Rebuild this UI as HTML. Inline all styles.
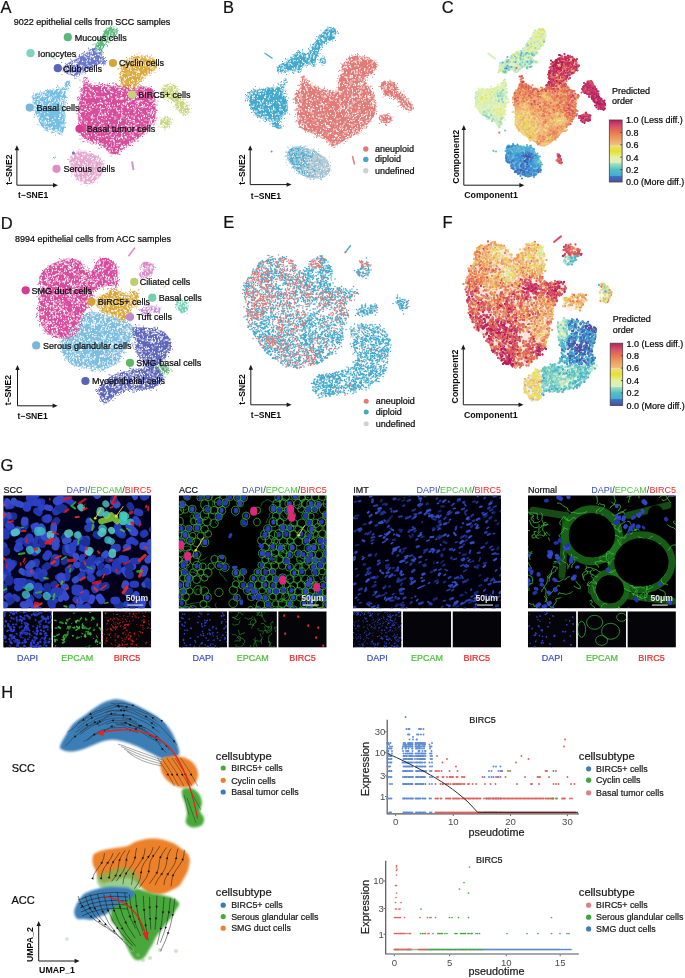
<!DOCTYPE html>
<html><head><meta charset="utf-8"><title>Figure</title>
<style>html,body{margin:0;padding:0;background:#fff;}body{width:685px;height:978px;overflow:hidden;font-family:"Liberation Sans",sans-serif;}svg{display:block;will-change:transform;}</style>
</head><body>
<svg width="685" height="978" viewBox="0 0 685 978" font-family="&quot;Liberation Sans&quot;, sans-serif"><text x="0.6" y="13.3" font-size="16.5" fill="#111" stroke="#111" stroke-width="0.22">A</text>
<text x="223" y="13" font-size="16.5" fill="#111" stroke="#111" stroke-width="0.22">B</text>
<text x="441.8" y="13.1" font-size="16.5" fill="#111" stroke="#111" stroke-width="0.22">C</text>
<text x="0.8" y="228.5" font-size="16.5" fill="#111" stroke="#111" stroke-width="0.22">D</text>
<text x="223.2" y="228.4" font-size="16.5" fill="#111" stroke="#111" stroke-width="0.22">E</text>
<text x="442.6" y="228.4" font-size="16.5" fill="#111" stroke="#111" stroke-width="0.22">F</text>
<text x="0.4" y="471" font-size="16.5" fill="#111" stroke="#111" stroke-width="0.22">G</text>
<text x="1.2" y="697.8" font-size="16.5" fill="#111" stroke="#111" stroke-width="0.22">H</text>
<path d="M106 29C107.5 27.8 110.2 27.2 112 27C113.8 26.8 116 26.7 117 27.5C118 28.3 118.3 30.5 118 32C117.7 33.5 116.5 35.2 115 36.5C113.5 37.8 110.7 38.6 109 40C107.3 41.4 106.2 43.3 105 45C103.8 46.7 103.2 48.7 102 50C100.8 51.3 99.2 52.8 98 53C96.8 53.2 95.3 52.3 95 51C94.7 49.7 95.2 47 96 45C96.8 43 98.8 40.8 100 39C101.2 37.2 102 35.7 103 34C104 32.3 104.5 30.2 106 29Z" fill="#5cba7c"/>
<path d="M63 67C63.7 65.2 67.5 63.5 70 62C72.5 60.5 75.3 59.5 78 58C80.7 56.5 83.7 54.5 86 53C88.3 51.5 90.2 49.9 92 49C93.8 48.1 95.7 47.3 97 47.5C98.3 47.7 99.2 48.6 100 50C100.8 51.4 101.3 54.2 102 56C102.7 57.8 104.5 59.7 104 61C103.5 62.3 100.8 63 99 64C97.2 65 95.2 66 93 67C90.8 68 88.2 68.8 86 70C83.8 71.2 82.2 73.1 80 74C77.8 74.9 75.3 75.7 73 75.5C70.7 75.3 67.7 74.4 66 73C64.3 71.6 62.3 68.8 63 67Z" fill="#6d78cc"/>
<path d="M99 60C99.8 59.4 103.8 60 105 60.5C106.2 61 106.8 62.4 106 63C105.2 63.6 101.2 64.5 100 64C98.8 63.5 98.2 60.6 99 60Z" fill="#6d78cc"/>
<path d="M122 64C123.2 62.2 125.3 60.3 128 59C130.7 57.7 134.7 56.3 138 56C141.3 55.7 145.2 56.3 148 57C150.8 57.7 153.5 58.5 155 60C156.5 61.5 157.7 64 157 66C156.3 68 153 70.3 151 72C149 73.7 146.8 74.3 145 76C143.2 77.7 141.3 80.2 140 82C138.7 83.8 139 86.1 137 87C135 87.9 130.5 87.8 128 87.5C125.5 87.2 123.3 86.8 122 85C120.7 83.2 120.2 79.5 120 77C119.8 74.5 120.7 72.2 121 70C121.3 67.8 120.8 65.8 122 64Z" fill="#dcaa3c"/>
<path d="M162 88C162.8 86.4 164.3 85.2 166 84.5C167.7 83.8 170.3 83.6 172 84C173.7 84.4 175 85.5 176 87C177 88.5 177.2 91 178 93C178.8 95 179.7 97.2 181 99C182.3 100.8 184.7 102.2 186 104C187.3 105.8 188.8 108.2 189 110C189.2 111.8 188.2 113.8 187 114.5C185.8 115.2 183.7 114.9 182 114C180.3 113.1 178.3 110.8 177 109C175.7 107.2 175.2 104.7 174 103C172.8 101.3 171.7 99.8 170 99C168.3 98.2 165.5 98.8 164 98C162.5 97.2 161.3 95.7 161 94C160.7 92.3 161.2 89.6 162 88Z" fill="#cad77e"/>
<path d="M160 121C160.3 119.4 162.5 118 164 117.5C165.5 117 167.9 117.1 169 118C170.1 118.9 170.8 121.3 170.5 123C170.2 124.7 168.4 127.3 167 128C165.6 128.7 163.2 128.2 162 127C160.8 125.8 159.7 122.6 160 121Z" fill="#cad77e"/>
<path d="M33 96C34.2 94.6 37.7 93.3 40 92.5C42.3 91.7 44.1 91.5 46.6 91C49.1 90.5 52.1 89.9 55 89.5C57.9 89.1 62.4 87 64.2 88.6C66 90.2 65.8 94.6 65.8 99C65.8 103.4 64.8 110.2 64.5 115C64.2 119.8 64.8 124.8 64.2 128C63.6 131.2 62.9 134 61 134.4C59.1 134.8 55.9 131.5 53 130.4C50.1 129.3 45.8 129.7 43.4 128C41 126.3 40 123 38.5 120C37 117 35.4 113.5 34.5 110.3C33.6 107.1 33.2 103.1 33 100.7C32.8 98.3 31.8 97.4 33 96Z" fill="#74bfe6"/>
<path d="M64 88.6C63.9 87.3 65.2 83.3 66 82C66.8 80.7 68.3 80.7 69 81C69.7 81.3 70.4 82.5 70 84C69.6 85.5 67.5 89.2 66.5 90C65.5 90.8 64.1 89.9 64 88.6Z" fill="#74bfe6"/>
<path d="M85 77C85.8 77.7 87.3 82.7 89 84C90.7 85.3 92.3 84.9 95 85C97.7 85.1 101.7 84.3 105 84.5C108.3 84.7 112.2 85.8 115 86C117.8 86.2 119.5 85.2 122 85.5C124.5 85.8 127 87.3 130 87.5C133 87.7 137 86.6 140 86.5C143 86.4 145.8 86.4 148 87C150.2 87.6 151.8 87.8 153 90C154.2 92.2 154.6 96.3 155 100C155.4 103.7 155.7 108.3 155.5 112C155.3 115.7 155.6 118.8 154 122C152.4 125.2 149 128 146 131C143 134 139.3 137.3 136 140C132.7 142.7 129.2 144.8 126 147C122.8 149.2 119.7 152.5 117 153.5C114.3 154.5 112.2 154.1 110 153C107.8 151.9 106.3 148.7 104 147C101.7 145.3 98.7 144.2 96 143C93.3 141.8 90.3 141.2 88 140C85.7 138.8 83.5 138 82 136C80.5 134 79.6 131.5 79 128C78.4 124.5 78.5 119.2 78.5 115C78.5 110.8 78.8 106.3 79 103C79.2 99.7 79.3 97.5 80 95C80.7 92.5 82.3 90.5 83 88C83.7 85.5 83.7 81.8 84 80C84.3 78.2 84.2 76.3 85 77Z" fill="#d84c9c"/>
<path d="M72 156C73.3 154.5 75.3 152.5 78 152C80.7 151.5 84.8 152.3 88 153C91.2 153.7 94.5 154.5 97 156C99.5 157.5 101.9 159.7 103 162C104.1 164.3 104.2 167.5 103.5 170C102.8 172.5 100.8 175 99 177C97.2 179 95.2 180.8 93 182C90.8 183.2 88.3 184.2 86 184C83.7 183.8 81 182.5 79 181C77 179.5 75.3 177.3 74 175C72.7 172.7 71.7 169.3 71 167C70.3 164.7 69.8 162.8 70 161C70.2 159.2 70.7 157.5 72 156Z" fill="#e6a7cf"/>
<path d="M115 27h0m-11.5 5.5h0m4.5-3h0m2 2.5h0m2.5-4h0m0.5 0h0m1 3h0m0-3h0m1 1h0m0-1.5h0m0.5 1h0m0-0.5h0m0.5 3h0m0 1.5h0m0.5-4.5h0m1 2h0m0 2h0m-17 7h0m1.5-1h0m0-2h0m1 1.5h0m2 0.5h0m1-3h0m0.5 3.5h0m0-0.5h0m2 1h0m0.5-2.5h0m0-1h0m0.5 0.5h0m0-2h0m1 3.5h0m0.5 0h0m0.5-1h0m0.5-3h0m0 2h0m1 2h0m2.5-4h0m0.5 0.5h0m-19 9.5h0m0.5 0.5h0m1.5-1.5h0m0-0.5h0m0.5-1.5h0m0 2h0m2.5-2h0m1.5 1.5h0m0.5-2.5h0m0.5 4h0m0-1h0m0.5 1.5h0m0.5-2h0m2.5-1.5h0m1-1h0m-19 11.5h0m1.5-0.5h0m3.5 0h0m0.5 0h0m0.5-3.5h0m0 1.5h0m0.5 2.5h0m0-2.5h0m0.5-0.5h0m0 1h0m0.5 0.5h0m0 0.5h0m0.5-1.5h0m0-0.5h0m0.5 3h0m0-0.5h0m0.5 0.5h0m0.5-4.5h0m0 4.5h0m1 0h0m1-3h0m0 3h0m0.5-4.5h0m0 0.5h0m-20 8.5h0m2.5 0.5h0m0.5-2h0m1.5 0.5h0m1.5 1h0m0-2.5h0m0.5 2h0m0-3.5h0m2 4.5h0m0.5-3h0m0-1.5h0m0.5 4.5h0m0.5 0.5h0m0.5-3h0m0-1.5h0m1 4.5h0m2-1h0m1.5-4h0m0 0.5h0m1 0h0m0 2.5h0m0.5 0h0m1-3h0m0.5 3.5h0m0.5-1h0m0 2h0m1.5 0.5h0m37.5 0h0m3.5-0.5h0m0 0.5h0m-72.5 5.5h0m1 0h0m0 1h0m0.5-1h0m1.5 1h0m0-1.5h0m1.5 1.5h0m0.5-2.5h0m0.5 1.5h0m0.5 0h0m1.5-0.5h0m0-1.5h0m0-3h0m1.5 3h0m3 1.5h0m3-4.5h0m1 1h0m0 3.5h0m1-1.5h0m2.5 1h0m0-0.5h0m0.5-2.5h0m2.5-1h0m1 2h0m0.5-0.5h0m0 1h0m3 3.5h0m2-4h0m0 1h0m0 0.5h0m1 0.5h0m0 0.5h0m0.5-1.5h0m0 2.5h0m0.5 0h0m0.5-3.5h0m0.5 1.5h0m0.5 0.5h0m1 1.5h0m0.5-3.5h0m0 3h0m0.5 0.5h0m0 0.5h0m23-2h0m0.5 0.5h0m0-2h0m1.5-0.5h0m0 3h0m0.5 1h0m0.5-2.5h0m0-1h0m1.5 1.5h0m0-3h0m0.5 1h0m0.5 2.5h0m1 1.5h0m1.5-2h0m0 0.5h0m2.5-2.5h0m0.5-0.5h0m0.5 1h0m0.5 2.5h0m0.5-4h0m0 4h0m0.5-5h0m0.5 4.5h0m0.5 1.5h0m0.5-2h0m1-3.5h0m2 5.5h0m0.5-5h0m0-0.5h0m0.5 0h0m1 1.5h0m0-1h0m0.5-1h0m0 0.5h0m0.5 1h0m1.5 0.5h0m1.5 0.5h0m0 1h0m-88 7h0m0.5-0.5h0m0.5-0.5h0m0-0.5h0m0 1h0m0.5 1.5h0m1.5-2h0m1 2h0m1-4h0m1.5 2h0m0.5 1.5h0m0-3.5h0m2.5 0h0m1 0h0m0-0.5h0m0.5-0.5h0m1 0.5h0m0 1h0m0.5-1.5h0m0 4h0m1-4h0m3.5 2h0m1 1h0m0.5-1h0m2 1.5h0m2 1.5h0m1-5h0m1 2h0m2 0.5h0m2 2.5h0m1-4h0m1 1h0m0.5 0h0m6.5-2h0m21.5 4.5h0m0 0.5h0m0.5-5h0m0 1.5h0m0.5 0h0m1-1.5h0m1.5 3h0m0.5-3h0m2 2h0m0.5 1.5h0m0.5-0.5h0m1.5 1.5h0m0.5-4.5h0m2.5 4h0m1.5 1h0m1.5-4h0m1.5 0h0m1 3h0m4-2h0m0 3h0m0-3.5h0m2 0h0m0 0.5h0m0.5 0h0m2-1.5h0m1 2h0m0 0.5h0m1-1h0m0.5-1h0m0 0.5h0m0.5 2.5h0m0 1h0m1.5-2h0m0.5 0.5h0m0 1h0m0.5-4.5h0m0.5 0.5h0m0 4.5h0m1-4h0m0 0.5h0m-90.5 6h0m1-0.5h0m0 1h0m0.5-1.5h0m2-0.5h0m0.5 3.5h0m1 0h0m0.5 1h0m1.5-1h0m1 0.5h0m1-0.5h0m0 1.5h0m0.5-5h0m0 4h0m1-1h0m3.5 2h0m0-3h0m0.5 2.5h0m1 0h0m1.5-2h0m0 1.5h0m0.5-3h0m0 1h0m3-1.5h0m1.5-0.5h0m0-0.5h0m35 4h0m0-3h0m0 4.5h0m0-1h0m1 0.5h0m0-1h0m0.5 0h0m0.5-2.5h0m4.5-1.5h0m2.5 1h0m0.5 0.5h0m1.5 4.5h0m2.5-4h0m1.5 2.5h0m0.5-2h0m1 1h0m0.5-1.5h0m0.5 1h0m0-0.5h0m0.5 1h0m3 2.5h0m2.5-1.5h0m3-2.5h0m0 2h0m2.5-1.5h0m2.5-2h0m-68.5 9.5h0m0 0.5h0m0.5-0.5h0m0.5-0.5h0m0.5 2h0m34-1.5h0m1-3.5h0m1 1h0m2 1.5h0m0.5 0.5h0m0 1.5h0m1-0.5h0m1-1.5h0m2-0.5h0m0.5-1h0m2 0h0m0.5 4h0m1-1h0m1 1h0m0.5-5h0m2.5 0.5h0m1 4.5h0m0-1h0m2.5 1h0m0.5-2h0m0.5 1.5h0m0-3h0m0.5-1.5h0m1.5 1h0m1-0.5h0m-79.5 10.5h0m1.5-0.5h0m1.5-2.5h0m0.5 2h0m0 1h0m0.5-4.5h0m0 4h0m0-1.5h0m0.5 0h0m0-0.5h0m15-3h0m1 2h0m0.5-1.5h0m0.5 4h0m1-4h0m0 4.5h0m0-2.5h0m1.5 0.5h0m3.5 0.5h0m0.5 2h0m0-1h0m0.5 0.5h0m0-0.5h0m0-1.5h0m0 0.5h0m3 0.5h0m0 1h0m1 0.5h0m2-1h0m1 0h0m1.5 0h0m1 1.5h0m1-1h0m0.5-1.5h0m0 0.5h0m1.5 1h0m1 0.5h0m0.5 0h0m1 0.5h0m1.5-0.5h0m1-1h0m0.5 0.5h0m1 0h0m0-1h0m0.5 1h0m2 0h0m0.5 1h0m1.5 0h0m0.5 0h0m0.5-1.5h0m2.5-4.5h0m1 4h0m0.5 2h0m1-1h0m0.5-4.5h0m1 2h0m0-0.5h0m0.5 0.5h0m2.5 3h0m0.5 0.5h0m2-4h0m0-1h0m0.5 5h0m1-2h0m0.5 1h0m0.5 0h0m0.5-0.5h0m0-1h0m0.5 1.5h0m1-3h0m2 3.5h0m0 0.5h0m0.5-1h0m0.5-3h0m0.5 2h0m0-1h0m0 1.5h0m0.5-3.5h0m0.5-0.5h0m0 3h0m0.5 2h0m0.5-3.5h0m0 1.5h0m3 2.5h0m2.5 0h0m19.5 0h0m1.5-2h0m2 1h0m1-0.5h0m0-0.5h0m0.5 0h0m0.5-0.5h0m0.5 1h0m0.5-0.5h0m0 0.5h0m1.5-0.5h0m1.5 1.5h0m-136 6h0m4.5-1.5h0m0.5 1.5h0m2-1h0m0.5 1h0m1-1h0m6.5-1.5h0m0.5 1.5h0m1-1.5h0m1-0.5h0m2.5 2h0m0.5-1h0m1-0.5h0m1.5-1.5h0m1 2.5h0m1-0.5h0m0.5 1.5h0m0-3.5h0m0 2h0m1 0h0m0-3h0m1 1h0m1 1.5h0m0-2h0m1 0h0m13.5 4h0m1-1h0m0 1.5h0m0.5-1h0m1-1.5h0m2.5 2h0m0-2.5h0m3-2h0m1 1.5h0m0.5 1h0m1.5 0h0m1 1.5h0m0.5-1h0m1 2h0m2.5-1h0m4.5-3.5h0m0 1.5h0m0.5 2.5h0m2.5-2.5h0m0 1.5h0m0-0.5h0m1 1.5h0m2-3h0m1-1h0m0.5 2h0m1-1.5h0m0.5 3h0m0.5 0.5h0m1 0h0m1 0.5h0m2.5-5h0m0 0.5h0m0.5-0.5h0m2.5 2.5h0m0.5-2.5h0m0.5 2.5h0m1-0.5h0m0-2h0m1 5h0m0.5-2h0m1 1h0m1-3.5h0m0.5 0.5h0m2.5 2.5h0m0-1.5h0m1.5 2.5h0m1-4.5h0m0.5 1.5h0m0.5-0.5h0m0.5-0.5h0m0-0.5h0m0.5 2h0m0-1.5h0m1-0.5h0m0.5 1.5h0m0.5 3h0m1-0.5h0m1.5-1.5h0m0-2h0m1-0.5h0m0.5 2h0m0.5-1.5h0m0.5-0.5h0m2.5 2h0m2 0.5h0m1 2.5h0m0.5-0.5h0m0-3h0m1.5-1h0m0.5 0h0m1.5-0.5h0m5 5h0m8.5-2h0m0.5 0h0m0.5-1h0m0-0.5h0m0 3.5h0m1-5h0m2.5 0h0m0 2h0m1-1.5h0m1.5 2.5h0m0.5 1.5h0m1-4h0m2 4.5h0m1.5-2.5h0m0-2h0m1 4h0m0-2h0m1 0h0m0.5-1.5h0m0.5 0h0m1 4h0m0-0.5h0m0.5 0h0m-144.5 4h0m1-0.5h0m0 1.5h0m1.5-0.5h0m1.5-1.5h0m0.5-1.5h0m0.5 5.5h0m0.5 0h0m0-3.5h0m1-2.5h0m0.5 4.5h0m0-3.5h0m0.5 2h0m0-3h0m0.5 3.5h0m0.5-2.5h0m0.5 1h0m1 1.5h0m0.5-1h0m0-1h0m0.5-1.5h0m0.5 3.5h0m1 0h0m3 2h0m0-3.5h0m0 4h0m0.5-1.5h0m0.5 1.5h0m1-2h0m0.5 1h0m2.5-2h0m1.5-1h0m5 3h0m0.5-0.5h0m1-3h0m0.5-1h0m0.5 5h0m0-5.5h0m0.5 5.5h0m2-4h0m0 4h0m13 0h0m1-3h0m0.5 0.5h0m0-1h0m0.5 3h0m1-5h0m1 0.5h0m0-0.5h0m1 3.5h0m1.5-1h0m0.5-1h0m0.5-1.5h0m0 4.5h0m3-4.5h0m1 1.5h0m0.5 0.5h0m0.5 2.5h0m3.5-2h0m0.5 1.5h0m0.5 1h0m0-4h0m1.5 2.5h0m2 0.5h0m4 0h0m1 2h0m0.5-2h0m0.5 1.5h0m0.5 0h0m2-2.5h0m1 0.5h0m0 1h0m0-2h0m2.5-0.5h0m0.5 0.5h0m0-0.5h0m0.5 4h0m4-2h0m0-3.5h0m0 4.5h0m1.5 0.5h0m0.5 0h0m2 0.5h0m1-3.5h0m0 2.5h0m0 0.5h0m0.5-5.5h0m0 6h0m0-5.5h0m0.5 0h0m0 4h0m1 0.5h0m0 1h0m3-1h0m0.5-1.5h0m1-2.5h0m2.5 0h0m1 0.5h0m1 0h0m0-0.5h0m2.5 5h0m2-3.5h0m0 2h0m1-1h0m1 0.5h0m2.5-4h0m0.5 2.5h0m0.5 2h0m2-4h0m6.5 1.5h0m1.5-2h0m1 0.5h0m0 1h0m0.5-1h0m0 3.5h0m0 2h0m8-6h0m1 2h0m0.5-0.5h0m0.5 0.5h0m1.5 0h0m0 3.5h0m0.5-3.5h0m0 3h0m1-2.5h0m0.5 0.5h0m0.5 2h0m2-2h0m1 0h0m3.5-0.5h0m0.5 3.5h0m2-3.5h0m1-1h0m0.5 0.5h0m1.5 2h0m-146 7h0m0-3h0m0.5 0.5h0m0-1h0m0.5 1h0m0.5-2h0m2.5 4h0m0-4h0m0 2.5h0m2.5 2.5h0m0.5-3h0m0 2.5h0m1.5-2h0m0 1h0m0.5 1h0m3-3.5h0m0.5 0.5h0m2.5-1h0m0 4.5h0m1-1h0m1-3.5h0m0 0.5h0m0.5 3.5h0m1.5-1.5h0m2-1.5h0m1-1h0m1.5 2.5h0m1-3h0m0.5 1.5h0m0.5 0h0m1.5 3h0m0-1.5h0m0.5-3h0m0 1.5h0m0.5 0h0m1 1.5h0m0.5 1.5h0m0-3.5h0m2 3h0m0-2h0m0-2h0m0 3.5h0m0.5-3h0m0 0.5h0m13.5 0.5h0m0.5-1h0m1.5 0.5h0m2 4h0m0.5-3.5h0m1.5 0.5h0m0.5 1.5h0m7.5 0h0m2 1.5h0m2.5-0.5h0m1-0.5h0m1.5-0.5h0m0.5-2.5h0m0.5 2.5h0m1 0.5h0m0.5 0.5h0m3-2h0m0.5 0.5h0m0 0.5h0m1-0.5h0m2.5 0.5h0m2-2h0m5.5-1.5h0m0.5 4h0m0.5 1h0m1.5-0.5h0m3.5-0.5h0m0.5-0.5h0m0.5 1h0m0 0.5h0m2-1.5h0m0 1h0m1-2.5h0m1.5-2h0m0 2.5h0m0-0.5h0m1-0.5h0m1.5 0h0m1-1.5h0m1.5 0h0m2 2.5h0m1.5 1.5h0m0-2.5h0m1 2h0m0-1.5h0m0.5 3h0m0.5-2.5h0m0.5-1h0m1.5-0.5h0m1 0.5h0m0.5 3.5h0m3.5-2h0m1.5 1h0m1.5-4h0m1 1.5h0m0.5 0h0m1.5 0h0m0.5 3h0m0.5-4.5h0m0.5 3.5h0m1-1h0m0 1h0m0.5-3h0m0.5 3.5h0m17.5-2h0m1 1.5h0m0-0.5h0m1 1h0m1-1.5h0m3 0.5h0m0-2.5h0m0 4.5h0m0.5-4.5h0m0.5 0.5h0m1.5 0h0m0.5 0h0m4 3.5h0m-152 1h0m0 0.5h0m1 3.5h0m0-1h0m0 0.5h0m0-3.5h0m0 1h0m0.5 3h0m0-3.5h0m0.5 5h0m0-1h0m0.5-3h0m1-0.5h0m1.5 1.5h0m1-0.5h0m0.5 2h0m1-0.5h0m2-3h0m0 5h0m1-1.5h0m0.5-0.5h0m1.5 1h0m2-4h0m1 2.5h0m3-1h0m2 1h0m2.5 0.5h0m0 1h0m0.5-4h0m1.5 2h0m0-2.5h0m2.5 4h0m1-4h0m0 1.5h0m1.5 1.5h0m0.5 1h0m0-3.5h0m0.5 3h0m14-2.5h0m1-1h0m0 5.5h0m2-2.5h0m2.5 1.5h0m1 0h0m0.5-0.5h0m0.5-2.5h0m1 4h0m2-2h0m0.5-2.5h0m0 2.5h0m1 1.5h0m0.5-5h0m1 2h0m0.5 0h0m1.5-2h0m2.5 2h0m3 0.5h0m0.5 3.5h0m0-4.5h0m0.5 2.5h0m1.5-0.5h0m1.5 0h0m1.5-3h0m1.5 1.5h0m1-1.5h0m0.5 3h0m1-2h0m0-1h0m0.5 2h0m1 1h0m1.5-3.5h0m1.5 3h0m0.5-2.5h0m2 3.5h0m0.5 1.5h0m1 0.5h0m1.5-0.5h0m2-1.5h0m0-3h0m0.5 4.5h0m0.5-3.5h0m3-2h0m2 0.5h0m0 1.5h0m0 1h0m1-0.5h0m2-2h0m1 3h0m1.5-3.5h0m0.5 2.5h0m0.5 1.5h0m1 2h0m0.5-5h0m0 4.5h0m2-4.5h0m1 3.5h0m1 1h0m0.5-3.5h0m1.5-0.5h0m1 0h0m0.5-1h0m1 1.5h0m0.5-2h0m1.5 2.5h0m1 3.5h0m0.5-4.5h0m2 1.5h0m0.5-1h0m1.5-1.5h0m0 5.5h0m0.5-1.5h0m1 1h0m0.5 0.5h0m0-5.5h0m1 0.5h0m0.5 4.5h0m21.5-4h0m0.5 2h0m1.5 1h0m0.5-1h0m0.5-2h0m0.5 1.5h0m2.5 2h0m1.5-4.5h0m0.5 2h0m0-2.5h0m0.5 2h0m0.5-2h0m0.5 0h0m0.5 5.5h0m0-3h0m1.5 3.5h0m-151 4.5h0m0.5-1h0m1 0h0m2.5-2h0m3.5 1.5h0m3-1.5h0m12.5 4h0m0-0.5h0m0-1.5h0m0.5 1h0m0 0.5h0m0-4.5h0m2 1.5h0m1.5 1.5h0m0-2h0m0.5-1h0m13 1.5h0m2 0.5h0m0.5 1h0m0 0.5h0m0-3h0m0 4.5h0m0.5-2h0m0.5-2.5h0m0.5-0.5h0m1.5 0h0m3 1h0m3-1h0m3 4.5h0m0.5-1h0m6.5 0.5h0m0-1.5h0m1.5 1.5h0m0.5-3.5h0m1 2h0m0.5 1.5h0m1.5-0.5h0m1-1.5h0m0.5 0h0m0 0.5h0m0.5 1.5h0m1.5-3.5h0m1 1.5h0m3.5 2.5h0m0.5-2.5h0m0 2.5h0m6.5-3.5h0m0 0.5h0m2.5 0.5h0m0.5-1h0m0 2h0m0 1h0m2 0.5h0m2-3h0m2.5-0.5h0m1 3h0m2.5 0.5h0m2-3.5h0m2 2h0m2.5-1.5h0m2.5-1.5h0m2 3h0m1 2h0m0.5-1h0m0 1h0m2-0.5h0m1.5-3h0m1-0.5h0m1.5 1.5h0m0.5-2h0m0.5 1h0m1 1.5h0m0 1h0m1-1.5h0m0-1h0m0.5-0.5h0m26.5-0.5h0m1 1h0m1-1.5h0m0 0.5h0m0.5 0h0m0.5 0.5h0m1 0.5h0m1.5 1h0m0-0.5h0m0.5 0.5h0m1-2h0m-149.5 5h0m0 2h0m0.5-1h0m1-1h0m1 4h0m0.5 0h0m1-2.5h0m1 3.5h0m2-1h0m0 1h0m0.5-1.5h0m1 2.5h0m0-1h0m0.5-5h0m0 0.5h0m1-0.5h0m0.5 6h0m0-5h0m0 2.5h0m2 2h0m2-3h0m1.5 2h0m1-3.5h0m3.5 0.5h0m1 0h0m2.5 2.5h0m0.5-1.5h0m1-2h0m0.5 0.5h0m1.5 1h0m14 4h0m0-1h0m1.5-0.5h0m0-3h0m0.5-1h0m0.5 1.5h0m3 4h0m0-1h0m2-0.5h0m4.5 0h0m0-4.5h0m1 0.5h0m0 3.5h0m1.5-3h0m3.5 1h0m0-2h0m1 3.5h0m1 1h0m2 1.5h0m0.5-4.5h0m4.5 0.5h0m2 4h0m0-1h0m0.5 0.5h0m1-4h0m5 0.5h0m0-2h0m3.5 5h0m0.5-1.5h0m1.5 1h0m0-2h0m0.5 1h0m0-2.5h0m1-1h0m4.5 0.5h0m0 3.5h0m0.5-4h0m1.5 1h0m0.5 1.5h0m1 2h0m0.5-2h0m1.5 1.5h0m1.5-0.5h0m0.5-3.5h0m0 5.5h0m0.5-1.5h0m0-3h0m4 0h0m1 1h0m2-0.5h0m0-1h0m0.5 4h0m4-1.5h0m3-2.5h0m0.5 5.5h0m0.5-1.5h0m0.5-2.5h0m0.5 1h0m0 0.5h0m0.5 2h0m0-1.5h0m0.5-1.5h0m1.5-1h0m1 1.5h0m6 1.5h0m2-2h0m0.5-0.5h0m1.5 2.5h0m1.5-1h0m0-1h0m0-0.5h0m0.5-0.5h0m1 0h0m1 0h0m0.5 4.5h0m0-3h0m-124.5 6.5h0m0-0.5h0m0.5-2h0m0 3h0m2-0.5h0m1.5 1h0m0 1h0m0.5-0.5h0m1.5 0h0m1-0.5h0m1-0.5h0m3-3h0m4.5 4h0m1-3h0m1.5 1h0m0.5 0h0m0-1.5h0m16.5 2.5h0m0-0.5h0m1-2.5h0m1.5 2h0m4.5-2h0m0.5 3h0m6.5-1.5h0m0.5 0h0m1-2h0m3.5 4h0m0.5-1h0m0 1.5h0m0.5-3h0m1-0.5h0m1 3h0m1.5 1h0m0-5h0m1 2.5h0m4 0.5h0m2-1.5h0m4 0h0m3.5-0.5h0m0 3h0m0-1.5h0m1-2.5h0m3 3h0m0.5-0.5h0m1 2h0m2.5-3h0m1 0.5h0m1 0.5h0m1 2.5h0m0-1h0m0-4h0m0.5 2.5h0m1 2h0m1-2h0m0.5 2.5h0m0-4h0m2 1.5h0m1-0.5h0m1.5-1.5h0m0 4.5h0m0-1h0m0.5 0.5h0m1-4.5h0m1 0h0m2 3.5h0m0.5 1h0m3-4.5h0m2.5 1.5h0m1 1.5h0m0 1.5h0m1-1.5h0m0-0.5h0m0.5-2h0m0.5 2.5h0m1.5-2.5h0m0.5 1.5h0m1.5-2h0m8.5 2h0m0.5 0h0m0 0.5h0m1-2.5h0m0 1h0m0.5-1h0m0 3h0m0.5-1.5h0m0.5-0.5h0m1.5 2.5h0m0-1.5h0m1 0.5h0m2-0.5h0m-117.5 3.5h0m0.5 1.5h0m3 0h0m1 1h0m0-2h0m1 3h0m0-2.5h0m0 1h0m1.5 0.5h0m0 1.5h0m0.5-1h0m0.5-2.5h0m0 2.5h0m1 1h0m1 0h0m0-3h0m17.5 1h0m1 0h0m1-1h0m0 2h0m0-1h0m1-1.5h0m0.5 3h0m2 1h0m2-1.5h0m1-3h0m0.5 2.5h0m3-0.5h0m0.5-2h0m0 6h0m3-1.5h0m0.5-2.5h0m0-0.5h0m0.5 4.5h0m0.5 0h0m3.5-5.5h0m3 2h0m1.5-2h0m0 2h0m4 0.5h0m1-2h0m0.5-1h0m0.5 6h0m1-1h0m1-1.5h0m0-2.5h0m2-1h0m2 5h0m1.5-1.5h0m0.5-2.5h0m1 0.5h0m2.5 3h0m0.5 1.5h0m0-6h0m0.5 3.5h0m1-2.5h0m0 1.5h0m1 3h0m3-4h0m0.5 1h0m0.5-1.5h0m1.5 3h0m0-3h0m0.5 1h0m0.5 4h0m0-4h0m2 4h0m0-2h0m2-1.5h0m1 0.5h0m3 1h0m2-0.5h0m0 2.5h0m0.5-5h0m0.5 0h0m1 1h0m4 0.5h0m-60.5 5h0m0-0.5h0m0.5 1h0m1.5-1.5h0m1 4h0m4 0.5h0m2-2h0m2.5 0.5h0m0-2h0m2 0h0m0.5 0h0m2.5 0h0m2.5-0.5h0m1 3.5h0m0.5 0h0m0-4h0m3.5 4.5h0m1 0h0m0.5-2.5h0m1 2h0m0.5-2h0m0.5 3h0m0.5-4.5h0m2 3h0m0.5-2h0m1.5 2h0m0.5-1h0m0.5 0.5h0m1.5-1h0m0.5-1h0m0.5 0.5h0m0.5 0.5h0m0 1h0m1.5 1.5h0m1-3h0m1-0.5h0m0 1h0m0.5 0.5h0m3 0.5h0m3-2h0m0-0.5h0m1.5 0.5h0m1 2.5h0m1 0h0m0.5-1.5h0m3.5-2h0m0.5 1.5h0m-46.5 4h0m0.5 0h0m0.5 1h0m0.5-0.5h0m1 1.5h0m0.5 3h0m0.5-3h0m0-2h0m0 3h0m1-2h0m1 1.5h0m1.5 0h0m1 1h0m0.5 2h0m0.5-2.5h0m3.5 0.5h0m0.5 1.5h0m2.5-3h0m2 3h0m2-5h0m0.5 5h0m0.5-4h0m0 2h0m2.5-0.5h0m0 2h0m2-2h0m1-0.5h0m1.5 2.5h0m0 1.5h0m0-0.5h0m1-0.5h0m0.5 1h0m1-2.5h0m0.5 2h0m1-0.5h0m0 0.5h0m0.5 0h0m1-0.5h0m0.5-0.5h0m0-1h0m2-3h0m0 1.5h0m0.5-1h0m0 2h0m1-0.5h0m1-2.5h0m1.5 0h0m-53.5 11.5h0m26-5h0m0.5 0.5h0m1.5 2.5h0m1-2h0m0.5 2h0m0.5 1h0m0-3.5h0m2 1h0m0.5 2h0m3.5-2.5h0m0 2.5h0m0.5-0.5h0m1-1.5h0m2 1h0m0 1.5h0m1-4h0m0.5 3h0m1-3h0m0.5 1h0m-51.5 10.5h0m1.5-2.5h0m1 0h0m0 1h0m0-2h0m0.5 1h0m3-1h0m0-1h0m1 1.5h0m3.5 1.5h0m0 0.5h0m1-4h0m0 4h0m1.5-3.5h0m1-0.5h0m2.5 3.5h0m0.5-0.5h0m1-3h0m2 3.5h0m1.5 1.5h0m0-3.5h0m1 3h0m2-3h0m1 3.5h0m0.5-1h0m1.5 1h0m1-0.5h0m10.5-5.5h0m-40 11.5h0m1-2h0m1 0h0m1-0.5h0m0.5 1.5h0m1.5-1.5h0m1.5-2h0m2 1h0m0 2h0m1 0h0m0 0.5h0m3.5 0.5h0m0.5 0.5h0m2-2.5h0m1.5 0.5h0m0.5 1.5h0m4-4.5h0m0 4.5h0m1.5-2.5h0m1 2.5h0m2-3.5h0m1.5 0h0m0.5 1h0m0.5-1.5h0m2 1h0m0.5-0.5h0m1 2h0m0.5 0h0m0.5 1h0m-31 2h0m1 1.5h0m0 2.5h0m0.5 0h0m2.5-0.5h0m1-2.5h0m1.5 4.5h0m2-3h0m0 2h0m0.5 0h0m1.5-3.5h0m2 0.5h0m0-1.5h0m0.5-0.5h0m2 4h0m0.5-2h0m0.5 0.5h0m2-1.5h0m0.5 5h0m0-3.5h0m0.5 0.5h0m3.5-1.5h0m0 4.5h0m0.5-6h0m2 5h0m1-2h0m0 1.5h0m1-3h0m2.5 1.5h0m0.5-2.5h0m0 3h0m0-2.5h0m0 3h0m0.5-1.5h0m0.5-2h0m0-0.5h0m0 3.5h0m-30.5 5.5h0m1-0.5h0m0.5-1.5h0m0 0.5h0m0 1h0m1.5 0.5h0m2.5-1.5h0m0 1h0m0-2h0m0.5 2.5h0m2-2h0m2 1.5h0m0.5 0.5h0m4 2.5h0m1.5-2.5h0m1 2.5h0m0-4h0m1 3h0m0.5-4h0m2 4.5h0m1-0.5h0m1-1.5h0m1 2h0m1.5 0.5h0m0.5-4h0m0.5 3.5h0m0.5-2.5h0m1.5-1.5h0m-24 6h0m2.5-1h0m0 1.5h0m0.5 2h0m0-1.5h0m0 0.5h0m0.5 1.5h0m2 1h0m0.5-0.5h0m0-4.5h0m0 5h0m0.5-2.5h0m0.5 3h0m0-3.5h0m0.5 1.5h0m0.5-1.5h0m2.5-0.5h0m0 3h0m0 1h0m0.5-4h0m0.5-1h0m0 5h0m1 0.5h0m0-1h0m0.5 0.5h0m1.5-3.5h0m1-1h0m0.5 0h0m0 3h0m0.5-4h0m0 4.5h0m0.5 0h0m3.5-4.5h0m0.5 0h0m1 0h0" stroke="#fff" stroke-width="1.3" stroke-linecap="round" fill="none"/>
<path d="M107.5 30.5h0m4-0.5h0m1.5 2h0m0.5-4h0m0.5 0.5h0m0.5 3h0m1.5 1h0m-12.5 5h0m0.5-4.5h0m5.5 1h0m2.5-0.5h0m0.5 1h0m3.5-1.5h0m-17 7.5h0m5 4h0m0-4.5h0m1 1h0m-9 8.5h0m1 0.5h0m4 0h0" stroke="#a5d9b7" stroke-width="1.2" stroke-linecap="round" fill="none"/>
<path d="M110.5 26.5h0m1-1h0m-7.5 5.5h0m0 0.5h0m0.5 1h0m2.5-4.5h0m1.5 0.5h0m0.5-0.5h0m2.5 0h0m4.5 4h0m1 0h0m0-1h0m1-0.5h0m-19 8.5h0m0-1h0m3.5-0.5h0m2-3.5h0m4 5h0m3-1.5h0m0 0.5h0m3-2.5h0m-21.5 9h0m2-0.5h0m1 0h0m1-0.5h0m0.5-1h0m1-0.5h0m0-2h0m0.5-0.5h0m0.5 2.5h0m0.5 0.5h0m4.5 2h0m2-2h0m0 2h0m0.5-3.5h0m1 0.5h0m0.5 1h0m1-2.5h0m0.5 2h0m-15 8h0m0.5-4h0m0 2h0m0-0.5h0m0.5 1.5h0m0 1.5h0m0.5-2h0m0.5-1.5h0m0-0.5h0m0 4.5h0m1.5-1.5h0m2.5 0.5h0m0.5 1h0m0.5-3h0m0.5 3h0m1-4h0m1.5-2h0m2.5 1.5h0m0-1h0m-12 7h0m2 0.5h0m3 0.5h0m1-0.5h0m0.5-1h0m1.5 0.5h0" stroke="#5cba7c" stroke-width="1.2" stroke-linecap="round" fill="none"/>
<path d="M99 50h0m0.5-0.5h0m-17.5 6h0m2-0.5h0m6-0.5h0m4 1h0m3.5-2.5h0m-24.5 7.5h0m1 0h0m2 2h0m0.5-0.5h0m1.5-1.5h0m1.5-2.5h0m3 2h0m1.5 1.5h0m1.5-4h0m0.5 3.5h0m1-4h0m0 0.5h0m0 5.5h0m2-5.5h0m7 5h0m0.5-3.5h0m0.5 2.5h0m3.5-0.5h0m1.5-1h0m-35.5 5.5h0m1.5-2h0m1.5 1.5h0m1.5 2.5h0m0.5-1h0m3 1h0m0.5-1h0m0.5-0.5h0m1.5-0.5h0m2.5 3h0m1.5-3.5h0m2.5 3h0m3.5-3.5h0m5 1.5h0m4.5-0.5h0m-30 4.5h0m0-1h0m12.5 4h0m3.5-3h0m0.5 2h0m1-2.5h0" stroke="#afb5e3" stroke-width="1.2" stroke-linecap="round" fill="none"/>
<path d="M88.5 48h0m0.5 2.5h0m0-1.5h0m1.5 0.5h0m1.5 0h0m0.5-1h0m0.5 0.5h0m1 0h0m0.5 0.5h0m1.5-1.5h0m1.5 1h0m1.5 0.5h0m0.5 1h0m2 0h0m-25.5 6h0m3 0h0m0-0.5h0m0.5 0.5h0m0-1h0m0-1h0m2-0.5h0m1-0.5h0m0.5 0h0m1 1h0m0-2h0m0.5-1h0m16 2.5h0m0.5 0.5h0m0-2.5h0m2 2h0m0.5 2.5h0m-42 6h0m7.5 0.5h0m1.5-0.5h0m0-3.5h0m0.5 2.5h0m0.5 1.5h0m0-3h0m1 1.5h0m3-1h0m0.5-3h0m0.5 3h0m4-3.5h0m18.5 4h0m1-0.5h0m0.5 1h0m0 0.5h0m2-5h0m0 3h0m0.5-2.5h0m0.5 2h0m0-1h0m0 3h0m0 1h0m0.5 0.5h0m0.5-4.5h0m0 2.5h0m0 0.5h0m0 0.5h0m1-4.5h0m1 3h0m-43.5 7.5h0m2.5-4.5h0m20.5 4.5h0m1.5-2h0m1 2h0m2-1h0m0 1.5h0m0.5 0h0m1.5-3h0m0.5 1h0m1 1h0m3-3.5h0m4.5 0h0m2 1h0m0.5-0.5h0m1-1h0m0.5 0.5h0m-45.5 6h0m1.5-1h0m0.5 5.5h0m1-3.5h0m2 1.5h0m0.5-0.5h0m0.5-0.5h0m0-1.5h0m1 3h0m9.5-0.5h0m3 2.5h0m0-1h0m0 0.5h0m2.5-0.5h0m1-2h0m2-3h0m0 3.5h0m0.5 0.5h0m1.5-2h0m4-1h0m-18 5.5h0m1 0h0m0.5 0.5h0m0 2h0m1.5 0.5h0m0.5-2.5h0m1.5 0.5h0" stroke="#6d78cc" stroke-width="1.2" stroke-linecap="round" fill="none"/>
<path d="M139 56h0m-9 4.5h0m1.5-1h0m0.5-0.5h0m2.5-0.5h0m0.5 4h0m1.5 0.5h0m0.5 0h0m2.5 0h0m5 0h0m0.5-5h0m7.5 4.5h0m2-2h0m-30.5 4h0m0.5 1h0m4 3h0m0.5-0.5h0m1 0.5h0m7.5-4h0m4 0h0m2.5 2h0m2 0.5h0m1 1h0m0.5-3h0m4 0.5h0m1 0.5h0m0.5-1.5h0m3-0.5h0m-31.5 6h0m0 3.5h0m1 0h0m1.5-1.5h0m1 2.5h0m0-1.5h0m1-1h0m0.5 1.5h0m3 0h0m0-2h0m4.5-2.5h0m1 1h0m1-1h0m0 5.5h0m2.5 0.5h0m0.5 0h0m0.5-5h0m5 0.5h0m-23.5 7.5h0m4-2h0m5.5-0.5h0m1.5 5h0m1.5-5h0m1 4.5h0m0.5-4h0m1 0h0m-17 9h0m1-4h0m2 2h0m2-1h0m2.5 0.5h0m1.5 1h0m1-2h0m0 3.5h0" stroke="#ecd094" stroke-width="1.2" stroke-linecap="round" fill="none"/>
<path d="M131.5 56.5h0m1 0h0m2-1h0m2.5-1.5h0m2-1h0m2.5 2.5h0m1.5-0.5h0m3 0.5h0m1.5 1h0m0-1.5h0m2.5 1.5h0m1.5-1.5h0m-30.5 6h0m4 0h0m0.5 0h0m1-3.5h0m3 0.5h0m2.5 0.5h0m1 2h0m11-1h0m1.5-2.5h0m4 0h0m2 4h0m1.5-3.5h0m0.5 3.5h0m1-1h0m0.5 1h0m0.5 0.5h0m3 1.5h0m-40 5.5h0m1.5-0.5h0m0-1.5h0m1 0h0m0.5-1.5h0m0-0.5h0m3.5 1h0m28 2.5h0m3-0.5h0m0-1h0m1 1.5h0m0.5-2.5h0m0-1h0m0.5 0.5h0m1.5 3.5h0m-41.5 0.5h0m1 4.5h0m1 1h0m0.5-2h0m0.5-0.5h0m1 1.5h0m0-4.5h0m22.5 6h0m2.5 0h0m2.5-1.5h0m0.5-0.5h0m1.5 0h0m1.5-3h0m0 1h0m1-2h0m0.5 1h0m0.5 2.5h0m0-3.5h0m-35.5 8.5h0m0 3h0m21-1.5h0m1 1h0m2 0h0m0.5-2h0m1.5 0h0m0.5-2h0m4-0.5h0m-29.5 8.5h0m0.5-2.5h0m1 5.5h0m1 0h0m1 0h0m6.5-0.5h0m3-0.5h0m1.5 0h0m1-0.5h0m1.5-2h0m0.5 1.5h0m1-3.5h0m0.5 3h0m1-3.5h0m0.5 0.5h0m0.5 0h0m-16.5 6.5h0m5 3h0m0-3h0m0.5-0.5h0m1 0.5h0m0.5 0h0m0.5 0.5h0m3 3h0m0.5-3h0m0 2h0" stroke="#dcaa3c" stroke-width="1.2" stroke-linecap="round" fill="none"/>
<path d="M165.5 85.5h0m3 1.5h0m3.5-0.5h0m2 0h0m-5.5 1h0m1.5 0h0m6.5 5h0m-13 4h0m1-1h0m1 1h0m0.5-2h0m0-1h0m2 1h0m1 0h0m0.5 0h0m3 2.5h0m1-4h0m1 5h0m4.5-1h0m1 0h0m-3 7h0m8-0.5h0m-7 5h0m1-3h0m4 3.5h0m0.5 0.5h0m1 1.5h0m-2 2.5h0m1.5-1.5h0m-21.5 8h0m3.5 0.5h0m0.5 1h0m2 0.5h0m-7 2.5h0m5 2h0" stroke="#e2e9b8" stroke-width="1.2" stroke-linecap="round" fill="none"/>
<path d="M163.5 85h0m2.5 0h0m2-0.5h0m1.5 1.5h0m1-2.5h0m3.5 2h0m0.5 0h0m0 1.5h0m1-1h0m0.5 0.5h0m1.5 0h0m-18 5.5h0m2.5-2.5h0m1-1h0m2 1h0m11-1.5h0m1.5 3.5h0m0-3h0m0 4h0m0.5 0h0m0-2.5h0m1 2.5h0m0-3.5h0m-18.5 7.5h0m0.5 0h0m0.5 0h0m0-3h0m2 4.5h0m2.5-2.5h0m12-1.5h0m0-0.5h0m1.5 5h0m0-2.5h0m0.5 2h0m2.5-0.5h0m0.5 1.5h0m-18.5 0.5h0m3.5 1h0m0.5 0.5h0m3 1h0m0 1h0m2.5-1.5h0m7 1h0m1.5-3h0m1 0.5h0m1.5-0.5h0m1 5h0m1-2h0m-13.5 4h0m1.5 1h0m0.5-2h0m0.5 4h0m0.5-1.5h0m0-1h0m1 2h0m0-3.5h0m8.5 0.5h0m0.5-0.5h0m1 0h0m0.5-0.5h0m0 4h0m1 0h0m0.5-4h0m0 4h0m0 0.5h0m2-1h0m-26.5 7.5h0m0.5 0h0m2 0.5h0m12.5-3.5h0m1-0.5h0m1 0h0m1 2.5h0m0.5 0.5h0m0-3h0m2 3h0m1.5-4h0m2 0h0m0 1h0m2-0.5h0m-31 5.5h0m1 4h0m0.5-1h0m6-3.5h0m0.5 2h0m0-1h0m0.5 0h0m1.5 0h0m0.5 1.5h0m0-1.5h0m1 4.5h0m1-3h0m-14.5 7.5h0m1-0.5h0m1.5-3h0m0.5 1h0m0 3h0m5-1h0m1.5-1h0m0.5-0.5h0m1.5 3h0m0-1.5h0m0 0.5h0m2-3h0m-7 5h0m1 1h0" stroke="#cad77e" stroke-width="1.2" stroke-linecap="round" fill="none"/>
<path d="M65 87h0m4-2h0m-25 7.5h0m16.5-3.5h0m-25 7h0m6.5-1.5h0m2.5 3.5h0m2-4h0m0-0.5h0m1 0h0m2 0h0m0.5-0.5h0m2 4.5h0m0.5-2.5h0m2.5 3.5h0m1-3h0m0.5 2.5h0m1.5-4h0m2 4.5h0m0.5-4.5h0m1 1.5h0m1 0h0m1 3.5h0m1-1.5h0m-31.5 3h0m2 4h0m2-2.5h0m2-1.5h0m4.5 1h0m1.5 2h0m1.5-4h0m3.5 0.5h0m0 2h0m3.5 0h0m5-2h0m1 2h0m0 0.5h0m0 1h0m1-4h0m4 5h0m0-4h0m-29.5 7h0m0-0.5h0m2.5-2h0m3 6h0m0-3h0m0 0.5h0m1-2.5h0m1 1.5h0m0.5 3h0m1-3h0m1-2h0m1 0.5h0m0.5 1.5h0m1-2h0m2 0.5h0m2.5 3h0m2 0.5h0m1-4h0m2 2h0m5 2h0m-22 6h0m0-1.5h0m1-1h0m7.5 0h0m0.5 0.5h0m6 2h0m5.5-2.5h0m0.5 2.5h0m3.5-4h0m-27 5.5h0m4.5 5.5h0m0.5-3h0m2.5-2.5h0m1 6h0m3.5 0h0m0-0.5h0m2.5-1h0m8-1h0m0.5-3.5h0m2.5 1h0m1 0h0m-20 6h0m1 3.5h0m9-3h0m2 3h0m5.5-1h0m-6.5 4h0m2 0h0m1.5 2.5h0m1-3h0m0.5 1.5h0" stroke="#b3dcf1" stroke-width="1.2" stroke-linecap="round" fill="none"/>
<path d="M57.5 85.5h0m0.5 1h0m4 0.5h0m3-4h0m1.5 3h0m0-0.5h0m1 0.5h0m1-4.5h0m0 1.5h0m0 1.5h0m0.5-2h0m0 1h0m0.5-2.5h0m0 4.5h0m1 0.5h0m-30 5h0m3.5 1h0m1.5-1.5h0m1 0.5h0m0-0.5h0m1-0.5h0m0-0.5h0m1 1h0m1.5-1h0m2 1.5h0m1-2h0m0.5 0h0m3 0.5h0m0-2h0m2.5 0h0m3.5 1h0m0.5 0h0m0.5-1h0m0.5 1.5h0m0 0.5h0m1.5-0.5h0m1-0.5h0m0 0.5h0m0.5 0h0m1 1h0m0.5-1.5h0m-36.5 8.5h0m0.5-1h0m0.5-0.5h0m0.5-2.5h0m0 2h0m1.5 1h0m0.5-1.5h0m0.5-1h0m1 0.5h0m0.5-1h0m2 0h0m0.5 0h0m1.5 1h0m3-0.5h0m20 4h0m1-1h0m0 0.5h0m1 0h0m0.5 0.5h0m-34.5 4.5h0m0.5 2h0m1-3.5h0m1 2.5h0m30.5-1h0m0.5 0.5h0m0.5-2h0m1 3h0m-34.5 2h0m0.5 5h0m2-0.5h0m28-3h0m1.5 3.5h0m0.5-1.5h0m0-1.5h0m0.5 0h0m0.5 2.5h0m-32 4.5h0m0.5 1.5h0m29-4h0m0.5 4.5h0m0-2.5h0m0-1h0m1 2h0m-31.5 2.5h0m5 4.5h0m1-3h0m21-1h0m1 4h0m1.5-4h0m0.5 1h0m0.5 1h0m0.5-1.5h0m0 4.5h0m0.5-6h0m0.5 5.5h0m-28.5 2h0m1.5 0.5h0m2.5 0h0m0-0.5h0m0 1h0m2.5 0h0m0 1.5h0m2 1h0m2-0.5h0m2 0h0m2 1h0m11.5-1h0m0.5 0h0m0.5-4h0m0 3.5h0m0.5 0h0m0.5 0.5h0m-21.5 2.5h0m2-1h0m0 1.5h0m1 0h0m0-1h0m0.5 0.5h0m0.5 1.5h0m3.5 1.5h0m0.5-0.5h0m0-1h0m0-0.5h0m1 1.5h0m1 0h0m0-2.5h0m1.5 5h0m0.5-3.5h0m2.5 1.5h0m1 1h0m2-4.5h0m0.5 5.5h0" stroke="#74bfe6" stroke-width="1.2" stroke-linecap="round" fill="none"/>
<path d="M85.5 77.5h0m-2 6h0m0.5 3h0m1-0.5h0m0-3.5h0m0 1h0m1 1.5h0m2 0.5h0m2 0h0m0.5 0.5h0m14-0.5h0m2 0h0m5 0.5h0m1 0.5h0m25 0.5h0m1.5-0.5h0m4 0h0m-51 4.5h0m6 1h0m8.5 0.5h0m1-5h0m5 3.5h0m4 0.5h0m0.5-4h0m1 3h0m1 2h0m0.5-4.5h0m3.5 3.5h0m0.5-2.5h0m0.5 2h0m2.5-1h0m0 0.5h0m3-1h0m2 1h0m2.5-1h0m1-1h0m2 3h0m0 0.5h0m2.5-4h0m3.5 4.5h0m1.5-0.5h0m0.5-1h0m1.5 0.5h0m3-3h0m-68.5 6h0m0.5 2h0m1.5-2.5h0m1.5 0h0m0 0.5h0m0.5 0h0m2 4h0m0.5-0.5h0m1.5-0.5h0m2-1.5h0m2.5 0h0m2-1h0m5.5 2h0m0.5-0.5h0m8.5 0.5h0m6.5 0h0m0.5-2.5h0m1.5 1.5h0m5 2h0m2-4h0m3 4.5h0m1.5-1.5h0m2-1.5h0m1.5 3h0m0-2h0m1.5-3h0m1 3h0m0-0.5h0m0.5-2.5h0m0 1.5h0m3 1.5h0m3.5-3h0m0.5 3.5h0m2.5-2h0m1 1h0m3.5-1h0m1-0.5h0m-72 7.5h0m0.5-1.5h0m2 1.5h0m2.5 2h0m1.5 0.5h0m0.5 0h0m2-1h0m16.5-1h0m0-0.5h0m1.5 0.5h0m6 2h0m9.5-0.5h0m2.5 0h0m1.5 0h0m4.5-2h0m1 2.5h0m4-2h0m0-0.5h0m0.5-0.5h0m2.5-1h0m1.5 1.5h0m1.5 1.5h0m1-2h0m1-1h0m5 3.5h0m4-3.5h0m1.5 0h0m0 0.5h0m1 3.5h0m-73 3.5h0m2.5 1h0m0.5-1h0m0-3h0m2.5 0h0m6.5 2.5h0m2 1h0m2.5 2h0m9-0.5h0m1.5 1h0m0-5.5h0m0 5h0m1.5-1.5h0m5-1.5h0m1.5 0h0m0.5-2h0m6 1.5h0m3 0h0m1.5 2h0m2-0.5h0m0 2h0m5.5-2.5h0m0.5-0.5h0m0 2h0m0-4.5h0m3 2.5h0m0.5 3h0m2.5-3h0m0.5 1h0m3.5-2h0m3.5 4h0m2-3h0m3-1h0m-69.5 8.5h0m0.5-1h0m3.5 1.5h0m5.5-1.5h0m0 0.5h0m5-2h0m2.5 2h0m3-2.5h0m0-0.5h0m3.5 3h0m4-1.5h0m0.5 3.5h0m4-2.5h0m5-2h0m5.5 3.5h0m1.5-2.5h0m0.5 2.5h0m5.5 0h0m0.5-3.5h0m5 3h0m1-1.5h0m0.5-1.5h0m6 3h0m1 0.5h0m3 1h0m2.5-3h0m-75.5 5.5h0m1 1.5h0m0.5-3h0m1 5.5h0m0.5-2.5h0m2 0h0m0.5-1.5h0m2 2h0m0.5-4h0m0 5.5h0m3.5-5.5h0m0.5 5h0m0.5-3.5h0m0 4.5h0m0.5-6h0m0.5 2h0m0.5-2h0m3 4h0m1.5 0h0m2-1h0m1.5 1h0m2.5 2h0m0.5-1h0m0-2.5h0m0.5-2.5h0m1.5 2h0m0.5 3.5h0m1-5.5h0m9.5 0h0m0 1.5h0m6.5-0.5h0m1.5 0.5h0m1.5 3h0m0 1h0m0.5-2.5h0m0-1h0m1-2h0m2 3h0m1.5-3h0m1 3.5h0m0.5-2h0m3 4.5h0m2-6h0m0.5 5.5h0m0.5-3h0m1 1h0m3.5 2.5h0m0-5h0m1 2h0m2.5 0.5h0m1.5-0.5h0m0.5 0h0m0 1h0m1.5 0h0m1.5-0.5h0m-72 6.5h0m1.5-0.5h0m0 2h0m7 0h0m1.5-4h0m2.5 2h0m0.5 1h0m1-1h0m0.5 0.5h0m4 0h0m1 0h0m2-2h0m0.5 3h0m2.5-1.5h0m1.5 2h0m2.5-2.5h0m2-1.5h0m2 1.5h0m1.5-2h0m10 1.5h0m0 0.5h0m4.5 0.5h0m0.5-2.5h0m1.5 1.5h0m0.5-1.5h0m3.5 2.5h0m0.5-1h0m5-2h0m2 4.5h0m1-1.5h0m2-1.5h0m1-1.5h0m0.5 0.5h0m4.5 0h0m-67.5 9h0m1.5 2h0m1.5-6h0m0.5 4.5h0m1.5-4.5h0m3 4h0m6-3.5h0m0 4h0m2-3h0m0.5 2.5h0m0.5-1h0m1-3h0m3 4.5h0m0-3h0m1.5 1h0m3-2h0m1 2h0m0.5-1.5h0m0-0.5h0m2-0.5h0m1.5 6h0m0.5-6h0m12.5 0.5h0m1.5 0.5h0m2 3h0m9.5-2h0m0.5 3h0m1 1h0m2.5-6h0m0.5 2.5h0m1.5-1.5h0m-61.5 7.5h0m2.5-1.5h0m0.5 2.5h0m1.5-2h0m0 0.5h0m9.5 3.5h0m0.5-3.5h0m2.5 1h0m2.5-1h0m3.5 3h0m1.5-3h0m2-0.5h0m0.5 4h0m8-3h0m0.5 0.5h0m1 2.5h0m5-2h0m1.5-3h0m0.5 3.5h0m1-2h0m0.5-1.5h0m0 3h0m3 1.5h0m2.5-1.5h0m1-2h0m-44 5h0m7 0.5h0m4-0.5h0m1 3.5h0m2 0h0m5-2.5h0m0.5 2h0m0-1.5h0m3-0.5h0m3 0.5h0m0.5 2h0m4 0.5h0m4.5 0.5h0m3-4h0m2 0h0m0.5 0.5h0m-23 5h0m0.5 3h0m1 0h0m4.5 1h0m0.5-0.5h0m2 0.5h0m4.5-2.5h0" stroke="#ea9dc9" stroke-width="1.2" stroke-linecap="round" fill="none"/>
<path d="M80 80h0m3.5 0h0m0-2h0m2-0.5h0m1 1h0m0-0.5h0m1 0h0m0.5 2h0m-8 7h0m3-5h0m0-0.5h0m0.5 4h0m3.5-3h0m0 1.5h0m0.5 0h0m0.5 0h0m0.5-2.5h0m0-0.5h0m1.5 3h0m0 0.5h0m1-1h0m1 1.5h0m3-2h0m1.5 2.5h0m2.5-2.5h0m0 1h0m0.5-1.5h0m1.5 2h0m0.5 0h0m1-1h0m2 1h0m3-0.5h0m0 2h0m2-2.5h0m0.5 2h0m0 1h0m2.5-3.5h0m1 0h0m0 3h0m1.5 0h0m0 0.5h0m0.5-2.5h0m0.5-0.5h0m0.5 1h0m0.5 1h0m0.5 0h0m6 1h0m4.5-1h0m2.5 0h0m7.5 1.5h0m1 0h0m2-1.5h0m2 1.5h0m8.5-0.5h0m-71.5 5h0m1-1.5h0m0-0.5h0m0.5 1.5h0m0-2.5h0m0.5 1.5h0m0.5 2h0m0.5-2.5h0m0-1.5h0m0.5 0h0m0 0.5h0m0.5 1.5h0m31.5-2.5h0m16.5 3h0m1.5-2h0m11.5-0.5h0m5.5 1h0m0-0.5h0m1 1h0m1.5 2.5h0m0.5-0.5h0m1-1h0m0.5 2h0m-77.5 6.5h0m0-1.5h0m1-0.5h0m1 1.5h0m74-2h0m0-3h0m0.5 1h0m0.5-1h0m0.5 3.5h0m0.5 0h0m0-0.5h0m-77.5 4h0m0.5-1h0m76 4.5h0m0.5-4.5h0m0 5h0m0-3.5h0m2 3h0m1-3h0m-81.5 10h0m2-6h0m0.5 5.5h0m74.5-5.5h0m0 5.5h0m1-3.5h0m0 1.5h0m1 2.5h0m0.5-0.5h0m0-0.5h0m0-0.5h0m1-4h0m0 5h0m-80 3h0m1 0.5h0m1-2.5h0m0.5 1h0m74.5 2h0m0.5-3h0m0 1.5h0m0.5 0.5h0m1-1h0m-78 6.5h0m0.5-2h0m1.5 4h0m72.5-3h0m0.5 2.5h0m2 0h0m0 1.5h0m1-2h0m0-2h0m1 0h0m-79 8.5h0m0-0.5h0m0.5-2.5h0m0 3.5h0m1-1h0m74-1h0m1-1h0m-76.5 5.5h0m0.5 0.5h0m0.5 0h0m0 3h0m2-2.5h0m0.5-1.5h0m0.5 1.5h0m0-1.5h0m0 6h0m58.5 0h0m1.5-1h0m1.5 0h0m1 0h0m2-4.5h0m0.5 3.5h0m2-2.5h0m-69 8.5h0m0-3.5h0m2 2.5h0m1-1.5h0m1.5 2h0m2-1.5h0m0.5 3.5h0m1.5-1h0m3.5 1h0m4 0h0m41.5-2.5h0m0.5 0h0m2-2h0m0.5 0h0m2 0.5h0m-59.5 5h0m1 0h0m3.5 0.5h0m1.5 0h0m1.5 1h0m1.5 1h0m0.5-3h0m0.5 1h0m0.5 1.5h0m0-1h0m0.5 0.5h0m2 1h0m0.5-1h0m3 2h0m0-0.5h0m0.5 1h0m1 1.5h0m1.5-1.5h0m6 1.5h0m17.5-1.5h0m0.5 1.5h0m1.5-2h0m1.5 0.5h0m1 0h0m2 0h0m2.5-4h0m2.5-0.5h0m1 0h0m-39.5 7.5h0m2.5-1h0m2.5 0h0m2.5 2.5h0m0-1.5h0m1.5 2h0m6.5 2h0m1 0h0m1.5-0.5h0m0 0.5h0m4-3h0m0.5 2h0m1-3h0m2 0.5h0m-15.5 4h0m1.5 0h0m0.5 3h0m1-2h0m3.5 0h0m1.5-0.5h0m0.5 0.5h0m0.5-0.5h0m1 1h0m1 0h0" stroke="#d84c9c" stroke-width="1.2" stroke-linecap="round" fill="none"/>
<path d="M72 157h0m4.5-1.5h0m1 1h0m1.5 0h0m0 2h0m0.5-2.5h0m3.5 0h0m1-0.5h0m1.5-1h0m1.5-1.5h0m0 2.5h0m0.5-2h0m1.5 3h0m1 2h0m5-3h0m4.5 3.5h0m-28.5 3.5h0m4 1h0m0.5-3h0m9 0h0m2-1h0m2.5 0.5h0m1 4h0m5-1h0m0-1.5h0m0.5-1h0m0.5 0h0m0 1.5h0m5 2.5h0m0-4h0m0.5 1h0m-27.5 8h0m0-4.5h0m1.5 2h0m1.5-1h0m1.5 0.5h0m0 4h0m0.5-3h0m2.5 2.5h0m10-3h0m0.5 3.5h0m0.5-4.5h0m4 4.5h0m2-5.5h0m2.5 0.5h0m1.5 1h0m-27.5 8h0m4.5-1h0m2.5-0.5h0m4.5 3h0m3.5 0h0m5.5-2h0m0.5-1.5h0m0.5-1h0m0.5 2h0m0.5 0.5h0m2.5-0.5h0m-17 7.5h0m0-4h0m1 1h0m1 0h0m7.5 3h0m4.5-2.5h0" stroke="#f1cfe5" stroke-width="1.2" stroke-linecap="round" fill="none"/>
<path d="M73.5 151.5h0m1 1h0m2.5-1.5h0m1 1h0m0.5-1h0m0.5-1.5h0m1 2.5h0m1-2h0m0 2h0m2-1h0m1 1.5h0m0.5-1.5h0m1.5 1.5h0m0-1.5h0m3.5 0.5h0m1 0h0m-21 7.5h0m1-3h0m0 1.5h0m1-1.5h0m1.5-1.5h0m1.5 1.5h0m0-3h0m11.5 0h0m1.5 2h0m3 1h0m1-2.5h0m1 1h0m0.5-1h0m2 2.5h0m0.5 0h0m2.5 1.5h0m0.5-2h0m0 1h0m1 1.5h0m1 0h0m-33 1.5h0m1 0h0m1 2.5h0m0-1h0m32.5 2.5h0m0.5-1.5h0m0 2h0m0.5 0.5h0m1-4h0m0 3h0m-34.5 5h0m0.5 0h0m0-3.5h0m0 5.5h0m1 0.5h0m0.5-1.5h0m0.5-1.5h0m28 3h0m3-1h0m0.5-1h0m0-3h0m1.5 1.5h0m1.5 0.5h0m-35 5h0m0 3h0m1-4h0m0.5 2.5h0m23.5 0.5h0m1.5 1.5h0m0.5-0.5h0m0.5-1h0m1.5-0.5h0m0.5 1h0m-25 4.5h0m0.5-1h0m1-1h0m1 2h0m1.5 0h0m6.5 2h0m3.5-2h0m1.5 2.5h0m1 0.5h0m1-0.5h0m0-0.5h0m1.5 0h0m2-3.5h0m0.5 3.5h0m1-4h0m1.5-1h0m-19 7.5h0m6 1.5h0m1-2h0m1.5-0.5h0m1.5 0.5h0" stroke="#e6a7cf" stroke-width="1.2" stroke-linecap="round" fill="none"/>
<path d="M49 55.6 L56 59.3" stroke="#7fd4c1" stroke-width="1.2"/>
<circle cx="73.4" cy="153" r="1.5" fill="#6d78cc"/>
<path d="M53 157 l1.3 1.2 1.6 -1.4" stroke="#5cba7c" stroke-width="1" fill="none"/>
<path d="M132 161.5 L133.5 170" stroke="#c99ad0" stroke-width="2"/>
<circle cx="67.8" cy="37.2" r="4.1" fill="#5cb87a"/>
<text x="74.7" y="40.5" font-size="9" fill="#0a0a0a" stroke="#0a0a0a" stroke-width="0.22">Mucous cells</text>
<circle cx="30.5" cy="53.2" r="4.1" fill="#7fd4c1"/>
<text x="37.7" y="56.5" font-size="9" fill="#0a0a0a" stroke="#0a0a0a" stroke-width="0.22">Ionocytes</text>
<circle cx="57.8" cy="68.2" r="4.1" fill="#5b63ba"/>
<text x="63" y="71.5" font-size="9" fill="#0a0a0a" stroke="#0a0a0a" stroke-width="0.22">Club cells</text>
<circle cx="113" cy="63" r="4.1" fill="#d9a53a"/>
<text x="118.9" y="66.3" font-size="9" fill="#0a0a0a" stroke="#0a0a0a" stroke-width="0.22">Cyclin cells</text>
<circle cx="132" cy="94.7" r="4.1" fill="#c4d27a"/>
<text x="138.2" y="98" font-size="9" fill="#0a0a0a" stroke="#0a0a0a" stroke-width="0.22">BIRC5+ cells</text>
<circle cx="29.7" cy="107.6" r="4.1" fill="#7ab6da"/>
<text x="36.6" y="110.9" font-size="9" fill="#0a0a0a" stroke="#0a0a0a" stroke-width="0.22">Basal cells</text>
<circle cx="79.5" cy="128.8" r="4.1" fill="#d63a92"/>
<text x="86.7" y="132.1" font-size="9" fill="#0a0a0a" stroke="#0a0a0a" stroke-width="0.22">Basal tumor cells</text>
<circle cx="56.5" cy="168.8" r="4.1" fill="#dd8ec3"/>
<text x="63.5" y="172.1" font-size="9" fill="#0a0a0a" stroke="#0a0a0a" stroke-width="0.22">Serous  cells</text>
<text x="13.7" y="24.5" font-size="9" fill="#0a0a0a" stroke="#0a0a0a" stroke-width="0.22">9022 epithelial cells from SCC samples</text>
<path d="M16.9 149.3 V185.2 H54" stroke="#1a1a1a" stroke-width="1" fill="none"/>
<path d="M16.9 145.3 l-2.2 5h4.4z" fill="#1a1a1a"/>
<path d="M58 185.2 l-5 -2.2v4.4z" fill="#1a1a1a"/>
<text x="18" y="198.3" font-size="8.6" fill="#0a0a0a" font-weight="bold">t−SNE1</text>
<text x="0" y="0" transform="translate(11.9 169.6) rotate(-90)" font-size="8.6" fill="#0a0a0a" text-anchor="middle" font-weight="bold">t−SNE2</text>
<path d="M277.4 71.4C277.1 70.3 277 67.3 278.2 65.8C279.4 64.3 282.5 63.8 284.6 62.6C286.7 61.4 288.9 60.2 291 58.5C293.1 56.8 295 52.9 297.4 52.1C299.8 51.3 303.4 54 305.5 53.7C307.6 53.4 309 52.1 310.3 50.5C311.6 48.9 311.9 46.5 313.5 44.1C315.1 41.7 317.9 38.5 320 36C322.1 33.5 324.3 30.3 326.4 28.8C328.5 27.3 331.2 26.8 332.8 27.2C334.4 27.6 335.6 29.4 336 31.2C336.4 33 336.3 36.1 335.2 37.7C334.1 39.3 331.6 39.8 329.6 40.9C327.6 42 324.9 42.5 323.1 44.1C321.4 45.7 320.2 48.4 319.1 50.5C318 52.6 317.6 54.2 316.7 56.9C315.8 59.6 314.8 65.5 313.5 66.6C312.2 67.7 310.6 63.4 308.7 63.4C306.8 63.4 303.6 65.1 302.3 66.6C301 68.1 302.1 71.4 300.7 72.2C299.3 73 296.6 71.7 294.2 71.4C291.8 71.1 288.6 70.5 286.2 70.6C283.8 70.7 281.3 72.1 279.8 72.2C278.3 72.3 277.7 72.5 277.4 71.4Z" fill="#42a9cd"/>
<path d="M320 59C320.7 58.2 324.1 57.8 325 58.5C325.9 59.2 326.2 62.2 325.5 63C324.8 63.8 321.9 63.7 321 63C320.1 62.3 319.3 59.8 320 59Z" fill="#42a9cd"/>
<path d="M250.9 91.3C254.1 90.4 262.3 88.8 266.9 88.1C271.4 87.4 275.8 87.6 278.2 87.3C280.6 87 280.5 87.6 281.4 86.5C282.3 85.4 282.9 82.1 283.8 80.9C284.7 79.7 286.9 78.5 287 79.3C287.1 80.1 285.3 83.6 284.6 85.7C283.9 87.8 282.6 89.4 283 92.1C283.4 94.8 286.3 98.6 287 101.8C287.7 105 288.2 108.5 287 111.4C285.8 114.3 280.7 116.7 279.8 119.4C278.9 122.1 281.9 125.9 281.4 127.4C280.9 128.9 278.8 129.3 276.6 128.2C274.5 127.1 271.7 123 268.5 121C265.3 119 260 118.1 257.3 116.2C254.6 114.3 254 112.2 252.5 109.8C251 107.4 249.3 104.5 248.5 101.8C247.7 99.1 247.3 95.5 247.7 93.7C248.1 92 247.7 92.2 250.9 91.3Z" fill="#42a9cd"/>
<path d="M294.7 95.5C295.3 92.3 298.6 91.3 300 88C301.4 84.7 302 76.9 303 75.6C304 74.3 305 78.6 306 80C307 81.4 306.9 82.7 309 84C311.1 85.3 315.3 86.9 318.5 88C321.7 89.1 324.9 90.2 328 90.8C331.1 91.4 335.7 93.3 337.4 91.8C339.1 90.3 337.4 84.8 338 82C338.6 79.2 340.5 77.4 341.2 74.7C341.9 72 341.4 68.2 342 66C342.6 63.8 343.7 62.8 345 61.4C346.3 60 348.1 58.4 350 57.5C351.9 56.6 353.7 56 356.4 56C359.1 56 363.1 56.7 366 57.5C368.9 58.3 372.3 59.6 374 61C375.7 62.4 376.7 63.8 376.4 66C376.1 68.2 374.1 71.9 372 74C369.9 76.1 364.4 76.2 364 78.5C363.6 80.8 367.9 84.5 369.7 88C371.4 91.5 373.7 94.9 374.5 99.3C375.3 103.7 376.6 109.4 374.5 114.5C372.4 119.6 366.6 125.6 362 129.7C357.4 133.8 351.8 136.3 347 139C342.2 141.7 336.2 145.7 333 146C329.8 146.3 331.4 143.1 328 141C324.6 138.9 317.6 136 312.8 133.5C308.1 131 302.2 130.4 299.5 126C296.8 121.6 297.4 112.1 296.6 107C295.8 101.9 294.1 98.7 294.7 95.5Z" fill="#e07b78"/>
<path d="M381 84C381.7 82.2 384 81.3 386 81C388 80.7 391 81 393 82C395 83 396.7 85.2 398 87C399.3 88.8 399.7 91.2 401 93C402.3 94.8 404.3 96.2 406 98C407.7 99.8 410 102 411 104C412 106 412.7 109 412 110C411.3 111 409 111 407 110C405 109 402 106 400 104C398 102 397 99.3 395 98C393 96.7 390.2 97 388 96C385.8 95 383.2 94 382 92C380.8 90 380.3 85.8 381 84Z" fill="#e07b78"/>
<path d="M379 117C379.7 115.9 382 114.7 384 114.5C386 114.3 389.8 114.8 391 116C392.2 117.2 392 120.8 391 122C390 123.2 386.8 123.2 385 123C383.2 122.8 381 122 380 121C379 120 378.3 118.1 379 117Z" fill="#e07b78"/>
<path d="M325 31h0m1.5 1h0m1.5-0.5h0m0-2.5h0m1 0h0m1 0.5h0m0-1h0m1-1h0m1 1h0m0.5-1h0m0.5 2.5h0m1.5 2.5h0m-15 5h0m0 1.5h0m0-0.5h0m2 0h0m1 0.5h0m0-4.5h0m0 3.5h0m0.5-4h0m0 0.5h0m1 4.5h0m1-4h0m0.5 0h0m0.5 1.5h0m1.5 2.5h0m1-4.5h0m0.5-1h0m0 1h0m0 1h0m0.5-2.5h0m3 1h0m0.5-0.5h0m0 2.5h0m1-1h0m0-0.5h0m0.5 4.5h0m0.5-3.5h0m0 1.5h0m0.5-1h0m0.5-1.5h0m-21 9h0m1-1h0m2.5-3h0m1 2h0m3.5-1.5h0m0 3.5h0m1-3h0m1.5 2h0m0.5 0h0m1.5-1h0m0-1h0m1 0.5h0m-17.5 8.5h0m0.5-0.5h0m1.5-3.5h0m0.5 5h0m0.5-4h0m0.5-1.5h0m1.5 5.5h0m1-3.5h0m0.5-1.5h0m0 5h0m2 0h0m1-4h0m0.5-1h0m-25 8.5h0m1-1h0m0.5 3.5h0m1-0.5h0m0-2.5h0m0.5 1h0m0-0.5h0m2 0h0m0-0.5h0m1 1.5h0m0.5 1h0m2.5 0h0m1.5-0.5h0m0-2.5h0m1 2h0m0 1h0m0.5-1h0m1.5-2h0m1 2h0m0.5 0h0m0.5-1.5h0m0.5-2h0m0.5 1h0m1.5 3h0m0.5 0.5h0m1.5-3h0m43 3.5h0m3.5 0h0m-77 6.5h0m1.5-0.5h0m0.5-1h0m0.5 0h0m0.5-0.5h0m0.5 0.5h0m1.5-0.5h0m2-3.5h0m1 3.5h0m0-3.5h0m0.5-0.5h0m1 3.5h0m2.5 0h0m3-1h0m2 1.5h0m0.5 1h0m1 0.5h0m2-3.5h0m0.5-2h0m1 0h0m0.5 0h0m0.5 4.5h0m0.5-1h0m0.5 0h0m0.5-1.5h0m0 3.5h0m0.5-5.5h0m0 6h0m3-6h0m0 1h0m0 4h0m0.5-4h0m0.5 4h0m2.5-3h0m4 4h0m0.5-1h0m0-1h0m0.5-2h0m1 1h0m0.5 0h0m0.5 2h0m0 0.5h0m0-2h0m1-1.5h0m20.5 4h0m0.5-2h0m1 0h0m1-1.5h0m0 1h0m0.5-0.5h0m1 2h0m0-0.5h0m0-4.5h0m1.5 3h0m0.5-1h0m0.5 3.5h0m0-3h0m2 2h0m1.5 0.5h0m0.5-1h0m0.5 2h0m2.5-3h0m0.5 3h0m0-4.5h0m0.5-1h0m0 3.5h0m0.5-1.5h0m1 1h0m0.5-3.5h0m1.5 1h0m0 0.5h0m0.5 0.5h0m1.5 0h0m0-0.5h0m0.5 0.5h0m0 0.5h0m1-1h0m0.5 2.5h0m1.5-1.5h0m3 3.5h0m1-1h0m0.5-1h0m-94.5 5.5h0m0.5 2h0m1-3h0m1.5-0.5h0m0.5 0h0m0.5 3.5h0m0-1h0m0.5-1.5h0m1.5 1h0m0-3.5h0m4 0h0m0 1.5h0m1.5-1.5h0m1 1h0m0.5 0.5h0m0.5 3.5h0m2-0.5h0m0 0.5h0m2.5-0.5h0m0.5-2h0m0 2h0m1.5-4h0m1.5 4h0m1-3.5h0m0 3h0m3.5-3.5h0m0 1h0m0.5-1.5h0m1 0.5h0m5 0h0m0.5 1h0m0.5 0.5h0m1-2h0m1 2h0m0.5-2h0m7 0h0m21 4.5h0m0.5-0.5h0m0.5-3.5h0m0.5 3h0m0.5-0.5h0m0.5 1h0m0.5-4h0m0 1h0m0.5 2h0m0.5 1.5h0m0.5 0.5h0m1.5-4h0m0.5 2h0m1-0.5h0m0 1.5h0m4.5-1.5h0m3 0h0m0.5 0h0m1.5 2.5h0m7.5-3h0m2 2h0m3-1.5h0m-93.5 3h0m0 2.5h0m0.5 0.5h0m0-1.5h0m2-1.5h0m2.5 1h0m1-0.5h0m1.5 0h0m0.5 1.5h0m2.5-0.5h0m2 0.5h0m1.5-2h0m0 1h0m1 1h0m1-1h0m1 1.5h0m0.5-1.5h0m0 0.5h0m1 0.5h0m1.5-0.5h0m0 0.5h0m0.5 0.5h0m1-1h0m41 2.5h0m0-0.5h0m0.5-0.5h0m0.5 1h0m0.5-2.5h0m0 2h0m0.5-0.5h0m3 1h0m0-0.5h0m5-0.5h0m0.5-1h0m2-0.5h0m0.5 1.5h0m0.5 1.5h0m1.5-3.5h0m0.5 2h0m0 1.5h0m0.5-3.5h0m2 3h0m1.5 1h0m0.5-2.5h0m3-1h0m0-1.5h0m0.5 0h0m2 5.5h0m0.5-3.5h0m1.5 3.5h0m1 0.5h0m0-1h0m0.5-3.5h0m1.5-1.5h0m1.5 2.5h0m0-2h0m0.5-0.5h0m-87.5 11h0m0.5-0.5h0m16.5 0.5h0m0.5-1.5h0m0-0.5h0m0-2h0m0.5 3h0m1 1.5h0m37.5-5h0m2 1.5h0m1 0h0m1 2h0m0-1.5h0m0.5 3h0m2.5-3h0m0.5-2h0m0.5 2h0m0-2h0m0 1h0m1.5-1h0m0 1.5h0m0.5 3h0m1.5 0h0m1-2.5h0m3.5-0.5h0m0 3h0m1-3.5h0m0 1.5h0m1.5 1h0m2.5 0.5h0m0 1h0m0.5-1.5h0m0.5 1h0m1.5-3h0m-85 7.5h0m1 1h0m0.5 0h0m0-2h0m0.5 0.5h0m0.5-2h0m0-0.5h0m0 4.5h0m0.5-0.5h0m0-3h0m0.5-1h0m0 1h0m1-1h0m1 0.5h0m12.5 4.5h0m1.5-0.5h0m0 1h0m0.5-3h0m0-3h0m1.5 1.5h0m0.5-1.5h0m1 3.5h0m0 1h0m1-4h0m0.5 5h0m0-3h0m3 3h0m0.5-2.5h0m1.5 1h0m1 1.5h0m1 0.5h0m4.5 0h0m20.5-1h0m0.5-5h0m0 4h0m0.5 1h0m0.5-2.5h0m0 1.5h0m0 1.5h0m0.5-4h0m2.5 3h0m1-2h0m0.5-1.5h0m1 2.5h0m1 0h0m0.5 2h0m1-1.5h0m0.5-3.5h0m1 5.5h0m1-1h0m0-3h0m1-2h0m1 2h0m1.5 2.5h0m1-2h0m0.5 1.5h0m0.5-0.5h0m0 1h0m2.5-0.5h0m0.5-1.5h0m0.5 0h0m0 1h0m1.5 0.5h0m0-2.5h0m0.5 1h0m0.5 3.5h0m0.5-2.5h0m0-1.5h0m0 2h0m1-3h0m0 1.5h0m1 3.5h0m2-2h0m0.5 0h0m0.5-1h0m0.5 1h0m14.5 2h0m1 0h0m2 0h0m0-1.5h0m1.5-1h0m0-3h0m0 5h0m0-4.5h0m0.5 0h0m0 1h0m2-1.5h0m0.5 4.5h0m0.5-4h0m2 4.5h0m0-3.5h0m3.5 3.5h0m0.5-1h0m0-1.5h0m1 1.5h0m0.5 1h0m-146.5 6h0m2-0.5h0m3 0h0m0-1.5h0m2.5 1h0m1 0h0m0-0.5h0m1-1h0m0 1h0m1-0.5h0m1-2.5h0m1 3.5h0m0.5-0.5h0m0.5-2.5h0m2 1.5h0m0.5-1.5h0m2.5-1h0m1.5 1.5h0m3-1h0m0 4.5h0m0.5-3h0m0.5 3h0m0-4h0m1-1h0m0.5 3h0m3 2h0m1-5h0m0.5 2h0m1 1h0m0.5-2h0m15 4h0m0-0.5h0m2.5-1.5h0m0 0.5h0m0.5 0h0m0-1h0m0.5-0.5h0m3 1h0m0.5 1.5h0m1.5-4h0m0.5 2h0m0.5-1.5h0m0.5 2h0m4-0.5h0m1.5-2.5h0m1 1h0m3-0.5h0m0.5 1h0m2 0.5h0m0.5 0.5h0m1 0h0m3 1.5h0m1.5 1h0m1.5 0h0m0.5-1h0m1 0.5h0m0-1.5h0m3 1h0m0.5-1h0m3.5 2h0m3.5-1.5h0m0 0.5h0m0.5 0h0m0.5 1h0m1-1h0m1 0.5h0m1.5-1.5h0m4 2h0m0-3.5h0m1 1h0m3.5-1.5h0m0.5 1.5h0m0 1h0m2 1.5h0m2-1.5h0m1.5-3.5h0m0.5 2.5h0m1.5-2h0m0.5 3h0m1.5 1h0m2-3.5h0m2 2.5h0m1.5-3.5h0m1 2.5h0m0.5 1h0m13-1h0m0 1h0m1 1h0m0-2h0m0 1.5h0m0-2.5h0m3-1h0m0 1h0m4 0.5h0m0.5-1.5h0m1.5 2.5h0m0-2.5h0m1.5 0.5h0m0 3h0m2.5-0.5h0m1.5-0.5h0m0.5-2h0m0 2h0m1 1h0m0-1h0m0-2h0m0.5 4h0m0.5-1.5h0m-151.5 4h0m0-1h0m0 4.5h0m1-1.5h0m0.5-1.5h0m0-1.5h0m1.5-0.5h0m1 0.5h0m0 2.5h0m0 2h0m0.5-1.5h0m1 1.5h0m0-2.5h0m0.5 0h0m1-3h0m0.5 0.5h0m1.5 3h0m1.5-2.5h0m1.5-0.5h0m0 1h0m2.5-1h0m1.5 4h0m0.5-1h0m0 0.5h0m0.5-1.5h0m0-2.5h0m0 4.5h0m3 1.5h0m1-2h0m4-1h0m1-2.5h0m5 0.5h0m3 2h0m0-2.5h0m1 1.5h0m1.5 3h0m0.5-0.5h0m9.5-1h0m0.5-1h0m1-0.5h0m0.5 2.5h0m0.5 1h0m1.5 0h0m0-4h0m0.5 1.5h0m1-2.5h0m0.5 3.5h0m0-2h0m0 4h0m1.5-4h0m4 3h0m0-2h0m1 1.5h0m1-3.5h0m4 2h0m0-0.5h0m2 2h0m1.5-3.5h0m1.5 4.5h0m0.5 0.5h0m0-3.5h0m4 0.5h0m0.5-3h0m1.5 4h0m1-1h0m0-0.5h0m1 1.5h0m0 0.5h0m0.5-4h0m1.5 1.5h0m1.5 3.5h0m0.5-2h0m0.5-3h0m0.5 1.5h0m2 1.5h0m1-2.5h0m0.5-1h0m1.5 5h0m0.5-1h0m1-1.5h0m0 2h0m2.5-4h0m0 1h0m4.5 4h0m0.5 0.5h0m0-3h0m2.5-3h0m0.5 3h0m2 2.5h0m0.5 0h0m1.5-1h0m0-2.5h0m0 1.5h0m1 0.5h0m1.5 0.5h0m0.5-1h0m1.5-0.5h0m0.5 0.5h0m1.5-3h0m1 4h0m0-4.5h0m0 2h0m0.5 1h0m0.5-3h0m0.5 4h0m2.5 2h0m1.5-0.5h0m0.5-3h0m0 1h0m2.5 0.5h0m0-0.5h0m0.5-0.5h0m0.5 0.5h0m0 1.5h0m0.5-3.5h0m0.5 2h0m0 2h0m2-2.5h0m0-2.5h0m0.5 2.5h0m1 2h0m0.5 0.5h0m10-5.5h0m5 1h0m0.5 0.5h0m0.5 1h0m0.5 0.5h0m2 0.5h0m1-3.5h0m0.5 2h0m0.5 3h0m1-4.5h0m1 4.5h0m1.5-5h0m2.5 1.5h0m0 0.5h0m0.5-0.5h0m1-1.5h0m0.5 4h0m0.5 0h0m1.5 2h0m0.5-0.5h0m0.5 0.5h0m-157.5 2.5h0m0.5-1h0m0.5 1h0m0 1.5h0m0.5-3.5h0m0 3.5h0m0.5 1h0m7.5-3.5h0m0 3.5h0m1.5-3.5h0m0.5 0.5h0m0.5 0h0m0.5 1.5h0m0.5 1.5h0m0-1h0m1.5-2h0m0.5 1h0m0.5-2h0m3 2.5h0m0 2h0m0.5-0.5h0m2.5-1h0m1.5 1.5h0m0.5-2h0m2 0h0m0.5-1.5h0m2.5-0.5h0m2 2h0m1 1h0m0.5 0.5h0m1-4h0m0 0.5h0m5.5 4h0m9.5-2h0m0.5 2h0m0.5-1.5h0m1-2h0m0 3.5h0m0.5-4.5h0m0 1.5h0m0-2h0m1 3.5h0m1 1h0m0.5-0.5h0m1-2.5h0m5 0h0m0 1.5h0m2.5 0h0m0.5-3h0m1 0.5h0m1.5 1h0m2.5-1h0m5 4.5h0m1-2.5h0m0.5 2h0m1-0.5h0m0 0.5h0m1-3.5h0m2 3h0m0.5 0h0m4-3.5h0m0.5 0h0m1.5 0.5h0m4 0.5h0m2 2.5h0m2-2.5h0m0-1h0m0.5 3h0m1-1.5h0m2-1.5h0m4.5 3.5h0m0.5-2h0m1-1.5h0m3 0h0m0.5 2h0m1 1h0m0.5-1.5h0m3.5-1.5h0m3.5-0.5h0m1 3h0m2.5-1.5h0m5.5 2h0m1-1.5h0m1 0.5h0m0 1h0m0.5-2.5h0m0.5 1.5h0m0 1h0m0 0.5h0m0.5-0.5h0m0.5 0.5h0m0.5-2.5h0m23-1.5h0m0 0.5h0m0.5 0.5h0m1 2.5h0m0.5-2.5h0m0.5 3h0m0.5 0h0m1.5-2h0m1 2h0m0.5 0.5h0m1-4h0m1 0h0m1 1.5h0m0.5 1.5h0m0-2h0m-156 5h0m0.5 4h0m0.5-3.5h0m1 0h0m0.5-1.5h0m0.5 6h0m1.5 0h0m1 0h0m1.5-2.5h0m1 0.5h0m0.5 1.5h0m0.5-1h0m0-2.5h0m1.5 2.5h0m1.5 0.5h0m0.5-5h0m4.5 3.5h0m0-3h0m1-0.5h0m0 6h0m0-1h0m0.5-5h0m2 5.5h0m0 0.5h0m1.5-4h0m0 1h0m0 0.5h0m0 1h0m0.5-1h0m1 1.5h0m5 0h0m0-3.5h0m0 2.5h0m0.5-2.5h0m1.5 3.5h0m0-0.5h0m2-4.5h0m2 3.5h0m0.5-1.5h0m0 1h0m10 1h0m0-3h0m0.5-1h0m0 2.5h0m0-0.5h0m0.5-0.5h0m0 1h0m0 2.5h0m1.5-2h0m0 1.5h0m1.5-4.5h0m0.5 4h0m0.5-4h0m0.5 6h0m3.5-1.5h0m0.5 0.5h0m0.5-4.5h0m2 4h0m0-2h0m0 3.5h0m0.5 0h0m0.5-3.5h0m1.5 3.5h0m0-5.5h0m0.5 4.5h0m0.5-1h0m0.5 0h0m1-2.5h0m0.5 3h0m2.5-3.5h0m0-0.5h0m1 1h0m1 4h0m2-1.5h0m0.5 1.5h0m0-2.5h0m2.5-1h0m0 3h0m0-5h0m0.5 5.5h0m0-5.5h0m3 1h0m2.5 3.5h0m1.5-0.5h0m1.5-2.5h0m1 2.5h0m0.5-2h0m0.5 4h0m3-0.5h0m1.5-1h0m0.5-4.5h0m0.5 3h0m0.5 3h0m0.5-4.5h0m0-0.5h0m0 3.5h0m0.5-1.5h0m1.5 0.5h0m0.5-3.5h0m0.5 3.5h0m0-0.5h0m0.5-1.5h0m0 1.5h0m1 3h0m1-1.5h0m0 0.5h0m1.5-1.5h0m0-1.5h0m0.5-2h0m0.5 1h0m1.5 0h0m0.5 3.5h0m0-4.5h0m0.5 6h0m0.5-4h0m6.5-2h0m0 3h0m1 0h0m0.5-2.5h0m0 5.5h0m3.5-5.5h0m0.5 2h0m4.5-2h0m1 4.5h0m1.5-4h0m0.5 4h0m1 0h0m0-5h0m0.5 0.5h0m0.5 0h0m0 1.5h0m0-2h0m31.5 2h0m0.5-1h0m1 1h0m1 3.5h0m0.5-2.5h0m0 0.5h0m0.5-3.5h0m0 3h0m0.5 0h0m0.5-2h0m0 3h0m0.5 0h0m1.5 0.5h0m-156.5 2h0m0.5 0h0m0.5 1h0m2 2h0m2 0h0m0.5 0.5h0m2.5 1.5h0m0.5-3h0m0.5 0.5h0m1 2.5h0m0.5-3.5h0m0.5 0.5h0m1 3h0m4-3h0m1.5 2h0m0-1h0m3 0h0m1.5-0.5h0m1.5-1h0m0.5 1.5h0m3 1h0m1 0h0m0.5-4h0m0 2.5h0m1-1h0m0.5-0.5h0m1.5 0h0m11-1h0m1 4.5h0m0.5-0.5h0m0.5-3h0m0-1h0m2.5 0h0m1 4h0m1 0h0m3.5-1.5h0m2 2.5h0m1.5-4.5h0m2 4h0m0 0.5h0m0-3.5h0m0 2.5h0m5.5-0.5h0m1.5 0h0m2.5-0.5h0m5-0.5h0m1 1.5h0m2-2h0m2.5 2h0m2.5 0.5h0m0-1h0m0-2h0m3-1.5h0m3 3h0m1 1.5h0m2.5 0.5h0m0.5-1h0m1-1.5h0m1-2.5h0m0.5 4.5h0m0.5-1.5h0m0-2h0m0.5 2h0m3.5 1h0m0.5-2h0m2 0h0m0 3h0m1-3.5h0m0 2.5h0m0.5 0h0m1-3.5h0m0.5 2.5h0m3.5 0.5h0m0.5-0.5h0m0 2h0m2-1.5h0m0.5 0.5h0m1-1h0m0-3h0m1 5h0m0.5-2.5h0m3.5-2h0m0 2h0m0 2.5h0m3.5-5h0m8 4h0m1 0.5h0m0.5 0h0m3 0.5h0m1-0.5h0m1.5 0.5h0m1 0h0m0-1h0m-131 1.5h0m2.5 1h0m0.5-0.5h0m0.5-0.5h0m0.5 0.5h0m0.5 0.5h0m1 0h0m2.5 0h0m0.5-1h0m0.5 3.5h0m0-3.5h0m0 2.5h0m2 1h0m0-1h0m0.5 3h0m0.5-1.5h0m0 1h0m1 0.5h0m0.5-5h0m0.5 3h0m0-1h0m0.5 2.5h0m1.5-0.5h0m1.5 1h0m0.5-5h0m0 2.5h0m1.5 2.5h0m0.5-2h0m0.5 0.5h0m0.5-4h0m0.5 0h0m0 6h0m0.5-0.5h0m0-5.5h0m17.5 0h0m0 3.5h0m0.5-1.5h0m0-0.5h0m1-0.5h0m1.5 1h0m0.5 2.5h0m0 1.5h0m3-4.5h0m0 2h0m0.5-3.5h0m2.5 5.5h0m5.5-5.5h0m2.5 3h0m0.5-3h0m0.5 6h0m1 0h0m1-5.5h0m0 1h0m1.5 2h0m0.5-2h0m0.5 0h0m0.5 0h0m3 4.5h0m0.5-6h0m1 2.5h0m0.5-2h0m0.5 3.5h0m2.5-0.5h0m1 0h0m0.5 0.5h0m3-3.5h0m2.5 1.5h0m3-0.5h0m0.5 3.5h0m4.5 0h0m3.5-2.5h0m1 2h0m0.5-4.5h0m1 3.5h0m1 0.5h0m1-2.5h0m0.5-1h0m0.5 3h0m4.5 0h0m1-1.5h0m0 4h0m0.5-1.5h0m0.5-4h0m0.5 4h0m1 0h0m1 1.5h0m3-0.5h0m0-4.5h0m0.5-0.5h0m0.5 5h0m0-2h0m1 0h0m1.5-3h0m0 2.5h0m0.5-2h0m0.5-1h0m2 1.5h0m7.5 2h0m0.5-2.5h0m0 0.5h0m0.5-1.5h0m0 3.5h0m1-1.5h0m0.5 2.5h0m0.5 0.5h0m1.5-5h0m0.5 4.5h0m3-0.5h0m0-1h0m0.5-2.5h0m0 3h0m0 0.5h0m1.5-0.5h0m1 1h0m0.5-2h0m0.5 0h0m-118 5.5h0m0.5 0h0m0 1.5h0m5-2h0m0-1h0m0.5 3h0m0.5-2.5h0m0 2.5h0m19.5-1h0m0.5-0.5h0m0.5-1h0m0 1.5h0m0.5 0.5h0m1 0.5h0m1-1h0m0 1h0m0 1h0m0.5-3.5h0m2 0.5h0m0.5 1.5h0m0.5 1h0m1 1.5h0m1 0h0m1.5-4h0m3.5 0h0m2 1h0m2-0.5h0m3.5-0.5h0m0.5 0h0m1.5 3.5h0m2-3.5h0m0-1h0m0.5 2h0m0.5 0.5h0m1-0.5h0m0.5 2h0m0-1.5h0m1 0h0m0 1.5h0m1 0h0m0.5-4h0m6.5 0h0m0 1h0m0.5-0.5h0m2 4h0m1-2h0m1.5 2h0m1-2.5h0m1-1.5h0m2.5 3.5h0m3-3.5h0m0 0.5h0m1 4h0m1-3.5h0m1.5 0h0m2-1.5h0m0.5 4h0m1.5 1h0m0.5-2.5h0m3 0.5h0m0-2h0m0.5 3.5h0m0.5 0.5h0m1-1.5h0m0.5 0.5h0m1-1h0m1-1.5h0m0.5 0.5h0m-58 5.5h0m2.5 0h0m2.5-2h0m0.5 3h0m0.5 0h0m1 0.5h0m1.5-1.5h0m0 2h0m0.5 1.5h0m2 0h0m0.5 0.5h0m1.5-0.5h0m0-4h0m0.5 4h0m1.5-1h0m0.5-1.5h0m2-3h0m1.5 0.5h0m1.5 5.5h0m1-1.5h0m1.5 0h0m0.5-1h0m3-3h0m2 5.5h0m0-6h0m0.5 1.5h0m0 0.5h0m0.5 0h0m1 0.5h0m2.5-2.5h0m2 0.5h0m1 4.5h0m0.5-2.5h0m2 0h0m0-2.5h0m1.5 2h0m0.5 2.5h0m0.5 0h0m1-2.5h0m1 4h0m1.5-1h0m0.5-3h0m0 4h0m0.5-5h0m0.5 3h0m0 0.5h0m0.5-2h0m0.5-2.5h0m1 4h0m1-2h0m1-0.5h0m0.5 1h0m2.5-1h0m0.5-1h0m0.5 0h0m0.5-0.5h0m-43 8h0m1.5-1h0m1 1h0m0-0.5h0m0.5 0.5h0m0.5 0h0m0.5 0h0m0.5 2h0m2-0.5h0m1.5 1.5h0m5.5-1h0m1.5 0h0m0.5-0.5h0m0.5-3h0m0.5 0.5h0m0.5 0.5h0m1-1h0m1 3.5h0m0.5-1.5h0m1.5-1h0m0.5 3h0m4.5-4h0m0.5 2.5h0m0 1.5h0m1 0h0m0-2h0m1-1h0m1 0.5h0m0.5-0.5h0m-21 4.5h0m1 0.5h0m2 1.5h0m0.5 1.5h0m2.5-1h0m1.5-1.5h0m0 2h0m0.5-0.5h0m3-1h0m2 0h0" stroke="#fff" stroke-width="1.3" stroke-linecap="round" fill="none"/>
<path d="M328.5 30h0m0.5 0.5h0m-10.5 8h0m2-1h0m2.5-4.5h0m1 1.5h0m0.5 1.5h0m1 0h0m0.5 0.5h0m1-1h0m1.5 1.5h0m7-2.5h0m-16 7.5h0m1 0.5h0m0.5 0.5h0m0-2h0m4-1h0m-13 7h0m2-1.5h0m0 4h0m0.5-2h0m2.5-2.5h0m1 1.5h0m3.5 0.5h0m-27.5 9h0m9-1h0m2 1.5h0m5.5-2h0m1-0.5h0m0 2.5h0m1.5-2.5h0m0.5 1h0m-27 7.5h0m6.5-3h0m3-2.5h0m0 0.5h0m1 4h0m2-2.5h0m0.5-1h0m7.5 2h0m1.5 1h0m0-4h0m1 4h0m0.5-1.5h0m0.5 2.5h0m6-4.5h0m4.5 4h0m-41.5 5h0m1 0.5h0m0-2h0m1 3h0m11.5-3h0m3 3h0m2 0h0m0.5-3h0m4 0.5h0m0.5 0h0m10-0.5h0m-30.5 4h0m8 1.5h0m-6 11.5h0m-33 10h0m8-2h0m2.5 1h0m7.5 1h0m1-3.5h0m4.5 3h0m4 0h0m2 1h0m0-3.5h0m1.5 2.5h0m-27.5 1.5h0m1.5 5.5h0m2-5h0m7 0h0m1.5 2h0m0.5 3.5h0m1.5-1.5h0m0.5-2h0m1 3h0m0-4h0m1 0h0m2.5 0.5h0m3 1h0m1-2.5h0m0.5 1.5h0m3.5-1h0m0.5-1h0m-32.5 9h0m2-1.5h0m0.5 0h0m1 3.5h0m0.5-4.5h0m4 1.5h0m1.5 3h0m5.5-3h0m2.5 1h0m1.5-2h0m3.5 3h0m4 0h0m2.5-3h0m0.5 2.5h0m2.5 0h0m3.5 0.5h0m0.5 1.5h0m-35 0.5h0m3 4.5h0m2-2h0m0.5 3h0m0-5h0m4.5 3.5h0m0-3h0m0 3.5h0m1.5-3h0m0 0.5h0m0 1h0m1 1h0m0-2h0m2 2h0m1.5 0h0m0.5-3.5h0m3.5 2h0m0.5 2h0m9.5-2h0m1 2h0m3.5 0.5h0m-28.5 4h0m4 0h0m0.5-1h0m11 3.5h0m0-4h0m6 1h0m2 2.5h0m3.5-2.5h0m0.5 0.5h0m1.5-1.5h0m-23.5 5.5h0m7.5 4h0m1.5-4.5h0m0.5 2.5h0m3-3h0m0.5 3h0m1 1.5h0m0.5-3h0m-1.5 7.5h0m1.5 0h0m1.5 0.5h0m1 1h0" stroke="#97d0e4" stroke-width="1.2" stroke-linecap="round" fill="none"/>
<path d="M327.5 27h0m0.5 0h0m-7 3h0m4 0.5h0m0.5 0h0m1 0.5h0m3.5-1h0m0-2.5h0m1 0h0m1.5 1h0m0.5 0h0m0.5-0.5h0m0.5 4h0m0-0.5h0m1-0.5h0m0.5 0h0m0-2h0m1.5 3h0m0.5-0.5h0m-22 7.5h0m1-2.5h0m1.5 0.5h0m1-1h0m0 3h0m0-2h0m0.5-2h0m0 3h0m0.5-3h0m1 0h0m13 3h0m0 0.5h0m4-5h0m0.5-0.5h0m-26 11.5h0m1 0h0m0.5-1h0m1.5-1h0m1-1h0m8 2h0m2 0.5h0m0-0.5h0m0-4h0m1.5 0h0m0 3h0m4.5-1.5h0m3-0.5h0m-38 10.5h0m1-0.5h0m0.5 0.5h0m3.5 0h0m0-1.5h0m6-1h0m0.5 1h0m0.5 0.5h0m0.5-3h0m0.5-2h0m1.5 2h0m1 2.5h0m2-3h0m5 3.5h0m1.5-0.5h0m0.5-4.5h0m0.5 2.5h0m0-1.5h0m-29.5 8.5h0m3.5-2h0m1 0.5h0m2-1.5h0m1 1h0m2.5 1h0m0-1h0m1.5 1h0m0.5 1.5h0m5-3.5h0m7.5 4h0m0.5 0.5h0m0.5 0h0m0-3h0m0-1.5h0m1.5 2h0m3 2.5h0m-40.5 5.5h0m3-3h0m0.5 1h0m1.5 3h0m0.5-3.5h0m0 2h0m0-0.5h0m0.5 0h0m0 1h0m2-4h0m0.5-0.5h0m1 0.5h0m18 5.5h0m3-3h0m1 2.5h0m0-0.5h0m1 0h0m0.5 0h0m0-2.5h0m2 0h0m1.5 0.5h0m0.5 2.5h0m1.5-4h0m0 0.5h0m0.5 3.5h0m0.5-4.5h0m0.5 4.5h0m1.5-4.5h0m0.5-1h0m0.5 5.5h0m0 0.5h0m0-3.5h0m-48 7.5h0m1 0.5h0m1.5-1.5h0m0 0.5h0m2.5-2h0m0-0.5h0m0.5-0.5h0m0.5 0.5h0m19.5 1h0m0 2h0m1.5-1h0m2-1h0m0 0.5h0m0.5 1.5h0m0-3.5h0m1 2h0m0.5-1.5h0m1 0.5h0m4.5 1.5h0m0.5-1.5h0m0.5 0.5h0m0.5 1h0m1-2h0m6 0h0m1 1.5h0m1-2h0m-46.5 7.5h0m0.5-1h0m0.5 3h0m1.5-1.5h0m1 0.5h0m0.5 1h0m1-2h0m0.5-0.5h0m1 2h0m0.5-1h0m1-0.5h0m0 1.5h0m1 2h0m0.5-3h0m0-0.5h0m2 0h0m2.5-2h0m1 1.5h0m0 2h0m0.5-0.5h0m0-2h0m0.5 3.5h0m0.5-0.5h0m0.5-3h0m4 2.5h0m0-1h0m-15 8.5h0m1.5-2h0m1 2h0m0-1h0m-30.5 7.5h0m11.5 0.5h0m6 0h0m0.5-2h0m3.5 2h0m0.5 0h0m0.5-3.5h0m0.5 1h0m1.5 0.5h0m0.5 1h0m0.5-3.5h0m0 3h0m0-1h0m0.5 0h0m0-3h0m2 3.5h0m0.5-0.5h0m0 2.5h0m1-2h0m1.5-2.5h0m1-0.5h0m-40 10.5h0m4-2h0m2-1.5h0m0.5 0.5h0m1.5 1.5h0m0-1h0m4-2h0m1 4.5h0m0-2.5h0m1.5-0.5h0m1 0h0m5-2h0m1.5 0.5h0m2 0h0m7-0.5h0m4.5 4h0m0.5-1.5h0m1.5 0h0m0.5 1.5h0m-40 3h0m0.5 2.5h0m0.5-1.5h0m0.5 3h0m34.5-2h0m2 2.5h0m1-5.5h0m1 4.5h0m0-4.5h0m0 3.5h0m1-0.5h0m0.5-2.5h0m1.5 4h0m-43 3h0m0-1h0m2 1h0m0-1h0m2 4.5h0m0.5 0h0m0-3h0m35-1.5h0m2 2h0m0.5-1.5h0m-38 5h0m0-0.5h0m1 3.5h0m0.5-3h0m0 1.5h0m0 2h0m0-1.5h0m0.5 1.5h0m0.5 0.5h0m0-2.5h0m0.5 1.5h0m0-0.5h0m3.5 2h0m30 0h0m0-3h0m0 2h0m0.5 0.5h0m0.5-1.5h0m0.5 2h0m-36 2.5h0m1.5-0.5h0m1 3h0m1.5-3h0m0.5 4h0m3.5-0.5h0m22 0.5h0m1.5-0.5h0m1.5-2.5h0m0.5 1.5h0m0-0.5h0m0.5-1h0m2 0h0m2 1h0m-32 3h0m0 0.5h0m1.5-0.5h0m1 4h0m1-2.5h0m2.5 1.5h0m0.5-2.5h0m1 4h0m0.5 0h0m1-1h0m2-0.5h0m10 1h0m1-0.5h0m1 1h0m0-4.5h0m0.5 2.5h0m0.5 2.5h0m0-3.5h0m0.5-1.5h0m2.5 1.5h0m-14.5 5.5h0m2.5 2h0m0.5 0.5h0m0-2h0m0.5-0.5h0m0.5 2.5h0m0-2h0m0.5 1.5h0m0.5 0.5h0m0.5-1h0m5.5 1h0m0.5 1.5h0m2-2h0" stroke="#42a9cd" stroke-width="1.2" stroke-linecap="round" fill="none"/>
<path d="M347 63h0m8-0.5h0m0-1.5h0m1-2h0m2 1.5h0m0.5-3h0m1 4.5h0m2-0.5h0m0-3.5h0m6 4.5h0m4.5-1h0m-26 6h0m1.5-2.5h0m3 2h0m1 1h0m9.5-1h0m7.5 1h0m0.5-3.5h0m1.5-1h0m1 1.5h0m0.5-1h0m-27 10.5h0m1-5.5h0m4 4h0m6 1h0m0-1h0m1-1.5h0m2.5-0.5h0m0-1.5h0m6 2.5h0m0 2.5h0m1.5-3h0m0.5 1h0m0.5-2.5h0m0-0.5h0m3 1h0m-31 8.5h0m8-2h0m1-1.5h0m2 2.5h0m1.5 1.5h0m0.5 0h0m2.5 0.5h0m1 0h0m0-4.5h0m0 1h0m1.5 2h0m3 1.5h0m0.5 0.5h0m2.5-4.5h0m-62.5 10h0m5-5h0m0.5 5h0m6.5 1h0m26.5-5h0m3 0h0m1 0.5h0m3.5 0h0m0-1h0m2.5 2.5h0m12.5-1.5h0m1 4h0m0-5h0m1 1h0m3.5 4h0m16.5-1.5h0m1 1h0m1.5-4h0m1 3.5h0m1-2.5h0m4 1.5h0m3.5 2h0m-96.5 2h0m0.5-1h0m6.5 0.5h0m0.5 1.5h0m0 2.5h0m12.5-3.5h0m1 1.5h0m0 2.5h0m7-1.5h0m0.5 1.5h0m2-0.5h0m4 0h0m2 0.5h0m1.5-2.5h0m6-0.5h0m1.5-0.5h0m2.5 2h0m1-0.5h0m1-0.5h0m2.5 2.5h0m4-2h0m0.5 2h0m1.5-3h0m3 0.5h0m0.5 1h0m0-2.5h0m7 0h0m15 1.5h0m0.5-1h0m1 0.5h0m1.5 1h0m2-2h0m7.5-0.5h0m1.5 4h0m-101 7h0m3.5-6h0m1.5 1.5h0m0 3.5h0m1 0.5h0m2 0h0m1.5-0.5h0m0-3.5h0m1.5-0.5h0m1.5 3h0m2-0.5h0m4-2.5h0m0.5 4h0m4.5-3.5h0m1 1.5h0m1.5 1.5h0m1 1h0m0.5 0.5h0m3.5-6h0m0 1.5h0m1-1h0m4.5 5.5h0m4.5-1.5h0m1-3h0m0.5 4.5h0m1 0h0m1.5-5h0m2.5 0h0m4.5 0h0m3.5-0.5h0m5 4h0m1.5-3.5h0m3.5 1.5h0m1.5 3h0m1.5-1h0m1.5-2h0m0-2h0m0.5 1.5h0m1.5 3.5h0m0 0.5h0m2 0h0m0.5-4h0m0-2h0m19 2h0m6.5 2h0m1.5 1h0m2-2h0m1 0h0m0 2.5h0m0.5 0h0m-104.5 5h0m8.5 1h0m1.5-3h0m2.5 3h0m1-1.5h0m0-2.5h0m0.5 3h0m4.5-2.5h0m3 3.5h0m0-4h0m2.5-0.5h0m5.5 3h0m2 0.5h0m0-1.5h0m2-2h0m4 0.5h0m1.5 0h0m2 3h0m1-1.5h0m4.5 1.5h0m2-3h0m3 2h0m4 1.5h0m1-3h0m1 0.5h0m1.5 0.5h0m1-2.5h0m1.5 1h0m0.5-1h0m0.5 4h0m1.5-3.5h0m5 2h0m2-1.5h0m5 4h0m24-4.5h0m6.5 1h0m1 2h0m3 0h0m-109 7.5h0m0-5.5h0m4 1.5h0m0.5 0h0m3 3h0m3-1h0m0.5 1h0m0-1h0m3-0.5h0m7-2.5h0m1 1.5h0m2.5 3h0m1.5 0h0m0-0.5h0m1-3.5h0m2 1h0m2 1h0m13.5 0h0m1.5 1.5h0m2-4.5h0m1.5 0.5h0m1.5 3.5h0m5-1h0m0.5-1h0m2 3h0m1 0.5h0m4.5-1.5h0m3 1.5h0m0.5-5h0m2 0.5h0m2.5 0h0m3 5h0m29-5.5h0m1.5 0h0m0.5 0.5h0m6 0.5h0m-107 5.5h0m7 2h0m0-0.5h0m2.5-0.5h0m2 1h0m1.5-2.5h0m1.5 0h0m3.5 1.5h0m0.5 1.5h0m1 0h0m0.5 0h0m0.5-1h0m0.5-0.5h0m0.5 2.5h0m1.5-0.5h0m0.5-3h0m8.5-0.5h0m0.5 3h0m2-2.5h0m5.5 2h0m1 2h0m1 0.5h0m1-3.5h0m1.5 1h0m2-2h0m0 3.5h0m1-4h0m0.5 3h0m0 1.5h0m2-4h0m3.5 2h0m0.5-2.5h0m0.5 1h0m1 3.5h0m1-3.5h0m3 4h0m3.5-0.5h0m0-4h0m0-0.5h0m1 0.5h0m5 0h0m11 3.5h0m3.5 0h0m-87.5 3.5h0m6.5 0h0m2 3h0m3-5h0m0 2.5h0m0.5 3.5h0m1-0.5h0m0-2h0m1 0h0m0.5-1.5h0m0.5 2.5h0m1.5-4h0m5.5 1.5h0m1.5 0h0m4.5 2.5h0m5 1.5h0m0.5-0.5h0m3.5-1.5h0m1-1.5h0m0.5-0.5h0m1 3.5h0m7-1.5h0m0.5-2h0m0.5 0h0m12 1.5h0m1.5-0.5h0m1-0.5h0m2-0.5h0m1.5 3h0m0.5-1h0m1.5-0.5h0m3-3h0m0.5-0.5h0m10.5 4h0m2 1.5h0m4 0h0m2-5h0m-86 6h0m2 4h0m0.5-3.5h0m5 1.5h0m1 3h0m5 0h0m1-0.5h0m3-1.5h0m2.5-3h0m9 0.5h0m2-0.5h0m0.5 1h0m2-0.5h0m0.5 3h0m4.5-0.5h0m5.5-3h0m0.5 0h0m1 0h0m1.5 0.5h0m1 2h0m0.5 2h0m0 0.5h0m0.5-2h0m2-1h0m0 3h0m1.5-5h0m1 0h0m0.5 4.5h0m4 0.5h0m0.5-5h0m0.5 3.5h0m0.5-3.5h0m-51 9.5h0m1.5 0.5h0m0-0.5h0m4 2h0m2.5-3.5h0m0.5-2h0m1.5-0.5h0m3.5 5h0m1-2h0m2 3h0m0.5-2h0m3-3h0m1 4.5h0m0.5-2.5h0m2-3h0m3 4.5h0m1-3h0m1.5 3.5h0m2 0.5h0m1-1h0m0.5-1.5h0m1.5 1h0m1-0.5h0m10.5-2h0m0.5 0h0m0-1.5h0m-34.5 9.5h0m1.5-3h0m1 4h0m0.5 0h0m1.5-3.5h0m1.5 2.5h0m3 0.5h0m3-1h0m2.5-1.5h0m1.5 2h0m2.5-0.5h0m0.5 1h0m0.5-0.5h0m0-3h0m6.5 1h0m-21 4.5h0m3.5 0.5h0m2.5 3h0m0.5-3h0m0.5 2.5h0m1.5-2.5h0m0 0.5h0" stroke="#eeb6b5" stroke-width="1.2" stroke-linecap="round" fill="none"/>
<path d="M349.5 56h0m2.5-0.5h0m0-0.5h0m3.5-0.5h0m0.5 0.5h0m1.5 1h0m0-1h0m0-1.5h0m0.5 1h0m1.5 1.5h0m3.5 0.5h0m1.5-0.5h0m0-0.5h0m-20 7.5h0m2-4h0m0.5 0.5h0m1.5-1.5h0m1-1h0m0 0.5h0m2 0h0m1-0.5h0m4 0.5h0m6.5 1.5h0m2-0.5h0m0-0.5h0m1.5-1h0m1 0.5h0m1.5 0h0m0.5 1h0m0 3h0m1-0.5h0m3.5-1h0m2 0h0m1 2.5h0m-36 1h0m0.5 3.5h0m0.5-2.5h0m0.5 3h0m1-2h0m32 3h0m1-2h0m0-2h0m0 2.5h0m0.5-3h0m0 3h0m1-2h0m-39.5 6.5h0m1-1h0m0.5 0h0m0.5 4.5h0m2-1h0m26 1h0m2.5-2.5h0m1.5-1.5h0m1.5 3.5h0m0.5 0h0m1.5-5h0m-75 8h0m0.5-0.5h0m1 1.5h0m0.5-2h0m0 1h0m0.5-1h0m0.5 3h0m0.5-3.5h0m1 4h0m1-1h0m0.5 0h0m0.5 1.5h0m1.5 0h0m28.5-2h0m1-2.5h0m0.5 2h0m1.5-2.5h0m1 2.5h0m21 1.5h0m1.5-0.5h0m1 0h0m0.5 0h0m0 1.5h0m1.5-3h0m0.5 2.5h0m0-3h0m5 0h0m17.5 3h0m0 0.5h0m-92 5h0m0-0.5h0m1.5 0.5h0m1-4h0m0 3h0m0.5-1h0m0.5 1h0m0 2.5h0m6-4h0m1-1h0m1 3h0m0-3.5h0m0.5 3.5h0m0.5-1h0m1.5-1h0m2.5 3h0m0 0.5h0m1-1.5h0m1.5 2h0m1-1h0m0.5 1h0m6 0h0m12.5-6h0m1.5 5h0m28-3h0m3.5 4h0m0.5-0.5h0m1.5-0.5h0m7 0.5h0m1.5 0h0m1 0.5h0m0.5-4.5h0m0 2.5h0m1 1h0m0.5-4h0m0.5-0.5h0m0.5-0.5h0m5.5 0.5h0m4 1h0m0.5 0h0m0.5 3.5h0m1.5-1h0m1-1.5h0m-101 7h0m0.5 0h0m1 0.5h0m18-1.5h0m0.5-1.5h0m2.5 0h0m4.5 1h0m1-0.5h0m1 3.5h0m2-2.5h0m0.5 1.5h0m1.5-0.5h0m0.5 0.5h0m0.5-0.5h0m2 0.5h0m1 0h0m1.5 1.5h0m1-1h0m0-1.5h0m1-2.5h0m31.5 0h0m1 2.5h0m2 1.5h0m1-3h0m1 3.5h0m8.5-4h0m0 1h0m0.5-0.5h0m2 3.5h0m13-4.5h0m3 5h0m0.5-1.5h0m3 0h0m-110 7.5h0m1-4.5h0m1 4h0m0.5-3.5h0m33-1.5h0m42.5 3h0m1-3h0m0 5h0m0-2.5h0m0 0.5h0m0.5-2h0m0-0.5h0m0.5 4h0m0 1.5h0m0.5-4h0m0 1h0m8.5 1h0m0.5-2.5h0m1.5 1.5h0m0-1.5h0m0.5 0.5h0m0 0.5h0m3.5-1h0m0.5 4h0m0.5-1.5h0m1.5 1.5h0m1.5-2.5h0m0.5 1.5h0m0.5 1.5h0m0.5-0.5h0m0.5 0h0m7-4h0m0.5-0.5h0m0 4h0m0.5-3.5h0m1.5 0.5h0m0 2.5h0m0.5-0.5h0m0.5-0.5h0m1 2.5h0m1.5-0.5h0m1 0.5h0m-116 0.5h0m0.5 3h0m0.5-3h0m1.5 4h0m0-1.5h0m1 1h0m0.5-0.5h0m77-1h0m0 0.5h0m0.5 0.5h0m1 0.5h0m0-2.5h0m0.5 3.5h0m0-1.5h0m17.5-3h0m4.5 3h0m3 1h0m4.5-3.5h0m3 1h0m2.5 3.5h0m0-2.5h0m1 2h0m-117 6.5h0m0-0.5h0m1-1h0m1-0.5h0m0 2h0m0-1h0m75 0.5h0m0.5-1h0m1 1h0m0 0.5h0m0.5 0.5h0m0-2h0m1.5-3.5h0m0.5 4.5h0m0.5-3.5h0m21.5 0h0m2-1h0m0.5-0.5h0m1 2.5h0m1.5-1h0m0.5 2.5h0m0-2.5h0m1 0h0m1 2h0m0.5 1h0m0.5 0h0m3.5-2.5h0m1 3.5h0m0.5-1h0m0-1h0m0-1h0m0.5 1h0m0.5-3.5h0m0.5 2h0m0.5 2h0m0-1h0m-118.5 8.5h0m0.5-2h0m1.5-1.5h0m0.5 1h0m0.5 0.5h0m0.5 0h0m0-1.5h0m0.5 1h0m74.5 2h0m0.5-4h0m2.5 2h0m0-0.5h0m0.5-2h0m3 4h0m1-0.5h0m0.5 1h0m0.5 0.5h0m0.5-1h0m2.5 1h0m2-0.5h0m0-1h0m0.5-1h0m1.5-0.5h0m1 3h0m19-4.5h0m-113 10h0m0-1h0m0.5-0.5h0m1.5 0.5h0m1 0h0m66.5 2h0m3.5-2.5h0m2 1h0m0.5-4.5h0m1.5 0h0m6.5 1h0m1 2h0m0.5 0h0m0.5 2.5h0m1.5-0.5h0m4 1h0m0.5-6h0m3 2h0m0 1h0m0.5-0.5h0m1 0.5h0m0 0.5h0m1-3.5h0m-94 10.5h0m0.5-1.5h0m0.5 1h0m1 0.5h0m0-0.5h0m4.5 1h0m0-1h0m55 1.5h0m2 0h0m2.5-0.5h0m1.5-1h0m0 1h0m0.5-1.5h0m12.5-3h0m6 1.5h0m0-1h0m0.5 0.5h0m0.5 1h0m-82 4.5h0m1 1h0m0-2h0m0 3.5h0m2-1.5h0m0.5 1h0m2-1.5h0m4 1.5h0m1.5 2.5h0m2-0.5h0m34 1h0m5-1h0m1-2h0m0.5 1.5h0m0 1.5h0m1-2h0m2-1h0m0.5-1.5h0m-47.5 6.5h0m2.5-1h0m0 1.5h0m1-1h0m3.5 0.5h0m1 1h0m1 0.5h0m5 2h0m17-2h0m0.5 0.5h0m2.5 0h0m2-1.5h0m1 0h0m-24.5 4h0m0.5 1h0m1-1h0m1 3.5h0m0.5-1h0m2 0.5h0m0.5 2h0m3 0.5h0m1-2.5h0m0.5-1h0m1 1.5h0m1.5-2.5h0m1 0.5h0m1-1h0m0.5-1h0m2.5 2.5h0m1.5-2h0m1.5-0.5h0m-13 6.5h0" stroke="#e07b78" stroke-width="1.2" stroke-linecap="round" fill="none"/>
<path d="M289 150C290.5 148.8 293.2 146.9 296 146.6C298.8 146.3 302.7 147.1 306 148C309.3 148.9 312.8 150.3 316 152C319.2 153.7 322.7 155.7 325 158C327.3 160.3 329.3 163.5 330 166C330.7 168.5 330.3 171 329 173C327.7 175 324.8 177.2 322 178C319.2 178.8 315.3 178.5 312 178C308.7 177.5 305 176.7 302 175C299 173.3 296.3 170.5 294 168C291.7 165.5 289.2 162.3 288 160C286.8 157.7 286.8 155.7 287 154C287.2 152.3 287.5 151.2 289 150Z" fill="#9cc4d6"/>
<path d="M288 152.5h0m1.5 0h0m1-1h0m0-2h0m1 1.5h0m0-1.5h0m1-1h0m0.5 0.5h0m0 1.5h0m0.5 0h0m1.5-3h0m1 3h0m0-2h0m1 2.5h0m0.5-2.5h0m0.5 1.5h0m0.5-2h0m0 2.5h0m0-1h0m1-1.5h0m0.5 0.5h0m1 1.5h0m0 2.5h0m1-2.5h0m0 2.5h0m0-2h0m0.5-1h0m0-1.5h0m1.5 4.5h0m1.5-2h0m0-1.5h0m2.5 2.5h0m1-0.5h0m5 0.5h0m2 0.5h0m-28 1.5h0m0.5 4h0m0-2.5h0m1-1h0m1 4.5h0m0.5 0.5h0m0-4h0m0 0.5h0m0.5 3h0m0.5-1h0m0.5-3h0m0 4h0m0.5-2.5h0m0-1.5h0m0 2.5h0m0 1h0m0-4.5h0m0.5 4.5h0m1-5h0m0 1.5h0m0.5 1h0m0.5 2.5h0m0-2.5h0m0.5 0.5h0m0.5 2h0m0-4.5h0m0 3.5h0m0-3h0m0.5 4.5h0m0.5-1h0m1.5 0h0m0-3h0m0.5 4h0m0.5-1h0m0.5 0h0m0.5-3.5h0m1-0.5h0m0.5 4h0m0-4.5h0m0 4h0m0.5-1.5h0m0 3h0m0.5-2.5h0m0.5-0.5h0m0-0.5h0m0-1h0m0.5 1h0m1.5 3h0m0-2h0m0.5 2h0m0-3h0m1.5 1.5h0m0.5-3.5h0m0 5h0m0.5-2.5h0m1 0.5h0m0.5 1h0m0.5 1h0m0-1.5h0m1.5-1.5h0m0-2h0m0 3h0m1.5-0.5h0m0.5-1h0m2.5 3h0m3-0.5h0m-31 3h0m0.5-0.5h0m0 2h0m1-0.5h0m1 0.5h0m0-0.5h0m1 3h0m0-3.5h0m0 0.5h0m0-1.5h0m0.5 5h0m0-2h0m1 2h0m0-1h0m0-1h0m0.5 1.5h0m0-1h0m1.5 1h0m0.5-2.5h0m0.5 3h0m0-4.5h0m1.5 2.5h0m0.5-1h0m0.5 3h0m0.5-0.5h0m0-2h0m1.5 1h0m0-3h0m2 4.5h0m0-4h0m0 0.5h0m0-1.5h0m0.5 1h0m0 1h0m0-1.5h0m0.5 1h0m0.5 2h0m1.5-1h0m0 2.5h0m0.5-0.5h0m1-2.5h0m0.5 3h0m1-4.5h0m2 0h0m3 3.5h0m1-2h0m0 0.5h0m1.5-1h0m2-0.5h0m0 2h0m-25.5 5h0m2.5 0.5h0m0.5 2h0m0.5-4.5h0m0 5h0m0.5-5h0m0 2.5h0m0.5 0.5h0m0-1h0m0-2.5h0m0.5 6h0m0-3h0m1.5 0h0m0.5-2.5h0m0.5 5.5h0m0-2h0m1-3h0m2.5 0h0m0.5 1h0m0-1h0m0 5h0m1-3h0m0.5-2.5h0m1 2h0m1 1h0m0.5 1.5h0m2 1h0m0.5-1h0m0-2.5h0m0.5 3h0m0.5-2h0m0.5-2.5h0m1 4.5h0m0.5-1h0m0.5-3.5h0m0 5h0m1.5-1h0m1-3.5h0m2 3h0m3.5-2.5h0m-24.5 4.5h0m1 0h0m0.5 0h0m0 1.5h0m2-0.5h0m0.5-1h0m0.5 1h0m0.5 0.5h0m0.5 2.5h0m0-2h0m0.5-0.5h0m0.5 0.5h0m0-2h0m0.5 4h0m0-2h0m1.5-1h0m1 4h0m1-1h0m0.5 1h0m1-4.5h0m0 0.5h0m1.5 3h0m0 0.5h0m1-3.5h0m3 2h0m6.5 2h0m-9 0.5h0" stroke="#42a9cd" stroke-width="1.3" stroke-linecap="round" fill="none"/>
<path d="M294 149h0m7 1.5h0m0 1.5h0m3.5-3h0m0.5 1.5h0m0 2h0m4-2h0m1 1h0m0-1h0m1.5 2h0m0-1.5h0m0.5 1h0m0-1.5h0m0.5 1h0m3 1h0m-26 5.5h0m3.5-2h0m1.5 1.5h0m6.5 0h0m4.5-1h0m1 1h0m1.5 0h0m0.5-3.5h0m1.5 1h0m0-2h0m2 5.5h0m1-3.5h0m0.5 2.5h0m0.5-1.5h0m0 0.5h0m0.5 1h0m0.5-1.5h0m0 1.5h0m0.5-2.5h0m1 3.5h0m0-0.5h0m0-4.5h0m0 2.5h0m1.5 1h0m0.5-1h0m0.5 1h0m1 0.5h0m0.5 1h0m0.5-3h0m0.5 3h0m0.5-1.5h0m0 1.5h0m0-1h0m3 1.5h0m0-0.5h0m-31 1h0m8.5 2h0m3-1h0m1 2h0m0.5-3h0m0.5 3h0m0.5 0.5h0m0.5-1.5h0m2-1h0m0.5 3h0m0-1.5h0m1 0h0m0 1h0m0-1.5h0m0-2h0m1.5 3h0m0.5-3h0m0 0.5h0m0.5 3.5h0m0.5-3.5h0m0 0.5h0m0.5-1h0m0.5 3h0m0 1.5h0m0-2.5h0m0 2h0m1-1h0m0 2h0m0.5 0h0m0.5-4h0m0.5 1.5h0m0 0.5h0m0.5-2.5h0m0.5 4h0m2.5-2.5h0m0 1h0m1-2.5h0m0.5 4.5h0m0-5h0m0 4h0m0.5 0h0m0.5-3h0m0 3h0m0.5 1h0m0-5h0m0.5 0h0m0.5 2.5h0m0 0.5h0m0-2.5h0m0.5 4.5h0m0-3h0m0 1h0m0.5 1h0m0.5 1h0m1 0h0m-30 6h0m4-1h0m2-1.5h0m0 1h0m1-1h0m0.5 1.5h0m1-0.5h0m1.5 1.5h0m0.5-2h0m0.5 1.5h0m0.5-4h0m0.5-1h0m0 3.5h0m0.5 0h0m0.5 2.5h0m0-0.5h0m0.5-2.5h0m0 3h0m0.5-0.5h0m0.5-4.5h0m0.5 1.5h0m0.5-2.5h0m0.5 4h0m0-1h0m0.5 0h0m0.5-0.5h0m0.5 2h0m0-3h0m0.5 3.5h0m0.5 0h0m0-1h0m0-2h0m0 3.5h0m0.5-2.5h0m0.5-1.5h0m0-0.5h0m1 4.5h0m0-2h0m0.5-3h0m0.5 5.5h0m0-4.5h0m0.5 4.5h0m0.5-6h0m0.5 1.5h0m0 3h0m0-1.5h0m0.5-1.5h0m0 2.5h0m0.5-1.5h0m0.5 1.5h0m0.5-2.5h0m0 4.5h0m0.5-6h0m0 3.5h0m0.5-1h0m0.5-2.5h0m0 1.5h0m0 2h0m0 0.5h0m0.5 1h0m0-2h0m0 2.5h0m0-1h0m1-2h0m0 2h0m0.5-0.5h0m0 0.5h0m1-1h0m0-3.5h0m0 4.5h0m1.5-3.5h0m0-0.5h0m0.5 1h0m-29 6.5h0m4 2h0m0.5-2h0m1 1.5h0m1.5 0.5h0m2.5 1.5h0m0-5h0m0.5 3.5h0m0-3h0m0.5 1.5h0m0.5 0h0m0.5 1h0m0.5-2.5h0m0.5 1h0m0.5 0h0m0.5 1.5h0m1 1h0m0-3.5h0m0 4.5h0m1-1.5h0m1-1.5h0m0 2.5h0m1-1.5h0m0 0.5h0m0-2.5h0m0 1h0m0.5-0.5h0m0 1.5h0m0 1h0m0 0.5h0m0-1h0m0.5 0h0m0.5-3h0m1.5 4.5h0m1.5-2h0m0.5-0.5h0m0-1h0m0 3.5h0m0-2h0m0.5-0.5h0m0 2h0m0-0.5h0m0.5-1.5h0m0.5-2.5h0m0.5 3.5h0m1.5-1.5h0m0 0.5h0m1-1.5h0m-19 4.5h0m1.5 0.5h0m1.5 0h0m1.5 0h0m1.5 0h0m3 0h0m2 0.5h0" stroke="#cdd1d6" stroke-width="1.3" stroke-linecap="round" fill="none"/>
<path d="M291 152h0m2.5 0h0m1.5-4.5h0m0 3.5h0m2-0.5h0m0.5-3h0m2.5 0.5h0m1.5 2h0m1-1h0m3-1h0m0 2.5h0m0.5 2h0m3-1.5h0m2.5 1h0m2 0.5h0m-26 0.5h0m0.5 3h0m0.5 1h0m0-3h0m4 3h0m0.5-1h0m0.5-1.5h0m3.5 2h0m2.5 2.5h0m2-3h0m7.5 1.5h0m1-3h0m0.5 4.5h0m1-6h0m3 0.5h0m0 0.5h0m4.5 3h0m1 1h0m2 0.5h0m-33.5 1.5h0m1 1h0m5.5 2h0m5-2h0m0 2h0m0.5-1.5h0m2 2h0m1-1h0m1-3h0m3 3.5h0m0.5-0.5h0m0.5-2.5h0m1.5 2.5h0m0-3h0m0.5 3h0m1.5 2h0m4-2h0m1.5 0h0m6.5-0.5h0m1.5 2h0m-33.5 1.5h0m1-0.5h0m2 3h0m1 1.5h0m0-4h0m0.5 0.5h0m1 0h0m0.5 4.5h0m1-5h0m0 1h0m1 3.5h0m0.5 0.5h0m0 0.5h0m4.5-6h0m0 4h0m1-4h0m0 2h0m0 2h0m1.5 0.5h0m3.5 1h0m0-3.5h0m2-1.5h0m4.5 1h0m2.5 1.5h0m0.5 2.5h0m1-2.5h0m2 1h0m2-4h0m0.5 4h0m0.5 0.5h0m1.5-2h0m1 0h0m0.5-1.5h0m-28.5 7h0m0-1h0m2.5 0h0m0 2.5h0m2-3h0m0 4.5h0m0.5-3h0m1.5 1.5h0m0-1h0m1.5-2h0m3.5 2h0m1-0.5h0m1 2h0m2-2h0m0.5 2h0m1.5 0h0m0.5 0.5h0m2.5 0h0m0 1h0m2.5-2.5h0m1 1.5h0m2.5-3h0m-8 5h0m2.5 0h0" stroke="#fff" stroke-width="1.2" stroke-linecap="round" fill="none"/>
<path d="M287.5 147h0m5-1h0m1.5 1h0m6-0.5h0m0 0.5h0m0.5 0h0m0-1h0m0.5-0.5h0m3 1h0m0.5 0.5h0m0.5-1h0m0.5 0h0m1.5 0h0m-21.5 6h0m0.5 0h0m0 0.5h0m0.5-0.5h0m2-4h0m1 1.5h0m4-2h0m1.5 4.5h0m3-4.5h0m1 0.5h0m0.5 0.5h0m6 1h0m2.5-1h0m4 0.5h0m1 1h0m0.5-1h0m0.5 1h0m0.5 0.5h0m1.5 1.5h0m2.5-3h0m0.5 2.5h0m-34 5h0m1 0h0m0-1h0m1 0h0m0 3.5h0m31.5-5h0m5.5 5h0m0.5-2h0m1.5 1h0m3.5-1h0m-43.5 5.5h0m1-2.5h0m2 0.5h0m1 2.5h0m4-0.5h0m30-3h0m0.5 2.5h0m3-2h0m0.5 3.5h0m0-2h0m0.5 2.5h0m2-1.5h0m-43.5 2.5h0m4.5 3h0m1-0.5h0m0-1h0m1 1.5h0m1 0.5h0m0 0.5h0m1.5 0h0m3 2h0m30-0.5h0m1.5-5h0m0.5 4.5h0m-36.5 1.5h0m2 2h0m1.5-0.5h0m0.5 1h0m2 0h0m0.5-1h0m1.5 2h0m1-1.5h0m2.5 3h0m0.5-2.5h0m8 0.5h0m1.5 2h0m9-2h0m0.5-1h0m4 1.5h0m-22.5 2.5h0m1 0.5h0m2 0h0m0 1h0m0.5-1h0m0.5-1h0m0 2.5h0m1-2.5h0m1.5 2.5h0m0.5-1h0m0.5 0.5h0m6 0.5h0m0.5 0h0m0-1.5h0m0.5 2h0m0-1h0m0.5-2h0m1 0h0" stroke="#9cc4d6" stroke-width="1.2" stroke-linecap="round" fill="none"/>
<path d="M351.5 62.5h0m4.5-4.5h0m-11 9.5h0m11.5-2.5h0m6.5 12h0m-12 7.5h0m13 1.5h0m-48 5h0m2 0.5h0m29-0.5h0m8-2.5h0m2 2h0m5.5-2.5h0m9 4.5h0m-60 6h0m10-5h0m29-0.5h0m14 3.5h0m-48 6.5h0m35.5 1h0m4-1.5h0m5 1.5h0m1.5-3.5h0m-65 5.5h0m40 4.5h0m18.5-3h0m-51.5 13.5h0m3.5-2.5h0m9-1h0m20.5 2h0m17.5-0.5h0m1.5-0.5h0m-29.5 8.5h0m6.5 1.5h0m1.5-2h0m8.5 2h0m-15 1h0m5 1h0m11.5 2h0m-5.5 9h0" stroke="#cdd1d6" stroke-width="1.2" stroke-linecap="round" fill="none"/>
<path d="M264.5 53 L272.6 58.5" stroke="#42a9cd" stroke-width="1.2"/>
<path d="M352.5 156 L354.5 164.7" stroke="#e07b78" stroke-width="1.5"/>
<circle cx="271.6" cy="151.6" r="1" fill="#42a9cd"/>
<circle cx="365.8" cy="149" r="2.7" fill="#e07b78"/>
<text x="375" y="151.9" font-size="9" fill="#0a0a0a" stroke="#0a0a0a" stroke-width="0.22">aneuploid</text>
<circle cx="365.8" cy="159.4" r="2.7" fill="#42a9cd"/>
<text x="375" y="162.3" font-size="9" fill="#0a0a0a" stroke="#0a0a0a" stroke-width="0.22">diploid</text>
<circle cx="365.8" cy="170.7" r="2.7" fill="#cdd1d6"/>
<text x="375" y="173.6" font-size="9" fill="#0a0a0a" stroke="#0a0a0a" stroke-width="0.22">undefined</text>
<path d="M250.2 149.3 V184.6 H287.6" stroke="#1a1a1a" stroke-width="1" fill="none"/>
<path d="M250.2 145.3 l-2.2 5h4.4z" fill="#1a1a1a"/>
<path d="M291.6 184.6 l-5 -2.2v4.4z" fill="#1a1a1a"/>
<text x="250.8" y="198.5" font-size="8.6" fill="#0a0a0a" font-weight="bold">t−SNE1</text>
<text x="0" y="0" transform="translate(245.4 169.6) rotate(-90)" font-size="8.6" fill="#0a0a0a" text-anchor="middle" font-weight="bold">t−SNE2</text>
<path d="M498.9 71.2C498.9 70 499.1 66.2 500.2 64.7C501.3 63.2 503.5 63.5 505.5 62C507.5 60.5 510.2 57.2 512 55.5C513.8 53.8 514.2 52.4 516 51.5C517.8 50.6 520.6 51.3 522.6 50.2C524.6 49.1 526.5 47 527.8 45C529.1 43 529.1 40.8 530.4 38.4C531.7 36 533.8 32.2 535.7 30.5C537.6 28.8 540 27.8 541.6 27.9C543.2 28 544.9 29.2 545.5 31.2C546.1 33.2 546.1 37.2 545.5 39.7C544.9 42.2 543 44.3 541.6 46.3C540.2 48.3 538.4 50 537 51.5C535.6 53 533.9 54.2 533 55.5C532.1 56.8 531.1 58.5 531.8 59.4C532.5 60.3 536.2 59.9 537 60.7C537.8 61.5 537.3 63.8 536.4 64C535.5 64.2 533.2 61.2 531.8 62C530.4 62.8 529.6 67.9 527.8 68.6C526 69.3 523 65.3 521.2 66C519.5 66.7 518.8 71.9 517.3 72.6C515.8 73.3 514.2 70 512 70C509.8 70 506.2 72.3 504.2 72.6C502.2 72.9 501.1 72.1 500.2 71.9C499.3 71.7 498.9 72.4 498.9 71.2Z" fill="#d0ecc0" fill-opacity="0.75"/>
<path d="M504.4 79.4C505.4 79.7 505.5 83.1 505.9 86.7C506.3 90.3 506.9 96.9 506.6 101.3C506.4 105.7 505.2 109.3 504.4 113C503.5 116.7 502.5 120.8 501.5 123.2C500.5 125.6 499.8 127.8 498.6 127.6C497.4 127.3 496.1 123.4 494.2 121.7C492.2 120 489.3 118.8 486.9 117.3C484.5 115.8 481.4 115.2 479.6 113C477.8 110.8 476.7 107.4 476 104.2C475.3 101 474.6 96.4 475.2 94C475.8 91.6 476.9 90.6 479.6 89.6C482.3 88.6 487.9 88.8 491.3 88.1C494.7 87.4 497.8 86.7 500 85.2C502.2 83.8 503.4 79.2 504.4 79.4Z" fill="#dcf0b4" fill-opacity="0.75"/>
<path d="M520.1 75.7C520.9 76 522.9 81.3 525.7 83.7C528.5 86.1 533.8 89.3 537 90.1C540.2 90.9 542.9 90.1 545 88.5C547.1 86.9 549.3 82.9 549.8 80.5C550.3 78.1 547.9 76.8 548.2 74.1C548.5 71.4 549.8 67.2 551.4 64.5C553 61.8 555.1 59.5 557.8 58C560.5 56.5 564.4 55.5 567.4 55.6C570.4 55.7 573.6 57.1 575.5 58.8C577.4 60.5 578.7 63.9 578.7 66C578.7 68.2 577.4 69.8 575.5 71.7C573.6 73.6 569 75 567.4 77.3C565.8 79.6 565 82.9 565.8 85.3C566.6 87.7 570.1 90.2 572.3 91.8C574.4 93.4 578 93.1 578.7 95C579.4 96.9 576.8 99.8 576.3 103C575.8 106.2 577 110.2 575.5 114.2C574 118.2 570.9 122.8 567.4 127.1C563.9 131.4 558.6 136.8 554.6 140C550.6 143.2 546.9 146.2 543.4 146.4C539.9 146.7 536.9 143.4 533.7 141.5C530.5 139.6 527.1 137.5 524.1 135.1C521.1 132.7 517.5 130.6 516 127.1C514.5 123.6 515.7 119 515.3 114.2C514.9 109.4 513.6 101.9 513.7 98.2C513.8 94.5 514.8 94.5 516 91.8C517.2 89.1 520.2 84.8 520.9 82.1C521.6 79.4 519.3 75.4 520.1 75.7Z" fill="#ec9058" fill-opacity="0.75"/>
<path d="M581.9 88.5C582.3 86.6 585.1 83.4 586.7 82.1C588.3 80.8 589.9 79.4 591.5 80.5C593.1 81.6 595 85.8 596.4 88.5C597.8 91.2 598.1 93.9 599.6 96.6C601.1 99.3 604.4 102.5 605.2 104.6C606 106.7 605.3 108.6 604.4 109.4C603.5 110.2 601.2 110.5 599.6 109.4C598 108.3 596.4 105.4 594.8 103C593.2 100.6 591.6 96.6 589.9 95C588.1 93.4 585.6 94.5 584.3 93.4C583 92.3 581.5 90.4 581.9 88.5Z" fill="#c03060" fill-opacity="0.75"/>
<path d="M580.3 115C581 114.1 583.3 113.4 585 113.4C586.7 113.4 589.9 113.8 590.7 115C591.5 116.2 591.1 119.7 590 120.7C588.9 121.7 585.6 121.3 584 121C582.4 120.7 581.1 120 580.5 119C579.9 118 579.5 115.9 580.3 115Z" fill="#c83864" fill-opacity="0.75"/>
<path d="M508.1 146.5C509.2 145.8 510.7 145 513.2 145C515.8 145 520.2 146.1 523.4 146.5C526.6 146.9 530 146.1 532.2 147.3C534.4 148.5 535 151.2 536.5 153.8C538 156.4 540.2 159.9 540.9 162.6C541.6 165.3 541.9 167.7 540.9 169.9C539.9 172.1 537.8 174.6 535.1 175.7C532.4 176.8 528.1 177 524.9 176.5C521.7 176 518.5 174.6 516.1 172.8C513.7 171 511.9 168.2 510.3 165.5C508.7 162.8 507.2 159.5 506.6 156.8C506 154.1 506.4 151.2 506.6 149.5C506.9 147.8 507 147.2 508.1 146.5Z" fill="#48a4d8" fill-opacity="0.75"/>
<path d="M557.7 155C558 153.8 559.4 153.8 560 154.6C560.6 155.4 561.3 158.4 561.4 160C561.5 161.6 561.1 163.7 560.5 164C559.9 164.3 558.5 163.5 558 162C557.5 160.5 557.4 156.2 557.7 155Z" fill="#d85068" fill-opacity="0.75"/>
<path d="M533.5 32.5h0m2.5 1.5h0m6 5h0m0-3h0m-12.5 5.5h0m1.5 2.5h0m4 0.5h0m0-3.5h0m-8.5 6h0m1-1.5h0m5.5 0.5h0m0 0.5h0m-7 8h0m3-1h0m1.5-0.5h0m1.5 3h0m-28 7h0m6.5-5.5h0m10.5-0.5h0m7 6h0m1.5-0.5h0m4 0h0m3-0.5h0m-35 1.5h0m2 0.5h0m0.5 2.5h0m6.5 2h0m9-2h0m4.5-0.5h0m2.5 2h0m-28 4.5h0m3.5-3.5h0m0.5 0.5h0m2 3.5h0m0.5 6.5h0m-1.5 3.5h0m-26.5 9h0m22.5 0h0m7.5 0h0m-31 1h0m18 1.5h0m2-1h0m0.5 0h0m2 0.5h0m0.5 0h0m0.5 2h0m2-1.5h0m1-1.5h0m0.5 3.5h0m3.5 0h0m0 2h0m0-5.5h0m-30.5 10h0m1.5-3h0m4.5 4h0m1 0.5h0m2.5-1h0m-1 3h0m3 3h0m0 1h0m14-5h0m3 1.5h0m-21.5 8h0m0-3.5h0m1.5 2.5h0m2-2h0m2.5-0.5h0m2 1h0m0 1h0m4 2.5h0m2 0h0m-9 1h0m12.5 2h0m-1.5 8h0" stroke="#bee6c8" stroke-width="2.1" stroke-linecap="round" fill="none"/>
<path d="M541.5 31h0m-10 7.5h0m2.5 0.5h0m2.5-6h0m3 2.5h0m1 0.5h0m-10 4h0m0 2h0m0.5 1h0m1-2h0m4 0h0m6.5 2.5h0m-21 7.5h0m2-0.5h0m11.5-5.5h0m-17.5 8.5h0m1.5 1h0m5.5-1.5h0m5.5-1.5h0m3 4h0m3-3.5h0m2 0.5h0m-33 8.5h0m4.5 1.5h0m3-4.5h0m21 2.5h0m0-0.5h0m4.5 2.5h0m-36.5 6h0m10.5-2h0m7.5 1h0m7.5-2.5h0m0.5 2h0m-24.5 2.5h0m7.5 0h0m7.5 1h0m9.5-1.5h0m-26 14h0m2.5-1h0m0.5 0.5h0m-24.5 8h0m14.5-0.5h0m4.5-0.5h0m5.5-1.5h0m-28 6h0m15.5 3.5h0m3-3.5h0m0 0h0m0.5 5h0m0-2.5h0m0.5-1h0m7.5 2.5h0m-27 6.5h0m1-5h0m7 1.5h0m0 2h0m1-3h0m6.5 3h0m6.5 0h0m0.5 0h0m1.5 0.5h0m1-3h0m2 1h0m-24.5 3.5h0m1 0.5h0m2.5 3h0m0.5-1h0m3.5 3h0m0.5-5.5h0m4.5 4h0m2 0.5h0m11 1h0m-23 2h0m0.5 0h0m0 1.5h0m3.5-0.5h0m6.5-1h0m0.5-1h0m4.5 2.5h0m3 1.5h0m-10.5 3.5h0m4.5-0.5h0m2.5-1.5h0m0.5 2h0m1 1h0m2 1h0m2-1.5h0m-5 5h0m2 2h0" stroke="#d2f0be" stroke-width="2.1" stroke-linecap="round" fill="none"/>
<path d="M531.5 38h0m3-0.5h0m1 0h0m0-4.5h0m0.5 2.5h0m0.5-2.5h0m3.5 3.5h0m2-2h0m1.5 3h0m1.5-3h0m-16 8h0m14.5 0h0m1-1h0m0-0.5h0m-19 10h0m0-1.5h0m6.5-1.5h0m1.5 1.5h0m3 0.5h0m4.5-4h0m-21.5 10.5h0m3.5-4h0m9.5 2h0m0.5-0.5h0m-26 7h0m1-1h0m10.5-1h0m9.5-1h0m1.5 5h0m2-2h0m1-3h0m-29.5 7h0m1 3.5h0m3.5-4h0m9 4h0m-14 2.5h0m0.5-1.5h0m1.5 2.5h0m2.5-1h0m6.5-0.5h0m-13 16.5h0m3 0h0m0.5-2h0m2 0h0m-26.5 6.5h0m5 1h0m6-2h0m5-2h0m2.5 3h0m3.5-0.5h0m5.5-2h0m-31.5 6.5h0m1-2.5h0m3.5 3.5h0m13-0.5h0m2 1h0m0.5-3.5h0m1.5-0.5h0m0 3.5h0m-17.5 5h0m2 1.5h0m0.5-3h0m5-0.5h0m0.5 3h0m3-1.5h0m1 1.5h0m7.5-0.5h0m0 1h0m1-3.5h0m1 1.5h0m0.5-0.5h0m1.5 3.5h0m2.5 0h0m3-1.5h0m-29 6h0m6-3.5h0m0.5 2.5h0m1.5 0.5h0m2.5 1.5h0m0.5 1h0m1-4.5h0m0 2.5h0m0-1h0m1 1h0m0.5 2.5h0m3-6h0m8.5 1h0m-23 5.5h0m1.5 0h0m0.5 2.5h0m17 1h0m-13.5 4h0m8-1h0m3 0.5h0m0.5 1h0m5.5-2h0m1 2.5h0m-3 4h0" stroke="#dcf0be" stroke-width="2.1" stroke-linecap="round" fill="none"/>
<path d="M540.5 30.5h0m2.5-0.5h0m-8 8.5h0m3 0.5h0m0.5-3h0m0 2h0m7-2.5h0m-16 6.5h0m4 7h0m7.5-3h0m-21.5 5.5h0m13 4.5h0m0.5-2.5h0m-18.5 7h0m11.5 0.5h0m6.5 0.5h0m-17.5 2.5h0m-9.5 7.5h0m12.5-0.5h0m-16.5 15.5h0m4-2h0m0.5-1.5h0m-25 7h0m1-1h0m5.5 0.5h0m2.5 1h0m3 2h0m2.5-3.5h0m2.5-1.5h0m-13.5 6.5h0m0.5 1h0m6 0.5h0m-12.5 4h0m2 4h0m1 0.5h0m6.5-3h0m1.5 0.5h0m2-1.5h0m1 3.5h0m1.5 0.5h0m0.5-3h0m0 0.5h0m1 0.5h0m1.5 1.5h0m4-1h0m5.5 0h0m2-0.5h0m-29 6h0m17.5 2.5h0m-2.5 1h0m1 2.5h0m0.5 0.5h0m4-3h0m1 2.5h0m1.5-1h0m1 1h0" stroke="#dcf0aa" stroke-width="2.1" stroke-linecap="round" fill="none"/>
<path d="M527.5 43.5h0m-9 10h0m-18.5 9.5h0m9.5-2h0m3-3.5h0m-10.5 10h0m20-2h0m3.5-1.5h0m2 3h0m1.5-3.5h0m2 0h0m-25.5 7.5h0m0.5 26h0m-11 24h0m4.5 6h0" stroke="#aae6c8" stroke-width="2.1" stroke-linecap="round" fill="none"/>
<path d="M535 30.5h0m-3.5 8h0m3-1.5h0m7.5-1h0m-16 11.5h0m0-2.5h0m1.5 5.5h0m6-1.5h0m3-2.5h0m-22 8h0m7.5-2.5h0m6.5 0h0m-25.5 10.5h0m5.5 0.5h0m7.5-1.5h0m0 1h0m4.5-1.5h0m2 0h0m2 1.5h0m1-1h0m5-3.5h0m1 2h0m4 3h0m-33.5 4h0m3.5-3h0m11 3h0m0-3h0m1.5 1h0m6 1.5h0m1-2h0m2.5 3h0m0.5 0h0m-26.5 2h0m4 2.5h0m13-2h0m-12.5 16h0m-9 6h0m4.5 0.5h0m0.5-0.5h0m-26.5 5.5h0m0 1h0m2-2h0m12.5-2h0m8.5 3h0m2-4.5h0m1.5 2h0m0 3h0m2-3.5h0m-18.5 7.5h0m1 2h0m9.5-4h0m2 1.5h0m1-2h0m3 2h0m2.5 2.5h0m-19.5 7h0m1 2.5h0m1 0.5h0m2 3.5h0m4 0.5h0m1.5 2h0m3.5 2h0m3-3.5h0m1.5-1h0m0.5 0h0m-4 8h0" stroke="#b4e6c8" stroke-width="2.1" stroke-linecap="round" fill="none"/>
<path d="M537 39h0m4-2.5h0m3-1h0m-10.5 8.5h0m-4 8h0m3-0.5h0m-16 5.5h0m2 0h0m-2 7h0m10 1.5h0m-31.5 22.5h0m1.5 0h0m-12.5 16h0m2.5-3h0m6.5 10.5h0m7.5 0h0m4 0.5h0m23.5 0.5h0" stroke="#e6f08c" stroke-width="2.1" stroke-linecap="round" fill="none"/>
<path d="M527 43.5h0m7.5-0.5h0m-6.5 6.5h0m-9 5.5h0m13.5-1h0m-22.5 8h0m1-4h0m5 3.5h0m6 1h0m-14 4.5h0m13-2h0m3.5 0h0m-23 4.5h0m2 2h0m0 0.5h0m2.5-0.5h0m-8.5 19h0m-5.5 7h0m6.5-3h0m3 4h0m-12 11.5h0m3 6h0m0 3h0m0.5 0h0m9-1h0m-2 6.5h0" stroke="#aadcc8" stroke-width="2.1" stroke-linecap="round" fill="none"/>
<path d="M523 48.5h0m1.5 1.5h0m-4 2.5h0m8-0.5h0m-7.5 6h0m-21.5 8.5h0m4 3.5h0m8.5-1h0m6.5 2h0m-25 18h0m-17.5 4h0m2.5 1.5h0m11.5 3h0m5.5-1h0m4-2h0m7 2.5h0m-22 6.5h0m5.5 5.5h0m1.5-2.5h0m-11 5h0m14 9.5h0m2.5-1h0m3.5-1.5h0m1 4.5h0" stroke="#c8e6be" stroke-width="2.1" stroke-linecap="round" fill="none"/>
<path d="M531.5 42h0m-10.5 9h0m-9.5 5h0m5-2h0m4.5-1.5h0m2.5 0.5h0m9-0.5h0m2 2.5h0m-18.5 4h0m7-0.5h0m-20.5 6h0m3 2h0m8 1h0m7-2h0m6.5 1h0m3-2h0m-28.5 27h0m-12.5 27h0m11 3h0" stroke="#96dcc8" stroke-width="2.1" stroke-linecap="round" fill="none"/>
<path d="M538 32h0m6-1.5h0m-9.5 6h0m9.5 2.5h0m-4.5 5h0m-49 57.5h0m28 15h0m1.5-1.5h0m4.5-0.5h0m1 1h0m-6.5 6h0m3.5-4h0m7 8.5h0m6 1.5h0m19-2h0" stroke="#e6e65a" stroke-width="2.1" stroke-linecap="round" fill="none"/>
<path d="M531 42h0m11.5 2.5h0m-26.5 12.5h0m0.5 3h0m7 0h0m8-2.5h0m2.5 3.5h0m-22 6h0m-12.5 2.5h0m7 3.5h0m-3 7.5h0m-5.5 13.5h0m6.5 1.5h0m-27 5h0m5 12.5h0m5 0h0m4 1.5h0m1 2h0m3.5 2h0m1.5 4h0m0-1h0m4 3h0" stroke="#c8e6c8" stroke-width="2.1" stroke-linecap="round" fill="none"/>
<path d="M539 40h0m-9 8h0m-6.5 8h0m7.5 3.5h0m-21 7.5h0m-4.5 4h0m-3.5 28.5h0m1 2.5h0m35 59h0" stroke="#78d2c8" stroke-width="2.1" stroke-linecap="round" fill="none"/>
<path d="M539.5 40.5h0m2.5-0.5h0m-13.5 9h0m3.5-1.5h0m7 1.5h0m-20 19h0m-20 3h0m2.5-1.5h0m-4.5 17.5h0m-2.5 4h0m-15.5 5.5h0m3 1.5h0m0.5-5h0m2.5 1.5h0m21 8.5h0m-23 4h0m20 6h0m22.5 3.5h0m1-1.5h0m33.5 5.5h0m-37 11h0" stroke="#e6f096" stroke-width="2.1" stroke-linecap="round" fill="none"/>
<path d="M537.5 42h0m-6.5 4.5h0m-47 65.5h0" stroke="#8cdcc8" stroke-width="2.1" stroke-linecap="round" fill="none"/>
<path d="M525.5 54.5h0m10.5-2h0m-15.5 6.5h0m8-1.5h0m-21 8h0m19.5 2.5h0m2.5-4.5h0m10 97h0" stroke="#64c8be" stroke-width="2.1" stroke-linecap="round" fill="none"/>
<path d="M534.5 32h0m8-3.5h0m-10 6.5h0m1.5 2.5h0m0 1.5h0m0.5-1h0m3.5 1h0m2.5-1.5h0m-8 3.5h0m1-0.5h0m4 2h0m0 1h0m4-3h0m-14 7h0m2.5 2.5h0m0.5-2h0m1.5 1h0m2.5-1h0m2-0.5h0m-19.5 4.5h0m16.5 2.5h0m-35.5 30h0m6-3.5h0m-24.5 9h0m0.5 2h0m0.5-2.5h0m0.5 2h0m0 0.5h0m0-0.5h0m4.5-2h0m1 0.5h0m0.5 1.5h0m2.5 0.5h0m0.5-2h0m1 2.5h0m0-2.5h0m1-1.5h0m11 2h0m2.5 0h0m-25.5 6.5h0m0.5 2h0m1.5-2h0m0 2h0m4-4h0m3-1.5h0m-10.5 8h0m6 1h0m0.5-1h0m0.5-1.5h0m0 1h0m1 2.5h0m2.5-3.5h0m2 1.5h0m4.5 2.5h0m-17.5 4.5h0m9-2h0m0.5 0.5h0m3.5 1h0m3 3h0m3-1.5h0m1-4.5h0m2.5 0h0m2 5.5h0m0-1.5h0m1.5-4h0m2 5.5h0m-25.5 2.5h0m15.5 2h0m1-3.5h0m2 1.5h0m5 1h0m1 0.5h0m-9.5 3.5h0m33.5 9.5h0m1.5-0.5h0" stroke="#e6f0aa" stroke-width="2.1" stroke-linecap="round" fill="none"/>
<path d="M536.5 32h0m6 0.5h0m0-2h0m-4 8h0m7-2.5h0m-5.5 3.5h0m0.5 5h0m4-2.5h0m-20 5.5h0m2 3h0m7.5-1.5h0m0.5-1.5h0m2 3h0m0-4.5h0m-21.5 10h0m1-1h0m11.5-2.5h0m7.5 0h0m-32 12.5h0m11 3h0m7.5 0h0m14.5-4.5h0m-33 9h0m3.5 0h0m-5.5 13h0m0.5-1h0m3-3h0m-25.5 10.5h0m2-0.5h0m2-2.5h0m4.5 0h0m2.5 1h0m2.5 2.5h0m4-1.5h0m8.5 1h0m0.5-3h0m-25.5 10h0m2.5-0.5h0m3.5-4.5h0m1 0h0m1.5 1.5h0m-7 7h0m7-1.5h0m3-1.5h0m8.5 4h0m6-0.5h0m-30.5 3h0m1 1.5h0m2.5 0h0m16 3h0m1.5-0.5h0m4.5-2.5h0m1.5 0.5h0m2.5-1h0m-10.5 5.5h0m0-0.5h0m3.5 1.5h0m0 0.5h0m1.5-1h0m2 2h0m18 3.5h0m6 2h0m3 7.5h0m-7.5 3h0m13 2.5h0m-4.5 5h0" stroke="#e6f0a0" stroke-width="2.1" stroke-linecap="round" fill="none"/>
<path d="M515 56h0m-7.5 1h0m0.5 11.5h0m18.5 78.5h0m0.5-2h0m0.5 1.5h0m-5 3h0m8-2h0m3 12.5h0m3 0.5h0m3 3h0m-2 3h0m1-1.5h0m1.5 0h0" stroke="#50bec8" stroke-width="2.1" stroke-linecap="round" fill="none"/>
<path d="M538.5 31h0m7 1.5h0m-9.5 1h0m0.5 1h0m0 0.5h0m3 1h0m4.5-0.5h0m-16 5.5h0m2 3.5h0m0.5-2.5h0m0.5 1.5h0m2.5 1h0m0-5h0m1.5 4.5h0m0.5 0.5h0m0.5-4h0m5 2h0m1-1h0m1 1h0m0.5 0.5h0m-17.5 5.5h0m1.5-1h0m0 2.5h0m4.5-0.5h0m1.5-2h0m0-1.5h0m1.5 2h0m8-2.5h0m-30.5 8.5h0m3 1h0m0.5-2.5h0m1.5-0.5h0m0.5-0.5h0m2 0.5h0m3.5 0.5h0m3.5-1h0m0.5 0.5h0m1 1.5h0m0.5-2h0m3 2h0m4 1h0m1.5-0.5h0m-25.5 8h0m6.5-3.5h0m6 0h0m5 2.5h0m1 0.5h0m3 0h0m-32 5.5h0m0.5-1.5h0m12 2.5h0m2.5-1h0m0 1h0m2-1.5h0m-19.5 3.5h0m1-1h0m5 4h0m0.5-1h0m11 0h0m-25.5 14.5h0m5.5 0.5h0m1-0.5h0m5-3.5h0m1.5 4h0m0 0h0m0.5-5h0m0.5 2h0m-26.5 8h0m0-3.5h0m0.5 2.5h0m0.5-0.5h0m2.5 2h0m0.5-1.5h0m5.5 1.5h0m0.5-1.5h0m2.5-2h0m0 0.5h0m1.5 2.5h0m2.5 0.5h0m0-2.5h0m8.5-1.5h0m1 3h0m-25 2h0m0.5 1.5h0m0 4h0m0.5-5.5h0m0 3h0m1 0h0m1 2.5h0m0-0.5h0m2.5 0.5h0m3.5 0h0m1.5-1.5h0m1.5-1.5h0m1.5 1h0m3.5-2h0m1 2h0m8-4h0m-29.5 8h0m1.5 2h0m5-3h0m0.5 4h0m1-2h0m2 2.5h0m1.5-1.5h0m2 0.5h0m0-2.5h0m0.5 3h0m0-0.5h0m5 0.5h0m0.5-1h0m1 0.5h0m5-2h0m3 3h0m-28.5 0.5h0m3 2.5h0m0.5 0.5h0m0 1.5h0m2.5-3h0m4 3h0m3.5-2h0m1 2h0m4-1.5h0m1 1h0m1 1.5h0m1-5h0m2.5 5.5h0m1-3.5h0m0.5-2h0m4.5 0.5h0m-25 6h0m8.5 1h0m1.5 1.5h0m0.5-2h0m3-0.5h0m0.5 2.5h0m2 0.5h0m2.5-2.5h0m2 4h0m0.5-2.5h0m0-1.5h0m0.5 1h0m0.5 1h0m0-3h0m2.5 3h0m-16.5 4h0m4-0.5h0m2.5 3.5h0m2.5-3h0m0-0.5h0m4.5 1h0m-6 4.5h0m4.5 0h0m25.5 2.5h0" stroke="#dcf0b4" stroke-width="2.1" stroke-linecap="round" fill="none"/>
<path d="M515.5 62h0m15 0.5h0m-44.5 53h0m45 30h0m-5.5 3h0m12 9.5h0m0.5 1.5h0" stroke="#50bebe" stroke-width="2.1" stroke-linecap="round" fill="none"/>
<path d="M539 33.5h0m-25.5 25h0m15 48.5h0m-3 13h0m4.5-0.5h0m28 2.5h0m-42 2.5h0m8.5 3.5h0m2.5-4.5h0m1.5 2.5h0m11 16.5h0" stroke="#e6e646" stroke-width="2.1" stroke-linecap="round" fill="none"/>
<path d="M528 45.5h0m-1.5 7.5h0m5 0.5h0m2.5 2h0m-27.5 6.5h0m16-3.5h0m-2.5 5.5h0m-22 32h0" stroke="#6ec8be" stroke-width="2.1" stroke-linecap="round" fill="none"/>
<path d="M541 45.5h0m-18 8h0m1.5 1h0m8.5-1h0m2.5 0h0m-29 6h0m1.5 2.5h0m18.5 0h0m3.5-1h0m0.5-1.5h0m0.5 3.5h0m2-2h0m3 0.5h0m-21 6h0m-14.5 3h0m14 0.5h0m5.5-2h0m-23 24.5h0m5.5 2.5h0m-19 19h0m1.5 0.5h0m2 1h0m6 2.5h0" stroke="#a0dcc8" stroke-width="2.1" stroke-linecap="round" fill="none"/>
<path d="M534 51h0m4-5h0m2 2.5h0m-15.5 5h0m-12.5 8h0m6.5 1h0m7.5-5.5h0m3 6h0m0.5-1.5h0m-29.5 3.5h0m17 1h0m-2 6h0m1.5 0h0m-20 20h0m-19 1.5h0m1.5 0h0m16 1.5h0m6.5 1h0m3.5-2.5h0m1 4h0m-29.5 6.5h0m0.5-4h0m10.5 3h0m2.5 0.5h0m1-4h0m0 1h0m2.5 2h0m14.5-3h0m-21.5 14.5h0m6-1.5h0" stroke="#c8f0be" stroke-width="2.1" stroke-linecap="round" fill="none"/>
<path d="M535.5 48h0m-6.5 6h0m-6.5 5h0m-16 8.5h0m3 0h0m12.5-0.5h0m3-2.5h0m-16 5.5h0m6.5-0.5h0m-15 24h0m37.5 65h0" stroke="#8cd2c8" stroke-width="2.1" stroke-linecap="round" fill="none"/>
<path d="M521 56.5h0m11.5-1.5h0m-24 5h0m5.5 2h0m2.5-4h0m3.5-0.5h0m2.5 5h0m5-0.5h0m3-1h0m-22 7h0m21-4h0m-26.5 26h0m-2.5 6h0m-1.5 5h0m-12.5 15.5h0m4.5-1.5h0m-2.5 2.5h0m1 0h0m2.5 3.5h0m8.5 1.5h0m1-4h0m38 42.5h0" stroke="#82d2c8" stroke-width="2.1" stroke-linecap="round" fill="none"/>
<path d="M543.5 34h0m-4 9h0m-22.5 9h0m-38.5 50h0m2.5-2.5h0m0 0h0m13 10.5h0m4-1.5h0m26-2h0m-24 8h0m1.5 0h0m14 7h0m15.5 8.5h0m6 1.5h0" stroke="#e6e66e" stroke-width="2.1" stroke-linecap="round" fill="none"/>
<path d="M530 38.5h0m11-1h0m-1.5 9.5h0m2.5-2h0m-25 10.5h0m5.5 2.5h0m-44.5 34.5h0m8-2.5h0m9.5 2.5h0m-15.5 5h0m4.5 1h0m5.5-5.5h0m-6 10h0m-4.5 2h0m17.5 4h0m8-3.5h0m-1.5 7h0m14.5 4h0m0.5 0h0m-1.5 6.5h0m5 1h0m7.5 9.5h0" stroke="#e6f082" stroke-width="2.1" stroke-linecap="round" fill="none"/>
<path d="M541.5 34h0m-12 22.5h0m-8 59.5h0m-5 1h0m5 1h0m10 9h0m0 0h0m-2 12h0" stroke="#e6e63c" stroke-width="2.1" stroke-linecap="round" fill="none"/>
<path d="M544 41.5h0m-16.5 11.5h0m-24 18.5h0m1 0.5h0m1 0h0m15 74.5h0m18.5 16.5h0" stroke="#5ac8be" stroke-width="2.1" stroke-linecap="round" fill="none"/>
<path d="M541 30h0m2-0.5h0m-29.5 25.5h0m9 55h0m0.5 0.5h0m6.5 0.5h0m-10.5 3.5h0m11 2h0m-5 5h0m2-0.5h0m5 1.5h0m-8.5 10h0m1-2h0m8.5-0.5h0m-3.5 6.5h0m20.5 2h0" stroke="#e6dc32" stroke-width="2.1" stroke-linecap="round" fill="none"/>
<path d="M506 68.5h0m20 86.5h0m-18.5 7h0m10 7h0m3.5-3.5h0m3 0.5h0m15.5 4.5h0m-9.5 3.5h0m8.5-2h0" stroke="#465aaa" stroke-width="2.1" stroke-linecap="round" fill="none"/>
<path d="M541.5 30h0m-3.5 19h0m-37.5 21.5h0m1 18h0m56 28h0m-27 6.5h0m26.5-5h0" stroke="#e6e678" stroke-width="2.1" stroke-linecap="round" fill="none"/>
<path d="M525.5 54h0m6.5 8.5h0m-23.5 7h0" stroke="#6ec8c8" stroke-width="2.1" stroke-linecap="round" fill="none"/>
<path d="M521 55h0m0.5-2h0m11 1.5h0m-30 8h0m25-1h0m-22.5 7h0m2.5-2.5h0m4 1h0m18.5 0h0m-12.5 79h0m3 0.5h0m3 0h0m6.5-0.5h0m-24.5 5h0m1.5 0.5h0m1-1h0m9.5 0h0m1.5 0h0m0 1.5h0m1-2h0m0.5-2.5h0m6.5 0.5h0m2.5 0h0m4 1.5h0m1.5 9.5h0m0.5-1h0m1.5-2.5h0m1.5 2.5h0m-2.5 3h0m2 3h0m4 0.5h0" stroke="#50b4c8" stroke-width="2.1" stroke-linecap="round" fill="none"/>
<path d="M539.5 29h0m-12 80.5h0m5 1.5h0m-20 1h0m51.5 4.5h0m-45.5 5.5h0m20-1h0m12.5-2h0m3 0.5h0m-30.5 4.5h0m1.5-0.5h0m-6 5.5h0m4 4.5h0m2.5 0.5h0m6-5h0m10.5 3.5h0m-12.5 5h0" stroke="#e6dc64" stroke-width="2.1" stroke-linecap="round" fill="none"/>
<path d="M540 37h0m-12 12.5h0m21.5 48.5h0m-25 8.5h0m-8.5 7h0m1-0.5h0m1-0.5h0m8.5 1h0m11 1h0m-21.5 6h0m4-2h0m2 4h0m5 0h0m6-2h0m0.5-3.5h0m28.5 2h0m-40.5 6.5h0m1.5-0.5h0m2.5-1h0m34 4h0m-36 6.5h0m5.5 4h0m2.5-3h0m2.5 2h0m10 6h0" stroke="#e6dc50" stroke-width="2.1" stroke-linecap="round" fill="none"/>
<path d="M537 36.5h0m-6.5 10.5h0m-38.5 45h0m-10 6.5h0m0.5-1.5h0m3.5-1.5h0m11.5 17h0m18.5 3.5h0m9 11h0m0.5 1h0m4-4h0m2 3.5h0m4.5-3.5h0m-2.5 9h0" stroke="#e6e664" stroke-width="2.1" stroke-linecap="round" fill="none"/>
<path d="M531 44h0m-13 67h0m-1 1.5h0m13 10h0m0.5-5.5h0m-4 11.5h0m0.5-4.5h0m6.5 4h0m-14.5 3h0m15 7.5h0" stroke="#e6dc3c" stroke-width="2.1" stroke-linecap="round" fill="none"/>
<path d="M516 68.5h0m-29.5 29.5h0m14 11.5h0m15 7h0m11.5-2.5h0m0 9h0m6.5 9.5h0" stroke="#e6e650" stroke-width="2.1" stroke-linecap="round" fill="none"/>
<path d="M531.5 62h0m0 4.5h0m-13.5 80.5h0m19 9.5h0m3.5 6.5h0m0.5-0.5h0" stroke="#5abebe" stroke-width="2.1" stroke-linecap="round" fill="none"/>
<path d="M544.5 31h0m-13.5 61.5h0m-9 14h0m-5.5 6h0m6.5 1h0m3.5 0.5h0m-1.5 5h0m4.5 2.5h0m9-2.5h0m12 2h0m-22 6.5h0m8-0.5h0m20.5-1.5h0m7 0.5h0m-40 8h0m7.5 0h0m1 1h0m1.5-3.5h0m0.5 0h0m-5.5 7h0m7-2.5h0m10 3h0m-2 7h0" stroke="#f0dc78" stroke-width="2.1" stroke-linecap="round" fill="none"/>
<path d="M559 55h0m0.5 0h0m1 0.5h0m4-1.5h0m3.5 1.5h0m-17 5h0m1.5 1.5h0m0 0.5h0m0.5 0h0m2-1h0m0.5 1.5h0m0.5-3h0m0 0.5h0m0 0h0m0.5 2h0m0.5-0.5h0m0.5 1h0m0-3h0m0-0.5h0m0.5-0.5h0m0.5-0.5h0m0 0.5h0m0 4h0m0.5-4h0m1-1h0m0 2.5h0m0.5 1.5h0m1 1h0m0-5.5h0m0.5 4.5h0m0.5-3h0m0.5 3.5h0m0 0h0m2-4.5h0m0 1h0m1 3h0m0-2h0m1-2h0m0.5 3.5h0m0 1h0m0.5-4.5h0m1 4.5h0m1 0.5h0m1 0h0m0-6h0m2 4h0m0-1h0m0 0h0m0 3h0m0.5-1.5h0m0-0.5h0m1-1.5h0m2.5-0.5h0m-26.5 8h0m2-1h0m0.5 0.5h0m0.5 0.5h0m0.5-2h0m0 1.5h0m0-0.5h0m0.5-0.5h0m0-1.5h0m0.5 0.5h0m0.5 1.5h0m0.5 2h0m0-3.5h0m1 3.5h0m1 0.5h0m2.5-0.5h0m1-1.5h0m0-2h0m0 3.5h0m0.5-4.5h0m0 1.5h0m0 2.5h0m0.5-2.5h0m3 0h0m0.5-1.5h0m1 2h0m1.5 0.5h0m2.5 1h0m1.5-2h0m2 1.5h0m1 2h0m0.5-1h0m0-0.5h0m0.5 1.5h0m0.5-2h0m1-1h0m1 0h0m-30 7h0m1-1.5h0m0.5 2h0m0.5-3.5h0m1.5 0h0m0.5 4.5h0m0-3.5h0m1 2.5h0m0-1.5h0m0.5-2.5h0m1.5 2h0m0.5 1h0m0.5-3h0m0 1.5h0m0.5 2.5h0m1-4h0m0.5 2.5h0m1-2.5h0m0.5 5.5h0m0.5-0.5h0m0-3.5h0m1.5 3h0m1-2h0m1-1h0m1 2.5h0m4-4h0m0 2h0m2.5 2.5h0m0-0.5h0m4-3.5h0m-27 7.5h0m0.5 2h0m1.5 1.5h0m1.5-0.5h0m0.5-4.5h0m0.5 5h0m0-1h0m1 0h0m1-1.5h0m3.5-1h0m0 1h0m4.5 2.5h0m2.5-1.5h0m1-3.5h0m0.5 2h0m0.5-2h0m-46 9.5h0m26.5-2.5h0m0 0.5h0m0.5-1.5h0m3-0.5h0m1 5h0m1.5-5h0m2.5 0h0m3.5 1.5h0m4 2.5h0m0.5 1.5h0m19-0.5h0m0-3h0m3.5 1h0m0.5 2.5h0m0-4.5h0m0.5 2h0m-38 3.5h0m0.5 1h0m36.5-0.5h0m0 2h0m1-2.5h0m1 0h0m0.5 3h0m5-1h0m2.5 1.5h0m0 0.5h0m-7.5 2.5h0m1.5 3h0m0 0.5h0m0-1h0m0.5 0h0m0 1.5h0m0-0.5h0m0 1.5h0m2-4.5h0m0.5 4h0m0-5h0m1 0.5h0m0.5 0.5h0m0-0.5h0m0 3.5h0m1-1.5h0m1.5 0.5h0m0-0.5h0m0.5 0.5h0m0 1.5h0m2 0.5h0m0.5 0.5h0m-8.5 0.5h0m0.5 1.5h0m0.5-0.5h0m0.5 1.5h0m0.5 0.5h0m2-0.5h0m0 1.5h0m0.5-1.5h0m0.5-2.5h0m0 2.5h0m0.5 2.5h0m0.5-3h0m0 1.5h0m0.5 1.5h0m0-0.5h0m0.5-3.5h0m0 4h0m0.5-0.5h0m0-0.5h0m0-0.5h0m2 1.5h0m1-3.5h0m0.5 1h0m1 1.5h0m-35 5h0m25-3h0m1 0h0m0.5 2h0m2 1.5h0m2-1.5h0m0-2h0m0 0.5h0m1 2.5h0m0.5-3h0m1 0.5h0m1.5 3h0m0.5-4h0m0 3.5h0m-24.5 7.5h0m5.5-3.5h0m-5 8h0m0.5-3h0m1 4.5h0m0.5-3.5h0m1.5 4.5h0m0-0.5h0m3.5-1.5h0m-28 35h0" stroke="#b41e5a" stroke-width="2.1" stroke-linecap="round" fill="none"/>
<path d="M518 91.5h0m26.5 6.5h0m6-5h0m-5 10.5h0m1.5-3h0m0 3h0m3-1h0m-30.5 2.5h0m3 2h0m0-1h0m2.5 1h0m0.5-0.5h0m1.5-0.5h0m17.5 5h0m-30 1h0m7.5-0.5h0m0.5 5h0m0-1.5h0m1.5 0h0m5.5-1.5h0m0.5 1.5h0m2.5-3.5h0m2.5 2h0m16 1h0m0-2.5h0m5.5 2.5h0m0.5 1.5h0m3-1.5h0m1.5 1.5h0m-45 2h0m1-1h0m0 5.5h0m2-1h0m2.5 0h0m3.5-3h0m3 1.5h0m1 0h0m3-2.5h0m2-0.5h0m0.5 4.5h0m0-1.5h0m3.5 1h0m4-0.5h0m1.5 2.5h0m2.5-5.5h0m6.5 2.5h0m4.5-2h0m2.5 0.5h0m1-0.5h0m1 4.5h0m1.5-0.5h0m5.5-5h0m-48.5 7.5h0m0 0h0m2 2.5h0m5.5 0h0m16.5-3.5h0m2 1.5h0m7.5 2h0m4.5-2.5h0m-37 5h0m9 3h0m0.5 1.5h0m0.5-1.5h0m0.5-2h0m1.5 0h0m1.5 3h0m3 1.5h0m9-0.5h0m13-5h0m3.5 0.5h0m-33.5 10h0m2.5 0h0m3-1h0m0.5-3.5h0m1 2.5h0m7-1.5h0m7-0.5h0m5 2.5h0m-17 5h0m0.5 1h0m8-1.5h0" stroke="#f0d28c" stroke-width="2.1" stroke-linecap="round" fill="none"/>
<path d="M524 86.5h0m7 0.5h0m-6.5 2h0m1 3.5h0m23.5-0.5h0m9.5-2.5h0m8 2.5h0m-41 1h0m0 0h0m1 2h0m3-1h0m0.5 4h0m2.5 0h0m2.5-2.5h0m1.5 0.5h0m1-0.5h0m1-1h0m3 3.5h0m5-3h0m0-0.5h0m3 1.5h0m11 2h0m1-2h0m2-1.5h0m5 4.5h0m8.5-1h0m1 0h0m-60 4h0m5.5-2h0m1.5 0.5h0m6.5-1h0m14.5 2.5h0m3.5-1h0m1 0h0m6.5-1h0m13.5 1.5h0m3.5-1.5h0m-58 6h0m0 1h0m19.5 4h0m4.5-1h0m15.5-1.5h0m4 1h0m3.5-4h0m-37 6.5h0m9 1.5h0m1.5 2h0m7-4h0m5 4.5h0m10-3h0m6 1.5h0m4-1h0m-45 4h0m22 2.5h0m9.5 2.5h0m9-2h0m4-3.5h0m5.5 0h0m0.5 0.5h0m-50.5 7h0m16 1.5h0m4.5-1.5h0m2.5 2h0m0.5-2.5h0m4.5 2.5h0m0 1.5h0m3-1.5h0m13.5-3h0m-35 10.5h0m13 0h0m1-2.5h0m2-1h0m-17 5.5h0m6 4h0m2.5-3h0m1.5 0h0m11.5 1.5h0m3-1.5h0" stroke="#f0a064" stroke-width="2.1" stroke-linecap="round" fill="none"/>
<path d="M564.5 61.5h0m9.5 10.5h0m-52.5 6.5h0m30.5-1.5h0m9.5-1h0m-40 7h0m5 3.5h0m33-4.5h0m-41.5 8h0m3-2.5h0m0.5 2.5h0m3 1h0m4 0.5h0m7-3h0m9.5 2h0m2-0.5h0m1.5-2.5h0m1.5 2h0m3.5 0.5h0m3.5-1.5h0m0.5 0h0m1 1.5h0m9 1h0m2-1h0m-42 5.5h0m2.5-2.5h0m7.5 1h0m12.5 1.5h0m23 1.5h0m-58 5.5h0m24-3h0m20.5 3.5h0m8.5-3.5h0m2.5 4h0m-22.5 7.5h0m1.5-4.5h0m5.5 0.5h0m1.5-1.5h0m7.5 4.5h0m2.5-5h0m2.5 3.5h0m0.5-2h0m1.5 2h0m0-1.5h0m6.5 4h0m-7 4h0m5-3.5h0m-6.5 8h0m-11.5 36.5h0m1 2h0m-1 1.5h0m3 2.5h0" stroke="#e66e5a" stroke-width="2.1" stroke-linecap="round" fill="none"/>
<path d="M524.5 92h0m7.5-2.5h0m14.5 2h0m11-4h0m-17 10.5h0m0-5h0m1.5 4h0m0.5-3h0m0.5 2.5h0m0.5-1h0m3 2h0m0.5-3.5h0m6.5-1h0m0.5 4.5h0m-41 2h0m0 3h0m13 1.5h0m5.5-2.5h0m8 2.5h0m29-3h0m-51.5 9h0m8-0.5h0m1-4.5h0m2.5 1h0m8 3h0m4.5 1.5h0m-5 5h0m19.5 0h0m6-0.5h0m1-2.5h0m-46.5 4.5h0m13.5 0h0m1 4h0m1.5 0.5h0m2-4h0m37 2h0m-48.5 6.5h0m8 1.5h0m32.5-0.5h0m-38.5 3.5h0m2.5 0h0m7.5 0.5h0m6.5 3.5h0m3-2.5h0m1.5 0.5h0m0 1.5h0m13 0h0m3-4.5h0m0.5 0h0m-31.5 11h0m3.5-1h0m13.5-3h0m1.5 5.5h0m1.5 0.5h0" stroke="#f0b46e" stroke-width="2.1" stroke-linecap="round" fill="none"/>
<path d="M518.5 91.5h0m21-2.5h0m18.5 0h0m-45 10h0m1.5 0h0m26 0h0m1.5-3h0m3-0.5h0m0.5-2.5h0m0.5 6h0m1-3h0m-17 5.5h0m10 2.5h0m5.5-1h0m7-0.5h0m-31.5 2.5h0m1.5 5h0m1.5-0.5h0m3.5-0.5h0m1 1h0m3 0h0m5.5-1h0m3.5-3h0m17.5 5h0m-39.5 3h0m0.5-0.5h0m1.5-1.5h0m8 2h0m2.5 2h0m1.5-1.5h0m0.5 0h0m0 2h0m6-2h0m4-0.5h0m7 0h0m1.5-1.5h0m4.5 2.5h0m0-1h0m-37 9h0m0-2h0m9 0h0m7-2.5h0m0-0.5h0m4 4.5h0m1.5-3h0m0.5 2h0m11.5-0.5h0m6-2h0m1 3.5h0m1 0h0m2-4h0m0.5 2h0m0 0h0m1-1h0m0 0.5h0m0.5 1.5h0m1.5-3.5h0m0.5 2h0m1.5-1h0m-47 9.5h0m1-0.5h0m4.5-4.5h0m0.5 0.5h0m0.5 4h0m13-2h0m4.5-1.5h0m5 0.5h0m5 0h0m4 2h0m3 0h0m8.5-3h0m-51 5h0m0.5 0.5h0m0.5 1h0m1-0.5h0m3 3h0m8.5 2h0m6.5-4.5h0m0.5 1h0m4-2h0m0 0h0m4 4.5h0m0-4h0m16-0.5h0m-35 7.5h0m1 3h0m1-1h0m2 0.5h0m2.5 0.5h0m2.5-3.5h0m8-1h0m2 1h0m-8.5 7.5h0m1-0.5h0m0.5 0.5h0m0.5 0.5h0m0.5-1h0m1.5 1.5h0m1 0h0" stroke="#f0c882" stroke-width="2.1" stroke-linecap="round" fill="none"/>
<path d="M570 56h0m-5.5 7h0m6.5-1h0m-19.5 6.5h0m12.5 0h0m3-3h0m3.5 0h0m-21.5 5.5h0m2-1.5h0m0.5 5.5h0m3.5-1.5h0m4 1h0m4-0.5h0m3.5-2.5h0m2 3.5h0m1 0h0m2.5-2h0m-17.5 6.5h0m3-2h0m3.5 3h0m7.5-1.5h0m-45.5 7h0m23-0.5h0m0 0h0m2.5-2.5h0m1 1h0m1.5 3h0m0.5-6h0m0.5 3h0m0.5-1h0m0.5 1h0m6 0h0m2-1h0m28 2h0m0.5 1.5h0m1-1.5h0m0-1.5h0m1 1h0m3.5 2h0m-49 3h0m8.5-1h0m12 2.5h0m5.5 1h0m0.5-1h0m14.5 0.5h0m1-1.5h0m1.5 0.5h0m1.5-1.5h0m2.5 1h0m-62 4h0m25.5 2.5h0m9 8h0m-1.5 2.5h0m39-1.5h0m-20.5 9.5h0m3-0.5h0m1 0h0m1 2h0m-5 0.5h0m-24 40h0m0.5-1h0m1.5 4h0" stroke="#d24664" stroke-width="2.1" stroke-linecap="round" fill="none"/>
<path d="M559 71.5h0m-39 12.5h0m6 1h0m3 2h0m-7 5h0m0.5-4h0m4 2.5h0m5 2h0m9.5-2h0m0-3h0m1.5 0.5h0m4 4h0m4-4h0m2 3h0m5.5-0.5h0m0.5 0h0m8.5-2.5h0m-54 9.5h0m1.5-3.5h0m1.5 4h0m2-4.5h0m0.5 2h0m2 2.5h0m4.5-0.5h0m3.5-3h0m6.5 1h0m1.5-2h0m1 3h0m1 2.5h0m2.5-5h0m1.5 5h0m5-4h0m5 1.5h0m0.5 2.5h0m1.5 0h0m0.5-3h0m4.5 0.5h0m4-0.5h0m7.5 1h0m-55.5 4h0m3-0.5h0m4 0h0m1 1.5h0m8 2h0m7-4.5h0m5 2.5h0m8.5 0.5h0m3-3h0m5 2.5h0m1.5-1.5h0m1 0h0m8.5 3.5h0m4-1.5h0m-61 2.5h0m4 0.5h0m0 0.5h0m19.5 3h0m0.5 1h0m0.5 1h0m3-3h0m0 2h0m4.5-0.5h0m4-2h0m2 1h0m1.5 1.5h0m4.5-3.5h0m0.5 1.5h0m0.5-2.5h0m3-0.5h0m4 0h0m3 3h0m2 1.5h0m-37.5 4.5h0m9.5-0.5h0m2-1.5h0m21.5 3h0m2-0.5h0m4.5 1h0m1.5-3.5h0m0.5 0h0m0 1.5h0m-30 9.5h0m0.5-3h0m1 1h0m0-4h0m4.5 0.5h0m0.5-0.5h0m0.5 5.5h0m0.5-5h0m16-0.5h0m4.5 2h0m-25 6.5h0m18.5-0.5h0m-19 10h0m4-5h0m2 4.5h0m1-2.5h0m1.5-1.5h0m2 1.5h0m-28 5.5h0m10-1.5h0m1.5 3.5h0m4.5-3h0m7.5-1h0m2.5 1.5h0m-17.5 6.5h0m21 15.5h0" stroke="#e68c5a" stroke-width="2.1" stroke-linecap="round" fill="none"/>
<path d="M549.5 67.5h0m16-0.5h0m12.5-1h0m-14 3h0m8 0.5h0m-49 8.5h0m26-1h0m6 3.5h0m9-3.5h0m0.5 1.5h0m-41 8h0m5.5 0.5h0m22.5-0.5h0m11.5-0.5h0m28.5-3.5h0m-76 9.5h0m0.5-1.5h0m4.5 1h0m0-1h0m5.5-1.5h0m1.5 2.5h0m1.5 0h0m7-2.5h0m1.5 0.5h0m10-2h0m2.5 1h0m12 3.5h0m1-1h0m1.5 0h0m4-0.5h0m6 0.5h0m-43 6.5h0m6.5-3.5h0m9.5-0.5h0m9 4h0m0.5-2h0m3 3h0m0.5-1h0m0.5-2.5h0m1 3.5h0m2.5-2.5h0m0 1h0m3.5-1.5h0m10.5 1h0m-62.5 3h0m2 1.5h0m0 3h0m20 0.5h0m20 0h0m8-2h0m4.5 2h0m-26.5 4.5h0m4-4h0m9.5 1h0m3.5 4h0m4 1h0m3-3h0m3 2h0m2-2.5h0m-27.5 5h0m12.5 0h0m5 0h0m9.5 1h0m1-1.5h0m-19 15h0m2 33.5h0" stroke="#dc645a" stroke-width="2.1" stroke-linecap="round" fill="none"/>
<path d="M518.5 91h0m12-3.5h0m23.5 5h0m-40 4.5h0m15.5 0.5h0m16-2.5h0m2.5 0h0m-22.5 8h0m5-2.5h0m14.5 0h0m7 0h0m-21 5.5h0m-15.5 7.5h0m29.5-0.5h0m12 2.5h0m4 1h0m3.5-4h0m-30.5 9h0m8.5 0.5h0m19.5-2h0m0.5 2.5h0m-45.5 4.5h0m1.5-0.5h0m38.5 0h0m8 1h0m-24.5 5h0m1.5-2h0m1-0.5h0m16.5 2h0m7.5-2h0m-33 5.5h0m12 2.5h0m2 2h0m3 0.5h0" stroke="#f0be78" stroke-width="2.1" stroke-linecap="round" fill="none"/>
<path d="M558 84h0m-34 5.5h0m21.5 2.5h0m-22 2h0m3.5-0.5h0m13 5.5h0m21-1.5h0m-44.5 4.5h0m4-1h0m14 2.5h0m5.5-4h0m5 1.5h0m2 3.5h0m5.5-1.5h0m6-0.5h0m-41.5 4.5h0m13 0h0m14.5 4h0m10-4.5h0m0.5 1.5h0m1.5 0h0m8.5 1h0m-32 9.5h0m35.5 2h0m2.5 0.5h0m2-3h0m1-1h0m-30 10h0m12.5-1.5h0m2 2.5h0m5-2h0m-19.5 5h0m7.5-0.5h0m8 3h0m5-2.5h0m1 0h0m-18 9h0m1.5-4h0m2 4.5h0m2-2h0m-15.5 4.5h0m10.5 0.5h0" stroke="#f0aa64" stroke-width="2.1" stroke-linecap="round" fill="none"/>
<path d="M520 90h0m22.5 1.5h0m3 1h0m2-2h0m-27.5 8h0m10.5-4.5h0m13.5 2.5h0m4 2.5h0m5.5-5.5h0m15.5 3.5h0m-44.5 5h0m3-2h0m4 3h0m3 0.5h0m13.5 1h0m-30 0.5h0m4 4.5h0m6-1h0m0 2.5h0m2-3.5h0m1.5-2h0m0.5 0.5h0m2 4h0m4-3.5h0m7 0h0m6.5 3h0m2.5-1.5h0m-15.5 5h0m12.5 0.5h0m1 0h0m0.5 3h0m8-3.5h0m3.5 1h0m4-0.5h0m-45.5 4.5h0m0.5 2h0m8 2.5h0m3.5-3.5h0m0.5 0h0m2-1h0m1 1h0m1 1.5h0m1.5 0h0m0.5-2.5h0m9 0h0m1 4h0m7 0.5h0m14.5-5.5h0m-43.5 11.5h0m12-4.5h0m7.5 2h0m4.5-0.5h0m1 1.5h0m2-1.5h0m7-2h0m0 1.5h0m-25.5 9.5h0m0-2h0m3 1h0m5-4.5h0m1.5 2.5h0m1.5-1.5h0m11 3.5h0m1-3.5h0m3 1h0m-28 5.5h0m0.5 2h0m6-2h0m2 3.5h0m1.5 0h0m0.5-1.5h0m3-1h0m3.5 0.5h0m3 2h0m-21 1h0m15 1h0" stroke="#f0b478" stroke-width="2.1" stroke-linecap="round" fill="none"/>
<path d="M540 95.5h0m3.5 0.5h0m-19 8h0m22.5-3.5h0m-25.5 10.5h0m4-2h0m5.5-0.5h0m0 0.5h0m0 0.5h0m16.5 0.5h0m-34 1.5h0m6 0.5h0m6.5 2h0m6 2.5h0m17-4h0m9 0.5h0m0 1.5h0m4.5-0.5h0m-47 7h0m2-1h0m13.5-2h0m5 0h0m3 0h0m18.5 0h0m0.5 2.5h0m0-3h0m4.5 3h0m1-3h0m-48.5 6.5h0m2 4h0m2.5 0h0m13-4h0m0.5 3.5h0m7-1.5h0m0.5 2h0m5-1.5h0m9.5-2.5h0m1 3h0m8 1h0m-43.5 2.5h0m2 1h0m1 1.5h0m4.5-0.5h0m6-3.5h0m2 3.5h0m1-1h0m0.5-1h0m0 1h0m1.5-2.5h0m5 0.5h0m1.5 5h0m0-4h0m-18.5 5.5h0m10.5 4.5h0m7-5h0m0.5 4.5h0m1.5-3.5h0m1.5 2.5h0" stroke="#f0dc8c" stroke-width="2.1" stroke-linecap="round" fill="none"/>
<path d="M559.5 62.5h0m7.5-5.5h0m2 0h0m3.5 0h0m-5 7.5h0m0-1h0m2.5 1h0m2.5 2h0m2 2h0m-20 1.5h0m1.5 2.5h0m1.5-2.5h0m2.5 1h0m1.5-2h0m2 5h0m0.5-2h0m2.5-2h0m5.5 2.5h0m1.5 0.5h0m-24 4h0m7.5 1h0m5.5-0.5h0m3.5 0.5h0m0 0h0m3.5-2.5h0m-50 9.5h0m3 1.5h0m28.5-4.5h0m3 2.5h0m2.5 1.5h0m1-3.5h0m30.5 1.5h0m0.5-2.5h0m2 4h0m0 0.5h0m-5 5h0m0.5 1.5h0m1-2.5h0m3 1.5h0m1-1.5h0m0 2.5h0m-21 3.5h0m1 1h0m16-3h0m2 2h0m1.5-2.5h0m12 7h0m-34 4.5h0m1 3.5h0m2.5-2.5h0m26.5 1h0m0 2h0m2.5-3h0m2 1h0m-18 9.5h0m1.5-0.5h0m1-1h0m1 1.5h0m-9.5 1.5h0m6 3h0m1-0.5h0m2-1.5h0m1-1.5h0m0 3h0" stroke="#c83264" stroke-width="2.1" stroke-linecap="round" fill="none"/>
<path d="M523.5 106.5h0m5 5.5h0m12 1.5h0m-25 3.5h0m9 4h0m2.5-2h0m0.5-2h0m26.5 4h0m2.5-1h0m0 2.5h0m0.5-4h0m-34.5 6.5h0" stroke="#f0dc6e" stroke-width="2.1" stroke-linecap="round" fill="none"/>
<path d="M551.5 75.5h0m-31.5 9h0m0.5 1.5h0m1 0h0m2 1h0m0.5-2h0m2 1h0m4 0.5h0m17.5-1.5h0m1-0.5h0m10-3h0m2.5 5h0m2-3.5h0m3 1.5h0m-48 6.5h0m2-3h0m0.5 1h0m1.5 0.5h0m0-2h0m0.5 3h0m1.5-2h0m0.5 0h0m0 1h0m2.5 2h0m3.5-0.5h0m3.5-2.5h0m0 1.5h0m0.5-1h0m2.5 0.5h0m2 2h0m3.5-2h0m0 0.5h0m2 0h0m4.5-0.5h0m5 0.5h0m1.5 0.5h0m7-1h0m0 2.5h0m2.5-0.5h0m5.5-1.5h0m3.5 1h0m-59.5 2.5h0m1 5.5h0m5.5-4h0m2 0h0m0-0.5h0m0.5 1h0m10 0h0m17-2.5h0m3.5 5h0m5-1h0m3-0.5h0m0.5 1h0m7.5-1.5h0m7.5 1h0m1-1h0m-60 8h0m0-3.5h0m2.5 0.5h0m3 0.5h0m3-1.5h0m4 1h0m0 0.5h0m9 1.5h0m5-1.5h0m16-2h0m3 0.5h0m3.5 1h0m0.5 2h0m7.5 1h0m-40 5h0m2 0.5h0m8-1h0m3-3.5h0m5 1.5h0m0-0.5h0m0 3.5h0m6-2h0m4 0h0m0.5-2.5h0m0.5 5.5h0m1.5-2.5h0m5 0.5h0m4.5-2h0m-31.5 5.5h0m2.5 0.5h0m0 3h0m2.5-2.5h0m1 0.5h0m4-1.5h0m12.5 3.5h0m10.5-1.5h0m-5 7.5h0m-8.5 5h0m3.5-2h0m2 0h0m-16.5 9.5h0m2.5 0h0m-11 5.5h0m4 0.5h0m-7.5 1.5h0" stroke="#e67850" stroke-width="2.1" stroke-linecap="round" fill="none"/>
<path d="M522 92h0m1-2.5h0m24.5 8h0m7-4.5h0m-34.5 7.5h0m0.5 0h0m13 1.5h0m16.5 1.5h0m-29.5 7.5h0m6-1h0m1-2.5h0m2.5 0.5h0m7 0h0m35-0.5h0m-48.5 6.5h0m1.5 1.5h0m7-3h0m2-1h0m6 1.5h0m3-1h0m12.5 3h0m5.5-1.5h0m1.5 0.5h0m-29 5.5h0m2-2.5h0m5 5h0m6.5-5h0m2 5h0m9-5h0m10 2.5h0m0.5-0.5h0m-52.5 6h0m1.5 2.5h0m22-4h0m1 3.5h0m1.5 0h0m0.5 1h0m12-4h0m1 2h0m5.5-1.5h0m2 1h0m-39 4.5h0m3.5 1h0m4 1h0m10.5-2.5h0m0.5 0.5h0m4.5 5h0m12.5-3.5h0m1 1h0m-19 6h0m0.5-0.5h0m4.5 1h0m1-3.5h0m-7.5 9h0m6.5-1.5h0" stroke="#f0be82" stroke-width="2.1" stroke-linecap="round" fill="none"/>
<path d="M561 58h0m10-1h0m0 10h0m-15 13.5h0m-33.5 6.5h0m6-1.5h0m37 0.5h0m-37 2.5h0m5 1h0m16-2h0m4 1.5h0m11 0.5h0m-19.5 15h0m28-4h0m-4.5 14h0m1.5 0.5h0m12.5 2h0m-12 7h0" stroke="#dc506e" stroke-width="2.1" stroke-linecap="round" fill="none"/>
<path d="M554.5 68.5h0m5 6.5h0m-40 1.5h0m44.5 3h0m-15 3.5h0m12.5-1h0m31.5 4h0m-28 3h0m2.5-1.5h0m1.5 2h0m23.5-2h0m-63.5 9h0m6.5 4h0m32.5 8.5h0m19 5.5h0" stroke="#d2506e" stroke-width="2.1" stroke-linecap="round" fill="none"/>
<path d="M538.5 118h0m-19 8.5h0m17 0h0m10.5-1h0m13.5-1.5h0m-36 6.5h0m12 3h0" stroke="#e6dc6e" stroke-width="2.1" stroke-linecap="round" fill="none"/>
<path d="M566.5 57.5h0m0.5 4.5h0m9 0h0m-25.5 6h0m2-4h0m10.5 3h0m0.5-0.5h0m6.5 0.5h0m0-0.5h0m1-2h0m-19.5 4.5h0m1 2h0m0.5-2h0m5.5 2h0m3.5 2h0m8-3.5h0m-49 7h0m36.5 2h0m-34 3h0m3 3h0m24.5-2.5h0m1.5 1.5h0m7 0h0m1.5-1h0m1 2.5h0m2.5 1h0m1-2.5h0m-47 4.5h0m10 1h0m4 2.5h0m0.5-1h0m11.5-1.5h0m3-1h0m2.5 3h0m2.5 1.5h0m5.5-0.5h0m3.5-4.5h0m-47 8.5h0m0.5-3h0m4.5 0.5h0m9 2h0m1.5 0.5h0m8 0.5h0m27 0.5h0m2.5 1.5h0m3-4h0m1.5 0h0m1.5 1.5h0m1.5 3h0m0-5.5h0m-7.5 8h0m1-0.5h0m3.5 0h0m0.5 1.5h0m2 1.5h0m0.5-0.5h0m-29 1.5h0m18 4.5h0m3 0.5h0m0.5-1.5h0m1.5 1h0m1-4.5h0m3.5 2h0m-6.5 6h0m2-0.5h0m3.5-1h0m0.5 1h0m1 3.5h0m0.5-2.5h0m-17 40.5h0m2.5 4.5h0m-2 3h0m3-1h0" stroke="#dc5a64" stroke-width="2.1" stroke-linecap="round" fill="none"/>
<path d="M519.5 87h0m4-3.5h0m2.5 3.5h0m6.5-2h0m-15 7h0m3-1h0m6 0h0m9.5 1.5h0m2 0h0m4.5-0.5h0m1-1h0m2.5-3.5h0m15.5 3.5h0m-47 7.5h0m2-3.5h0m12.5-2h0m1 1h0m9.5 4h0m1-0.5h0m1-4.5h0m16.5 4.5h0m1-1h0m2 0.5h0m0-1.5h0m1 3h0m-47.5 1h0m0.5 2.5h0m4 0h0m12.5 0.5h0m30.5-3h0m5 1.5h0m-50.5 4h0m28.5 5h0m12-3h0m2 0h0m-14 9h0m15.5-2.5h0m14-2h0m-36.5 6.5h0m7 4.5h0m2-3h0m-4 6h0m1-2h0m4.5 2.5h0m10.5 0h0m-7 5h0m1.5 3.5h0m3.5-4h0m5.5-1.5h0m-24 10h0m3.5-1h0m1.5-0.5h0m9-0.5h0m-9.5 4h0" stroke="#f0965a" stroke-width="2.1" stroke-linecap="round" fill="none"/>
<path d="M566 58.5h0m2.5 1.5h0m3.5 4h0m-18 5.5h0m13.5 3.5h0m2.5-1h0m5.5-1.5h0m0.5-0.5h0m1.5 0.5h0m-21.5 7.5h0m-4.5 4.5h0m0.5 2h0m8-1.5h0m2-2h0m9.5 11h0m20.5-1h0m0 1.5h0m-19 3h0m16 1.5h0m0.5-3h0m2-0.5h0m9.5 15.5h0m1 0h0m-23 7h0m10.5 4.5h0m0.5-0.5h0m-31 34.5h0" stroke="#be3264" stroke-width="2.1" stroke-linecap="round" fill="none"/>
<path d="M567.5 86.5h0m-51.5 5h0m7.5 0h0m27.5 1h0m14.5-4h0m-48.5 4.5h0m0 0.5h0m9.5 4.5h0m0.5-5h0m20 2h0m5 1.5h0m13 1.5h0m0-0.5h0m2.5-4h0m-53 11h0m19.5 0h0m12-3.5h0m11.5-0.5h0m5.5-1h0m1 0h0m-33.5 8.5h0m0.5 1.5h0m2.5-4.5h0m6.5 2h0m9 0.5h0m2-1.5h0m24 1.5h0m-35.5 7h0m10 1.5h0m0-1h0m10 1h0m14.5-1h0m-39.5 3.5h0m18 0.5h0m16.5 4h0m2-3h0m2-1h0m-12 8.5h0m0.5-1.5h0m5-1.5h0m-13.5 5h0m3 5h0m-16.5 3.5h0m5.5-1h0m-7.5 6h0m0.5 1.5h0" stroke="#e6965a" stroke-width="2.1" stroke-linecap="round" fill="none"/>
<path d="M570.5 57h0m5.5 7h0m-22 5h0m1 14h0m35.5 2h0m0.5-4h0m1.5 2h0m-11 9.5h0m4-2h0m1 24h0m2.5 0.5h0" stroke="#d23c64" stroke-width="2.1" stroke-linecap="round" fill="none"/>
<path d="M547 86.5h0m-17 7h0m40 5.5h0m-19.5 4h0m21.5 13h0m-13 39.5h0m2 8h0" stroke="#dc6464" stroke-width="2.1" stroke-linecap="round" fill="none"/>
<path d="M524 83.5h0m-8 7.5h0m0-0.5h0m8.5 0.5h0m39.5-1.5h0m-50 7h0m7.5-2.5h0m0.5 2.5h0m5-1h0m15.5-2.5h0m0 4.5h0m3 0.5h0m1.5-4.5h0m3.5 3h0m11-3.5h0m-44 8.5h0m5 1.5h0m1-3.5h0m5.5 2.5h0m0-0.5h0m1 2h0m1-1.5h0m5-2.5h0m4.5 1h0m0-0.5h0m4.5 0h0m0.5 4h0m3.5-2.5h0m26 2h0m-51.5 6h0m2.5 1h0m1-1h0m3-3.5h0m2 4h0m2.5-1.5h0m0.5-1h0m1 2h0m0.5 1.5h0m2-2.5h0m4 1.5h0m1-2.5h0m4.5 2.5h0m3.5-5h0m1 6h0m13.5-4h0m6.5 1.5h0m-54 3.5h0m7.5 2.5h0m19.5 0h0m6.5-2h0m3 3.5h0m5.5-3h0m4.5 3.5h0m-33.5 6h0m8-3.5h0m3.5 0h0m0.5-2h0m1.5 0h0m3 3.5h0m0-2h0m0.5 2.5h0m0-4h0m4.5 4.5h0m4.5-4.5h0m0 0.5h0m3-0.5h0m11 0h0m-32.5 7h0m9.5 0.5h0m6.5 2.5h0m1.5 0.5h0m0 0h0m-37.5 2h0m18.5 4.5h0m7.5-0.5h0m4.5 0.5h0m8.5-2.5h0m1 3.5h0m-31 1.5h0m12 1h0m1 1h0m3.5-2.5h0m9.5 1.5h0m0-0.5h0m3.5 0.5h0m-20 4h0m10.5 1.5h0m0 0.5h0" stroke="#f0aa6e" stroke-width="2.1" stroke-linecap="round" fill="none"/>
<path d="M565 56.5h0m-4.5 3h0m1.5-0.5h0m2.5 0.5h0m4-2.5h0m5 2h0m-22.5 5h0m16 0h0m0.5 2.5h0m0.5 2h0m3.5-5h0m2 4.5h0m3-3h0m2 1.5h0m-30.5 8h0m1 0h0m0 0.5h0m2.5-3.5h0m1-0.5h0m8 4h0m1.5 0h0m2 0h0m2.5-5.5h0m0.5 0.5h0m1.5 4.5h0m1 0h0m-21 3.5h0m1-1.5h0m9 0.5h0m3.5 0.5h0m3.5-1.5h0m-14 10h0m3-0.5h0m3-2.5h0m1.5-2h0m3.5 5.5h0m3-0.5h0m20.5 1h0m1.5-5.5h0m1 4.5h0m3-4.5h0m0 5h0m2 0.5h0m-55.5 4.5h0m8-0.5h0m3-3.5h0m4 1.5h0m2 2.5h0m28-1h0m0.5-2.5h0m0 3.5h0m0.5-3h0m5.5 2.5h0m0.5-2.5h0m1 1.5h0m1.5-2h0m0.5 1.5h0m0-0.5h0m2-1.5h0m3.5 4h0m-12 1.5h0m1.5 1h0m-56.5 10h0m73 0h0m-38 6.5h0m37-1h0m-20.5 7h0m2.5-3.5h0m-4 5.5h0m2.5 2.5h0m3-2h0m2-1h0m-27 44.5h0" stroke="#c83c64" stroke-width="2.1" stroke-linecap="round" fill="none"/>
<path d="M520.5 79.5h0m41.5 0h0m-36 4.5h0m1.5 2h0m3.5 1h0m26-3h0m-36 4.5h0m2 3h0m4-3h0m0-0.5h0m21.5 1h0m2.5 0.5h0m12 2.5h0m8.5-1.5h0m-56 5.5h0m2.5-2h0m6.5 3h0m4 0.5h0m2 0.5h0m3-3.5h0m5.5-0.5h0m0.5 0h0m0.5 3h0m12 0h0m2-3h0m3-1h0m5.5 4h0m2-1h0m2 1h0m2 1h0m10-2.5h0m-62.5 4.5h0m12.5 3h0m10-0.5h0m8.5 0h0m13.5-1h0m0.5 1h0m4-2.5h0m3.5 1h0m2 2h0m5.5 0.5h0m-43 4h0m2 3.5h0m8.5-5h0m5 0.5h0m8.5 4.5h0m1-2.5h0m2.5 2h0m1 0.5h0m3.5-4h0m1 0.5h0m5.5-2.5h0m3.5 5h0m0-1h0m0.5-3h0m-33.5 10h0m1.5-2h0m1 1h0m15 0.5h0m1.5-4h0m4 4h0m0.5-1.5h0m1.5 1.5h0m3.5-1.5h0m5.5 1.5h0m-32 6.5h0m1.5 0h0m22-3h0m1-1.5h0m1.5 3h0m0.5-2.5h0m-41.5 14.5h0m21 2.5h0m0.5-4.5h0m3 0.5h0m1.5 2.5h0m2-1h0m-18 4h0m4 0h0m3.5 3h0m1-4h0m7.5 3h0m-17.5 3h0m2 2h0" stroke="#e68250" stroke-width="2.1" stroke-linecap="round" fill="none"/>
<path d="M559 59h0m4 0.5h0m0.5 2.5h0m2-4h0m2.5 5h0m0-5h0m0.5 5h0m0.5-3.5h0m7 1h0m-22 4.5h0m3 1h0m2 1.5h0m9-3.5h0m2.5 3.5h0m5.5 0.5h0m-26.5 5.5h0m0.5-2.5h0m3.5 1.5h0m8 1h0m6-4h0m0.5 3h0m3.5 1h0m-22 3h0m2.5 2.5h0m2-3.5h0m1 0h0m12 0.5h0m3 2h0m-47 4h0m26.5 3h0m1-2.5h0m9 1h0m5 1h0m18.5 2.5h0m2.5-3h0m0.5 1.5h0m2-2h0m1.5 2h0m-31.5 3.5h0m24 0h0m8.5-1.5h0m6 4h0m0-2.5h0m-12 4h0m1 0h0m3.5 1h0m0.5 0h0m4 4h0m0-1.5h0m2-3h0m0.5 0.5h0m3.5 3.5h0m-1 3.5h0m1.5 0.5h0m0.5-1h0m0.5 3.5h0m2 0.5h0m0-3h0m1.5-1h0m-2 8.5h0m2.5-4h0m-14.5 10.5h0m-9 3h0m2-1.5h0m6 3h0m0.5 0h0m-31.5 36h0" stroke="#be2864" stroke-width="2.1" stroke-linecap="round" fill="none"/>
<path d="M527 113h0m0 13.5h0m1-0.5h0m1-0.5h0m-0.5 8h0m0.5-2h0m-1 5h0m4.5-0.5h0" stroke="#e6dc46" stroke-width="2.1" stroke-linecap="round" fill="none"/>
<path d="M545 97h0m-21 7.5h0m2 7h0m-10.5 10h0m2-3.5h0m18 4.5h0m16.5-0.5h0m11.5-3.5h0m-38 7h0m3.5-1.5h0m0 7.5h0m4-1h0m-7.5 5h0m9.5 1.5h0m0.5 2.5h0m10 4.5h0m2.5-0.5h0" stroke="#e6dc5a" stroke-width="2.1" stroke-linecap="round" fill="none"/>
<path d="M528 101.5h0m-4 12h0m0-1.5h0m3.5 1.5h0m3 7h0m6.5-2h0m0.5 1.5h0m20 1.5h0m-40 3.5h0m2.5 1.5h0m10-1h0m5.5 0h0m11-1h0m1.5 2h0m-21 5h0m19-1h0m-14.5 9h0m3.5 0h0m12 0h0m-0.5 4h0" stroke="#f0dc82" stroke-width="2.1" stroke-linecap="round" fill="none"/>
<path d="M558.5 72.5h0m-3.5 13.5h0m-35 6h0m2.5-4.5h0m9 0.5h0m1 4.5h0m15-4.5h0m13.5 3h0m7.5-3h0m4 4h0m-47 2.5h0m35.5 3h0m6.5-4.5h0m1 6h0m0-2h0m9.5-2h0m-18 8h0m7.5 1h0m-13.5 6h0m19.5 2h0m-1.5 7.5h0m0.5-2.5h0m-19 15h0m6.5 29.5h0" stroke="#e6645a" stroke-width="2.1" stroke-linecap="round" fill="none"/>
<path d="M555.5 78.5h0m2.5-0.5h0m0.5 2.5h0m-37.5 1h0m1 3.5h0m43.5 0h0m1-4h0m-41 11.5h0m5.5 0h0m0 0h0m10-1.5h0m8.5-3.5h0m6 3h0m7-3h0m1.5 5h0m0.5-2.5h0m0.5 2h0m6.5-0.5h0m-48.5 7h0m2.5-5h0m15 3h0m8.5-1.5h0m9 1h0m-43 4h0m20.5 4.5h0m9.5-1h0m9.5-3h0m7.5 1h0m7-2h0m-37 6h0m11.5 5.5h0m16-4h0m4.5 2h0m5.5 1.5h0m6.5-0.5h0m-32 6h0m23.5-1h0m5-1h0m-5.5 3h0m-9.5 11h0" stroke="#e66e50" stroke-width="2.1" stroke-linecap="round" fill="none"/>
<path d="M519 87h0m32 3.5h0m8 2h0m-30 5h0m20-2h0m-33.5 5.5h0m19 1.5h0m10-3h0m-26 7h0m4-1h0m9.5 1h0m3.5 4.5h0m16-4h0m3-2h0m1.5 4h0m6.5 1h0m-30.5 4.5h0m0.5-2h0m35 2h0m6 3.5h0m-14 10.5h0m-11 5h0m0.5-4.5h0m3 0.5h0m1 1h0m3.5 0h0m4 0h0m-22 6.5h0m13.5 3h0m6-4h0" stroke="#f0a05a" stroke-width="2.1" stroke-linecap="round" fill="none"/>
<path d="M562 56h0m2 9.5h0m2 0.5h0m9.5 2.5h0m-9 0.5h0m-44.5 7h0m32.5 2h0m36 4h0m0-0.5h0m1.5 2.5h0m-50 6h0m10-1h0m5.5-0.5h0m-42.5 10h0m59.5-0.5h0m-58 3h0m17.5 0h0m0.5 1.5h0m5.5 4h0m32.5 4h0m-3 2.5h0m7 2.5h0m9.5-0.5h0m2 0h0m-27 44h0m-1.5 4h0" stroke="#dc5064" stroke-width="2.1" stroke-linecap="round" fill="none"/>
<path d="M560.5 90.5h0m8-1.5h0m-15.5 9h0m-12 11.5h0m26 0h0m7.5 0h0m-8 17.5h0m-17 7h0" stroke="#e68c50" stroke-width="2.1" stroke-linecap="round" fill="none"/>
<path d="M549 77.5h0m3 3h0m1.5-2h0m-27.5 8.5h0m-8 10.5h0m54.5 13.5h0m-13.5 50h0" stroke="#d25064" stroke-width="2.1" stroke-linecap="round" fill="none"/>
<path d="M554 68.5h0m19.5 0h0m-24.5 14.5h0m7.5-2h0m36.5 7.5h0m-1 4.5h0m0.5 2.5h0m6 2h0m0-3.5h0m5.5 9h0m-18.5 16.5h0" stroke="#be1e5a" stroke-width="2.1" stroke-linecap="round" fill="none"/>
<path d="M543.5 96h0m2.5 18.5h0m-13 5h0m6 8.5h0m2.5 6h0m-2.5 7h0m8 3h0" stroke="#f0c88c" stroke-width="2.1" stroke-linecap="round" fill="none"/>
<path d="M560.5 61h0m-10.5 17.5h0m-3 6.5h0m47 7h0m9.5 18h0m-22 10.5h0" stroke="#be285a" stroke-width="2.1" stroke-linecap="round" fill="none"/>
<path d="M510.5 146.5h0m5 0.5h0m3-1h0m-12 2.5h0m0.5 2h0m0-3h0m0.5 0.5h0m2 2h0m4.5 2h0m0-2.5h0m0.5 2h0m0.5-2h0m1.5-1h0m9.5 1.5h0m0.5-2h0m0 0h0m0 0h0m0 3h0m1.5-1.5h0m1-0.5h0m1-0.5h0m1.5-1h0m-25.5 7.5h0m1.5-1.5h0m1 5h0m4-4h0m1.5-1h0m1 5h0m0.5-5.5h0m2.5 4.5h0m1.5-4h0m14 1.5h0m1.5 3h0m1-3h0m0 0.5h0m1.5 1.5h0m0-3.5h0m-18.5 7h0m5.5 1h0m6.5 2.5h0m3-3h0m1.5 2.5h0m2-4h0m-19 7h0m11 1.5h0m5.5-1h0m0-2h0m2 0h0m2 2h0m-21.5 5.5h0" stroke="#46aad2" stroke-width="2.1" stroke-linecap="round" fill="none"/>
<path d="M508.5 145.5h0m0.5 0h0m4-1.5h0m1 1.5h0m-6.5 7h0m0.5 0h0m2.5 0h0m1-4h0m1 1h0m9.5-0.5h0m0 3.5h0m0-0.5h0m-15.5 6h0m3-3.5h0m1-0.5h0m1 2.5h0m5.5-3.5h0m0.5 2h0m0.5-1h0m0.5 4.5h0m1-4.5h0m1 0h0m0.5 5h0m1-3h0m10-2h0m0 3h0m4 1h0m-18 2h0m3-0.5h0m6 2h0m4.5 3h0m0.5-4h0m1.5 1h0m0.5 0h0m-21 3.5h0m16 4h0m6-3h0m3-0.5h0m2 0.5h0m-13 7.5h0m7-2h0m0.5 3h0" stroke="#46a0d2" stroke-width="2.1" stroke-linecap="round" fill="none"/>
<path d="M509.5 147h0m-1.5 2.5h0m18 3h0m0-2h0m-17.5 3h0m2.5 2h0m7-1h0m5-1.5h0m0.5 1.5h0m0 1h0m0.5 0.5h0m1.5-2.5h0m1.5 5.5h0m1.5-3.5h0m2.5 2h0m2-1h0m2-1h0m-28.5 4.5h0m2 0h0m3 2h0m0.5-1.5h0m1.5-1h0m0.5 2h0m2 2.5h0m0.5-4.5h0m0.5 4.5h0m5-0.5h0m0-1h0m0 0h0m0.5 1.5h0m2.5-2h0m1-2h0m0.5 2h0m1.5-1h0m2.5-0.5h0m-19.5 5.5h0m0.5 2h0m0.5-1h0m0-1h0m1 1h0m3 4h0m1-3h0m4.5-3h0m2 3.5h0m0.5 2h0m0.5-4h0m2.5 0.5h0m2.5 1.5h0m0.5 1.5h0m2-1.5h0m1-3.5h0m1 6h0m0.5-0.5h0m-10 4.5h0m2.5-3h0m0.5 2h0m0.5-1h0m1 3.5h0m2-3h0m0.5 1.5h0m2.5 0h0m2.5-3.5h0m0 0h0" stroke="#3c82c8" stroke-width="2.1" stroke-linecap="round" fill="none"/>
<path d="M523 155.5h0m1.5 1.5h0m1.5-1.5h0m3 2h0m-6.5 7h0m5.5-5h0m2.5 2h0m-14.5 9.5h0m1-5.5h0m0.5 5h0m2.5-1h0m3-1.5h0m3.5 1h0m2.5 1.5h0m0-4.5h0m-11 6.5h0m1.5 0.5h0m5-1.5h0m0.5 0.5h0m3.5 0.5h0" stroke="#4664b4" stroke-width="2.1" stroke-linecap="round" fill="none"/>
<path d="M508 147.5h0m2 4.5h0m17-0.5h0m0.5 0.5h0m5 0.5h0m-26 3.5h0m1 1h0m4-3.5h0m3.5 4h0m1-3h0m0 0h0m0 4h0m1-3h0m1 0.5h0m1 0.5h0m0.5 1.5h0m0.5-1.5h0m0.5 0h0m0 1.5h0m0.5-1h0m2 1.5h0m9-4h0m0.5-0.5h0m0 4.5h0m-22.5 3.5h0m2 2h0m2.5-3.5h0m4 2.5h0m0-1.5h0m2-1.5h0m5.5 1.5h0m2 2.5h0m1-2h0m0.5-0.5h0m0.5 1h0m1.5 1h0m1-1.5h0m-20.5 4h0m0.5-1h0m1 3.5h0m3-2h0m1 2h0m0.5-1h0m4 0.5h0m3.5 1h0m3.5-3.5h0m0.5 3.5h0m1-0.5h0m0.5 1.5h0m0.5-2h0m0.5 0.5h0m1.5 1.5h0m2-4h0m-20 6h0m0-0.5h0m2 1h0m1 0.5h0m1 0h0m5 0h0m2.5 2.5h0m3 0.5h0m-8 2.5h0" stroke="#3c8cd2" stroke-width="2.1" stroke-linecap="round" fill="none"/>
<path d="M512 146.5h0m-6 11.5h0m20-2.5h0m1.5 1.5h0m0.5-3.5h0m0.5 3.5h0m0.5-2.5h0m1-0.5h0m1 0h0m1.5 4h0m-6.5 2.5h0m-5 6h0m5 2.5h0m2-2.5h0m9.5 3.5h0m1.5-1.5h0m-24 3.5h0m5.5-0.5h0m2.5 1h0m1.5-1h0m0 2.5h0m0-2.5h0m0.5 3h0" stroke="#3c6ebe" stroke-width="2.1" stroke-linecap="round" fill="none"/>
<path d="M520.5 156h0m15.5 14.5h0m3 0h0m-12.5 1.5h0" stroke="#468cd2" stroke-width="2.1" stroke-linecap="round" fill="none"/>
<path d="M514 146h0m-1 3h0m1 2.5h0m11-3.5h0m2.5 2h0m1.5 2h0m4-1.5h0m1-1.5h0m-25 9h0m1-3h0m1.5 0h0m1.5-1h0m2.5-1h0m0 4.5h0m0.5-3.5h0m4.5 2h0m0-1h0m-6.5 7h0m15.5 2.5h0m0.5 0h0m3.5-2h0m1 1.5h0m2 1.5h0m4 6.5h0" stroke="#46aadc" stroke-width="2.1" stroke-linecap="round" fill="none"/>
<path d="M507.5 146.5h0m1.5 0.5h0m6.5 8.5h0m6 0.5h0m7-2.5h0m1-0.5h0m0.5 2.5h0m1-0.5h0m-24.5 5h0m0 1h0m1.5 1.5h0m1.5 0h0m3.5-1.5h0m7.5 0h0m3 0h0m0 2.5h0m3-3h0m0.5-1h0m1 5h0m3-5h0m-18.5 9h0m1 0.5h0m5 0.5h0m1.5 0.5h0m3-3h0m2.5 2h0m1.5-2h0m14 3h0m-23 4h0m1-0.5h0m3.5 0.5h0m2.5 1h0m10.5-0.5h0" stroke="#3c78c8" stroke-width="2.1" stroke-linecap="round" fill="none"/>
<path d="M510.5 147h0m2.5-1.5h0m2.5 0.5h0m2-1.5h0m12 6.5h0m-23.5 5h0m1-2.5h0m3 4h0m0.5-1h0m0 2.5h0m0.5-4h0m5-0.5h0m0.5 1h0m1 3.5h0m2-5h0m0.5 2h0m1-3h0m1 5h0m1 0.5h0m3.5-5.5h0m-10.5 6.5h0m0 1h0m1 2h0m0.5 1h0m1-2h0m3.5 0.5h0m6 0.5h0m0.5 2h0m2.5-0.5h0m1.5-0.5h0m-20 2.5h0m2.5-0.5h0m0 0h0m2 2h0m0.5-2.5h0m7 0.5h0m3 3.5h0m1.5-1h0m2.5 3h0m0.5-1.5h0m1-3h0m1 0h0m1.5 0h0m4 1.5h0m-23 4h0m4 4h0m5 0h0m2-1.5h0m0 2h0m1-2.5h0m1 1.5h0m1-3h0m0.5 3h0m2-3.5h0m1 1.5h0m2 1h0m-2 2.5h0" stroke="#4696d2" stroke-width="2.1" stroke-linecap="round" fill="none"/>
<path d="M522.5 170.5h0" stroke="#3c64be" stroke-width="2.1" stroke-linecap="round" fill="none"/>
<path d="M525.5 155.5h0m1 1h0m1 2.5h0m0-2.5h0m0.5-0.5h0m0.5 0.5h0m1.5 0.5h0m0 0h0m0 0h0m-3 5.5h0m-6 7.5h0" stroke="#5050a0" stroke-width="2.1" stroke-linecap="round" fill="none"/>
<path d="M521 146.5h0m-12 3h0m6 2h0m11.5-1h0m0.5-2h0m3.5-1h0m1.5 4.5h0m-19.5 3.5h0m25.5 0.5h0" stroke="#46b4d2" stroke-width="2.1" stroke-linecap="round" fill="none"/>
<path d="M518 146.5h0m1.5 0.5h0m4 0h0m-15 2h0m11.5 1h0m20 6.5h0m-5 4.5h0" stroke="#50b4d2" stroke-width="2.1" stroke-linecap="round" fill="none"/>
<path d="M539 162.5h0" stroke="#78c8c8" stroke-width="2.1" stroke-linecap="round" fill="none"/>
<path d="M525 161h0" stroke="#4650aa" stroke-width="2.1" stroke-linecap="round" fill="none"/>
<path d="M515.5 172h0" stroke="#3c64b4" stroke-width="2.1" stroke-linecap="round" fill="none"/>
<path d="M527 164.5h0" stroke="#465ab4" stroke-width="2.1" stroke-linecap="round" fill="none"/>
<path d="M488.4 53.5 L495 58.8" stroke="#d8f0b4" stroke-width="2" stroke-linecap="round"/>
<circle cx="507.4" cy="61.4" r="1.1" fill="#f09054"/>
<circle cx="516.6" cy="68" r="1.1" fill="#e46060"/>
<circle cx="499.3" cy="132.7" r="1.1" fill="#e47848"/>
<circle cx="505.1" cy="130.5" r="1.1" fill="#60ccc0"/>
<circle cx="493.5" cy="150.9" r="1.1" fill="#60ccc0"/>
<circle cx="496" cy="151.5" r="1.1" fill="#60ccc0"/>
<defs><linearGradient id="cbC" x1="0" y1="0" x2="0" y2="1"><stop offset="0" stop-color="#b8205e"/><stop offset="0.1" stop-color="#d8506a"/><stop offset="0.2" stop-color="#e8784e"/><stop offset="0.3" stop-color="#eca060"/><stop offset="0.4" stop-color="#eec080"/><stop offset="0.4" stop-color="#eedc90"/><stop offset="0.5" stop-color="#e6e030"/><stop offset="0.6" stop-color="#e6f0a0"/><stop offset="0.7" stop-color="#d8f0c0"/><stop offset="0.7" stop-color="#a8e0c8"/><stop offset="0.8" stop-color="#50c0c0"/><stop offset="0.9" stop-color="#48a8d8"/><stop offset="0.9" stop-color="#3a78c8"/><stop offset="1" stop-color="#4c4ea0"/></linearGradient></defs>
<rect x="609.3" y="120" width="12.8" height="62" fill="url(#cbC)" stroke="#444" stroke-width="0.8"/>
<text x="625.9" y="123.3" font-size="9" fill="#0a0a0a" stroke="#0a0a0a" stroke-width="0.22">1.0 (Less diff.)</text>
<path d="M622.1 132.4 h-1.8" stroke="#333" stroke-width="0.8"/>
<text x="625.9" y="135.7" font-size="9" fill="#0a0a0a" stroke="#0a0a0a" stroke-width="0.22">0.8</text>
<path d="M622.1 144.8 h-1.8" stroke="#333" stroke-width="0.8"/>
<text x="625.9" y="148.1" font-size="9" fill="#0a0a0a" stroke="#0a0a0a" stroke-width="0.22">0.6</text>
<path d="M622.1 157.2 h-1.8" stroke="#333" stroke-width="0.8"/>
<text x="625.9" y="160.5" font-size="9" fill="#0a0a0a" stroke="#0a0a0a" stroke-width="0.22">0.4</text>
<path d="M622.1 169.6 h-1.8" stroke="#333" stroke-width="0.8"/>
<text x="625.9" y="172.9" font-size="9" fill="#0a0a0a" stroke="#0a0a0a" stroke-width="0.22">0.2</text>
<text x="625.9" y="185.3" font-size="9" fill="#0a0a0a" stroke="#0a0a0a" stroke-width="0.22">0.0 (More diff.)</text>
<text x="612" y="93.9" font-size="9" fill="#0a0a0a" stroke="#0a0a0a" stroke-width="0.22">Predicted</text>
<text x="612" y="104.4" font-size="9" fill="#0a0a0a" stroke="#0a0a0a" stroke-width="0.22">order</text>
<path d="M463.8 129 V185.2 H520.4" stroke="#1a1a1a" stroke-width="1" fill="none"/>
<path d="M463.8 125 l-2.2 5h4.4z" fill="#1a1a1a"/>
<path d="M524.4 185.2 l-5 -2.2v4.4z" fill="#1a1a1a"/>
<text x="464.2" y="198.4" font-size="8.8" fill="#0a0a0a" font-weight="bold">Component1</text>
<text x="0" y="0" transform="translate(458.6 156.8) rotate(-90)" font-size="8.8" fill="#0a0a0a" text-anchor="middle" font-weight="bold">Component2</text>
<path d="M83.5 315.2C85.7 313.3 89.5 311.4 93 311.4C96.5 311.4 100.2 313.9 104.3 315.2C108.4 316.5 113.2 317.4 117.6 319C122 320.6 128.4 322.5 130.9 324.7C133.4 326.9 133.1 329.1 132.8 332.3C132.5 335.5 130.9 340.2 129 343.7C127.1 347.2 123.3 350 121.4 353.1C119.5 356.2 120.8 359.8 117.6 362.6C114.4 365.5 107.5 369.2 102.4 370.2C97.4 371.1 92.3 369.2 87.3 368.3C82.2 367.4 75.8 366.4 72.1 364.5C68.4 362.6 67.3 360.4 65.4 356.9C63.5 353.4 60.5 347.2 60.7 343.7C60.9 340.2 64.2 338.3 66.4 336.1C68.6 333.9 71.8 332.6 74 330.4C76.2 328.2 78.1 325.3 79.7 322.8C81.3 320.3 81.3 317.1 83.5 315.2Z" fill="#7dbde0"/>
<path d="M47.5 266.9C50.2 265.2 55.1 262.4 59.2 261.1C63.3 259.8 68.7 258.7 72.3 258.9C75.9 259.1 78.9 260.4 81.1 262.5C83.3 264.6 83.5 270.1 85.5 271.3C87.5 272.5 90.8 271.5 92.8 269.8C94.8 268.1 95 263.1 97.2 261.1C99.4 259.2 102.8 257.4 105.9 258.1C109.1 258.8 114.1 262 116.1 265.4C118 268.8 117.6 275.2 117.6 278.6C117.6 282 118 284.7 116.1 285.9C114.1 287.1 109.3 285.4 105.9 285.9C102.5 286.4 97.9 287.1 95.7 288.8C93.5 290.5 93.8 293.2 92.8 296.1C91.8 299 91.6 303.4 89.9 306.3C88.2 309.2 84.5 310.2 82.6 313.6C80.6 317 79.7 323.2 78.2 326.8C76.7 330.4 77 333.6 73.8 335.5C70.6 337.4 63.6 338.9 59.2 338.4C54.8 337.9 50.7 335.5 47.5 332.6C44.3 329.7 41.7 325.3 40.2 320.9C38.8 316.5 38.8 311.6 38.8 306.3C38.8 301 40.1 293.4 40.2 288.8C40.3 284.2 39 281.5 39.5 278.6C40 275.7 41.8 273.2 43.1 271.3C44.4 269.4 44.8 268.6 47.5 266.9Z" fill="#d84c9e"/>
<path d="M114.1 288.4C117.3 288.4 121.8 292.8 125.3 293.2C128.8 293.6 132.7 290 135 290.8C137.3 291.6 138.7 296 139 298C139.3 300 137.8 300.9 136.6 302.8C135.4 304.7 133.2 307.1 131.8 309.2C130.5 311.3 130.1 313.8 128.5 315.7C126.9 317.6 124.5 320.2 122.1 320.5C119.7 320.8 116.8 318.7 114.1 317.3C111.4 315.9 108.5 313.8 106.1 312.4C103.7 311 101.2 310.8 99.6 309.2C98 307.6 96.4 304.9 96.4 302.8C96.4 300.7 98 298 99.6 296.4C101.2 294.8 103.7 294.5 106.1 293.2C108.5 291.9 110.9 288.4 114.1 288.4Z" fill="#d9a83c"/>
<path d="M141.4 263.5C142.2 262 145.8 261.5 147.8 261.9C149.8 262.3 152.6 264.2 153.4 265.9C154.2 267.6 153.3 270.6 152.6 272.3C151.9 274 150.7 275.4 149.4 276.3C148.1 277.2 146.3 278.2 144.6 277.9C142.9 277.6 139.3 275.9 139 274.7C138.7 273.5 142.6 272.6 143 270.7C143.4 268.8 140.6 265 141.4 263.5Z" fill="#d98bc8"/>
<path d="M176.7 299.6C177.6 298.4 181.2 299.6 183.1 300.4C185 301.2 187.3 302.7 188 304.4C188.7 306.1 188.3 309.5 187.2 310.8C186.1 312.1 183.1 312.9 181.5 312.4C179.9 311.9 178.3 309.7 177.5 307.6C176.7 305.5 175.8 300.8 176.7 299.6Z" fill="#72d2b4"/>
<path d="M141.4 309.2C142.5 308 145.1 307.2 147.8 306.8C150.5 306.4 155.2 306.4 157.4 306.8C159.6 307.2 160.7 308.3 160.7 309.2C160.7 310.1 159 311.9 157.4 312.4C155.8 312.9 152.9 311.8 151 312.4C149.1 312.9 147.8 315.4 146.2 315.7C144.6 316 142.2 315.2 141.4 314.1C140.6 313 140.3 310.4 141.4 309.2Z" fill="#c490d6"/>
<path d="M132.8 328.5C133.8 326.1 136.9 327.5 140.4 327.5C143.9 327.5 149.6 327.6 153.7 328.5C157.8 329.4 162.2 331 165.1 333.2C167.9 335.4 170 338.8 170.8 341.8C171.6 344.8 170.8 348.7 169.8 351.2C168.9 353.7 166.5 354.8 165.1 357C163.7 359.2 161.6 361.4 161.3 364.5C161 367.6 163.8 372.4 163.2 375.9C162.6 379.4 160.3 383.2 157.5 385.4C154.7 387.6 149.9 388.6 146.1 389.2C142.3 389.8 138.5 388.9 134.7 389.2C130.9 389.5 126.8 389.8 123.3 391.1C119.8 392.4 116.3 394.9 113.8 396.8C111.3 398.7 110 401.7 108.1 402.5C106.2 403.3 104 403.1 102.4 401.5C100.8 399.9 99 395.7 98.7 393C98.4 390.3 98.3 388.2 100.5 385.4C102.7 382.5 108.1 378.1 111.9 375.9C115.7 373.7 119.5 373.1 123.3 372.1C127.1 371.2 131.2 371.1 134.7 370.2C138.2 369.2 143.2 368.3 144.2 366.4C145.1 364.5 141.7 361.3 140.4 358.8C139.1 356.3 137.6 354 136.6 351.2C135.6 348.4 135.3 345.6 134.7 341.8C134.1 338 131.9 330.9 132.8 328.5Z" fill="#5d66ba"/>
<path d="M157.5 365.5C157.8 364.1 161.1 364.3 163 364.8C164.9 365.3 167.9 367.1 168.9 368.3C169.9 369.5 170.2 371.3 168.9 372.1C167.6 372.9 163.2 374.2 161.3 373.1C159.4 372 157.2 366.9 157.5 365.5Z" fill="#5cb866"/>
<path d="M66 260h0m0 0.5h0m0.5-0.5h0m1.5 0.5h0m0-1h0m1 1h0m0.5-1h0m0.5-0.5h0m4 1h0m29 0.5h0m2.5-0.5h0m2.5 0.5h0m-61.5 6.5h0m2 0h0m3.5-1h0m0-1h0m1 0.5h0m0-1h0m2.5 2.5h0m0.5-1.5h0m0 1.5h0m1-4h0m1 1h0m0 1h0m1.5-2.5h0m0.5 0.5h0m0-2h0m1 1.5h0m1 0h0m0.5 4.5h0m0.5-1.5h0m0.5-4h0m1 2h0m0.5-1.5h0m0 2.5h0m0.5-0.5h0m1 0h0m0 0.5h0m1.5 0h0m0.5 2h0m0.5-5h0m0.5 5.5h0m0.5-3h0m0.5 3h0m1-6h0m1 2.5h0m0 1.5h0m0 0.5h0m1 1.5h0m0-4h0m0.5-0.5h0m0 3.5h0m2-4.5h0m0-0.5h0m0.5 4.5h0m0.5-3.5h0m1 1h0m0-2h0m1.5 6h0m0.5-2h0m0.5 1.5h0m1 0h0m0-0.5h0m0.5 0h0m13-1.5h0m0.5 2h0m0.5-2.5h0m0.5-0.5h0m1 3.5h0m0-3h0m0.5-2h0m0 1.5h0m0.5-2.5h0m0.5 3.5h0m0.5-1h0m0-2.5h0m0 1h0m0.5 5h0m0-5.5h0m0.5 1.5h0m0 4h0m2.5-2h0m0 2h0m0.5-4h0m0.5-2h0m3 5.5h0m0-0.5h0m1.5-1h0m1.5-3h0m1.5 5h0m0-3.5h0m2 2.5h0m0.5-1h0m0 2h0m0.5-0.5h0m0-2h0m27.5-1h0m0.5 2h0m0 0.5h0m0-1.5h0m3.5 2h0m2-0.5h0m0 1h0m1-3.5h0m1.5 3.5h0m0.5-1h0m0.5-0.5h0m0.5-0.5h0m1 2h0m0-1h0m-107.5 3.5h0m0.5 1h0m0 1.5h0m0-3.5h0m1.5 0h0m0.5 0h0m0.5 2h0m0.5 2h0m3.5-1.5h0m0-1h0m1-2.5h0m1.5 3h0m1.5-0.5h0m0-2.5h0m2 3.5h0m1 1h0m0.5-0.5h0m0.5-4h0m0.5 0h0m3.5 4h0m0.5-1.5h0m0-1h0m1.5 2h0m2-1.5h0m0.5-2h0m0.5 0h0m0 4.5h0m0.5-3h0m0.5 3.5h0m0-4h0m0-0.5h0m1.5 3.5h0m0-3.5h0m1 4h0m0.5-2h0m0.5 0.5h0m0.5-0.5h0m1-0.5h0m2.5 2.5h0m0.5-2h0m2.5-0.5h0m1.5-1h0m0.5 1h0m1.5 0h0m1 2h0m0 0.5h0m1.5-0.5h0m1 0h0m0.5-0.5h0m1-0.5h0m0.5 2h0m0.5-2h0m0.5 1.5h0m0.5-2h0m2.5 0.5h0m0-0.5h0m1.5-0.5h0m0-0.5h0m0.5 0h0m0.5 0.5h0m2 1.5h0m0-2.5h0m0 3h0m1.5-0.5h0m0-0.5h0m0.5-0.5h0m1.5-2.5h0m0.5 3.5h0m0.5-1h0m0.5-2.5h0m1.5 1.5h0m0-0.5h0m4 3h0m2-1.5h0m2-2h0m0 1.5h0m1-0.5h0m1.5 0.5h0m1-0.5h0m24.5 3.5h0m1.5-5h0m0.5 4h0m0.5-3.5h0m0.5 2h0m0-1.5h0m1.5 0h0m1.5 0.5h0m0 2h0m1 1h0m2-4h0m0.5 1.5h0m0.5-0.5h0m0 0.5h0m0 1.5h0m0.5 0.5h0m0-0.5h0m0-3.5h0m1 0.5h0m-111.5 9.5h0m0 1.5h0m0.5-1h0m0.5-3h0m0.5 0.5h0m3 1h0m0-0.5h0m0.5 1.5h0m1-4h0m0.5 2.5h0m0 2h0m0-3h0m1.5 2h0m1-1h0m0.5 0h0m1-3h0m0 5.5h0m1-1.5h0m0.5-1.5h0m0.5 3h0m0 0.5h0m1-3.5h0m0.5 0h0m1-1h0m0 4.5h0m1-1h0m0-4h0m1.5-0.5h0m0 3.5h0m0-0.5h0m0.5-2.5h0m3-1h0m2 1.5h0m0.5 1.5h0m0 1.5h0m0-2h0m1 0.5h0m0.5 3h0m1.5-0.5h0m0.5-1.5h0m1 2h0m5-4h0m0-1.5h0m0.5 1h0m0 4.5h0m1-5h0m1.5 5h0m0-4h0m2 1h0m2-1h0m0.5 2.5h0m0.5-2.5h0m0 3h0m0.5-4h0m0 3h0m1 2h0m0-3h0m0.5 2h0m0.5-2.5h0m0.5 1h0m1-1h0m0 2.5h0m0.5-0.5h0m2-4h0m0.5 1.5h0m0.5 1.5h0m1-2.5h0m0.5 5h0m0.5-6h0m0 3.5h0m2 2.5h0m2.5-4h0m0-1h0m1 5h0m0.5-1.5h0m0.5-4.5h0m3 4h0m1.5-2.5h0m0.5 1.5h0m0.5 0.5h0m0-3h0m0 2h0m2 3.5h0m0-3h0m0.5 3h0m0.5-1.5h0m0.5-1h0m1.5 1h0m0 1.5h0m0-6h0m0.5 4.5h0m0.5-0.5h0m1.5 2h0m1.5-4.5h0m1.5 3h0m0-0.5h0m0.5 1h0m0.5 0h0m0 1h0m0.5-4.5h0m0 1h0m1 2.5h0m0-0.5h0m0.5 0h0m0 1h0m24.5-3.5h0m0-1.5h0m1.5 2.5h0m0.5-0.5h0m0 1h0m1 0.5h0m1-3h0m0-1h0m0.5 3.5h0m0.5 0h0m1.5-0.5h0m0.5 0.5h0m1-1h0m0-1h0m0.5 0.5h0m0.5-0.5h0m0-0.5h0m-110 6h0m0.5 0.5h0m0 2.5h0m0.5 1.5h0m0.5-0.5h0m0-0.5h0m0-2.5h0m2.5-0.5h0m1-0.5h0m0.5 0h0m0.5-0.5h0m0 2.5h0m0.5-1h0m1 2h0m0-3.5h0m1 2h0m0.5 1.5h0m0.5 0.5h0m0.5-2.5h0m1.5 3.5h0m0.5-0.5h0m1-2.5h0m1.5-0.5h0m2-0.5h0m0.5-1h0m0.5 2h0m1.5 2.5h0m0-3h0m0.5 1.5h0m3-0.5h0m0-1h0m1 0.5h0m0.5 1.5h0m0.5-2h0m0.5-1h0m2 4.5h0m0-4.5h0m0.5 1.5h0m0.5 3h0m1-1h0m1-0.5h0m0.5 1.5h0m0.5-3.5h0m0 3h0m0-1h0m1-3.5h0m2 5h0m0-4h0m2.5 3h0m2.5-2.5h0m0-1h0m1 4h0m0.5-4h0m0 4h0m0.5-2h0m0.5-2.5h0m0.5 2.5h0m0-0.5h0m0 3h0m1-3.5h0m0.5-0.5h0m1 0h0m0.5 4h0m0.5-2h0m1-0.5h0m0 2h0m1-3h0m0.5-1.5h0m1.5 0.5h0m0.5 4.5h0m0-3h0m1-0.5h0m0.5 0h0m1 3.5h0m1-3h0m0.5 3h0m0.5-1.5h0m0.5-3.5h0m0.5 3h0m0.5-0.5h0m0.5-0.5h0m1-2h0m1 0.5h0m3.5 1h0m0 2h0m2.5 1h0m1-0.5h0m1-3.5h0m0 4.5h0m1.5-3h0m0.5 0h0m1 3h0m1-5h0m0.5 4.5h0m0.5-3h0m0 0.5h0m0.5 3h0m2-5h0m0 1.5h0m0 3.5h0m1-2h0m0-0.5h0m0 2h0m0.5-3.5h0m1 2h0m0-3h0m-77 10.5h0m0.5 1h0m0-2h0m0-4h0m0.5 2h0m0.5-2h0m0 2.5h0m0-1.5h0m1-0.5h0m0 0.5h0m0.5 3.5h0m1-4h0m0 1.5h0m1 0h0m0-0.5h0m0 2.5h0m0.5-2.5h0m0 1h0m0.5 2h0m0.5-2.5h0m0.5 2h0m0.5-3h0m4 3h0m1.5-2.5h0m1.5 4h0m0-4h0m1.5-0.5h0m0.5 4.5h0m0-1h0m0-3.5h0m1 0.5h0m1.5 2.5h0m0.5-1h0m2 0h0m1.5 1h0m3.5-1.5h0m1 2.5h0m3-5h0m1.5 0h0m0.5 2h0m0-0.5h0m0 3h0m1 0h0m0-3.5h0m1 4h0m0.5-4.5h0m0 0.5h0m0.5 0.5h0m0 2.5h0m1-0.5h0m0.5-3h0m0.5 3.5h0m1.5-1h0m1-2h0m0-0.5h0m0-0.5h0m2.5 5h0m1.5-3.5h0m3-1.5h0m2 1.5h0m2.5 3.5h0m1-4h0m0.5 5h0m0.5-5h0m0.5 5h0m1-5h0m2 2.5h0m0.5-2.5h0m0.5 1.5h0m2.5-2h0m0 1h0m0.5 0.5h0m3.5-1h0m0.5-0.5h0m0.5-0.5h0m2 1h0m3.5 0.5h0m1 4.5h0m0.5-0.5h0m0.5-4.5h0m0.5 3h0m0.5-3h0m0 3h0m0.5-3h0m0 4.5h0m1 0h0m2 0.5h0m1-0.5h0m1 0h0m-79.5 2h0m0-0.5h0m0 3.5h0m0.5-1h0m0.5-1.5h0m0 0.5h0m1.5 0h0m0.5-0.5h0m2 1h0m1.5 1h0m1-3.5h0m0.5 0h0m2 1h0m1 3.5h0m1.5-0.5h0m1.5-1h0m2 0.5h0m0.5 1h0m0.5-3h0m0.5 3h0m2.5-1.5h0m2.5-1.5h0m0.5-0.5h0m0.5 3.5h0m2.5 0.5h0m0.5-3.5h0m0.5 0.5h0m1 1h0m0.5-2.5h0m0.5 3h0m0.5 1.5h0m0-3h0m0.5 1h0m0-2h0m0.5 3h0m1 1h0m0.5-2.5h0m0.5-2h0m1 4h0m1.5 0h0m0.5 0.5h0m0-2h0m2.5-1h0m1 1.5h0m0.5-0.5h0m2-0.5h0m1-1.5h0m2 0.5h0m0.5 3.5h0m1.5-1h0m1-2h0m0.5-1h0m0 1.5h0m0.5 2h0m0.5-4.5h0m0 3.5h0m1-3.5h0m1 5h0m1 0h0m0.5-3h0m0-1h0m0.5 1.5h0m0-2h0m7.5 4.5h0m0-1h0m0.5 0.5h0m4-1.5h0m2 1h0m1-3h0m0.5 1h0m0.5-2h0m3 4h0m0.5-1.5h0m0-1.5h0m1 0h0m3-1h0m0.5 4h0m2-1.5h0m0 1h0m0.5 1.5h0m0.5-4h0m1 4h0m0-3.5h0m1.5 3.5h0m0.5-2h0m2 0h0m0 2h0m0-3.5h0m1.5 1.5h0m0-1h0m1.5 0.5h0m0 0.5h0m0.5-0.5h0m0-1.5h0m0.5 0h0m0 1h0m0.5 1.5h0m1-1h0m1-1.5h0m0 0.5h0m1 1.5h0m0-1h0m1 2h0m0 1h0m0.5 0h0m1-4.5h0m0 1h0m1 1.5h0m1.5-1h0m-97.5 4h0m0.5 1h0m0 2h0m0-3.5h0m0.5 1.5h0m0.5 0h0m0-1h0m0 2.5h0m0.5-2h0m1 2h0m0.5 2.5h0m0-4.5h0m2 3.5h0m0.5 1.5h0m0.5-4h0m3 2.5h0m1-3.5h0m1 1.5h0m0-2h0m0 4h0m1.5 0h0m0.5-4.5h0m0 6h0m0-4h0m0.5 2h0m2 0h0m0.5-0.5h0m1.5 1.5h0m1-2.5h0m1 1.5h0m0.5 2h0m2-2h0m0-2.5h0m0.5 2h0m0 0.5h0m5-2.5h0m1 1.5h0m1-1.5h0m1.5 4.5h0m0-3.5h0m1.5 2.5h0m0.5-2h0m0.5-2.5h0m0.5 2.5h0m2.5 2.5h0m0.5-1h0m0-2.5h0m0-0.5h0m0.5 1h0m0 3.5h0m0.5-2.5h0m0-1h0m0 1.5h0m0.5-1h0m0.5 1h0m1.5 2h0m0.5-3.5h0m1.5 1.5h0m0-4h0m1.5 6h0m0.5-6h0m0.5 4.5h0m1 0.5h0m0.5-1.5h0m1 1h0m0-1.5h0m0-2h0m0.5 5h0m0-2h0m0-3.5h0m0.5 0h0m0.5 3.5h0m0.5-0.5h0m0.5 2h0m0 0.5h0m0.5-5h0m0 2h0m1.5 1h0m4 1.5h0m1.5-2h0m0.5-1.5h0m0.5 0.5h0m0.5-1h0m0.5 2h0m1 1.5h0m2.5-5h0m1 3.5h0m0.5-2h0m0.5 2.5h0m1-0.5h0m1-2h0m1 0.5h0m1.5 0.5h0m0.5 2.5h0m0.5-3.5h0m0.5 2.5h0m0.5-2h0m1 0.5h0m1 3.5h0m0-6h0m1 1.5h0m0 2.5h0m0 0.5h0m0 0.5h0m0.5-1.5h0m1-1h0m3 3h0m0-1h0m2-4.5h0m0.5 0.5h0m0 3h0m2.5-3h0m2 0h0m0 3.5h0m0.5 0h0m1-4h0m1 0.5h0m1 1.5h0m0.5 2.5h0m0.5-1h0m0 2.5h0m1-6h0m0 3.5h0m0-3h0m1.5 4.5h0m0.5-4h0m1 5h0m0-2h0m0.5-1.5h0m1 3h0m1-4.5h0m0.5 1.5h0m0.5-1h0m38.5 2h0m1 0h0m1 0.5h0m0.5 1h0m0-0.5h0m0-1h0m1.5 1h0m0.5 1h0m1-2h0m0.5 0.5h0m0-0.5h0m0 2h0m0-0.5h0m1-0.5h0m-145.5 2.5h0m0.5 0.5h0m0.5 0.5h0m0-1.5h0m1 2h0m0 2.5h0m1.5-1.5h0m2.5 1.5h0m0-0.5h0m1.5-3h0m0.5 3h0m0.5-2.5h0m0 0.5h0m0.5-2h0m0 3h0m1-2.5h0m1.5 2.5h0m0.5-1h0m0 2.5h0m1.5-2h0m1.5-1h0m0 1.5h0m0.5 0.5h0m0-3h0m0.5-0.5h0m0.5 5h0m0.5-4.5h0m0.5 0.5h0m0 4h0m1-0.5h0m0-1h0m1.5-1h0m0 0.5h0m1-2.5h0m0-0.5h0m0.5 5h0m0-1h0m0-0.5h0m1-2.5h0m2-0.5h0m0 2.5h0m0 1h0m0.5-1h0m2-0.5h0m1.5 0.5h0m5.5-3h0m0 5h0m0.5-2.5h0m2.5 0.5h0m0-3h0m1.5 2h0m1 0.5h0m1.5 0h0m0-2h0m3 2.5h0m0.5 1h0m0.5-4h0m0.5 4.5h0m0.5-4h0m0 4h0m2-2.5h0m0.5 3h0m0-2h0m0.5-1.5h0m0 1.5h0m1.5-1h0m0 1.5h0m0.5-1h0m0-1h0m8.5-1h0m1 2.5h0m0-0.5h0m0 1h0m0.5-1.5h0m0.5-1.5h0m0.5 3.5h0m0.5-3.5h0m0 0.5h0m0 1.5h0m1.5 0.5h0m0.5-1h0m0-0.5h0m0.5 2.5h0m0-3.5h0m3.5 3h0m0-2h0m1-0.5h0m1 2h0m0-1h0m2.5-1h0m0.5 0h0m0-1h0m0.5 0.5h0m1 3h0m2.5-1.5h0m1.5 0h0m0.5-1h0m1-1h0m0.5 2.5h0m0.5 2.5h0m2-0.5h0m1-2.5h0m0.5-1h0m0.5 0h0m2.5 2h0m1-1.5h0m0 2h0m0.5-3.5h0m0 5h0m0.5 0h0m1.5-2h0m1 0.5h0m1 1.5h0m0.5-4h0m0.5 2h0m0-2h0m0 2.5h0m0-1.5h0m0.5 1.5h0m1-3.5h0m9 5h0m0.5 0h0m1 0h0m3-0.5h0m0 0.5h0m1-0.5h0m0.5-1h0m1 1h0m2.5 0.5h0m0-1h0m1 0.5h0m2-0.5h0m1.5 0.5h0m0-0.5h0m0.5 0.5h0m20-2.5h0m0 1.5h0m0-1h0m0.5-2h0m0.5 0.5h0m1 2.5h0m1 1h0m0-4h0m0.5-0.5h0m2 2.5h0m1.5 0.5h0m0-3h0m1 2h0m0-1h0m0.5 1h0m1 0h0m0-1h0m0 2.5h0m-147.5 6.5h0m0 1.5h0m0-3h0m1 3h0m0.5-2.5h0m0.5-0.5h0m0 3h0m0-0.5h0m1.5-1h0m0 1h0m0-2.5h0m0.5 2h0m0.5-3.5h0m2 1h0m3.5-1h0m0 1h0m1 1.5h0m0.5 0h0m0.5-1h0m0.5 1.5h0m0.5-2h0m2-1h0m0 0.5h0m0.5 2.5h0m0 1.5h0m0.5-2.5h0m2.5-0.5h0m1-1.5h0m1 2h0m0-2.5h0m0.5 5h0m0.5-6h0m0.5 1h0m1.5 1.5h0m0.5 2.5h0m0-3.5h0m0.5 1h0m0 1.5h0m0.5-2h0m0.5 4h0m1-5h0m0.5 5h0m0.5-3.5h0m0.5 3.5h0m0.5-1.5h0m0.5-0.5h0m2.5 1h0m0.5-2h0m1-2h0m0.5 0.5h0m0 3.5h0m0.5-3.5h0m0.5-1.5h0m5 4h0m0.5 1.5h0m0.5-4.5h0m0.5 4h0m0.5 1h0m1-3h0m2 2.5h0m2-5h0m2 4h0m2.5-1.5h0m0 1.5h0m1 1h0m1-3h0m0 1.5h0m0-1h0m0.5 1h0m1.5 1h0m0.5-1h0m0.5 0.5h0m1-0.5h0m1 1h0m1.5-5h0m0.5 4.5h0m1-4h0m0.5 5.5h0m0-6h0m3.5 1h0m2.5-1h0m0 0.5h0m0.5 0.5h0m0.5 3h0m1.5 0.5h0m0.5 1h0m1-3.5h0m0.5-0.5h0m1 1h0m0-0.5h0m0.5 4h0m0.5 0h0m1-4.5h0m0.5 0.5h0m0.5-0.5h0m0.5 0h0m0.5 4.5h0m0.5-6h0m0 4h0m0 2h0m0.5-1h0m2-2h0m1-0.5h0m1 2.5h0m0.5 0.5h0m1.5-5h0m0.5 1.5h0m1 3.5h0m0-2h0m0-2h0m1 3.5h0m0-3h0m1 2.5h0m1-0.5h0m0.5-0.5h0m0.5 2h0m0-4.5h0m0.5 1.5h0m0.5-2.5h0m11 3.5h0m0.5 1.5h0m0-1h0m0.5-0.5h0m0.5 1h0m1-4h0m0 2h0m0.5 3h0m1-3h0m0.5 3.5h0m1-1h0m0-5h0m0.5 4.5h0m1-2.5h0m0 1h0m1-1.5h0m0.5-0.5h0m0.5 2.5h0m0-0.5h0m1-0.5h0m0.5-0.5h0m0.5 1h0m0-1h0m0.5 0h0m0.5-1h0m3 0.5h0m0.5 0.5h0m0.5-0.5h0m0.5-1h0m24.5 1h0m3-1.5h0m0 1h0m0.5 0.5h0m0-0.5h0m1 0.5h0m-146 10h0m1 0h0m0-0.5h0m1-0.5h0m3.5-3h0m0.5 1.5h0m2.5 0.5h0m0-3h0m1 2.5h0m2.5 0h0m0-2.5h0m1 1.5h0m1-0.5h0m0.5 1h0m1.5-2h0m0.5 4h0m0.5-3.5h0m0 1h0m2.5-0.5h0m0.5 2h0m0.5-1h0m2 3h0m2.5 0h0m2.5-2.5h0m0 1.5h0m1.5-3.5h0m0.5 2.5h0m1 1.5h0m0.5 0.5h0m0.5-4.5h0m0.5 0h0m1 3.5h0m0-2.5h0m0-0.5h0m2 4h0m0.5-5h0m1 3.5h0m0.5-3.5h0m0 0.5h0m0.5 0.5h0m0.5 4h0m0.5-4h0m0.5 4h0m1-1.5h0m1.5-2h0m0 1h0m1 1.5h0m0 0.5h0m1.5-3.5h0m1 2h0m0.5-1h0m0 2.5h0m1-4.5h0m1 0h0m0 4.5h0m2.5-4h0m1.5 3h0m0.5-3.5h0m0 3h0m0.5 0.5h0m0.5-3.5h0m0.5 5h0m1 0h0m1.5-3h0m1-0.5h0m2.5 3h0m0-3.5h0m0.5 2.5h0m0.5 1h0m0.5-3.5h0m2.5 3.5h0m0-3h0m0.5 1h0m0 1h0m0.5 1h0m0-3.5h0m1 0.5h0m1.5 0.5h0m0-0.5h0m2.5 2h0m0.5-3.5h0m1 3h0m0.5-2h0m1 3.5h0m1-3h0m0-1h0m1 1.5h0m1.5 3h0m0-4h0m0 1h0m0.5-1h0m0.5 2.5h0m0.5 1.5h0m0-2h0m1-0.5h0m0.5 0.5h0m0-1.5h0m1-0.5h0m0 4h0m2.5 0h0m0-2h0m23-2.5h0m-105 5.5h0m1-0.5h0m0.5 2h0m0.5-1.5h0m0 4.5h0m0.5 0h0m0-0.5h0m1-2.5h0m0.5 3.5h0m0-5.5h0m0.5 5.5h0m0-2h0m0-3.5h0m0.5 5h0m0.5-5h0m0 2.5h0m0.5 2h0m0-2.5h0m1 0h0m0.5-1.5h0m0.5 2.5h0m1-0.5h0m0-1.5h0m1 1h0m1 2h0m0.5-4h0m1 2.5h0m0-2h0m1 5h0m1-1h0m0.5-3.5h0m0.5-1h0m1 5.5h0m1.5-3.5h0m1.5 2.5h0m0.5-2.5h0m2.5 4h0m0.5-5.5h0m0.5 4.5h0m2.5-1h0m1.5 0.5h0m0.5 1h0m0-4h0m0-0.5h0m0.5 0h0m0 2.5h0m0-3h0m0 5h0m0.5-5.5h0m0.5 4h0m0 1h0m1-5h0m3 6h0m0.5-1.5h0m0.5 0h0m0.5 0.5h0m0.5-4.5h0m0 5h0m0.5-1.5h0m0.5 1h0m0 0.5h0m0-1.5h0m0-0.5h0m0.5 2.5h0m0.5-3.5h0m0.5-2h0m0.5 3h0m0.5-1.5h0m0.5 0.5h0m0.5 3.5h0m1-5h0m0.5 1.5h0m0.5 1.5h0m0-2h0m0.5-1h0m0 1h0m1 1h0m0.5-1.5h0m0 0.5h0m0-1.5h0m1.5 1.5h0m0.5-1.5h0m0.5 1.5h0m1 0.5h0m1 2.5h0m1.5 1h0m0-2h0m0-2h0m0.5 1h0m1 1.5h0m0-1h0m0.5-3.5h0m0 3h0m0.5 0h0m0-1h0m0.5 3h0m0-1h0m0.5-2.5h0m0.5-1h0m1 3.5h0m0.5 0h0m0.5-1.5h0m0.5-0.5h0m1 0.5h0m0.5-2.5h0m0 1.5h0m1.5 1.5h0m1.5-2h0m0.5 4.5h0m0-2h0m0.5-1h0m0.5 3h0m1.5-5.5h0m0.5 1.5h0m0.5 4.5h0m1-2h0m1-1.5h0m0.5-0.5h0m0.5 2.5h0m0.5-3h0m0.5 3h0m0-3.5h0m2-1h0m1 0h0m1.5 0h0m0.5 4h0m0-2.5h0m1.5-1h0m0-0.5h0m0.5 6h0m0-4.5h0m1 0h0m0.5 4h0m0 0.5h0m1-0.5h0m0 0.5h0m0.5-4h0m0.5 2.5h0m0.5 0h0m0-2.5h0m0 4h0m0-5h0m0 0.5h0m1 0.5h0m0 0.5h0m1.5 1.5h0m0-1h0m0.5 1h0m0-1.5h0m1 0.5h0m0.5-0.5h0m1 3.5h0m0.5-3.5h0m1 1.5h0m2 2h0m0-1.5h0m0 0.5h0m0.5 1h0m-86 1h0m1.5 1h0m1-1h0m0 2h0m0.5 2.5h0m0-2h0m1.5-2h0m2-0.5h0m0-0.5h0m0.5 3.5h0m0.5 1h0m0-1.5h0m0-3h0m1.5 0h0m0.5 3.5h0m1.5-3.5h0m0.5 3h0m0-1h0m0.5-1.5h0m0.5 4h0m0-2h0m0-0.5h0m2-1h0m1.5 2.5h0m0.5-2.5h0m0.5 3h0m1 0.5h0m2 0h0m0-0.5h0m4-3h0m1.5 2.5h0m1 1.5h0m0.5-3.5h0m0.5-1h0m0.5 3h0m0.5 1h0m0-3.5h0m0.5 3.5h0m0-0.5h0m0.5 0h0m1-1h0m0 2h0m1-5h0m0.5 0.5h0m0.5 0h0m0.5 4.5h0m1-1.5h0m0-3.5h0m1 4.5h0m0.5-1.5h0m2-2.5h0m1.5 3.5h0m0 0.5h0m0.5-2h0m0-1h0m0 2.5h0m0.5 0.5h0m1-0.5h0m2.5-1.5h0m0.5 1.5h0m0.5-1.5h0m2 0.5h0m0.5-3h0m2 0h0m0.5 0.5h0m2 2.5h0m3.5 1h0m1-2h0m0.5-1h0m0.5 2h0m0-2.5h0m3.5 0h0m0 2h0m0.5-0.5h0m1.5 1h0m1-2.5h0m0.5 1.5h0m1.5-0.5h0m1 3h0m1-1.5h0m0.5 1.5h0m0-3.5h0m1.5 0.5h0m1.5 3h0m1-3.5h0m0.5 1.5h0m0.5-1.5h0m0.5-1h0m0.5 0h0m1.5 3.5h0m0.5-3.5h0m1.5 1h0m0.5 2.5h0m0-2h0m2 2h0m0-1.5h0m1.5 2h0m0.5-3h0m0 0.5h0m0.5 2h0m0.5-2.5h0m0.5 3.5h0m0-1.5h0m0.5-1h0m0.5 1.5h0m1-3.5h0m0 3h0m0 1.5h0m1 0.5h0m0-2h0m0.5-2h0m0.5 3h0m1 0h0m0.5-2.5h0m0 3.5h0m0.5-2.5h0m0.5-1h0m0-1h0m0 2h0m0.5-1.5h0m2 1h0m0.5-1.5h0m0 3.5h0m0.5-2.5h0m1 2h0m3.5 0h0m2.5-1.5h0m0 1h0m0.5 2h0m0.5 0h0m0-1.5h0m0-1.5h0m0.5 0h0m0.5-1h0m0.5 1h0m0 2.5h0m0.5 0.5h0m0.5-2h0m2-0.5h0m0-1h0m0.5 0.5h0m0.5 2h0m2 0h0m0-2h0m0-1h0m1 3.5h0m1.5-1h0m0.5-0.5h0m1 0h0m0 1h0m1 0.5h0m0-0.5h0m0.5 0.5h0m0.5-1.5h0m4.5 1.5h0m-113.5 2.5h0m0.5-1.5h0m1.5 2.5h0m0-2.5h0m0.5 2h0m0.5-1h0m0 1.5h0m1-0.5h0m1-1h0m1-1h0m0 2.5h0m0.5 0.5h0m1 0h0m0 1.5h0m0.5-1.5h0m1 1.5h0m0.5 0.5h0m2-1h0m1-2h0m1 1.5h0m0.5 1h0m1 0h0m0-4.5h0m1 2h0m0.5 1h0m1 0h0m1-3h0m0.5 3h0m0.5-3h0m1 1h0m0 1h0m0.5 3h0m1.5-2.5h0m0-2.5h0m0.5 2h0m0.5 3h0m1.5 0h0m0.5-3.5h0m0.5 4h0m1-5.5h0m0.5 2h0m0.5 4h0m1-1.5h0m0.5-1.5h0m1 2.5h0m0.5-2h0m1.5 1h0m3.5-3h0m0.5 2h0m2 2.5h0m0-4.5h0m1-1h0m2 2.5h0m0-2.5h0m0.5 2.5h0m1.5 1h0m1.5-0.5h0m0-2h0m3 2.5h0m2.5 0.5h0m0.5 1h0m0-4.5h0m1 5h0m0-4h0m0.5 1.5h0m0.5 1.5h0m1-0.5h0m0-1h0m0 2.5h0m0.5-3h0m0.5-1h0m1.5-1.5h0m1 5h0m1 0.5h0m0.5-4.5h0m0 1.5h0m1 0.5h0m0.5-0.5h0m0.5 3h0m1.5-4h0m2.5 1.5h0m2.5-3.5h0m1.5 5.5h0m0.5-2.5h0m0.5 1h0m0.5-1h0m0.5 1h0m0 1.5h0m1-3h0m0-2h0m3 3.5h0m0.5-3.5h0m0 0.5h0m0.5-0.5h0m0 5.5h0m0.5-4h0m0.5 0h0m2.5 0.5h0m0 3h0m0-2.5h0m1-1h0m0-0.5h0m2.5-1.5h0m0 5.5h0m0.5 0.5h0m0-2.5h0m1 0h0m0.5 1.5h0m0.5 1h0m0.5-1.5h0m2 0h0m0.5-3h0m0.5 4.5h0m2-5.5h0m0.5 1.5h0m1 2h0m3.5 2h0m0.5-1.5h0m0-0.5h0m0.5-3.5h0m0 5h0m1-3.5h0m1 3.5h0m1.5-4h0m0.5 4.5h0m0.5-1h0m0-4h0m1-0.5h0m1 3h0m0 2h0m0.5-5h0m1 0h0m1 0h0m0.5 3h0m0 0.5h0m0.5-1.5h0m1-0.5h0m1 1.5h0m0.5 2.5h0m0.5-2.5h0m0-3h0m0-0.5h0m0.5 0h0m0 5h0m1 0h0m0.5-1.5h0m0.5-3h0m0.5 0.5h0m2 1.5h0m-104.5 8h0m0-0.5h0m0.5 0h0m1 1.5h0m0.5-2h0m0 1.5h0m0-2h0m0.5 0h0m0.5-2h0m0.5 1.5h0m0-2h0m1.5 0.5h0m0.5 4.5h0m0.5-2h0m0 2h0m0.5 0h0m0-3h0m0-1h0m0.5 4h0m1.5-2.5h0m2.5 2.5h0m0.5-3h0m0 1.5h0m0.5-2h0m1-0.5h0m0.5 3.5h0m1.5-1.5h0m0.5 0h0m2 0h0m0.5-2h0m1 1h0m0.5 0h0m0 0.5h0m1-1h0m0 3.5h0m2-5h0m1.5 2h0m1.5 1.5h0m0.5-2.5h0m1.5 0h0m0-1h0m2 3h0m2 1h0m0-2.5h0m3-0.5h0m0 1.5h0m1 0h0m0 0.5h0m0.5 0h0m0 1.5h0m0.5-2h0m2 2.5h0m0-3.5h0m3 1.5h0m0.5-1.5h0m4-0.5h0m0.5 3.5h0m0.5 0.5h0m0.5-1h0m0-0.5h0m0.5-1.5h0m2 1.5h0m0-3h0m0.5 4.5h0m0.5-0.5h0m0-1h0m1 1h0m0.5-2.5h0m1.5 1h0m0.5-0.5h0m1.5 1h0m0.5-2.5h0m0.5 3.5h0m1-3.5h0m3.5 0.5h0m0-1h0m0 3h0m2-1h0m0-0.5h0m0-0.5h0m2 3h0m1.5-1.5h0m1-3h0m5 1h0m0 2.5h0m1-1.5h0m0 2h0m0.5-1.5h0m0-1.5h0m0 1h0m0.5 2h0m0-0.5h0m0 1.5h0m0.5-2h0m0.5 0h0m0 1h0m2 1h0m1-2h0m1.5-2.5h0m1 0.5h0m3 0.5h0m1.5-0.5h0m1.5 1h0m2 1h0m0 1h0m0-2.5h0m1 0.5h0m0-1.5h0m0.5 2h0m0-0.5h0m0-1h0m1 2.5h0m0.5-1h0m0.5 0.5h0m1-2h0m0-0.5h0m0 1.5h0m2.5 1h0m0.5-2h0m0-0.5h0m0.5 1.5h0m2.5-2h0m2.5 1.5h0m0.5 3.5h0m1-4.5h0m0.5 0h0m0.5 0h0m0.5 0.5h0m1-1h0m1 2h0m0-0.5h0m1 0.5h0m0 3h0m-109 0.5h0m1.5 1h0m0.5 4h0m0.5-2h0m1.5 1h0m0-0.5h0m0.5-0.5h0m0 0.5h0m0 1h0m4.5-4.5h0m1 4.5h0m0-2.5h0m0 1.5h0m0.5 0h0m1.5 2.5h0m2 0h0m0.5-5h0m0.5 1.5h0m0.5 2h0m1.5 0h0m2-4h0m0 5h0m0.5-1h0m0.5 0.5h0m0-3.5h0m0.5 2.5h0m0-0.5h0m0.5 1h0m0 0.5h0m2-4.5h0m2 0.5h0m2-1h0m1 4h0m2.5 0h0m0.5-3.5h0m0.5 0.5h0m2 4h0m0-4h0m2 3.5h0m1-2h0m2-0.5h0m0.5-1.5h0m0 4h0m1-1.5h0m0-1h0m1 0.5h0m0 0.5h0m1 0.5h0m0.5-3.5h0m0 5.5h0m0.5-2.5h0m0-1.5h0m0 4.5h0m0.5 0h0m2.5-4h0m0.5 1.5h0m0.5-0.5h0m0.5-3h0m0 0.5h0m1 2h0m0.5 3h0m0-3.5h0m0 2.5h0m0.5-3.5h0m0.5-0.5h0m1 2h0m1-1.5h0m1 5h0m0.5-4h0m1 0h0m0.5 2.5h0m1-3h0m0.5-1.5h0m0.5 5.5h0m0-0.5h0m0.5-3h0m0.5 0h0m0.5 0h0m0.5 3h0m0.5-3h0m2.5 2h0m0.5-2.5h0m1-1.5h0m0 4.5h0m1.5-2.5h0m1.5-2h0m7.5 1h0m0.5-1h0m0.5 3h0m1 1.5h0m0.5-1h0m0.5 2h0m1-1.5h0m1 1h0m0-3.5h0m1-1.5h0m0.5 6h0m0.5-6h0m0 4h0m0-2.5h0m0.5 3h0m2-2h0m1 1.5h0m0.5 0h0m0.5-2h0m0.5 2h0m1-0.5h0m0.5-0.5h0m0.5 0.5h0m3-2h0m0.5 4.5h0m0.5-3h0m3-2.5h0m1.5-0.5h0m1.5 5.5h0m0.5-5h0m0 3h0m0.5 1h0m1.5-0.5h0m0.5-1h0m2 3h0m1-0.5h0m1.5-1h0m1.5 1.5h0m0-3h0m1-3h0m0 2h0m0-0.5h0m-103.5 9h0m0.5-0.5h0m0.5-3.5h0m0.5 1h0m0.5-1h0m0 4h0m2-0.5h0m0.5-3.5h0m0.5 0h0m0.5 1h0m0.5 3h0m1.5-4h0m0.5 4h0m0 1h0m1.5-3.5h0m1 1h0m0 1.5h0m1.5-1h0m1 0h0m0.5-0.5h0m0 1.5h0m3.5-3h0m1 2h0m2.5 2h0m0.5-1.5h0m1.5-0.5h0m1 2h0m0-1.5h0m0.5 0h0m0.5-2h0m1-1h0m3.5 2.5h0m5.5 2h0m0.5 0h0m0.5-1h0m1 1h0m0.5-0.5h0m0.5-1h0m1 1h0m0.5-3h0m1.5 1h0m2.5-1h0m0 3.5h0m1-1h0m1-1.5h0m0 0.5h0m1-2h0m1 2.5h0m0.5-2h0m1 0.5h0m0.5-0.5h0m0 3h0m1.5-3.5h0m0.5 4h0m0-1h0m1.5 1h0m0-4.5h0m2 2.5h0m0.5-2h0m17.5 1h0m1-2h0m1 0h0m0 3h0m0 1h0m1-1h0m0 2h0m0.5 0h0m0.5-3.5h0m0 0.5h0m2 3h0m0-1.5h0m0 1h0m2-4h0m0.5 4.5h0m2-0.5h0m0.5-4.5h0m1 3h0m0.5 2h0m0.5-3.5h0m1 3h0m2.5-3.5h0m0-0.5h0m1 3.5h0m3-2h0m0.5 0.5h0m1.5 1h0m0-2h0m2 1.5h0m0-2h0m1.5 4h0m0-3h0m2.5 0.5h0m0.5-0.5h0m0.5-0.5h0m0.5 0.5h0m1.5-2h0m-102.5 6.5h0m0.5 2h0m2-2h0m0 3h0m0.5-1h0m0.5-3h0m0.5 5.5h0m1 0h0m0.5-5h0m0.5 4h0m0 0.5h0m0.5-2.5h0m0 2.5h0m0-4.5h0m1.5 0.5h0m1.5 0.5h0m0 1h0m2.5-1.5h0m0-0.5h0m0.5 1h0m0 2h0m1 1.5h0m2-1h0m1 0h0m0-1h0m0.5 1h0m0-2h0m1.5-0.5h0m1 4h0m1-4h0m0 3h0m2-3h0m0.5 1.5h0m1 0h0m0-2.5h0m0.5 2.5h0m1.5-1.5h0m1 1h0m0.5-2.5h0m0 1h0m1-1h0m4 2.5h0m0 1.5h0m0 1.5h0m0.5 0.5h0m0-0.5h0m3-1h0m1.5-4.5h0m0.5 5.5h0m1-5.5h0m1.5 5h0m0.5-1.5h0m2 1.5h0m1-3.5h0m1.5 0.5h0m0-2h0m0.5 0h0m0 4h0m0 1.5h0m0 0.5h0m0.5-1h0m1-0.5h0m2 0.5h0m0.5-4.5h0m0.5 2.5h0m1.5-2h0m22.5 3h0m0-1.5h0m0-0.5h0m0.5 1h0m0-1.5h0m0.5 2h0m0.5 2.5h0m0-2h0m1.5-0.5h0m0.5-1.5h0m0.5 4h0m0-1h0m0 0.5h0m1-4h0m1.5 3h0m1 0h0m1-2h0m1.5 2.5h0m1-5h0m0.5 2h0m1 0h0m1-1h0m0.5 3.5h0m0.5-1.5h0m2.5 1h0m2.5 1h0m0 1h0m0-0.5h0m1.5-5h0m0.5 2.5h0m1-1.5h0m0.5-1h0m0.5 0h0m-91 6h0m0 1h0m1 0.5h0m2.5 0h0m0.5-1h0m0.5 1h0m2.5 1.5h0m1.5-1.5h0m1 1.5h0m0-1.5h0m1 1.5h0m1 0h0m0 0.5h0m2 0.5h0m0 0.5h0m0.5-4h0m0.5 0.5h0m0 3h0m1 0h0m0.5-1.5h0m0 2h0m2.5-3h0m0 3.5h0m0-1h0m0.5-2.5h0m0 3h0m0 0.5h0m0.5-0.5h0m1.5-1.5h0m0 1.5h0m1-2h0m1 2.5h0m1.5-5h0m0.5 1h0m0.5 4h0m2.5-1h0m0.5-3.5h0m0.5 4.5h0m0.5-1h0m0-1h0m1-2.5h0m1 2.5h0m0.5 2h0m1-1.5h0m0.5-3h0m0.5 1h0m0.5 2h0m0.5-2h0m1 2h0m0.5-2h0m1.5 0.5h0m1.5-2h0m25.5 4.5h0m1.5-0.5h0m2 0.5h0m0 0.5h0m0.5-1.5h0m0 0.5h0m0.5-0.5h0m0 1.5h0m0-5h0m0.5 0.5h0m0.5 2h0m0.5-0.5h0m0 0.5h0m1 1.5h0m1 0.5h0m0-3.5h0m1 4h0m1-3h0m0-0.5h0m5.5 3h0m0-2h0m0.5 0.5h0m0.5-1h0m0.5-2h0m0 2h0m1.5 0.5h0m0.5 0h0m0.5-1.5h0m0.5 1.5h0m0-1h0m0.5 3h0m0.5-2.5h0m0 0.5h0m0 0.5h0m0 0.5h0m0.5-3h0m0.5 3.5h0m0-1h0m0 1.5h0m2-1h0m1.5 1h0m1 0.5h0m1-0.5h0m1-0.5h0m0 1h0m1 0h0m-79 1.5h0m7-1h0m0.5 0.5h0m0.5-0.5h0m1 0h0m1.5 0.5h0m0.5-0.5h0m0 1.5h0m0.5-1.5h0m12.5 5.5h0m4.5-0.5h0m1.5 0h0m2 0.5h0m2 0h0m0.5-0.5h0m1.5 1h0m0-2.5h0m1.5 0h0m1 0h0m0.5 0.5h0m0.5 2h0m0-2h0m1-1.5h0m0.5 3h0m0.5-2.5h0m1 3h0m1 0h0m0.5-1.5h0m0.5 1.5h0m0.5-3h0m1 1.5h0m0.5-3.5h0m0 3.5h0m0-4h0m0.5 4h0m0.5 0h0m0.5 0h0m0-3h0m0-1h0m1 3.5h0m1 2h0m0-6h0m1 2.5h0m0.5 1.5h0m0 1h0m1 0.5h0m1.5-1h0m1 1h0m0.5-4.5h0m0.5-1h0m1.5 3.5h0m1 0.5h0m0-1.5h0m1.5 3.5h0m0.5-2h0m2 1h0m1 1h0m0.5-3.5h0m0.5-2.5h0m0 2h0m0 1h0m1-2.5h0m2.5 5.5h0m1-1h0m2-5h0m0.5 4h0m0-3h0m0.5 1h0m0.5-0.5h0m0 1h0m0 1h0m0-1.5h0m0.5 4h0m0.5-1h0m0.5-2.5h0m0 1.5h0m1-4h0m1 3.5h0m0-3.5h0m2 2h0m1 0.5h0m0-2.5h0m1 0.5h0m-62.5 10.5h0m2.5 0.5h0m1-3h0m0 0.5h0m0.5 2.5h0m0-2.5h0m0 1h0m2 1h0m0.5-1.5h0m0-2h0m1-0.5h0m1.5-0.5h0m0.5 0h0m0.5 1.5h0m1 2.5h0m0-4h0m0.5 1.5h0m0.5-0.5h0m0.5 4h0m1-3h0m0-0.5h0m1 1.5h0m0.5-2h0m0 1.5h0m1.5-2h0m0.5 3.5h0m1-4h0m0.5 3.5h0m1.5-2.5h0m0.5 1.5h0m3.5-1h0m1.5 0.5h0m0 2h0m0.5-1h0m0-0.5h0m0-2.5h0m2 4h0m1-2.5h0m0-1h0m0.5 3h0m4-2h0m0.5 1h0m0.5 2h0m1-4h0m1 4.5h0m3-0.5h0m1-3.5h0m0 4h0m1-0.5h0m1-4.5h0m0.5 3.5h0m0.5-2.5h0m2.5 1h0m2 1h0m1.5 2h0m0.5-4.5h0m0.5 3.5h0m0.5 0h0m1-0.5h0m1-2h0m2-0.5h0m-61.5 10h0m0-0.5h0m0.5 1h0m1-1.5h0m0.5 0h0m1-2h0m0.5-0.5h0m0-0.5h0m0.5-1h0m0.5 5.5h0m0-5h0m0.5 3.5h0m0-3.5h0m1 2.5h0m0-3.5h0m0 4h0m0.5-2.5h0m0-1h0m1 3h0m0.5 1h0m1 1.5h0m3-1.5h0m0.5-1.5h0m0 0.5h0m0 2.5h0m2-0.5h0m0.5-1h0m0.5-2h0m0 2h0m0.5-1.5h0m0-2h0m1 2h0m0.5 0.5h0m0 1.5h0m1-4h0m0 5h0m0-3h0m0-3h0m1 5.5h0m0.5-3.5h0m0.5-0.5h0m2 4h0m0.5-1h0m1.5-3.5h0m1-0.5h0m0.5 4h0m0.5 1h0m0-4h0m0.5-0.5h0m0 5h0m3-3h0m1 1h0m0-3h0m0 1h0m0.5 2.5h0m0.5-1.5h0m0.5-2.5h0m0.5 0h0m0-0.5h0m0.5 4h0m0.5 1.5h0m0.5-2.5h0m0.5-1.5h0m0.5 2h0m0.5 0.5h0m0.5-3h0m1 2.5h0m0.5-0.5h0m0-0.5h0m0 1.5h0m1.5-0.5h0m3 1.5h0m0-3h0m0 2.5h0m0.5 1h0m0.5-2.5h0m0 1.5h0m0 1.5h0m0-2.5h0m0.5-1h0m0 2.5h0m0.5-5h0m2 2.5h0m1 1h0m0.5-1.5h0m0 1.5h0m3 1h0m0-3h0m1-1h0m1 4h0m2.5 0.5h0m1.5-4h0m0-1h0m0 3h0m0.5-1h0m2 0h0m-60.5 5.5h0m0.5 4h0m0.5-1h0m1 0h0m0.5 0h0m3.5-3h0m1 2h0m0-1h0m0.5 1.5h0m0.5 1.5h0m4.5-5h0m0 5h0m2.5-5h0m1 2h0m1.5-1h0m2 3h0m0-3.5h0m1 4h0m0-0.5h0m1-1h0m1.5 0.5h0m0.5-3h0m1 1h0m1 0.5h0m0-0.5h0m1.5-0.5h0m0.5 1.5h0m0.5 0h0m0.5-2h0m2 1.5h0m2-1h0m1-1h0m1 1.5h0m2.5-0.5h0m1.5-0.5h0m2 1h0m2-0.5h0m5-0.5h0m1 0h0m0-0.5h0m-48.5 5.5h0m0.5 2.5h0m2 1.5h0m0 2h0m0.5-0.5h0m0.5 0h0m0.5-0.5h0m1-5h0m1 4h0m0.5 0.5h0m0-2h0m0.5 2h0m0-2.5h0m0.5 0.5h0m0.5-1.5h0m0.5 1.5h0m2 3h0m1-5h0m1 0h0m0.5 1h0m1.5-1h0m0.5 1.5h0m0.5 1h0m0-0.5h0m1.5-0.5h0m0.5-0.5h0m0.5-1h0m-13.5 7h0m0.5 1h0m0-0.5h0m0.5-1h0m1 1.5h0m0.5-1h0m1 1.5h0m0.5-1h0m1-1.5h0m0.5 0h0m0.5 0h0m3 0h0" stroke="#fff" stroke-width="1.3" stroke-linecap="round" fill="none"/>
<path d="M93 313.5h0m0-1h0m8 1.5h0m-15 3h0m3 3h0m1-3.5h0m0.5 1h0m3.5-0.5h0m1-1h0m5 2.5h0m2.5 0h0m2.5 0.5h0m1-0.5h0m2-1.5h0m4.5 2h0m1 0.5h0m7 0.5h0m-39 7h0m3-1h0m0.5-0.5h0m0.5-4.5h0m0.5 3h0m1.5-0.5h0m3.5-1.5h0m4.5 2h0m0.5-0.5h0m3.5-2.5h0m1 2.5h0m0 1h0m9 1.5h0m1.5-1h0m0.5-2.5h0m2 0.5h0m0.5-0.5h0m3.5 0.5h0m1-0.5h0m0 4h0m0.5-5.5h0m0 5.5h0m1.5-3.5h0m8.5 3.5h0m2 0h0m-55 4h0m4-2h0m9.5 0.5h0m2-1h0m0 1.5h0m3.5 1h0m3 1.5h0m5-3.5h0m0 3.5h0m0.5-1.5h0m2-3h0m4.5 4h0m0.5-3h0m0.5 4h0m6-2.5h0m0.5 2h0m0.5-1h0m1.5-3.5h0m6.5 3.5h0m1-2.5h0m0.5 3.5h0m0-2h0m5 1.5h0m-67 6h0m8.5-1h0m1-0.5h0m0.5-2h0m0.5 0h0m0.5 5h0m2-2.5h0m5-0.5h0m1.5 2.5h0m1.5-4h0m3-0.5h0m2.5 2h0m1.5-2.5h0m1 1h0m0.5 3.5h0m9.5-2h0m6.5-1.5h0m4 2.5h0m2-1.5h0m1.5 2h0m0.5-1.5h0m0.5-2h0m0.5 3h0m5-1.5h0m5.5-2h0m-65 10h0m3-3h0m15 2h0m1.5 0.5h0m2.5-0.5h0m0 0.5h0m3-3.5h0m0 1.5h0m0.5 2h0m1.5-3h0m5 4h0m2.5-2.5h0m1 0.5h0m3.5 2.5h0m1.5-0.5h0m3 0.5h0m4.5-2.5h0m2.5 1h0m3.5-3h0m1 0h0m2 4.5h0m1.5 0h0m1-2h0m3.5-0.5h0m-67 3.5h0m2 1h0m2.5 0h0m1.5 1h0m2.5-2h0m4.5 5h0m0.5 0.5h0m6-6h0m3 1h0m1 5h0m0.5-2.5h0m1.5-0.5h0m0 1.5h0m0.5-1h0m0.5-0.5h0m0.5 2.5h0m1-3h0m1 2h0m2.5-2h0m1.5 2.5h0m0-0.5h0m1-4.5h0m0.5 0h0m0 0.5h0m3.5 5h0m1.5-1h0m0-3.5h0m0.5 0h0m1.5 2h0m0.5-3h0m3 1h0m0.5-0.5h0m1 2h0m1.5 1h0m7 1h0m0.5 0h0m2.5 1.5h0m2.5-0.5h0m-56 6h0m0.5-5h0m0.5 1.5h0m4 0h0m1 1.5h0m1.5 0.5h0m0-2h0m4.5-1h0m2 1h0m0.5 1.5h0m0.5-2h0m1-1h0m2.5 4.5h0m3-2h0m2-0.5h0m1-1.5h0m11 0.5h0m6 3h0m0.5-4h0m0 2h0m4 3h0m3-3h0m1 2.5h0m3-2h0m0 0.5h0m2-1.5h0m-51 7h0m1.5-0.5h0m0.5-1h0m1.5-1h0m0 3.5h0m0.5 0.5h0m2.5-1h0m0-3.5h0m0.5 4.5h0m4.5-4.5h0m1 1.5h0m0 1h0m1.5 3.5h0m0-0.5h0m2-3h0m0.5-1.5h0m0 5h0m0.5-5h0m0.5-0.5h0m0.5 5.5h0m2-1h0m1-2h0m0.5 3h0m3-3h0m11 1.5h0m2.5 0h0m6.5 0.5h0m0.5-1h0m1.5-2.5h0m1 3h0m-35 5.5h0m0-2.5h0m3.5 1h0m2.5-1.5h0m1 1.5h0m0 1h0m0.5 0.5h0m4-1.5h0m0.5-1.5h0m4 0.5h0m1.5 0.5h0m1 3h0m3-4.5h0m4.5 1h0m4.5 0h0m-14 4.5h0" stroke="#b8dbee" stroke-width="1.2" stroke-linecap="round" fill="none"/>
<path d="M83.5 314.5h0m0-2h0m3 1h0m1 0h0m1.5-1.5h0m2.5-1.5h0m0.5 2h0m0-1h0m1.5 1.5h0m2.5 0h0m1.5 1h0m2.5-0.5h0m2-1.5h0m1 2.5h0m0.5-2.5h0m1 2h0m0.5-0.5h0m2 0h0m-26.5 5.5h0m0.5-2h0m1 1.5h0m0 0.5h0m1.5 1.5h0m1-5h0m18.5 0.5h0m3.5-0.5h0m0.5 0h0m1 2h0m2-1h0m1.5 0.5h0m1.5-1h0m1 3.5h0m2-0.5h0m0-0.5h0m0.5-1.5h0m1 1h0m1 1h0m0 1h0m1.5-0.5h0m4.5 0h0m-50 7.5h0m1-1h0m2 0h0m0.5-2h0m1 1h0m0.5-3h0m44 0.5h0m0-1.5h0m0 0.5h0m0 2h0m0.5-1.5h0m1-0.5h0m0.5 3.5h0m2-3.5h0m1.5 2.5h0m0.5 2.5h0m0.5-5h0m0 2.5h0m0.5 1h0m0.5 0.5h0m2 0.5h0m-65 5.5h0m2.5 0h0m0.5 0.5h0m0-2.5h0m0.5 2h0m1-0.5h0m1.5 1h0m1-3.5h0m1.5-1h0m54.5 4h0m0-4h0m1 1.5h0m0.5-0.5h0m0.5 3.5h0m0-3h0m-69.5 9h0m3.5-2h0m2-1h0m0-1h0m1-1h0m0.5 0.5h0m59 5.5h0m1.5-3h0m1-0.5h0m0.5 1.5h0m0.5-2h0m1-0.5h0m1 0h0m-75 6.5h0m0 1.5h0m1.5-1h0m1-0.5h0m0.5 0.5h0m2-1.5h0m62.5 3.5h0m0 1h0m1 0h0m3-1h0m1-0.5h0m-73 2.5h0m0.5 1.5h0m0.5-1h0m2 4.5h0m0-1h0m0.5-2h0m0.5 0.5h0m61.5 1.5h0m2-2.5h0m1.5-2h0m-68 6.5h0m1 0.5h0m1 0h0m0.5 0.5h0m0.5 0.5h0m0-1h0m0 3h0m0 0.5h0m0.5 0h0m0-2h0m0.5-1h0m3.5 3h0m52 0h0m0.5 0.5h0m0 0.5h0m1.5 0h0m1-4.5h0m0.5 0.5h0m0.5 1h0m0.5-1.5h0m1.5 0.5h0m-61.5 6.5h0m0.5 1.5h0m0.5-2.5h0m4 4.5h0m2 0h0m47-3h0m0.5-1h0m0 3.5h0m1-3.5h0m0 3h0m1.5-4.5h0m2 1.5h0m-51.5 6h0m0.5-0.5h0m1 1h0m0.5 0h0m0.5 1h0m0.5-0.5h0m2 0.5h0m1.5 0h0m2-1h0m1 3h0m2.5 0.5h0m2-1h0m0.5-0.5h0m0 1h0m5-0.5h0m6.5 1h0m9.5-1h0m1 0h0m8-3.5h0m-37 5.5h0m10.5 0.5h0m1.5 0.5h0m0.5-0.5h0m0 1h0m1-1h0m0 1h0m2 0.5h0m5.5 0h0m2-1.5h0m1-0.5h0m0 0.5h0m1.5 1.5h0" stroke="#7dbde0" stroke-width="1.2" stroke-linecap="round" fill="none"/>
<path d="M69.5 259.5h0m32.5 0.5h0m4 0h0m-51.5 5.5h0m0.5-0.5h0m5 0.5h0m1.5-1.5h0m4.5-1h0m1 0.5h0m2.5 2h0m4-4.5h0m0.5 3h0m1 0.5h0m1 0h0m5.5-0.5h0m16 2h0m2 0h0m3-1h0m6 0.5h0m1-1.5h0m2.5-0.5h0m2.5 1.5h0m-64.5 3h0m1.5 3h0m0.5-3.5h0m0 0.5h0m6.5 3.5h0m2.5-1h0m6.5-2h0m1 0h0m2 3.5h0m0.5-0.5h0m1-1.5h0m4.5 2h0m1.5 0.5h0m16.5-4.5h0m0.5 3.5h0m1.5 1h0m2.5-5h0m0.5 0h0m2 0.5h0m0.5 4h0m1.5-2.5h0m2.5-1h0m3.5 4h0m3-3.5h0m2 3h0m0.5-0.5h0m0.5 1h0m-70.5 2.5h0m4.5 3h0m3.5-1.5h0m5.5 1.5h0m1.5-5h0m0.5 1h0m1 0.5h0m0 3.5h0m0.5-4h0m0-1h0m2.5 2h0m2 2.5h0m0.5-1.5h0m1.5 2h0m0-1.5h0m6.5 0.5h0m0.5 0h0m0.5 2h0m2.5-4.5h0m0.5 3h0m0.5-4h0m3 2.5h0m1-0.5h0m0-1h0m2 3h0m1.5 0h0m4.5-3h0m2 1h0m1 2h0m2.5-1h0m2-2.5h0m1 4h0m1.5-4.5h0m0.5 5.5h0m0-0.5h0m3 0.5h0m1 0h0m3 0h0m1-0.5h0m2.5-4.5h0m3 2.5h0m0 2h0m0.5-3.5h0m-73.5 8.5h0m5-0.5h0m1.5 1.5h0m0.5-3.5h0m1.5 0h0m1.5 2h0m1-0.5h0m1.5 0h0m4-1.5h0m2 0h0m7.5-0.5h0m3.5-1h0m1.5 4h0m4-4h0m0.5 3h0m0 0.5h0m2.5-3.5h0m0.5 5h0m5-2.5h0m1 0.5h0m0.5-3h0m1 1.5h0m1.5 3.5h0m0-5h0m1.5 0.5h0m1 1h0m0-1h0m2.5 3h0m2-1h0m0-1h0m0 3.5h0m2.5-0.5h0m2-4h0m0.5 1.5h0m3 1.5h0m0 1.5h0m4.5-2.5h0m1 1.5h0m2.5-3h0m0 4h0m1.5 0h0m-73.5 2h0m2 2h0m0.5 2.5h0m5-0.5h0m1-4.5h0m1 2h0m5.5-2.5h0m0 5h0m2.5-2.5h0m1 2h0m0.5-1h0m7 0h0m0.5 1h0m3 0.5h0m2.5-3.5h0m1 0.5h0m0.5 1.5h0m0.5-0.5h0m3-3.5h0m0 6h0m1-6h0m1.5 1.5h0m0.5 2.5h0m1.5 1.5h0m1-5h0m0 3h0m1 2h0m0 0.5h0m1-3.5h0m2.5-2h0m7.5 3.5h0m0-4h0m8 0.5h0m-57 7h0m2 2.5h0m0.5 1h0m2-1h0m2-1.5h0m2.5-1.5h0m3.5 2.5h0m3 2h0m4-1h0m0.5-3.5h0m1 4h0m0.5-2.5h0m1.5 0.5h0m8 1h0m0-2h0m3 1h0m8 2h0m2-2.5h0m0-1h0m-50.5 8.5h0m4.5-3.5h0m2.5-0.5h0m1 4.5h0m0-1.5h0m2.5-0.5h0m1.5 2.5h0m2.5 0.5h0m0.5 0.5h0m1 0h0m4.5-0.5h0m1-5.5h0m3 5h0m3.5-2h0m0.5-2h0m1-1h0m0.5 0h0m1 4.5h0m0.5 1h0m1-4.5h0m2 1h0m1.5-1.5h0m0.5 4h0m2-0.5h0m2 0.5h0m1-2h0m2.5 2h0m1 1h0m0.5-1h0m3.5-0.5h0m0.5-1.5h0m1 3h0m-48 5h0m0.5 0h0m2 1h0m1-3.5h0m2 0h0m1 1.5h0m3.5 0.5h0m0.5 1.5h0m0.5-4h0m1 0h0m1-0.5h0m0.5 2.5h0m4-3h0m1 2.5h0m2 0.5h0m3-2.5h0m0 4.5h0m1-1.5h0m4 0.5h0m3-3.5h0m0.5-0.5h0m4.5 0.5h0m1 4h0m3-4.5h0m3 5h0m0.5-2h0m1.5 1h0m-40.5 1.5h0m0 1.5h0m3 4.5h0m3-5.5h0m1.5 3h0m0-1.5h0m1 4h0m1.5-3h0m2.5-1h0m3-1.5h0m0.5 0h0m1 5h0m1.5-3h0m2 2h0m0.5-0.5h0m2.5-0.5h0m0.5 2.5h0m1-2h0m1-1.5h0m0.5 2h0m2.5-1.5h0m6.5-2.5h0m-41 8h0m2-1.5h0m3 3.5h0m0.5-1.5h0m2.5-0.5h0m3-1h0m0.5 0h0m10 1.5h0m1.5 2h0m0.5-4h0m0 2.5h0m2 0h0m2 2h0m1 0h0m0.5-3.5h0m2.5 3h0m1-4.5h0m2 3h0m0 1h0m1-3h0m1 0h0m2.5-0.5h0m0.5-0.5h0m-38 6h0m2 5h0m1-5h0m1.5 3h0m6 1h0m8-1.5h0m1.5-1h0m0.5 3.5h0m0.5-1.5h0m2-1.5h0m4 1.5h0m6.5-2h0m-30.5 5h0m8 3h0m0.5-0.5h0m0.5 2h0m7.5-3h0m5 1h0m0.5-3h0m4.5 3.5h0m0 1.5h0m-21.5 0.5h0m0.5 0h0m7.5 2h0" stroke="#ea9dca" stroke-width="1.2" stroke-linecap="round" fill="none"/>
<path d="M59.5 258.5h0m1.5 1h0m3 0h0m0-0.5h0m2 0.5h0m1-1h0m2-0.5h0m3 1h0m0-0.5h0m0.5 0h0m0.5 0.5h0m1 0.5h0m1.5 0.5h0m18.5 0h0m4.5 0h0m1.5-3h0m0 3.5h0m0.5-2h0m2 0h0m0.5 1.5h0m2.5-1.5h0m0.5-0.5h0m0.5 2h0m0-1.5h0m2 0h0m0 1h0m0-0.5h0m2.5 1.5h0m0.5 0h0m-63.5 5h0m5-1.5h0m2.5 0h0m8.5-3h0m13.5 0.5h0m1-0.5h0m1 3h0m1 2h0m0-5h0m1 3.5h0m2.5 0h0m1 2h0m2.5 0.5h0m7-4.5h0m0.5 3.5h0m0.5-0.5h0m0-0.5h0m0 2h0m1-3.5h0m1-2h0m0.5 0h0m2-0.5h0m10 2.5h0m1.5-2h0m2 0h0m1.5 3h0m1.5-0.5h0m1.5 3h0m1 0h0m-76.5 3.5h0m3-1h0m0.5-1h0m37.5 0h0m0.5-0.5h0m2 2h0m1 0.5h0m1.5 2h0m0-2.5h0m0.5 1.5h0m0-3h0m0 2.5h0m3 1.5h0m1.5-2.5h0m2-1.5h0m20.5 3h0m0.5 0h0m0-2.5h0m0 3.5h0m0-1.5h0m-77 6.5h0m0.5-1.5h0m0 1.5h0m0 0.5h0m1.5-4.5h0m0 2.5h0m76 2.5h0m0.5-1h0m1-4.5h0m-81 11.5h0m0.5-1.5h0m1-1h0m0 1.5h0m0.5 0h0m0-2h0m0.5 3h0m0-1.5h0m66.5 1.5h0m1.5 0h0m2-1h0m4.5 1h0m0.5-2.5h0m1 1h0m0-1h0m1 1.5h0m0-2.5h0m0.5-0.5h0m1 0.5h0m0.5-1.5h0m-82 10.5h0m0-1h0m2 0h0m0-0.5h0m56 2h0m1-1.5h0m0.5-0.5h0m0.5 1h0m0.5-1h0m1.5 0h0m1.5-1.5h0m2 0.5h0m0.5 1.5h0m1.5-3h0m3 2.5h0m0.5-3h0m0.5-0.5h0m2 3.5h0m3 0h0m1 1h0m0.5-2h0m0.5-1h0m2.5-1.5h0m-81.5 11.5h0m0.5-5h0m1 3.5h0m1-1h0m53.5 1.5h0m0.5-4h0m1 4.5h0m1.5-4.5h0m-57.5 11.5h0m0-5h0m0 1h0m1-1h0m1-1h0m49 6h0m0.5-1h0m1-0.5h0m0 1h0m0.5-3.5h0m0.5-1.5h0m1 2.5h0m-56.5 8.5h0m1-1h0m0.5-2h0m51.5 2h0m0.5-3.5h0m1.5 2h0m1-1h0m0.5-1.5h0m-56.5 10.5h0m0.5 1h0m0.5-2h0m0-4h0m1 1.5h0m2.5-1.5h0m39.5 1.5h0m1 3.5h0m1 0h0m0-2.5h0m1 3h0m0.5-2.5h0m0-2h0m0.5 0.5h0m6.5-1.5h0m-55 8.5h0m0.5-1h0m1-1h0m0.5 5h0m1.5-4h0m0.5 3h0m0.5 1h0m0-5h0m0 1h0m39.5 0.5h0m1 1h0m1 2h0m1-3h0m0 1.5h0m-43.5 6h0m0-3h0m0 4.5h0m1.5-2h0m1 1.5h0m1.5-0.5h0m35.5 0.5h0m0-3.5h0m0.5 2h0m1 0.5h0m0.5-3h0m0.5 2h0m0.5 1.5h0m-39 5h0m1.5 1h0m0.5 0h0m0.5 1h0m0.5-2h0m1-0.5h0m0.5 1.5h0m1 1.5h0m25-2h0m3.5-1.5h0m0-1h0m1 2h0m0.5-1.5h0m0.5 0h0m0 2h0m-35 3h0m3-0.5h0m0.5 1h0m1 0h0m1.5 0.5h0m0.5-1.5h0m0.5 0h0m1.5 4.5h0m1-1h0m0-0.5h0m2.5 1.5h0m3-0.5h0m3-0.5h0m2.5-1.5h0m1 4h0m0.5-2h0m1 1h0m0-1h0m1.5 1h0m2.5-2h0m0.5-2h0m1.5 4h0m2.5-2.5h0m1.5-1.5h0m-9.5 6.5h0" stroke="#d84c9e" stroke-width="1.2" stroke-linecap="round" fill="none"/>
<path d="M115.5 289.5h0m3.5 1.5h0m-17.5 4.5h0m5-1h0m6 0h0m0-0.5h0m5-2h0m0 4h0m2-3h0m1-0.5h0m8 2.5h0m2.5 0h0m0 0.5h0m0.5 0.5h0m3-0.5h0m-37 5h0m0.5 2h0m4-1h0m0-2.5h0m2.5 2h0m1-1h0m2-1.5h0m0 4h0m0-5.5h0m1 6h0m0-0.5h0m6.5-4.5h0m0.5 2h0m2-2.5h0m7 3h0m0.5 2h0m5-1.5h0m1-1.5h0m0.5 1.5h0m2-4h0m0.5 3h0m3.5-2.5h0m-39 7.5h0m0 0.5h0m1 3h0m0-4.5h0m4.5 3h0m1.5 1.5h0m0.5-4.5h0m0.5 0h0m2 4.5h0m3.5-1h0m14 0h0m0.5-1h0m2.5-1h0m1.5 2h0m2-0.5h0m-29 3h0m5.5 1h0m0.5 1h0m2 2.5h0m4-5.5h0m2 2h0m0 3h0m1.5-1.5h0m1.5-3h0m1 3h0m3-0.5h0m0.5 0h0m-9.5 3.5h0m3 3.5h0m5.5 0h0m4-3h0" stroke="#eacf94" stroke-width="1.2" stroke-linecap="round" fill="none"/>
<path d="M107.5 289h0m1.5 2h0m1.5-0.5h0m1-2.5h0m4.5-2h0m0.5 3h0m0.5-1.5h0m0 3h0m4.5-1.5h0m9 0.5h0m0 0.5h0m7.5 0h0m1-0.5h0m-41 6.5h0m2 0h0m0-2h0m8 0h0m2.5-2h0m14 2h0m1.5-1.5h0m3.5-1h0m4.5 0h0m0.5 0h0m0 2h0m3 0h0m1.5 0h0m-43 6h0m0 1h0m1-3h0m1 1.5h0m0.5-0.5h0m39 2.5h0m0 2h0m1-2h0m0.5 1h0m-43 3h0m0.5 0h0m0.5 1h0m0-1h0m1 2h0m1.5-1h0m1-2.5h0m33.5 4h0m1-1h0m0.5-2.5h0m0.5 2h0m0.5 2h0m0-3.5h0m0-1h0m0.5 1h0m0 1.5h0m-38.5 6.5h0m1-2h0m1.5 0.5h0m1-0.5h0m0 2h0m0-1h0m1 0.5h0m1 0.5h0m0-2.5h0m0.5 3h0m2-1h0m0.5 2.5h0m1-0.5h0m19 0.5h0m1-1h0m0.5-1h0m1-3.5h0m0 5h0m0.5-1h0m0-0.5h0m0.5 2h0m0.5-2h0m0.5 1h0m-24 2.5h0m4.5 0.5h0m0-0.5h0m1 1h0m1 0.5h0m1.5 0.5h0m2 2h0m0.5 0.5h0m1.5-1h0m0.5-1.5h0m3.5 2.5h0m1-5h0m0.5 2h0m0 3h0m0-0.5h0m0.5 0h0m0-2h0m0-1.5h0m0.5 2h0m1-0.5h0m0.5-2h0m0.5 1.5h0m1-2h0m-10 6h0m0.5 0h0m1.5 0.5h0m2-1h0" stroke="#d9a83c" stroke-width="1.2" stroke-linecap="round" fill="none"/>
<path d="M142.5 264h0m2.5 1h0m-3 6.5h0m3.5-1.5h0m1.5-2.5h0m0.5 2h0m1-1.5h0m1 0h0m3 3.5h0m-6 5h0m3.5-1.5h0" stroke="#eabfe1" stroke-width="1.2" stroke-linecap="round" fill="none"/>
<path d="M140 266h0m1.5 0h0m0.5-1h0m2-2h0m0.5 0.5h0m4 1h0m3-0.5h0m0 0.5h0m0.5 0.5h0m0-0.5h0m1 1h0m0-1.5h0m0 2.5h0m0.5-2.5h0m0.5 2.5h0m0 0.5h0m-14 1h0m0.5 4.5h0m0-3h0m0.5-2h0m10.5 2.5h0m0 1.5h0m0 0.5h0m1.5-4h0m1 1.5h0m1.5-2h0m-16 6.5h0m1 2.5h0m0.5 1.5h0m0.5-0.5h0m1 1h0m0.5-5.5h0m0.5 4h0m0 2h0m1.5 0h0m1.5-1.5h0m2.5-3h0m0 0.5h0m1 1.5h0m0-3h0m1.5 1.5h0m1-2h0m-11 6.5h0m1.5 0h0" stroke="#d98bc8" stroke-width="1.2" stroke-linecap="round" fill="none"/>
<path d="M182 300.5h0m1 2h0m-5.5 1h0m0.5 3h0m1-3h0m0 2.5h0m3-1h0m1 6.5h0" stroke="#b1e6d6" stroke-width="1.2" stroke-linecap="round" fill="none"/>
<path d="M177.5 300h0m0-2.5h0m2 3h0m1-2h0m0.5 0.5h0m1 0h0m0.5 2h0m0-0.5h0m1.5 1.5h0m1-0.5h0m1.5 1h0m0.5 0.5h0m1.5-0.5h0m-13 2h0m0 3h0m0.5-1.5h0m0.5-1h0m0-1h0m2 3.5h0m1 1h0m6-0.5h0m1-4.5h0m1.5 2h0m-11.5 3.5h0m2 1h0m2.5 2.5h0m0.5-1.5h0m0.5 1h0m0 1.5h0m0-2.5h0m2 1h0m0 0.5h0m3 1h0m0-3h0" stroke="#72d2b4" stroke-width="1.2" stroke-linecap="round" fill="none"/>
<path d="M148 307.5h0m-4.5 7h0m1.5-4.5h0m0.5 2.5h0m0-3h0m4 1.5h0m1.5 1h0m5.5-2.5h0" stroke="#dfc2e8" stroke-width="1.2" stroke-linecap="round" fill="none"/>
<path d="M143.5 307h0m1.5-1.5h0m1-0.5h0m0-0.5h0m1 1h0m1.5-1.5h0m0 1h0m0.5 0.5h0m0 0.5h0m1 1.5h0m1-2h0m1.5 0.5h0m3.5 1h0m0.5-2h0m4.5 2h0m-22 2.5h0m0.5 1h0m1-1h0m1 5.5h0m0-5h0m0.5 3.5h0m0.5-4.5h0m0 4h0m3.5 2h0m1-1.5h0m3 0h0m4.5-1.5h0m2 0h0m1-0.5h0m1.5 1h0m0 1h0m0.5-2h0m0 1h0m-17 3h0m1.5 0h0m0.5 0.5h0m0 0.5h0m2.5-0.5h0m1.5-0.5h0m0.5 0.5h0" stroke="#c490d6" stroke-width="1.2" stroke-linecap="round" fill="none"/>
<path d="M134.5 328.5h0m3 3.5h0m0.5-3h0m1-0.5h0m1-0.5h0m2.5 0.5h0m2 2h0m1.5 0.5h0m0 1.5h0m7 0h0m-17.5 3h0m2 0.5h0m2.5-2h0m0.5 5h0m0.5-5h0m1.5 2h0m0 2.5h0m1.5-3.5h0m2 3.5h0m0.5-4h0m5.5-0.5h0m5.5-0.5h0m0.5 1.5h0m0.5-0.5h0m0.5-0.5h0m1 2.5h0m0 1h0m1.5-4h0m0.5 5.5h0m3.5-3h0m-28 7h0m0.5 0.5h0m1-4h0m4.5 0h0m1 0.5h0m3.5 3.5h0m3-3h0m1.5-0.5h0m2 4h0m0-2h0m3.5 0h0m2.5-1.5h0m1 2h0m3 1.5h0m0.5-4.5h0m0.5 0.5h0m-29 11h0m7.5-4h0m4.5 3.5h0m4-2.5h0m0.5 0h0m1.5-2h0m0.5 2h0m3 0h0m4-3h0m0.5 0.5h0m5.5 5h0m1.5-1.5h0m-31.5 2.5h0m4 0h0m2 0h0m8.5 1.5h0m5 0h0m0.5 3h0m3-1.5h0m4 2h0m1-4.5h0m-22.5 7.5h0m0.5-0.5h0m1.5-2h0m3.5 1.5h0m2 3h0m1.5-4h0m9 1h0m0.5 2.5h0m-18.5 7.5h0m1-1.5h0m0-2.5h0m1 1h0m0 1h0m0.5-1.5h0m1-1h0m0.5 1.5h0m2 0.5h0m1 1.5h0m1.5-1.5h0m2.5 1.5h0m2-4h0m0 2.5h0m2 0h0m0.5 0h0m1.5 1h0m-41.5 7.5h0m7.5-2h0m1.5 0.5h0m2.5 0.5h0m0.5 1h0m2-3.5h0m0 4h0m1-4h0m1 2h0m7.5-1.5h0m0-2h0m1.5 1h0m0-1.5h0m0.5 1.5h0m3.5 1h0m2 0h0m0.5-1h0m0-0.5h0m2.5 0.5h0m0.5 2.5h0m0-1.5h0m0.5 1h0m1.5-1.5h0m1 1.5h0m1-3h0m2.5 1h0m0 2h0m2 1h0m-54.5 6.5h0m4.5-2h0m6.5-2h0m2 0h0m4 4h0m2-1.5h0m1 2h0m2-4.5h0m7.5 1.5h0m4.5 2.5h0m1-3.5h0m2 0h0m0.5-0.5h0m4.5-0.5h0m0.5 5h0m3-3.5h0m0.5 1.5h0m1-1.5h0m0.5-1.5h0m3.5 2.5h0m4.5-1.5h0m-61.5 8h0m5-2.5h0m1.5-1h0m3 5h0m1.5-2h0m3 0.5h0m2-2h0m7 4.5h0m1.5-2.5h0m4 2h0m3.5-3.5h0m3-2h0m2 1h0m0 4.5h0m3.5 0.5h0m0-2h0m1-1.5h0m0-1.5h0m0.5 4.5h0m5.5 0.5h0m3.5-4h0m1.5-0.5h0m3.5 2h0m-57 3h0m2 5h0m3 0h0m0.5-1h0m2-1.5h0m4 0h0m0.5 2h0m2.5-4h0m1.5 2h0m0.5 2h0m6-2.5h0m6-1h0m0.5-0.5h0m0 1.5h0m7.5-1.5h0m8 0.5h0m-41.5 9h0m0.5-4.5h0m2.5 0.5h0m0 3.5h0m4.5-3h0m0 3h0m1.5-1h0m-9 5h0" stroke="#a6abd9" stroke-width="1.2" stroke-linecap="round" fill="none"/>
<path d="M135.5 324.5h0m0.5 1.5h0m3-1h0m4.5 1h0m11.5 1h0m-24 3h0m2-0.5h0m0-2h0m0 5h0m0-3.5h0m0.5 2.5h0m0-2.5h0m2 0.5h0m3-1h0m0.5-0.5h0m4.5-0.5h0m0.5 2h0m2.5-1.5h0m5 0.5h0m0.5 0h0m2-1h0m1 1h0m2.5 0h0m0-1h0m1.5 3.5h0m2-0.5h0m2 1.5h0m1 0h0m-31 2.5h0m0.5 3h0m0.5-3h0m0.5 3h0m1.5 1h0m28-5.5h0m0.5 1.5h0m0-0.5h0m0.5-0.5h0m0.5 4h0m4 1.5h0m1 0h0m-36.5 5h0m1-1.5h0m1 2h0m31-3.5h0m2-1h0m0.5 2.5h0m0.5 2h0m0.5-1h0m0.5-1h0m-38.5 2.5h0m0.5 1h0m0.5 2h0m1.5 1.5h0m0.5-2h0m0.5-2h0m0 3.5h0m1-0.5h0m0.5 2h0m31.5-4.5h0m0.5-0.5h0m1 4.5h0m0-2h0m1-1.5h0m1 2.5h0m-36.5 3h0m0-0.5h0m1 1.5h0m0.5 3.5h0m0.5-2h0m0-1.5h0m1 2.5h0m1-0.5h0m25 1.5h0m1-0.5h0m2.5 0.5h0m1-4h0m-30 6.5h0m0.5-2h0m0.5 5.5h0m1.5-1h0m0.5 0h0m0.5 0h0m20.5-3.5h0m0.5 0h0m0 3.5h0m0.5-3.5h0m0 3.5h0m0-4h0m0-0.5h0m0.5 2h0m0.5 2h0m0-3.5h0m-36 10.5h0m1 0.5h0m8.5-2h0m0 2h0m1-2.5h0m3 0.5h0m0.5-1h0m17-2h0m0.5 0h0m0.5 3h0m0.5-2.5h0m0 4h0m2 0h0m0.5-2h0m1.5 2.5h0m-57 6h0m1 0.5h0m6-1h0m2-1.5h0m2.5-2h0m1 2.5h0m2.5-1.5h0m0 1.5h0m5-2.5h0m1 0h0m2 0.5h0m0-2h0m0.5 2h0m0-1h0m1-1h0m0 1h0m0.5 0h0m0.5 1h0m1 0h0m0.5-2h0m1 0.5h0m23 2.5h0m2 1.5h0m0.5 1.5h0m0-2.5h0m0.5-3h0m1-0.5h0m-60.5 11.5h0m6.5-3h0m0.5 2h0m0.5-2h0m1-2h0m4 2h0m46.5-2h0m0.5 2.5h0m0 0.5h0m2-1.5h0m-63.5 8h0m1 0h0m2-3h0m2-0.5h0m32 4.5h0m14 0.5h0m1 0.5h0m1-0.5h0m1-1.5h0m0 0.5h0m2-0.5h0m1-3h0m2-0.5h0m0 3h0m1.5-1h0m-66.5 6.5h0m1-0.5h0m0 2h0m0.5 0h0m0.5-1h0m1-1.5h0m1.5 1.5h0m0.5-1.5h0m0.5-1h0m0 4.5h0m19.5-0.5h0m0.5 0.5h0m2.5 0h0m0-1h0m1 0h0m1.5-2h0m2 0.5h0m0.5 0.5h0m1 1h0m2-2h0m1 0.5h0m0.5 2.5h0m0-1.5h0m1.5 1h0m0.5-2h0m1.5 1.5h0m0-1.5h0m1 0h0m0-0.5h0m1 0h0m1 1h0m1.5-1h0m0-0.5h0m0.5-1.5h0m0.5 2.5h0m0.5 0.5h0m1.5-1.5h0m2.5 0.5h0m0.5-1h0m2 0h0m0.5 0.5h0m1-1.5h0m0.5 3h0m1-2h0m1.5 0h0m3 1.5h0m-59 3.5h0m1 0.5h0m3 5h0m9.5 0h0m2.5-3h0m1.5 2.5h0m1-3.5h0m2 0.5h0m1.5-1h0m1.5-1h0m-21.5 6.5h0m1 1.5h0m1.5-0.5h0m1 0.5h0m1 0.5h0m0 2h0m0.5-1.5h0m1.5 0.5h0m2-3.5h0m5 1h0" stroke="#5d66ba" stroke-width="1.2" stroke-linecap="round" fill="none"/>
<path d="M167.5 368h0m0 0.5h0m-6 1h0m1 3h0m5-0.5h0" stroke="#a5d8ab" stroke-width="1.2" stroke-linecap="round" fill="none"/>
<path d="M156 366.5h0m0.5 1h0m1 1h0m2.5-2.5h0m0.5 0.5h0m0-2.5h0m0.5 3.5h0m0-2.5h0m2 0h0m0.5 1h0m2.5 0h0m0.5 0.5h0m0-1h0m0.5 2h0m1-0.5h0m0.5 0h0m0 1.5h0m-8.5 5h0m0.5-2.5h0m1.5 0h0m2 3h0m3 0h0m0.5-4h0m0.5 3h0m0-4h0m0.5 1.5h0m0 2h0m2.5-3.5h0m1 2h0" stroke="#5cb866" stroke-width="1.2" stroke-linecap="round" fill="none"/>
<path d="M128.5 256.2 L135 247.4" stroke="#d98bc8" stroke-width="1.6"/>
<path d="M163.5 287.5 L166 286" stroke="#c2cf74" stroke-width="1"/>
<circle cx="25.7" cy="290.3" r="4.1" fill="#d63a92"/>
<text x="31.6" y="293.6" font-size="9" fill="#0a0a0a" stroke="#0a0a0a" stroke-width="0.22">SMG duct cells</text>
<circle cx="91.5" cy="301.8" r="4.1" fill="#d6a332"/>
<text x="97.8" y="305.1" font-size="9" fill="#0a0a0a" stroke="#0a0a0a" stroke-width="0.22">BIRC5+ cells</text>
<circle cx="134.2" cy="281.9" r="4.1" fill="#c2cc72"/>
<text x="139.8" y="285.2" font-size="9" fill="#0a0a0a" stroke="#0a0a0a" stroke-width="0.22">Ciliated cells</text>
<circle cx="152.3" cy="297.7" r="4.1" fill="#70d0b0"/>
<text x="158.7" y="301" font-size="9" fill="#0a0a0a" stroke="#0a0a0a" stroke-width="0.22">Basal cells</text>
<circle cx="130" cy="317" r="4.1" fill="#c08ad0"/>
<text x="136.4" y="320.3" font-size="9" fill="#0a0a0a" stroke="#0a0a0a" stroke-width="0.22">Tuft cells</text>
<circle cx="36.2" cy="345.4" r="4.1" fill="#7ab6da"/>
<text x="42.9" y="348.7" font-size="9" fill="#0a0a0a" stroke="#0a0a0a" stroke-width="0.22">Serous glandular cells</text>
<circle cx="130" cy="362.8" r="4.1" fill="#5cb866"/>
<text x="136.2" y="366.1" font-size="9" fill="#0a0a0a" stroke="#0a0a0a" stroke-width="0.22">SMG basal cells</text>
<circle cx="85.4" cy="381" r="4.1" fill="#5a62b6"/>
<text x="92" y="384.3" font-size="9" fill="#0a0a0a" stroke="#0a0a0a" stroke-width="0.22">Myoepithelial cells</text>
<text x="14.9" y="241.7" font-size="9" fill="#0a0a0a" stroke="#0a0a0a" stroke-width="0.22">8994 epithelial cells from ACC samples</text>
<path d="M17.5 369 V405.8 H53.6" stroke="#1a1a1a" stroke-width="1" fill="none"/>
<path d="M17.5 365 l-2.2 5h4.4z" fill="#1a1a1a"/>
<path d="M57.6 405.8 l-5 -2.2v4.4z" fill="#1a1a1a"/>
<text x="17.5" y="418.8" font-size="8.6" fill="#0a0a0a" font-weight="bold">t−SNE1</text>
<text x="0" y="0" transform="translate(11.3 390.2) rotate(-90)" font-size="8.6" fill="#0a0a0a" text-anchor="middle" font-weight="bold">t−SNE2</text>
<path d="M262.5 260.5h0m4 0h0m1 0h0m0-0.5h0m0.5-0.5h0m0-4h0m0.5 5h0m1.5-1h0m0-2h0m0.5 3h0m0.5-0.5h0m0.5-3h0m0.5 2.5h0m1-1h0m0 1h0m2-1h0m0.5 1h0m3.5 0.5h0m0-1h0m1.5 1h0m0.5-1h0m1.5-1h0m0-1.5h0m0.5 1.5h0m0-0.5h0m1.5 2h0m0-2h0m1 1h0m1-2h0m4.5 4h0m23-1.5h0m2.5 0h0m0-0.5h0m1-1.5h0m0.5 1h0m2 0.5h0m0-2.5h0m0.5 0h0m0 0.5h0m0 3.5h0m0-1h0m0.5 1h0m0-1h0m0.5 1h0m0-1.5h0m0-2.5h0m0.5 2h0m0-1h0m0 0.5h0m0-1h0m0 2h0m0-3h0m0 3.5h0m0.5-1h0m1 1h0m0 0.5h0m0.5-0.5h0m0.5 1.5h0m0.5-1.5h0m1 1.5h0m0-0.5h0m0.5 0h0m40-2h0m-109 7.5h0m0 0.5h0m1-1h0m0 1h0m0.5 1h0m0-2h0m0-2h0m1 3.5h0m0-3.5h0m0.5 0h0m0-1h0m0.5 1.5h0m1 1.5h0m0 1.5h0m0-5.5h0m0.5 1.5h0m0.5 2.5h0m0.5-1h0m1.5 2h0m0.5-4.5h0m1.5 0.5h0m0.5 0h0m0.5-0.5h0m1 4.5h0m0-2.5h0m0.5-1.5h0m0.5 1h0m0.5 4h0m0.5-4.5h0m0 2h0m0-1.5h0m1-0.5h0m0 3h0m0.5 0.5h0m0-1h0m1-3.5h0m1 2.5h0m1 1.5h0m0.5 1.5h0m1-4h0m0 3h0m1-0.5h0m0 1h0m0-5h0m0.5 1h0m1 3.5h0m0.5-5h0m0.5 3.5h0m0.5 0h0m2.5-2h0m0-1.5h0m0 4h0m2.5 1.5h0m1-5h0m0.5 4.5h0m5-1h0m0.5-1.5h0m0 3.5h0m2-2h0m0.5 0h0m0.5 0.5h0m12.5 1h0m0.5-2.5h0m1.5-2.5h0m1.5 4.5h0m3.5 1h0m1.5-0.5h0m1.5-1.5h0m0.5 0.5h0m0.5-4.5h0m0 6h0m0.5-4.5h0m0.5-1.5h0m0 2.5h0m0.5 3h0m0 0.5h0m0.5-4.5h0m0.5 0.5h0m0 1.5h0m0.5-1h0m0-1h0m0 3h0m0.5-2.5h0m0-2h0m0.5 6h0m0.5-4h0m0.5-1.5h0m0-0.5h0m0.5 1.5h0m0 3.5h0m1.5-0.5h0m0.5 0h0m0 1h0m0.5 0.5h0m0.5-5h0m0.5 3h0m0 2h0m1-1.5h0m0.5 1h0m1 0h0m30-5h0m0.5 5.5h0m0-6h0m0.5 1.5h0m0-1h0m0.5 4.5h0m0-0.5h0m1 1.5h0m0.5-3h0m1 2.5h0m1.5-4.5h0m1 4h0m0.5-3.5h0m0.5 2.5h0m0 2h0m-116 4.5h0m0 0.5h0m0.5-2h0m1.5 2h0m0.5-1h0m0.5 1.5h0m1-1.5h0m0-1h0m0.5 1h0m0-3h0m0.5 0.5h0m0 4h0m1-5h0m1.5 3h0m1.5-2.5h0m0 2h0m1 1h0m1 1.5h0m0.5-5h0m1.5 1.5h0m0 3h0m0.5-4h0m1 2.5h0m0.5-1.5h0m0 0.5h0m0.5 2.5h0m0-3h0m0 3.5h0m0-1h0m0.5-1h0m1 1h0m0.5 0.5h0m0.5-4h0m0 1h0m0.5 0h0m0 2.5h0m0.5-1h0m0-1.5h0m0.5 3h0m0.5-1h0m2-1.5h0m0 3h0m0-0.5h0m0-3h0m0.5 1.5h0m0.5 0.5h0m0-0.5h0m0-1h0m1-2h0m0 4h0m0.5-1.5h0m0-2.5h0m1.5 0h0m1 5h0m0-1h0m1 0.5h0m0-3.5h0m0.5 4h0m0.5-2.5h0m1-1h0m1 3h0m0-0.5h0m0.5-2h0m2 1.5h0m1.5-1h0m0-1.5h0m2.5 3h0m1-2h0m1.5-2h0m0 3h0m1 1h0m1-1h0m0.5 0h0m0.5-3h0m0 2.5h0m3 2h0m1.5 0h0m0-1h0m4-0.5h0m0.5 1h0m0.5 0h0m0-4h0m1 3h0m0.5-2h0m0 0.5h0m0 2h0m1-2h0m0.5 3.5h0m0-1.5h0m0.5-0.5h0m0 2h0m0.5-4h0m0.5 1.5h0m0 1h0m0-3h0m1 3h0m0.5-1h0m0.5 1h0m0.5-3h0m0 1.5h0m0 1.5h0m0.5 0h0m0 1.5h0m0.5-1.5h0m0.5-1.5h0m1-1.5h0m1.5 0.5h0m0 4h0m2-0.5h0m1 0.5h0m0.5-1h0m0 0.5h0m0.5-2.5h0m0.5 1.5h0m0 1.5h0m0.5-3h0m0.5-0.5h0m0.5 1.5h0m0.5 2h0m0-1.5h0m0.5-1h0m0 1.5h0m0.5-3h0m0 2h0m0-3h0m0.5 2.5h0m1 0.5h0m0-1.5h0m0.5 2.5h0m0.5-1h0m0-2.5h0m0.5 4.5h0m0-1h0m0.5-1h0m0 2h0m0.5-4h0m0.5-0.5h0m0 4.5h0m0-1.5h0m0.5 1h0m0-0.5h0m0 1h0m0-4h0m0-0.5h0m0.5 2.5h0m0.5-2.5h0m0 3h0m0.5-1.5h0m0-1.5h0m0 3.5h0m0.5-2.5h0m0.5 2.5h0m1-1.5h0m0 1.5h0m22.5-1h0m2 1.5h0m0.5 0h0m0.5 0h0m0.5 0h0m0-2.5h0m0 1.5h0m0.5 1h0m0-1h0m0.5 0h0m0.5 1h0m0.5-2.5h0m0.5 3h0m0-4h0m0.5 0.5h0m0.5 0h0m0-0.5h0m0.5-1h0m0.5 5h0m0.5-3.5h0m0-1.5h0m0.5 4.5h0m1-3h0m1.5-0.5h0m0 2h0m1 0.5h0m1-1h0m0-0.5h0m0.5-1h0m0.5 2.5h0m0-0.5h0m0 2h0m0-3h0m2 0.5h0m-123.5 9h0m1-1.5h0m1.5 0.5h0m1-1h0m0.5 1h0m2-1h0m0 2h0m0.5-4h0m0.5-2h0m0.5 1h0m2 0h0m0.5 3h0m0-2.5h0m0.5 2.5h0m2-0.5h0m1-1h0m0 2.5h0m0.5-3.5h0m0-1h0m0.5 1h0m0 3h0m0-1.5h0m0-0.5h0m0.5-1h0m0 4h0m0.5 0.5h0m0-4.5h0m1.5 0.5h0m0 2.5h0m1 1.5h0m0-4h0m0 2.5h0m0.5-4.5h0m0 1.5h0m0.5 0.5h0m0.5 3.5h0m0-4h0m0.5-1.5h0m0 2.5h0m0 1h0m0-2h0m0.5-1.5h0m0 3h0m0-0.5h0m0.5 1.5h0m0-2.5h0m0.5 1h0m0 2h0m0-3.5h0m1-0.5h0m0.5 4.5h0m0-0.5h0m0.5 0.5h0m0.5-4.5h0m0.5 4.5h0m0-2h0m1 1h0m0-3.5h0m0.5 5h0m0.5-3.5h0m0.5 2.5h0m0-4.5h0m0.5 3h0m0.5-3h0m0.5 0.5h0m0.5 0h0m0 2h0m0.5-2.5h0m1 2.5h0m0 1h0m0.5-3h0m0.5 2.5h0m0.5 1.5h0m0.5 1h0m0-3h0m0.5 0.5h0m0.5-2.5h0m0.5-0.5h0m0 4.5h0m1-2.5h0m0 1h0m0 2h0m0.5-1h0m1-3h0m0 2h0m0.5 2h0m0-0.5h0m0-3.5h0m0.5 4.5h0m0.5-4h0m0 1h0m0 1.5h0m0 2h0m0-1.5h0m0.5-4h0m0 4.5h0m2-2h0m0.5-1.5h0m0 2.5h0m0 0.5h0m0.5 0h0m2 0.5h0m0.5-0.5h0m1.5 1h0m0-1h0m0.5-2h0m1.5 1h0m0.5 1h0m0.5-2h0m1-1h0m0.5 2h0m1 2.5h0m0.5-5h0m0-1h0m0 4h0m0.5-2h0m0-1h0m0 2h0m2-2.5h0m0-0.5h0m0.5 4h0m0.5 0h0m0 1h0m0.5 1h0m0-1.5h0m0-4h0m0.5 5.5h0m0-2.5h0m0-2h0m0-1h0m0 0.5h0m0.5 1.5h0m0-1h0m0-1h0m1.5 1h0m0 1.5h0m0-2h0m0 3.5h0m1.5-2.5h0m0 3.5h0m0-1h0m0.5 1h0m0-0.5h0m0-4.5h0m0.5-0.5h0m0 3h0m0 2.5h0m0.5-5h0m0 2h0m0-1h0m0.5-1.5h0m0 4h0m0 1.5h0m0.5-3.5h0m0.5 1.5h0m1-3h0m0 2h0m0 1.5h0m0.5 0.5h0m0.5-0.5h0m0.5-1h0m0.5 2h0m0.5 0h0m0 0.5h0m0-3.5h0m2.5 0.5h0m0.5 0.5h0m0 3h0m1 0h0m0.5-4.5h0m0 4h0m0.5 0h0m0.5-5.5h0m1.5 2h0m0-2h0m0.5 4h0m0-1.5h0m0 1h0m0.5 1.5h0m0-2.5h0m0-2h0m0.5 5.5h0m0-2.5h0m0-1h0m0.5 1h0m0.5-2.5h0m0 5h0m0.5-2h0m0-1h0m0 2.5h0m1-1h0m0.5-1h0m0-1.5h0m0 0.5h0m0.5 2h0m0-2.5h0m0.5-2h0m0 4.5h0m0.5 0h0m1 0h0m0 1.5h0m0.5-1h0m0.5-2.5h0m0 3.5h0m1.5-4h0m0.5-1h0m0.5 0h0m0 4h0m0.5-2h0m0.5-2.5h0m3 5.5h0m22.5-6h0m0.5 1h0m0-0.5h0m0 1.5h0m1-1h0m0 1h0m0.5-2h0m0 3h0m0.5-3h0m0 2h0m2 0h0m0 1.5h0m1 0.5h0m0-4h0m0.5 3.5h0m0-3h0m1 2h0m0.5-2h0m0.5 0h0m0.5 1.5h0m0 3.5h0m0.5-5.5h0m1 1.5h0m0.5-1.5h0m0 2.5h0m0-1.5h0m0.5-1h0m-123 10.5h0m1-1h0m0.5-1.5h0m0 2.5h0m0.5-4h0m0.5 4h0m1 0h0m0-1.5h0m2 0.5h0m1 1h0m1.5-1h0m1-3h0m1 3h0m0.5-1.5h0m1.5 2.5h0m1-4h0m0.5 4.5h0m1-2.5h0m1 2.5h0m0-4.5h0m0.5 4h0m0-1.5h0m0.5-2h0m0 2.5h0m0.5-2h0m1.5-1h0m0 3h0m0.5-1h0m1 3h0m0.5-3h0m0-1h0m0.5-1h0m0.5 5h0m0.5-3h0m0.5-1h0m0 1.5h0m0 0.5h0m0.5-2.5h0m0 1.5h0m0-0.5h0m0.5 0h0m0 3.5h0m1-4h0m1-1h0m0.5 3.5h0m0 1h0m0-4h0m0 1h0m0.5 2.5h0m0.5-3.5h0m3-0.5h0m0.5 4.5h0m0.5 0h0m3.5-4h0m2-0.5h0m0 0.5h0m1 4h0m0.5-4h0m0 3h0m1-2.5h0m0 2.5h0m0.5-2h0m0 3.5h0m0.5-2h0m0 1.5h0m0.5 0h0m0.5-1h0m0.5-3.5h0m0 0.5h0m0.5 4h0m0.5-4.5h0m1 1h0m0.5 0.5h0m0-1h0m1 0.5h0m0 4h0m0-5h0m0.5 4h0m0.5-3.5h0m1 1h0m0 1h0m0.5 1.5h0m0-1.5h0m0.5 2h0m0.5 0h0m0.5-4.5h0m1 3h0m0 2h0m1-5h0m0.5 0.5h0m1 3.5h0m1-2h0m0-1.5h0m0.5 3h0m0.5-3h0m0.5 1h0m0 1.5h0m0.5 0.5h0m1-1h0m0 2h0m1-3h0m1-1h0m1 2.5h0m0 1.5h0m0-3.5h0m0.5 3h0m0-0.5h0m0.5 1h0m0.5 0h0m0-2h0m0-2.5h0m0 3.5h0m0.5 1.5h0m0-3.5h0m0.5 3.5h0m0.5-3.5h0m0-1h0m0.5 1.5h0m1 2.5h0m0.5-4h0m0 2.5h0m0.5-0.5h0m1 2.5h0m0-2h0m0.5 1.5h0m0.5 0.5h0m0-0.5h0m0-4.5h0m1 3.5h0m1.5-1h0m2 1h0m0-3h0m0 2h0m0.5 0h0m0 1h0m0.5-2h0m1 1.5h0m0.5 1h0m0.5-1h0m0 1h0m0.5 0.5h0m0-1.5h0m0 1h0m0-3h0m0.5 0.5h0m0 3h0m0-1.5h0m0.5-1h0m0.5 2.5h0m1-2.5h0m0-1.5h0m1 3.5h0m0-2h0m0 3h0m0.5-0.5h0m0.5-1h0m0.5-0.5h0m0-2h0m0.5 0h0m0.5 3h0m0-1h0m0.5-1h0m1 2.5h0m1.5 0.5h0m0-0.5h0m0.5-0.5h0m0.5 1h0m1-4.5h0m1.5 3h0m-90 6.5h0m0.5 0.5h0m0-4.5h0m1 5h0m0-3.5h0m0.5-1.5h0m0.5 3.5h0m0.5-1.5h0m0-0.5h0m0.5 3.5h0m0-4.5h0m0-0.5h0m0.5 3h0m0.5 1.5h0m0-3.5h0m0.5-1h0m0.5-0.5h0m0 2.5h0m0.5-1h0m0.5-0.5h0m0-0.5h0m0.5 0.5h0m0 5h0m1-3h0m0.5-3h0m0.5 1h0m0.5 1.5h0m1 1h0m0 2h0m1-1.5h0m1-3.5h0m0 4.5h0m0.5-1h0m1.5-3.5h0m0 5h0m2 0h0m1-4h0m0.5 3h0m0-2.5h0m0.5 0h0m0.5 4h0m0.5-4h0m1 1h0m0.5-0.5h0m1 1h0m0 0.5h0m0.5 2h0m0.5-0.5h0m0.5-5h0m0-0.5h0m1 2h0m0 1h0m0 2h0m0.5-3h0m1-1h0m0.5-0.5h0m0.5-0.5h0m0 3.5h0m0.5-2h0m1 4.5h0m0-4.5h0m0.5 2.5h0m0 0.5h0m1-1h0m0.5-1h0m0 2.5h0m0.5-3.5h0m0.5 2h0m1-2.5h0m0.5 3.5h0m0-4.5h0m0.5 3h0m0-1h0m1 1.5h0m0-0.5h0m0.5-0.5h0m0.5 0.5h0m0-2h0m0 3.5h0m0 0.5h0m1-1h0m0-0.5h0m0.5-3h0m0 4h0m1 0h0m1-0.5h0m1-3.5h0m2.5 4.5h0m0-0.5h0m0-0.5h0m2-3.5h0m0.5 4h0m1 0.5h0m1-5h0m0.5 1.5h0m0.5 0h0m3 2h0m0.5-0.5h0m0-1h0m0.5-2h0m0 6h0m1-0.5h0m0.5 0.5h0m0-5h0m0.5-0.5h0m1 2.5h0m0.5-1.5h0m0.5 2h0m0-0.5h0m0 1h0m0-3h0m0.5 3.5h0m0-0.5h0m1 0.5h0m0-3.5h0m0 1h0m0.5 3.5h0m0.5-4.5h0m2 1h0m0 1h0m0.5 2.5h0m0.5-4.5h0m0-0.5h0m0.5 0h0m1-0.5h0m0.5 1h0m0 4.5h0m0.5-2.5h0m0 1h0m0.5-3.5h0m0 1.5h0m0 1.5h0m0 1.5h0m0.5-3.5h0m0 1.5h0m1 1.5h0m0.5-2.5h0m0 0.5h0m0-1.5h0m0 3.5h0m0.5-2.5h0m0-0.5h0m1 3.5h0m0.5-5h0m0.5 4h0m0-0.5h0m0.5-3.5h0m0.5 4h0m0 0.5h0m0.5-3h0m0 2h0m0 2h0m0.5-4h0m0.5 1.5h0m0-0.5h0m0 2.5h0m0.5-0.5h0m0-2h0m0-2h0m0 0.5h0m0 4.5h0m1 0h0m0-4.5h0m1.5 1h0m0 3h0m0.5-3.5h0m0 1.5h0m0.5 2.5h0m0-4.5h0m1 2.5h0m0.5-3h0m0 1.5h0m0-2h0m0.5 2.5h0m0.5-2.5h0m0 1h0m1 2.5h0m0.5 0.5h0m0-2.5h0m0.5 4h0m0.5-5.5h0m0.5 2h0m0-1.5h0m0.5 4h0m0.5-4h0m0.5 4.5h0m0 0.5h0m0-2.5h0m0.5 2.5h0m0.5-1h0m0.5-1h0m0-3.5h0m0 2.5h0m0.5-1.5h0m0-0.5h0m0 1h0m0 2.5h0m1-2h0m0 2.5h0m0 1.5h0m0-2.5h0m0.5 0h0m0.5-3.5h0m0 6h0m0.5-5h0m0 3h0m0.5 0.5h0m0-4h0m1 3h0m1.5 0.5h0m0.5-0.5h0m0 1h0m1.5-3h0m2 1.5h0m0.5 1h0m0.5 0h0m0-1h0m0.5 3h0m0-1h0m1-1.5h0m0 1h0m0-2h0m0.5 1h0m0.5 2.5h0m1-1.5h0m0-3h0m1.5 4.5h0m0.5-2h0m2-0.5h0m0.5 1h0m0 0.5h0m1 1h0m0.5 0h0m2.5-1h0m2-1h0m1.5-2.5h0m3.5 3h0m-112.5 3h0m0 4h0m0.5-2.5h0m0.5 0h0m0 0.5h0m0.5-2.5h0m0.5-0.5h0m0.5 5h0m0.5-3.5h0m0.5 1.5h0m0.5-3h0m0.5 4h0m0.5 0h0m0.5 0h0m1-2.5h0m0 3.5h0m1-4h0m0 4h0m1-2h0m0.5 1h0m0-2h0m0 1.5h0m0.5-3.5h0m0.5 0.5h0m0 0.5h0m1 2.5h0m0.5-3h0m1.5 2.5h0m0-2.5h0m3 2h0m1.5 0h0m1.5 2.5h0m0-1.5h0m1.5-1h0m1-1.5h0m1-0.5h0m0-0.5h0m1 4.5h0m0-3.5h0m0-0.5h0m1 2.5h0m0.5 0.5h0m0 1.5h0m0-3h0m0.5-1h0m1.5-1h0m0.5 1.5h0m0.5 0.5h0m0.5 3h0m2-1h0m0-1.5h0m0.5-1h0m0 2h0m1-3h0m1 4h0m0-4.5h0m0.5 3h0m0 1.5h0m1-3h0m0-1h0m0.5 3.5h0m0-0.5h0m1-0.5h0m0 2h0m0-3h0m0.5-2h0m0 2.5h0m0.5 1h0m0 1h0m0-3h0m0.5 1.5h0m1.5-0.5h0m0 2.5h0m1-4h0m0.5 2.5h0m0.5-0.5h0m0-1.5h0m1.5 2h0m0.5 0h0m0 0.5h0m2-2.5h0m1 1h0m1-0.5h0m0.5 3h0m0.5-3h0m0.5-2h0m0.5 4h0m0-1.5h0m0-2h0m1.5 2h0m0-2h0m0.5 1.5h0m0-0.5h0m0 2.5h0m0.5-3.5h0m0 3h0m0.5-0.5h0m0.5-2.5h0m0-0.5h0m0.5 3.5h0m2.5-2h0m1-0.5h0m0.5 0h0m0 4h0m0.5-2.5h0m0-1.5h0m0.5-1h0m1 3.5h0m0 0.5h0m0.5 0h0m0-0.5h0m0.5-2h0m0.5 3h0m0-3h0m1.5 2h0m0-0.5h0m0.5-1.5h0m0.5 1h0m0.5 0h0m0.5 0h0m1 0h0m0 0.5h0m1 0h0m0.5-2.5h0m1 2h0m0.5-2.5h0m0.5 3h0m0.5-2.5h0m3 2h0m0.5-1h0m2 2h0m1-0.5h0m0.5-2h0m0.5 0.5h0m0 3.5h0m0-4h0m1 1.5h0m0-1.5h0m0-0.5h0m0.5 3h0m0-2h0m2-1.5h0m0.5 0h0m0 1h0m0.5-0.5h0m1 0.5h0m0-1h0m1 1h0m0.5-0.5h0m1-0.5h0m0.5 2h0m0 2.5h0m0-1h0m0.5-2.5h0m0.5 1.5h0m0-1.5h0m0-0.5h0m1 4.5h0m0.5-5h0m0.5 1h0m0 1h0m0 2h0m1.5-1h0m0-2.5h0m0.5 3h0m0.5-2.5h0m0 3.5h0m1.5-4h0m0.5 4.5h0m0.5-4.5h0m0 2.5h0m1-1.5h0m0.5 0h0m0.5 3h0m1-4h0m0 4h0m0.5-4.5h0m0.5 2h0m1.5-1h0m1 2h0m0-2h0m0.5 2.5h0m0-3h0m0 4h0m1-3.5h0m0 1h0m1 0h0m1 2.5h0m1-3.5h0m0.5 1h0m0.5-1.5h0m0 4h0m0.5-2h0m0 2h0m0.5-4.5h0m0.5 5h0m0.5-0.5h0m0-1.5h0m0.5-3h0m0 5h0m0-1h0m1.5-3h0m0.5-0.5h0m0.5 4h0m0.5-4.5h0m0 2h0m2-1h0m0.5 0h0m0 0.5h0m1 1h0m39 1h0m-152 4.5h0m0-1.5h0m3 3.5h0m0.5-4h0m0 4.5h0m0 0.5h0m0.5 0h0m2 0h0m0-5h0m0.5 5.5h0m0-3.5h0m0.5 0h0m1-2.5h0m1 3h0m0 0.5h0m0-2h0m1-1h0m1 5.5h0m1.5 0h0m0.5-3h0m1.5 1h0m1-1h0m0.5 3h0m1.5-6h0m0 1h0m0 1.5h0m0.5-0.5h0m0.5 2h0m1 0h0m1.5-4h0m0.5 3h0m0.5-0.5h0m0 2.5h0m0.5-2.5h0m1 0h0m0.5 1.5h0m0-4h0m0.5 6h0m0.5-2h0m1 1h0m0-3h0m2.5 3.5h0m0-5.5h0m1 5h0m0.5-1h0m0.5-4h0m0.5 0h0m1 1.5h0m0.5 4.5h0m0-3.5h0m0-2h0m0.5 1.5h0m1.5 0h0m0.5 3h0m0 0.5h0m0-1.5h0m0.5 1h0m0.5-1h0m1-3.5h0m1 3h0m0-2h0m0.5 2.5h0m0.5-3h0m0.5 0h0m2 2.5h0m0.5 2.5h0m0-1h0m1.5 1h0m0.5-1h0m1 1h0m0.5-4.5h0m0.5-0.5h0m2 1.5h0m1.5-2.5h0m0 2h0m0.5 3.5h0m0.5 0.5h0m0.5-4.5h0m1 1.5h0m0 2h0m0-0.5h0m0.5 0h0m0-3.5h0m0 2.5h0m2-3h0m0.5 1h0m1 3h0m0.5-4h0m0.5 0h0m0.5 2h0m0-0.5h0m0.5-1h0m0 3.5h0m0-2h0m0-1h0m0 2.5h0m1-0.5h0m0.5 2h0m0.5-1.5h0m0 1h0m0.5-4.5h0m1 0.5h0m0.5 1.5h0m0 2h0m0.5-1.5h0m1-3h0m0 3h0m0.5 0.5h0m0 0.5h0m0.5-2.5h0m0-1h0m1.5 2.5h0m0 3h0m0.5-6h0m0.5 4.5h0m0-1h0m0.5-2.5h0m0-0.5h0m0.5 1.5h0m0.5 1h0m1-1.5h0m0 1.5h0m0.5-2.5h0m0 2h0m1 2.5h0m0-3.5h0m0 0.5h0m0.5 0h0m1-1.5h0m0.5 0h0m1 5.5h0m0.5-0.5h0m0.5-5h0m0.5 3.5h0m0.5-1h0m1-2.5h0m0 1.5h0m0.5 1h0m0-2h0m0.5 4h0m0.5-3h0m0.5-2h0m0.5 1h0m0.5-1h0m0 2.5h0m0 2.5h0m0-4.5h0m0.5 2h0m0.5 1h0m0.5-2.5h0m0 1h0m1 4h0m0-1h0m0.5 0h0m0-1h0m0.5-1.5h0m0 3h0m0.5-5h0m0 5h0m0.5 0h0m0.5-2.5h0m0-2.5h0m0.5 1h0m0 1h0m0.5 0h0m0-2.5h0m0 6h0m0.5-3h0m0-2.5h0m0.5 0h0m0 2.5h0m1-0.5h0m1 0h0m0-1.5h0m0.5 0h0m0 1.5h0m0.5-2h0m1 3.5h0m1.5 0h0m0-3.5h0m0-0.5h0m1 3h0m1 1h0m0.5-1.5h0m0 0.5h0m0.5 3h0m0.5-5h0m1.5 3.5h0m0-2h0m0.5-2h0m0 2.5h0m0.5-2.5h0m0.5 4.5h0m0.5-3h0m0.5-0.5h0m0 1.5h0m0-2h0m0 4h0m0.5 1h0m1-6h0m1 0.5h0m0 0.5h0m1.5-1h0m0 0.5h0m0.5 1.5h0m0.5-1h0m1 2.5h0m44.5 1.5h0m0.5-4h0m1 3h0m0-3.5h0m0-0.5h0m0 5.5h0m0-4.5h0m0.5 3h0m0-0.5h0m0.5 2h0m0.5-1.5h0m1-1h0m0-2h0m0 5h0m0-1.5h0m0.5-1h0m1 1h0m0.5-2h0m0.5 2.5h0m0.5-0.5h0m0-2h0m1 3h0m0.5 0h0m0-2.5h0m0.5-0.5h0m0 1h0m1.5 1h0m0.5 0h0m0.5 0h0m0.5 1.5h0m0.5-2.5h0m-162 8h0m1-4h0m0.5 2h0m0-3h0m0.5 4h0m3 1h0m0-2.5h0m1.5-0.5h0m1-1.5h0m0.5-0.5h0m1 1h0m1 1.5h0m0 0.5h0m0-2.5h0m0 1.5h0m0.5 3h0m2-2.5h0m0 2.5h0m0-1.5h0m0.5-3.5h0m2.5 4h0m1 0h0m1 0h0m0-3.5h0m1-0.5h0m0 4.5h0m3-1.5h0m0.5 0.5h0m0.5-3.5h0m1 1.5h0m0.5 3h0m0-3.5h0m0.5 4h0m0.5-0.5h0m0.5 0.5h0m0.5-4h0m0.5 2.5h0m0 1h0m0.5-2.5h0m1 3h0m1-1.5h0m0 1h0m0.5-3h0m0.5 0.5h0m0.5 0h0m0.5-2h0m2 3h0m0-1h0m0.5-1h0m0-1h0m0.5 1h0m0.5 0h0m1.5 3.5h0m0.5-2h0m1-1h0m0.5-0.5h0m1.5-0.5h0m0.5 3h0m0-1.5h0m0.5 3h0m0.5-5h0m0.5 3h0m1.5 1h0m0 1h0m0.5-3.5h0m0 1.5h0m0-2.5h0m0 4.5h0m3-1.5h0m1 0.5h0m0.5 0.5h0m1.5-4.5h0m0.5 2.5h0m0.5 0h0m1-0.5h0m1.5-0.5h0m3.5 1h0m3 0.5h0m1.5 0h0m0-2.5h0m1-0.5h0m0.5 2.5h0m0-2h0m0.5 2h0m0.5-2h0m4 0h0m1 0h0m2 2.5h0m2-2.5h0m1 0h0m0.5 1.5h0m1.5 2.5h0m1-0.5h0m0.5 0.5h0m0.5-1.5h0m0.5-1.5h0m0 1h0m1 0h0m0-2.5h0m0.5 0.5h0m0 2h0m0 1h0m0.5-2.5h0m1.5 1.5h0m0.5-1.5h0m1 0h0m0 0.5h0m1.5 2.5h0m0-2.5h0m0.5 2h0m0.5 1h0m0.5-4.5h0m2 4h0m0.5-3.5h0m0.5 0h0m0.5-0.5h0m1 4h0m0-2h0m0.5-0.5h0m2 2h0m0.5-1.5h0m1-0.5h0m0 1.5h0m1.5-3h0m0 4h0m1.5-3h0m0.5 4h0m0-5h0m1 4.5h0m1-4h0m14.5 4.5h0m0.5-2.5h0m0 2h0m0.5-2h0m0-1h0m0.5 2h0m0 0.5h0m0.5 0.5h0m2-2.5h0m0 2h0m0.5-2h0m0 1h0m0-2.5h0m2 4.5h0m1-0.5h0m2-2.5h0m0 2.5h0m0-1.5h0m0 0.5h0m0.5-2h0m0.5 3.5h0m0-2.5h0m0.5 2.5h0m0-2h0m0.5 0h0m0.5 0h0m0 0.5h0m0.5 0h0m1-1h0m0.5-2h0m0.5 3h0m0.5 0h0m0 1.5h0m0-3h0m0.5 0.5h0m0-1h0m1 2.5h0m15.5-4h0m4 0h0m1.5 1.5h0m0-0.5h0m0.5 0.5h0m0.5 3h0m0-1.5h0m0.5-2h0m0-0.5h0m0.5-0.5h0m0.5 3.5h0m0-1.5h0m0.5 2.5h0m0-1h0m0 1.5h0m0-4h0m0-1h0m0.5 2h0m0.5 2h0m0-1.5h0m0 2.5h0m0-3.5h0m0.5 0h0m0.5 0.5h0m0 2.5h0m0-4.5h0m0.5 4.5h0m1.5 0.5h0m0.5-3h0m0 1h0m0.5-2h0m0 3.5h0m0-3h0m0.5 2.5h0m0 1h0m0.5-4.5h0m0 3h0m-160.5 2h0m0.5 4h0m0 2h0m1-4.5h0m0.5 1.5h0m0 1.5h0m1-2.5h0m0.5 0.5h0m0-0.5h0m0 1.5h0m0.5-3h0m0 3h0m0-1h0m0 2.5h0m1-5h0m0 3h0m0.5 3h0m2-0.5h0m0-2.5h0m0.5-2.5h0m0.5 4h0m0-3h0m0-1h0m0.5 1.5h0m0-2h0m0.5 0h0m0 3h0m0.5-1h0m0 2.5h0m0 0.5h0m0.5-2h0m0.5-1.5h0m0-1.5h0m0 6h0m1-3h0m1.5-2h0m0.5 2h0m0.5 0.5h0m0 1.5h0m0.5-2.5h0m0 3.5h0m0.5-6h0m0 4.5h0m0-3.5h0m0.5 3.5h0m0.5 1h0m0-2.5h0m0 0.5h0m0.5-2.5h0m0 1.5h0m0 2h0m0.5-1.5h0m0.5 0h0m1-3h0m0.5 3.5h0m0-3h0m0.5-0.5h0m0 4h0m0-2.5h0m3.5 2.5h0m0-4h0m0.5 3h0m0-2.5h0m0 1.5h0m1 3h0m0-1h0m1.5 2h0m0-5h0m0.5-1h0m1.5 5.5h0m2.5-5h0m0.5 4.5h0m0.5-2.5h0m2 2.5h0m1-2.5h0m0 2h0m1-2.5h0m0-2h0m0 1.5h0m0.5 1.5h0m0 2h0m0-2.5h0m0.5 0.5h0m0.5-1.5h0m1.5 2.5h0m1.5 2h0m0-6h0m0.5 6h0m0.5-3h0m2 2h0m0.5 1h0m0-3.5h0m1-1.5h0m0 5h0m1-1.5h0m2-2.5h0m1 4h0m1-0.5h0m0-3.5h0m0.5 2.5h0m0-4h0m0 5.5h0m0.5-0.5h0m0.5-2.5h0m0.5 1h0m0.5 2h0m3.5-4.5h0m1 2h0m0.5-0.5h0m2.5-3h0m0 6h0m1-2h0m2-2.5h0m0.5 4.5h0m0.5-1.5h0m1 0.5h0m0.5 1h0m0.5-6h0m0.5 3h0m0.5-3h0m0 6h0m0-1h0m0.5-1h0m0.5 2h0m1-1.5h0m0.5 0h0m0.5-1.5h0m0.5 1.5h0m1-2h0m0.5 0.5h0m0-1.5h0m0.5 1.5h0m1-2h0m0.5 5h0m2-3.5h0m6 3.5h0m1-5.5h0m3.5 4.5h0m2.5-0.5h0m1-2.5h0m0.5 4h0m2-4.5h0m0 3.5h0m1-4h0m0 4.5h0m0.5-1h0m0.5-3h0m1.5 4h0m0-4h0m0.5 4.5h0m0-1.5h0m0.5-1h0m0.5 0h0m2-2.5h0m0.5 5h0m1-1h0m0 0.5h0m8.5-5h0m0.5 4h0m0.5 0.5h0m0.5-3h0m0 2h0m0 1h0m0.5 0.5h0m0-0.5h0m0.5-4.5h0m0 3h0m0.5-3.5h0m0.5 0h0m0.5 2h0m0.5 1.5h0m0-2h0m0.5 0.5h0m0-0.5h0m0.5 1h0m0-1h0m0 4.5h0m1-2h0m0-2h0m0 1.5h0m0.5-1.5h0m0-1h0m0 0.5h0m0.5 3h0m0-4h0m0 2h0m0 0.5h0m1 1h0m0-3h0m0 5h0m0-5.5h0m1.5 2h0m0-1h0m0 3h0m0 0.5h0m0.5-3.5h0m0.5 2.5h0m0-1h0m0 2h0m0.5 1h0m1-5h0m0 3h0m0.5-1h0m0 0.5h0m0.5-3.5h0m0 2h0m0 1.5h0m0.5-0.5h0m0 1h0m0.5-1h0m0-1.5h0m0 3h0m1-3h0m0 0.5h0m0-1h0m0.5 3h0m0-0.5h0m1.5-2.5h0m0 1h0m1 0.5h0m0-1h0m0.5 4.5h0m1.5-2.5h0m0-2.5h0m23.5-1h0m2 1.5h0m1 3.5h0m-159.5 3h0m1.5-1h0m1 3.5h0m1.5-4h0m1 0.5h0m2 0.5h0m0.5 2.5h0m0.5 1h0m0.5-4.5h0m0.5 0.5h0m0.5 2.5h0m1.5 0.5h0m1-0.5h0m0-3h0m1 3.5h0m0 0.5h0m0.5-1.5h0m1 0h0m2 1h0m1.5 0.5h0m1-0.5h0m0-2h0m0.5 0.5h0m0.5-1h0m1 3.5h0m1-4h0m0 1.5h0m0 0.5h0m0.5 2.5h0m0.5-0.5h0m0.5-1.5h0m0.5-2h0m0.5 0h0m0 1h0m0 2h0m0-2.5h0m0.5 0.5h0m0.5 2.5h0m1-4h0m0 2h0m1-2h0m0.5 1.5h0m0.5-0.5h0m0 2.5h0m1-3.5h0m0.5 3h0m0.5-0.5h0m0-1.5h0m0-1h0m0 3.5h0m1-2.5h0m1 0h0m1 1h0m0-0.5h0m0-0.5h0m2 3h0m0-2.5h0m0.5-0.5h0m0.5 2.5h0m0.5-1.5h0m0 2.5h0m0-1.5h0m1 1.5h0m1.5-2h0m2-2.5h0m0 4.5h0m0.5-2h0m0.5-2.5h0m0.5 0.5h0m0.5-0.5h0m0.5 4h0m0.5 0h0m0-1h0m0.5-3h0m0.5-0.5h0m0.5 3.5h0m0.5 0h0m0-0.5h0m0.5-2h0m1 2h0m1 0h0m0.5-2h0m0.5 1h0m2 1h0m0.5-2.5h0m1.5 2h0m0-1h0m1 2.5h0m1.5-2h0m0 2h0m0.5-1.5h0m0.5 0.5h0m0.5 2h0m0-2.5h0m0 0.5h0m0.5 2h0m1-2.5h0m1-1h0m0.5 3h0m0.5-4h0m1.5 4.5h0m0.5-2.5h0m0.5 1h0m0.5 0h0m0 1.5h0m0.5-4.5h0m0 1.5h0m0.5 1.5h0m0 1.5h0m0-4.5h0m0.5 3h0m0-3h0m0 4h0m1 0.5h0m0-4.5h0m0 1h0m0.5 2.5h0m0.5-1.5h0m0 0.5h0m1 0h0m1-2h0m1 4h0m0.5-3.5h0m0.5 1.5h0m0.5 0.5h0m0.5-1h0m0.5 2h0m0-1.5h0m1.5 1h0m0.5 0.5h0m1-1h0m0 0.5h0m0.5 1h0m1.5-2h0m0 2h0m1-4.5h0m0 3h0m0.5-1.5h0m0 1.5h0m0-3h0m0.5 2.5h0m0.5 1h0m2-3h0m0.5 2h0m0.5-1.5h0m0 3.5h0m0.5-3h0m1.5 1h0m0.5-1h0m0.5 1h0m1.5 0.5h0m0-1h0m2.5 2h0m0.5-2h0m0 2h0m0.5 0.5h0m0-2h0m0-1.5h0m0.5-0.5h0m0.5 3h0m0 0.5h0m0 0.5h0m0-4.5h0m0.5 1h0m0 2h0m0-1.5h0m1 1.5h0m0.5 1h0m0.5 0.5h0m0.5-3h0m0.5 1.5h0m0-0.5h0m0.5-0.5h0m0.5-2.5h0m0 3h0m0.5 1.5h0m2.5-1.5h0m1-3h0m0.5 2.5h0m0 1h0m1.5-3.5h0m1 0h0m7 0h0m4 0h0m3 1h0m-114.5 9.5h0m0.5-3.5h0m0-0.5h0m0.5 4.5h0m1-1.5h0m1 1.5h0m0.5-2.5h0m0 2h0m1-3.5h0m0.5 1.5h0m1.5-1h0m0.5-1.5h0m0.5 3h0m0.5-1h0m0.5 2h0m0.5-0.5h0m0-1.5h0m0.5 3h0m1 0h0m0-0.5h0m1-0.5h0m0.5-2.5h0m0 4h0m0.5-4h0m0.5 1h0m0 1.5h0m0-3h0m0-0.5h0m0.5 1h0m0.5 0.5h0m0-2h0m0.5 1.5h0m0.5 1h0m0.5 0.5h0m0.5-0.5h0m0-3h0m0 2.5h0m0.5 3.5h0m0.5-3h0m0 1h0m0-4h0m0.5 0h0m0 6h0m0.5-0.5h0m0.5-0.5h0m0-3h0m0 2.5h0m0.5-0.5h0m0 1.5h0m0-4h0m1.5 1.5h0m0 0.5h0m0.5-1.5h0m0-2h0m0.5 1h0m0.5 3h0m2.5-1h0m0.5 1h0m3 0.5h0m2.5-2.5h0m0.5 4h0m0.5-0.5h0m1-5.5h0m0 1h0m0.5 0.5h0m2 0h0m0 3h0m0-1h0m1 1h0m1-3.5h0m0 2.5h0m0.5-3h0m0.5 5.5h0m1-2h0m0.5-3h0m0.5 5h0m0-5.5h0m0.5 3.5h0m0.5-4h0m0 2.5h0m0 2h0m0.5-4.5h0m1 3.5h0m0.5-3h0m0 3h0m1-1h0m1.5-2.5h0m0 1.5h0m1.5 1h0m1 1h0m0.5 1h0m0-4h0m0.5-0.5h0m0.5 5.5h0m0-3h0m1 2.5h0m0-1.5h0m0.5-2.5h0m0.5-1h0m1 1h0m0 3h0m0-3.5h0m0.5 2.5h0m0 0.5h0m0.5 0h0m0.5 1.5h0m0.5-2h0m0 0.5h0m0-3h0m0.5 0h0m0 4h0m0-2.5h0m0.5 0h0m0 2.5h0m0 1.5h0m0-2.5h0m0 2h0m0.5-0.5h0m0 1h0m0-2h0m0.5-2h0m0 3h0m0.5-2.5h0m0.5 0h0m0 0.5h0m0 0.5h0m0-3.5h0m0.5 1h0m0 4h0m0.5-4h0m0-0.5h0m0 1.5h0m0.5 2.5h0m0-3.5h0m0 4.5h0m0-5h0m1-0.5h0m0.5 3h0m0.5 0h0m0-1h0m0.5-2h0m0 1.5h0m0.5 4h0m0-2h0m1-1h0m0 1.5h0m0-0.5h0m0-3.5h0m0.5 2h0m0.5 1h0m0-1h0m0 3h0m0.5-1.5h0m0 2.5h0m0.5-5.5h0m0 5h0m0.5-0.5h0m0.5-3.5h0m0 3h0m1-2h0m0.5 1.5h0m0.5 1.5h0m0-3h0m2-1h0m0.5 1.5h0m0.5-1.5h0m0 1.5h0m0-0.5h0m0 3.5h0m0.5-6h0m1 4h0m0 1h0m0.5-2.5h0m1 3h0m0-1h0m1-3.5h0m0 0.5h0m0 4.5h0m0.5-4.5h0m0.5 1h0m0-0.5h0m0.5 4h0m0-6h0m0 3.5h0m0.5-3h0m1 0.5h0m0.5 4h0m0 1h0m0.5-2h0m1 1.5h0m0.5 0h0m0.5-1h0m0-0.5h0m1 1h0m0.5-0.5h0m0-2.5h0m1-0.5h0m0.5-1.5h0m1 4h0m1-1h0m0.5 1.5h0m0.5-1h0m1 1h0m1-3h0m1 0.5h0m1.5-1h0m1 1h0m0-1.5h0m0.5 3h0m1-1.5h0m0 4h0m0.5-2.5h0m0-3h0m1.5 1.5h0m0.5 1.5h0m2-1.5h0m4.5 4h0m3.5-3h0m3 1h0m0.5 2h0m1-1.5h0m1 1.5h0m0.5-2.5h0m0.5 0.5h0m0.5-1.5h0m0.5 3h0m0-1.5h0m1-0.5h0m0 1.5h0m0 0.5h0m1 0h0m1.5 0.5h0m0-2h0m0.5-0.5h0m1 2.5h0m0.5-1.5h0m2-0.5h0m0.5 0h0m0.5 0h0m1.5-0.5h0m0.5 1.5h0m1.5 1h0m1-2.5h0m1.5 2.5h0m1 0h0m1.5 0h0m0.5-2.5h0m1 1.5h0m-132.5 1.5h0m2 2h0m2 0h0m0-1h0m1 2.5h0m0 0.5h0m0.5-0.5h0m0 0.5h0m0-4h0m0.5 4.5h0m0-0.5h0m0.5 1h0m0-3.5h0m0 3h0m0.5-4.5h0m0.5 4.5h0m0 0.5h0m0.5 0h0m0-2.5h0m1-0.5h0m0 2h0m0.5 0h0m0 0.5h0m0.5-0.5h0m0-3.5h0m0.5 2.5h0m1 1.5h0m0-0.5h0m1-1.5h0m0.5-2.5h0m0.5 0.5h0m0 3h0m1-3.5h0m0 5h0m0-4.5h0m0.5 0h0m0 1h0m1 0h0m0-1h0m1 0.5h0m0 3h0m0.5-0.5h0m0.5 0.5h0m1 0h0m0.5 0.5h0m0.5-4.5h0m0 5h0m0-2h0m0.5 1.5h0m0.5-1.5h0m0.5-0.5h0m0.5-0.5h0m1.5 2.5h0m0-4.5h0m0.5 0.5h0m0.5 2.5h0m0 0.5h0m0.5-1.5h0m0.5 2.5h0m0-2.5h0m0 1h0m0-3h0m2 4.5h0m0-0.5h0m1-3.5h0m0.5-0.5h0m0 2h0m0.5-2h0m0.5 0.5h0m0.5 1h0m0 3h0m1.5-4.5h0m0 3h0m0-0.5h0m1.5 0.5h0m0-1.5h0m0 3.5h0m2-0.5h0m1-3.5h0m0 2h0m0.5-3h0m0.5 4h0m0.5-4h0m0.5 2.5h0m1 0h0m0.5-2h0m0 4h0m0.5-0.5h0m0-0.5h0m0.5-1h0m0.5-0.5h0m1.5-1h0m0.5 0.5h0m0.5-0.5h0m0 1.5h0m0.5-0.5h0m1-1h0m0.5 1h0m0 0.5h0m0 2.5h0m1-4.5h0m2 2.5h0m0 0.5h0m1-1.5h0m2 0.5h0m0 0.5h0m1.5-0.5h0m1 0.5h0m0.5-1.5h0m0.5 0h0m0-0.5h0m1-1h0m0.5 2h0m0-1.5h0m0 2h0m0 1h0m0.5 1.5h0m0-2h0m0.5-2.5h0m0.5 4h0m1.5-4h0m1 4h0m0-2h0m0.5 2h0m0-3.5h0m0 2h0m0-2.5h0m0.5 2.5h0m0 1h0m0.5-1.5h0m0-2.5h0m2 5h0m0.5-1.5h0m0 1.5h0m2 0h0m0-2h0m0.5 1h0m0-1h0m0.5 2h0m0-3.5h0m0.5-0.5h0m0 3.5h0m0.5 0.5h0m2.5-2.5h0m0.5-1.5h0m0 1h0m1.5 3h0m0.5-0.5h0m0 0.5h0m0.5-1h0m0.5-3.5h0m1 4h0m0.5-2h0m0.5 1h0m1-0.5h0m0.5-0.5h0m0 0.5h0m1 1h0m0-3h0m0 3.5h0m0-3h0m0.5-1h0m1 1h0m0.5-1h0m0.5 4h0m0 0.5h0m1-2h0m0.5-2h0m0 2.5h0m0.5-3.5h0m1.5 3.5h0m0.5 0h0m0.5 0.5h0m0 0.5h0m0.5-1.5h0m0 2h0m1 0h0m0-4h0m0.5 3.5h0m1-3h0m2 2.5h0m0.5-2.5h0m0.5 0.5h0m0.5 1h0m1-2h0m0 2.5h0m0.5 1.5h0m0-3.5h0m0.5 0h0m3 0.5h0m4-0.5h0m1 2h0m0.5-1h0m0.5 1.5h0m0.5-1.5h0m1-1.5h0m0.5 0h0m0 1.5h0m1 1.5h0m3-1h0m0 1h0m0.5-3.5h0m0.5 2.5h0m0-2h0m0 4h0m0.5-2.5h0m0.5-2h0m1.5 0h0m1 4.5h0m0-4h0m1 0h0m0.5 1.5h0m0-2.5h0m0.5 0h0m0.5 1.5h0m0 3h0m0-2.5h0m0.5 3h0m1-4.5h0m0.5 0h0m0 2.5h0m1 1h0m0.5-3h0m0.5-0.5h0m0 0.5h0m0.5 1h0m0-2h0m0.5 2.5h0m0.5-0.5h0m0.5 1h0m0.5-0.5h0m0 2.5h0m0.5-2h0m0.5-2h0m0.5 2h0m0.5-1.5h0m0 2.5h0m0.5-2.5h0m0.5 2.5h0m0 1h0m0.5 0h0m0-2h0m0.5-2.5h0m0 4h0m0.5 0h0m1-2.5h0m0.5-1h0m0 3.5h0m0.5-1h0m0 1.5h0m0.5-4.5h0m0.5 4h0m1-3h0m0.5 1h0m0-0.5h0m2 1h0m0 1.5h0m0-2h0m1.5 1h0m0-2.5h0m0.5 3.5h0m0.5 0h0m0.5 0h0m-132 2h0m0.5-1h0m0.5 1h0m0 0.5h0m0.5 1h0m0.5 1h0m0-2.5h0m0.5-1h0m0.5 0.5h0m1 3h0m0.5 2h0m0.5-1.5h0m1-0.5h0m0-2h0m0 2.5h0m0-2h0m0 3.5h0m0.5-2.5h0m0 0.5h0m0.5 1h0m0.5-1h0m0-2h0m0.5 0.5h0m0.5 2h0m0.5-4h0m0 1.5h0m1 0.5h0m0 2.5h0m0.5-4h0m0.5 5.5h0m0.5-2.5h0m0 2h0m0-3.5h0m0.5-1h0m0.5 1h0m0.5 0.5h0m0 0.5h0m0 2h0m0-1.5h0m0.5 1.5h0m0-2h0m0 0.5h0m1 2h0m0.5-5h0m0 1h0m0.5 0h0m0.5-1.5h0m0 6h0m0.5-5h0m0 5h0m0-4h0m0.5 3.5h0m1 0h0m0-2h0m1-2h0m0 0.5h0m0 1.5h0m0.5 2h0m0.5 0.5h0m0.5 0h0m0-3.5h0m0.5 1h0m1-1h0m0.5 1h0m0 2h0m0.5-1.5h0m0.5 2h0m0.5-0.5h0m0-5h0m0.5-0.5h0m0 1.5h0m0 4h0m0.5-1.5h0m0.5 0.5h0m0-2h0m0.5-2.5h0m0 2.5h0m0 3.5h0m0.5-4h0m0.5 0h0m0 1.5h0m1.5 0h0m1 0h0m0.5-1h0m0-2.5h0m0 5.5h0m0.5-4h0m0.5 1.5h0m1-1h0m0.5 2.5h0m1-3h0m0 1.5h0m0.5-2.5h0m0.5 1.5h0m0-1.5h0m1 1h0m1 3h0m0.5-2.5h0m0.5-0.5h0m0-1h0m0.5 0.5h0m0 0.5h0m0.5 2.5h0m0.5-2h0m0 0.5h0m1-1.5h0m0 1h0m0 2.5h0m0.5-2h0m1 3h0m0.5-5.5h0m0 5.5h0m0.5-2h0m0.5 0.5h0m0.5 1h0m0-1.5h0m1 1.5h0m1-4h0m1.5 3h0m0.5 1.5h0m0-2.5h0m0.5 1.5h0m0.5-2.5h0m0.5-0.5h0m0.5 4h0m0-1h0m0.5 1h0m0-3h0m0-1.5h0m0.5 1.5h0m0 2.5h0m0.5-1.5h0m0-3h0m0 5h0m0.5-3.5h0m0 1.5h0m0 0.5h0m0 0.5h0m0.5-0.5h0m0 0.5h0m0-2.5h0m0-0.5h0m0.5 1.5h0m0.5-0.5h0m0.5-0.5h0m1 3.5h0m0.5-4.5h0m0-0.5h0m0.5 2.5h0m0 0.5h0m0.5 0.5h0m0.5 1.5h0m0 0.5h0m0.5-3h0m0 2h0m0-4h0m0.5 2h0m0 2h0m0 1h0m0.5-0.5h0m0.5-3h0m0 3h0m0.5 0.5h0m0-2h0m0-2.5h0m0.5-1.5h0m0.5 1h0m1 4.5h0m0.5-1.5h0m0-3.5h0m0 1h0m0.5 0.5h0m0.5 3h0m1.5-1h0m0 1.5h0m0.5-2.5h0m0-0.5h0m0-0.5h0m0.5-0.5h0m0 1.5h0m0 1h0m0-0.5h0m0.5 1.5h0m0-1h0m1-0.5h0m0 2.5h0m0-2h0m0.5-0.5h0m0 2h0m0-4h0m1-0.5h0m0 1h0m0.5-1h0m0 0.5h0m0 3.5h0m0.5-5h0m0.5 4.5h0m0.5 1.5h0m0.5-0.5h0m0.5 0.5h0m0-4h0m0.5-0.5h0m0.5 1h0m0-2h0m0 3h0m0-0.5h0m0.5 3h0m0.5-2.5h0m0.5 0h0m0.5-2h0m0 4h0m0.5-2.5h0m0-0.5h0m0.5 1.5h0m0.5-4h0m0 1h0m0 2h0m0.5 0h0m1-2h0m0 0.5h0m0.5 3h0m0-1.5h0m1 1.5h0m0-2h0m0 3h0m0.5-1h0m0-1h0m0-1.5h0m0.5-0.5h0m0 3h0m0-2.5h0m0.5-2h0m0 5.5h0m0.5-0.5h0m0.5-4.5h0m0 1.5h0m0 0.5h0m0.5 1.5h0m0-2.5h0m1.5 0h0m0.5 3.5h0m0-0.5h0m0.5-1.5h0m0-2.5h0m0.5 4h0m0 1h0m0.5-4h0m0 3h0m1-3h0m0.5 3.5h0m0-2.5h0m0 1.5h0m0-2h0m0.5 2h0m0-1.5h0m0 0.5h0m0.5-3h0m0 5h0m0-1.5h0m0 1h0m1-4h0m0 2.5h0m0.5-2h0m0-1h0m0 0.5h0m0.5 4h0m0-1.5h0m8-3h0m0.5 1.5h0m0 1.5h0m1.5-2.5h0m1 1.5h0m0.5 0h0m0.5-1.5h0m1 1h0m0 3h0m0.5 0h0m0 0.5h0m0.5-4.5h0m0.5 3h0m0 2h0m0.5-1.5h0m0-2h0m0.5 1.5h0m0 1h0m0.5-1h0m2 1.5h0m0 0.5h0m0.5 0.5h0m0.5-1.5h0m0.5 1.5h0m0.5-2h0m0.5-3.5h0m0.5 1h0m0 4.5h0m1-0.5h0m0-3h0m0.5 1.5h0m0.5-2h0m0 4h0m0.5-3h0m0 2.5h0m0.5-2h0m0.5-1h0m0-2h0m0.5 0h0m0 3h0m0.5 0h0m1-2.5h0m0 4.5h0m0-3.5h0m0.5 3h0m0.5-1h0m0.5 2h0m0-1.5h0m0.5-2h0m0.5 3h0m0.5-3h0m0 0.5h0m0-3h0m0.5 5h0m0.5-3.5h0m0.5 1h0m0 1.5h0m0-4h0m0.5 0h0m0.5 5h0m1-2h0m0 1.5h0m0.5 1h0m1 0h0m0.5-2h0m0-3.5h0m0 5.5h0m0.5 0h0m0-2.5h0m0-3h0m0.5 3.5h0m1.5 0.5h0m0.5-3.5h0m0.5 1h0m1 4h0m0-3h0m0-0.5h0m0.5 4h0m0-1h0m1-3h0m0.5 1h0m0-0.5h0m0.5 1.5h0m0.5 0h0m0.5-3h0m0.5 4.5h0m0-2h0m0.5-0.5h0m0-1.5h0m0.5 0.5h0m0 3.5h0m1.5 0.5h0m-130.5 2.5h0m0.5 0.5h0m0-1h0m1.5 2h0m0.5 1.5h0m0.5-4.5h0m0.5 0.5h0m0 1h0m0.5-2h0m0.5 1h0m1.5-1h0m0.5 1.5h0m0 1h0m0 1.5h0m1 0.5h0m1-4h0m0 3h0m1.5 0.5h0m0-4h0m1 2.5h0m0.5-1.5h0m0.5 3h0m1-4h0m1.5 0.5h0m0.5-0.5h0m1 1h0m0 3h0m0.5 0h0m0 0.5h0m0.5 0h0m0-3.5h0m0 2h0m0 2h0m1.5-1.5h0m0.5-1h0m0.5-2h0m0.5 3.5h0m0-3h0m0 0.5h0m0.5 2h0m0 1h0m0 0.5h0m0.5-3h0m0.5 0h0m0.5-1.5h0m0 1h0m0 3h0m0.5 0h0m0.5-0.5h0m0-3h0m0.5 0.5h0m0.5-1h0m0.5 1h0m0-1.5h0m0.5 4.5h0m0-3.5h0m1 0h0m0.5 1h0m0-2h0m0 4.5h0m0.5-0.5h0m0.5-1h0m1 1.5h0m0-0.5h0m0.5-2.5h0m0 3h0m0 0.5h0m0.5-1.5h0m0.5-3.5h0m0 0.5h0m0.5 0h0m0.5 1.5h0m0-2h0m0.5 1h0m0.5 2.5h0m0.5 1.5h0m0.5-2.5h0m0.5 0h0m0.5 2.5h0m0.5-3.5h0m0 3h0m0-0.5h0m1 1h0m0-3.5h0m1.5-1.5h0m1 1.5h0m0.5 3.5h0m0.5-4.5h0m0.5-0.5h0m1.5 1h0m0 0.5h0m1 1.5h0m0.5 0.5h0m0-0.5h0m0 1h0m0.5 1h0m0.5-1h0m0.5-1h0m0.5-3h0m1 5h0m0.5-4.5h0m0.5 3.5h0m0-2.5h0m0.5 3h0m0-2h0m0-2h0m0.5-0.5h0m0 2h0m0 2h0m0.5-1.5h0m0 2.5h0m0-4h0m0-0.5h0m0 4h0m0.5-1h0m0 0.5h0m0.5 0h0m0 1h0m1.5-5h0m0 4.5h0m0.5-4h0m0 4.5h0m0.5-2.5h0m0-2.5h0m0 1.5h0m0.5 3h0m0.5-1.5h0m0.5-2h0m0.5 2.5h0m0-2h0m0.5 1h0m0.5-2.5h0m0 5h0m0-3.5h0m0.5 3.5h0m3.5-3.5h0m0.5-0.5h0m0 2.5h0m0-2h0m0.5 2h0m1.5 1h0m0.5-2h0m1 1h0m0.5-2h0m1-1.5h0m0.5 4h0m0.5 0h0m0.5-1.5h0m0 0.5h0m0.5 0h0m1.5-0.5h0m0 0.5h0m0.5 2h0m0-3h0m0 2.5h0m1-3h0m0 2h0m0.5-2.5h0m0.5-1h0m0.5 1.5h0m2 1h0m1-1h0m0-1.5h0m0 3h0m1-2h0m0 0.5h0m0 2h0m0.5-2.5h0m1 4h0m1.5-5h0m0 1.5h0m0.5 1.5h0m0.5-3h0m0.5 2.5h0m0-0.5h0m0 2h0m0-4h0m1 3h0m0.5-1.5h0m0-1.5h0m0 1h0m0.5 0h0m0 2h0m0 2h0m0.5-2h0m1-3h0m0 3.5h0m0.5-2.5h0m1.5-1h0m7.5 4.5h0m2.5-0.5h0m0.5 0h0m0.5 1h0m0-2.5h0m0-2.5h0m0 3h0m0.5-2.5h0m0 2.5h0m0-0.5h0m0.5-2h0m0 4.5h0m0.5-4.5h0m0 2h0m0.5-1h0m0 1h0m0.5 2.5h0m0-2h0m0 1.5h0m0.5-3.5h0m0 3h0m0.5-2h0m0.5 1.5h0m1 0h0m1.5-1.5h0m0.5-2h0m0 4.5h0m0.5-2h0m0.5-0.5h0m0 2h0m0.5-1.5h0m0.5-1.5h0m0 3.5h0m0.5-3.5h0m0.5 2h0m1-2.5h0m0 4h0m0-3.5h0m0.5 3.5h0m0-3h0m0.5-1h0m0 1.5h0m0-2h0m0.5 2h0m1-1h0m0-0.5h0m1 1h0m0.5 1h0m0.5-2.5h0m1 0.5h0m0 4h0m0 0.5h0m0.5-2.5h0m0.5-0.5h0m0.5 0h0m0 3h0m1 0h0m0.5 0h0m0-5h0m1 0h0m1 0.5h0m0 2.5h0m0 0.5h0m0.5-0.5h0m0-1h0m0-1.5h0m0 4h0m0-4.5h0m0.5 0.5h0m0 3h0m1.5-3h0m0.5 1.5h0m0.5-1h0m0 2h0m0 1.5h0m0.5 0.5h0m0-4.5h0m0-0.5h0m0 1.5h0m0.5 2.5h0m0 1h0m0.5-2.5h0m0.5 1.5h0m0 0.5h0m1-2.5h0m0-2h0m0 0.5h0m0 3.5h0m0.5-4h0m0.5 1h0m0.5 2h0m0-1h0m0-2h0m0.5 0.5h0m1-0.5h0m0 4h0m0.5 0.5h0m0.5-1.5h0m0-2.5h0m0.5 3h0m1 0h0m0-3.5h0m0 4.5h0m0.5-4h0m0 4.5h0m0-1.5h0m0.5-1h0m0-1.5h0m0.5 3.5h0m0-2.5h0m1-1.5h0m0-0.5h0m0 1h0m-129.5 4.5h0m1.5 0h0m0.5 2.5h0m1 0.5h0m0.5-1.5h0m0.5 0h0m0 4h0m0.5-4h0m0 4.5h0m0-3h0m0 1.5h0m0.5-3h0m0 3.5h0m1-5h0m0 4.5h0m0.5-2h0m0 0.5h0m0.5-2h0m0.5 3h0m0-1h0m0 3h0m0-5.5h0m1 5.5h0m0-3h0m0.5-0.5h0m0 3h0m1-4.5h0m0.5 1.5h0m0 1.5h0m0-0.5h0m0-0.5h0m0.5 1.5h0m0.5-0.5h0m1 2h0m1-2.5h0m0.5 1.5h0m0.5-1.5h0m0 1.5h0m0 0.5h0m0.5 0h0m0.5 0h0m1-2h0m0 1.5h0m0.5-3.5h0m0 4h0m0-2.5h0m0 2h0m0.5-1.5h0m0-1.5h0m0.5 0.5h0m1 2h0m0.5-3.5h0m0 3h0m1-1h0m0-3h0m0.5 2h0m0-1h0m1 3h0m0.5-3.5h0m0 3h0m0.5 2h0m0.5-2h0m0 1h0m0 1h0m0.5-3h0m0 2.5h0m1-2h0m0.5 2.5h0m0-4h0m0-1.5h0m0 3.5h0m0 0.5h0m1 1.5h0m0-3h0m0 2.5h0m0.5-1.5h0m0-2.5h0m0 4h0m0.5 0.5h0m0-3h0m0.5-1.5h0m0.5 3.5h0m0-4h0m0 1h0m0.5-1.5h0m0.5 3h0m1.5 0.5h0m1-0.5h0m1-2h0m0 4.5h0m0.5-3.5h0m0 4h0m0-0.5h0m0.5-0.5h0m0.5-3h0m0.5-2h0m0.5 1.5h0m2.5 4h0m0.5-4h0m0.5-1h0m1.5 0h0m0 3.5h0m0.5-2.5h0m0 2h0m0.5 2.5h0m0.5-2.5h0m0.5-3.5h0m0.5 6h0m0.5-2h0m0.5-2h0m0-2h0m1.5 0.5h0m0 5h0m0-2h0m1 1h0m0 1.5h0m1-6h0m0 2h0m1.5 1h0m0 2.5h0m0-4.5h0m0.5 0h0m0.5 1h0m0 1.5h0m0.5 1.5h0m0-2.5h0m0.5 0.5h0m1.5 0.5h0m0-0.5h0m0.5 2.5h0m0-2.5h0m0-1.5h0m0 4.5h0m0.5-2h0m1-0.5h0m1.5 1.5h0m0 1h0m1-0.5h0m0.5-4h0m0 3h0m0.5-2.5h0m0 1h0m0.5 2.5h0m0.5-0.5h0m0 0.5h0m0.5-2.5h0m0-0.5h0m0.5-0.5h0m0-1h0m0.5 3.5h0m0-0.5h0m0.5-2h0m0-1.5h0m0 4h0m0.5 1.5h0m0-5.5h0m0.5 4h0m1-2h0m0 3h0m1.5-3.5h0m0-1.5h0m0.5-0.5h0m0 0.5h0m1 2h0m0 1.5h0m0-4h0m1 1.5h0m1.5-1.5h0m0 5.5h0m1-2h0m1.5 0h0m0.5-3.5h0m0.5 1h0m2-1h0m0.5 3.5h0m0.5-2h0m1.5 2.5h0m1.5-1h0m0.5-0.5h0m2.5-1h0m10 0h0m2 0.5h0m0-1.5h0m0.5 0h0m0.5 2.5h0m0.5-3h0m0 2.5h0m0 3h0m0-5h0m0 3.5h0m0-0.5h0m0.5 2.5h0m1-3h0m0-0.5h0m0.5 0h0m0.5 1h0m2 0.5h0m0-3h0m1.5 0h0m0.5-1h0m0.5 1h0m0 1.5h0m0.5 2.5h0m0-4.5h0m0.5-0.5h0m0.5 0h0m0.5 2h0m0 2.5h0m0 0.5h0m0.5-2.5h0m0 2h0m0.5-2h0m0.5-1h0m1 4h0m0.5 0.5h0m0-2.5h0m0.5 0h0m0.5-2.5h0m0-1h0m0.5 3h0m0 3h0m1-1h0m1-0.5h0m0.5 0h0m0 1h0m0.5-5.5h0m0 3.5h0m0 0.5h0m0.5 0h0m0-2h0m0 3h0m0-5h0m1 0.5h0m0.5 4.5h0m0-3h0m0 0.5h0m1-2.5h0m0 4h0m0.5 1h0m0-4h0m0 1.5h0m0.5 3.5h0m0.5-1h0m0.5-4.5h0m0 4h0m0 1h0m0.5-2h0m0.5 2h0m0-5h0m0.5 3h0m1-1.5h0m1 3h0m0 1h0m0-3.5h0m1 3.5h0m0.5-1.5h0m0.5 1.5h0m0-2h0m0.5 0.5h0m0 1h0m0.5-2.5h0m0-0.5h0m0 3h0m0.5-0.5h0m0.5-2h0m0.5-1.5h0m0.5 2.5h0m0 1.5h0m0.5-4.5h0m0 3.5h0m0.5 0.5h0m0.5-4.5h0m0 5.5h0m0.5-2.5h0m0-1h0m0 2h0m0.5-0.5h0m0.5 0.5h0m0-0.5h0m0-3.5h0m0.5 5h0m0-5.5h0m0 4.5h0m0.5-0.5h0m1.5-1.5h0m0.5-2.5h0m-124.5 8h0m1-1h0m0 1h0m0-0.5h0m0.5-0.5h0m0.5 2h0m0-2.5h0m0.5 0.5h0m0.5-0.5h0m0.5 3.5h0m0.5-3.5h0m0 4h0m0.5-0.5h0m0-1h0m0.5 0h0m1-2.5h0m2.5 0.5h0m0 3h0m1 1.5h0m1.5 0h0m0-3.5h0m0.5 3.5h0m0.5-4.5h0m0 2.5h0m0.5-2.5h0m0 0.5h0m0.5 2.5h0m1.5 1h0m0.5 0.5h0m0-5h0m0 3h0m1.5-0.5h0m1-1.5h0m0.5 2.5h0m1 1.5h0m0-1.5h0m0.5-2h0m0.5 3.5h0m0-0.5h0m0.5-4.5h0m0.5 0.5h0m0.5 1h0m0.5 0h0m0.5 3.5h0m0.5-0.5h0m0-2h0m0.5 0h0m0 1.5h0m0.5-2.5h0m0.5-1.5h0m0 2.5h0m1.5 2.5h0m0-4.5h0m0 0.5h0m0.5 2h0m1-1h0m0.5 2.5h0m0-2.5h0m0.5 1.5h0m0.5-1h0m0.5 1h0m0.5-1h0m0-1h0m0.5 1.5h0m0-2.5h0m0.5 0.5h0m0.5 0.5h0m1.5 3.5h0m0.5-5h0m1 3.5h0m1.5-3.5h0m0 0.5h0m1.5 1h0m0 2h0m0.5-1.5h0m0.5 2h0m0-4h0m1 3.5h0m1 1.5h0m0-1.5h0m0.5-2.5h0m0 2.5h0m0.5-1.5h0m0.5-1h0m0 0.5h0m0.5 2.5h0m1.5 0h0m1-4h0m0 4h0m0.5-3h0m1.5 2h0m1-2h0m0.5 2.5h0m0.5-3.5h0m0 2h0m0.5 0h0m0 1.5h0m0 0.5h0m0.5 0.5h0m0.5-1.5h0m0-1h0m0.5 0.5h0m0 2h0m0.5-2.5h0m0.5 0.5h0m0.5-1h0m0.5 3h0m0-4h0m0.5 0h0m0 2h0m0 2.5h0m0-4h0m0.5-1h0m0 4h0m0.5-0.5h0m0 1.5h0m0-1h0m0.5-4h0m0.5 0.5h0m0.5 1h0m0.5-1h0m0.5 4.5h0m0-4h0m2 4h0m1.5-1h0m0.5-0.5h0m0-1h0m0.5 1h0m0-1.5h0m0.5 0h0m0.5 1.5h0m0-1.5h0m1-1h0m0 1.5h0m0-2.5h0m1.5 1h0m0.5 1.5h0m0 0.5h0m0.5-1.5h0m0-1h0m3-0.5h0m0.5 2h0m17 0.5h0m1.5-1.5h0m2-0.5h0m1 1.5h0m0 2h0m0.5-2.5h0m0.5 2h0m1-3h0m0.5 4h0m0-1.5h0m0.5 1.5h0m0-3h0m0.5 0h0m0 2h0m0-2.5h0m0.5 1.5h0m0.5 2.5h0m0.5-4.5h0m1 1.5h0m1-1.5h0m0 4.5h0m0.5-3h0m0 0.5h0m0-1.5h0m0.5 2.5h0m0-2.5h0m0.5 4h0m0.5-1h0m0-2h0m0 2.5h0m0-1.5h0m0-3h0m0.5 4h0m0.5-2.5h0m0.5-0.5h0m0.5 1h0m0-1.5h0m2 4h0m0-2.5h0m0 0.5h0m0.5 1.5h0m0-4h0m0.5 1.5h0m0.5 3h0m0.5-2.5h0m0-1h0m0 3h0m0.5 0.5h0m0.5-2.5h0m0.5-1h0m0 0.5h0m0 3.5h0m0.5-4h0m0 3h0m0-1.5h0m1-0.5h0m0.5 2.5h0m0.5-1.5h0m1 0h0m0.5 1h0m0-1h0m0.5 1.5h0m0-4.5h0m0 1.5h0m0.5-1.5h0m0.5 3.5h0m0.5 1h0m0.5 0.5h0m0.5-1.5h0m0.5-2h0m0-1.5h0m0 2.5h0m0.5 2.5h0m0-0.5h0m0.5-0.5h0m0.5-2.5h0m0 0.5h0m0.5 0h0m0.5-2h0m0.5 2h0m0 2h0m0.5-1.5h0m0-2h0m0.5 2.5h0m0.5 2h0m0.5-5h0m1 4.5h0m0-1.5h0m0-2h0m0.5 0.5h0m0 3h0m0-4.5h0m2.5 0h0m-118 7h0m0.5-1h0m1 1h0m1.5-1h0m0 1.5h0m0.5 0h0m1.5 0h0m2-1.5h0m1 5.5h0m0.5-1h0m0-4h0m0.5 4h0m0.5-1h0m1 0h0m1.5 2h0m0-4h0m0-2h0m0 3h0m1 1.5h0m0.5-2h0m0 1.5h0m0.5-0.5h0m1 1.5h0m0.5-1h0m0-2h0m2 1.5h0m0 1.5h0m0.5 0h0m0.5-4h0m0.5-1h0m0.5 3.5h0m0-0.5h0m0.5 0h0m2-1.5h0m0 3.5h0m0.5 1h0m0.5-1.5h0m0.5 0h0m0 1.5h0m0-3.5h0m0.5 1.5h0m1-0.5h0m1-2h0m0 1.5h0m0-2.5h0m0 0.5h0m0.5 2h0m0.5-1h0m0 2.5h0m0-1.5h0m0 0.5h0m0.5-3h0m0 1h0m0.5 2h0m0.5-3.5h0m2 5.5h0m1-2.5h0m0 1.5h0m1.5 1h0m0-0.5h0m0.5-1h0m0.5-4h0m0.5 4.5h0m0-2h0m0.5-1h0m1 3h0m0-4.5h0m0 1.5h0m0.5 3h0m0.5-1.5h0m1.5 0h0m0.5-1.5h0m0.5 4.5h0m0.5-3.5h0m0 1.5h0m0.5 2h0m0.5-3.5h0m1.5-2h0m0 1h0m0.5 4.5h0m0-6h0m1 6h0m0-1h0m0-1h0m1 0.5h0m0-4h0m0 5.5h0m0-1h0m0.5-5h0m0.5 6h0m0.5-5h0m0.5 4.5h0m1-2h0m0-3h0m0 2.5h0m0.5-2h0m0 2h0m0-3h0m0.5 3h0m0-2h0m0 3h0m0.5-0.5h0m0 1.5h0m0.5-3.5h0m0.5 1.5h0m0 0.5h0m1.5-2.5h0m0.5-1h0m0 1h0m0.5-1h0m0.5 1h0m1.5-0.5h0m0 0.5h0m25.5 4h0m1 0h0m1.5-1.5h0m0.5 2.5h0m1-2.5h0m0.5 0h0m0 2h0m0.5-3h0m0-0.5h0m0-0.5h0m0-0.5h0m0-1h0m0.5 4h0m0-1h0m0.5-1h0m0.5 1h0m0.5 1h0m0.5-3.5h0m1 0.5h0m0 2.5h0m0.5 1.5h0m0-1h0m1-3.5h0m0 3.5h0m1 0.5h0m0-2h0m0.5 2.5h0m0.5-4.5h0m1 3.5h0m0-1h0m1-2h0m0.5 5h0m0-5.5h0m0 1.5h0m0.5-2h0m0.5 2.5h0m1 1h0m0-1h0m1-2.5h0m0 3h0m0-1.5h0m0.5 1.5h0m0-1.5h0m0.5 4.5h0m0.5-1h0m0-1.5h0m0-3.5h0m0.5 3h0m0 0.5h0m0-3.5h0m0.5 4h0m1-2.5h0m0.5-1h0m0.5 1h0m0.5 2h0m1 0h0m0.5 2h0m0-3h0m0.5 0h0m0 2.5h0m0-2h0m0-3h0m0.5 4.5h0m1-1.5h0m0-3h0m0.5 3h0m0 1h0m0-2h0m0.5-1.5h0m0 1.5h0m1-1h0m1 3h0m0-1.5h0m0.5-1h0m1-1h0m0 4.5h0m0.5-1h0m0.5-4h0m1 1.5h0m0.5-1.5h0m0 5.5h0m1.5-1h0m0-2.5h0m0 4h0m-105.5 0.5h0m1 1.5h0m3 2h0m1.5-3.5h0m0 1.5h0m0.5 1h0m0-2.5h0m0 1h0m0.5 1.5h0m0.5-0.5h0m0-0.5h0m0.5-0.5h0m0 0.5h0m0 0.5h0m1-2h0m2 0.5h0m0 1h0m1.5 0h0m0 1.5h0m0 0.5h0m0.5-1h0m1-0.5h0m0 1.5h0m0-3.5h0m0.5 2h0m0.5 2.5h0m0-3h0m0 2.5h0m0.5-0.5h0m0.5-2h0m0 3h0m2-4h0m1 0.5h0m0.5 2.5h0m0.5-3h0m1.5-0.5h0m1 3.5h0m6.5-3h0m0-0.5h0m1.5 0h0m5 0h0m0 0.5h0m30 3h0m1.5 1h0m2.5 0h0m1.5-0.5h0m1.5 1h0m0-1.5h0m0.5-0.5h0m0.5 0.5h0m0-2.5h0m0 2h0m0-1h0m1-0.5h0m0.5 0h0m0 3h0m0.5-0.5h0m0-3h0m0-0.5h0m0.5 1.5h0m0.5-0.5h0m0 0.5h0m0-2h0m0.5 0h0m0 4.5h0m1 0.5h0m0-2.5h0m0-1.5h0m1 1h0m0 2h0m0.5-3.5h0m0 4.5h0m0.5-2h0m0-2h0m0.5 4h0m0-2.5h0m1 2.5h0m0.5-2.5h0m0-0.5h0m0-0.5h0m1.5 1h0m0.5 1h0m0.5 0.5h0m0-3h0m0.5-1h0m0.5 3.5h0m0.5 1h0m0-0.5h0m0.5-1.5h0m0 0.5h0m0.5-0.5h0m0 2h0m1 0h0m0.5-0.5h0m0.5 0.5h0m0-1h0m0-3.5h0m0.5 2h0m0.5 2h0m0.5-2.5h0m0 1.5h0m0.5-2.5h0m0.5 0h0m0 4h0m0-4.5h0m0 4h0m0.5-1h0m0.5 0.5h0m0-1.5h0m0-2h0m1.5 5h0m0-1.5h0m0.5 1h0m0-2h0m1-2h0m1.5 0.5h0m1 2h0m0.5 1.5h0m0.5-1.5h0m0.5 2h0m0-3h0m0.5 1.5h0m2 0.5h0m0-2h0m0.5 1.5h0m0-1.5h0m1-1h0m1 3.5h0m0.5-0.5h0m-67.5 7h0m0.5 0.5h0m2 0h0m1.5 0h0m0-0.5h0m2.5 0.5h0m1-1h0m0.5 0h0m1.5 1h0m1-1.5h0m1 1h0m1 0.5h0m0.5 0h0m0-1h0m0.5-0.5h0m1 1.5h0m0.5-1.5h0m0.5-0.5h0m1 1h0m0 0.5h0m0-2h0m0.5 2.5h0m0.5 0h0m0-3h0m0.5 3h0m0.5-2h0m0.5 2h0m0.5 0h0m0-3h0m0.5 0h0m1 2.5h0m0.5-0.5h0m0.5-0.5h0m0.5 0.5h0m0-2.5h0m0-0.5h0m0.5 0.5h0m0.5 3.5h0m0-0.5h0m0-4h0m0.5 1.5h0m0-1.5h0m0 2.5h0m1 2h0m1-5h0m0.5 1.5h0m0.5 2.5h0m1-0.5h0m0-2h0m0 2.5h0m0-1.5h0m0.5-0.5h0m0-0.5h0m1 0.5h0m0-0.5h0m0-2h0m0 0.5h0m0.5 0h0m0 4h0m1.5-4.5h0m0 4h0m0.5-1.5h0m0 3h0m0-1h0m1.5 0.5h0m0.5-5.5h0m0.5 4h0m0-0.5h0m0.5-1h0m0 2h0m0.5 1h0m0-0.5h0m0.5-5h0m0.5 0h0m0 1.5h0m1-1h0m0 5.5h0m0-4.5h0m0.5-0.5h0m0 3h0m0.5-1h0m0.5 0.5h0m0.5 1.5h0m0 1h0m0.5-6h0m0 0.5h0m0.5 5.5h0m0.5-5h0m0 2h0m0-0.5h0m0 3h0m0.5-2.5h0m0 1h0m0.5 0.5h0m0.5 0.5h0m0 0.5h0m0.5-1h0m0-3.5h0m0 4h0m0.5-0.5h0m0.5 1.5h0m0.5-1h0m0-5h0m0 6h0m0.5-3.5h0m0-2.5h0m0.5 5.5h0m0-3h0m1-1h0m0.5 1h0m0.5 0h0m0 3h0m1-5.5h0m0.5 1h0m0 1h0m0.5 4h0m0-2h0m0.5 0h0m0.5 1.5h0m0.5 0.5h0m0-2h0m0.5 1.5h0m0-1.5h0m0-2.5h0m0 4.5h0m0-1.5h0m0-2h0m0.5 0.5h0m0.5 2h0m0-3h0m0 3.5h0m0.5-1.5h0m0-1.5h0m0.5 0.5h0m0 1h0m0-3h0m0-1h0m0.5 2h0m0-0.5h0m0.5 3h0m0-3h0m0.5 0h0m0.5-1.5h0m0.5 0h0m0 5.5h0m0-3h0m0.5-0.5h0m0 3.5h0m0 0.5h0m0-1.5h0m0.5-2h0m0-0.5h0m0.5 1.5h0m0 2.5h0m0-5h0m0 1.5h0m0.5 0h0m0.5 0h0m0.5 2h0m0-4.5h0m1 5h0m0-0.5h0m1-3h0m0 2.5h0m0 1h0m0.5 1h0m0-3h0m0-2.5h0m1 5h0m0.5-3.5h0m0.5 0.5h0m0-1.5h0m0.5 2h0m0 1.5h0m0-0.5h0m0.5-1.5h0m0-1.5h0m0.5-1h0m0 4.5h0m0.5-4h0m0.5 1h0m0 0.5h0m0.5-0.5h0m0.5-0.5h0m-72 10h0m0.5-0.5h0m0.5-0.5h0m2-2.5h0m0.5 3.5h0m0-0.5h0m0-2.5h0m0.5 0h0m0.5 0h0m0-1h0m1 4h0m0.5-4.5h0m0 1.5h0m0 0.5h0m0 1.5h0m0.5-0.5h0m0 1.5h0m0.5-1h0m0-1.5h0m0 3h0m0.5-1h0m0-3.5h0m0 2h0m0.5-2.5h0m0 1.5h0m0.5 1.5h0m0-1h0m0.5 1h0m0-1.5h0m0.5 1.5h0m0-2.5h0m0 2h0m0.5 0h0m0 2h0m0.5-2.5h0m0-0.5h0m0.5 2h0m1-3h0m0.5 4h0m0.5-2.5h0m0-1.5h0m0.5 0h0m0.5 3h0m0-2.5h0m0.5-1h0m0 0.5h0m0.5 0.5h0m0 1h0m0-1.5h0m0.5 4h0m0-1.5h0m0.5-1.5h0m0-0.5h0m0 1h0m0.5-1h0m0.5 4h0m0-3.5h0m0.5-1h0m0.5 4.5h0m0.5 0h0m0-5h0m0 1.5h0m0.5-1h0m0 3h0m0-3.5h0m0 3h0m0.5-0.5h0m0-0.5h0m0.5 1h0m0-2h0m0 1h0m0.5 1.5h0m0-1.5h0m0.5-1.5h0m0 1h0m0.5-1h0m0.5 3.5h0m0 1h0m0-2h0m1 1h0m0.5-4h0m0 3h0m0.5 1.5h0m0.5-3.5h0m0 2.5h0m0-0.5h0m0.5-1h0m0.5-1h0m0 1.5h0m0.5 1h0m0-1.5h0m0 3h0m0.5-1.5h0m0-1h0m0.5 1.5h0m0.5 1h0m0.5-5h0m0 0.5h0m0.5 4.5h0m0.5-4h0m1.5 3h0m0 1h0m0-4h0m0-1h0m1 0.5h0m0.5 0.5h0m0.5 2.5h0m1.5-1.5h0m1 0.5h0m0 1.5h0m0 1h0m0.5-1.5h0m0-2h0m2 3.5h0m1-5h0m0 4h0m0.5-2h0m0 2h0m0.5-2.5h0m0 3.5h0m0.5-3h0m0-0.5h0m1-1.5h0m0 3.5h0m0.5 1h0m0.5-2h0m0.5 1h0m0-2.5h0m1 1.5h0m0.5 1.5h0m0.5-0.5h0m0.5-1h0m0 0.5h0m1-0.5h0m0-2.5h0m1 3.5h0m0.5 1.5h0m0-2h0m0.5 0h0m0.5-1.5h0m0 1.5h0m1-1h0m0 2.5h0m0.5-3.5h0m0.5 1.5h0m0.5 2h0m0.5-4.5h0m0.5 2h0m0-2h0m0 0.5h0m0.5 4h0m0.5 0.5h0m0-2h0m0.5 1.5h0m0-1h0m0.5-0.5h0m0-0.5h0m0.5 1h0m0-3.5h0m0.5 0.5h0m0 4.5h0m0.5-4.5h0m0-0.5h0m1 3h0m0.5 0h0m1-1.5h0m1-0.5h0m0 0.5h0m0.5-1.5h0m0 0.5h0m1.5 1h0m0.5 0h0m0 0.5h0m0 2.5h0m1-4.5h0m0 1h0m0 3h0m0.5-3.5h0m0 2.5h0m0.5-0.5h0m0-2.5h0m1.5 0.5h0m0 2.5h0m1-2.5h0m3 0.5h0m-71.5 7h0m1 3.5h0m0.5-3.5h0m0.5-1.5h0m0 0.5h0m0 4.5h0m0.5-3.5h0m0.5-1.5h0m0 1h0m0.5 1.5h0m0 2.5h0m0-3h0m0.5 0h0m0 0.5h0m0 0.5h0m0.5-0.5h0m0.5-0.5h0m0-2.5h0m0 3h0m0.5 2h0m0-2h0m0-2h0m0 4.5h0m0.5-4.5h0m0-1.5h0m0.5 1.5h0m0-1.5h0m0.5 4h0m0 1.5h0m0.5-1.5h0m0.5-1.5h0m0 3h0m0.5-4h0m0.5 0.5h0m0 4h0m0.5-2h0m0.5-2h0m0-2h0m0.5 0.5h0m0.5 3.5h0m0 1.5h0m0-1h0m0.5-0.5h0m0-3h0m0 0.5h0m0.5 2.5h0m0-1.5h0m0 2h0m0 0.5h0m0.5-5h0m0 2.5h0m0-2h0m0 1h0m0.5 4.5h0m0.5-1.5h0m0.5-3h0m0.5 3.5h0m0-2.5h0m0.5 0h0m0 3.5h0m0.5-2h0m0-2.5h0m0 1h0m0.5 3.5h0m0.5 0h0m0-0.5h0m0-1.5h0m0.5 1.5h0m0-5.5h0m0.5 4.5h0m0.5-4h0m0 5.5h0m0.5-1.5h0m0-1h0m0-2h0m0.5 4h0m0-4h0m0.5 2.5h0m0.5-1.5h0m0 3h0m0-2.5h0m0 2h0m0.5-1.5h0m0.5-1.5h0m0-1.5h0m0 4h0m1.5 1h0m0.5-2h0m0.5 2h0m0-4h0m0 3h0m0 1.5h0m0.5-6h0m0 5h0m0-3.5h0m0 4.5h0m0.5-6h0m0.5 1.5h0m0-1h0m0.5 1h0m0-1h0m0 4h0m0-0.5h0m0.5 0h0m0-3.5h0m0 1.5h0m0.5 4h0m0.5-3.5h0m0.5 0h0m0.5-1h0m0 3.5h0m0.5-3h0m0-1.5h0m1.5 4.5h0m0.5 0.5h0m1-0.5h0m2-0.5h0m0.5-1.5h0m0 0.5h0m0-3h0m0.5 0h0m0.5 2.5h0m0 1h0m0.5-2.5h0m0.5 3.5h0m0.5-1h0m0.5 1.5h0m0.5-0.5h0m0-5h0m0 5.5h0m0.5 0.5h0m0-1.5h0m0-2h0m0 3h0m0-2.5h0m0.5 0.5h0m0-1h0m0.5-0.5h0m0-0.5h0m0.5 2.5h0m0-1h0m0.5 2.5h0m0.5-5h0m0.5 4.5h0m0-0.5h0m0.5-1h0m0 1.5h0m0 0.5h0m0.5 0h0m0-5h0m0 4.5h0m0.5-5h0m0 3.5h0m0-2.5h0m0.5 1.5h0m0 1h0m0.5 1.5h0m0-1h0m0-3.5h0m0.5 3.5h0m0-1.5h0m0.5 3.5h0m0-5.5h0m0.5 1h0m0.5 2.5h0m0.5 1.5h0m0.5-0.5h0m0-1h0m0.5 1h0m0-1h0m1-2.5h0m0 0.5h0m0 3h0m0.5-5h0m0.5 5.5h0m0-3h0m0-1.5h0m0 1h0m1-2h0m0 3h0m0 1.5h0m0-3h0m0.5 2h0m0.5 0.5h0m0.5 0h0m0 0.5h0m0.5 1h0m0.5-4h0m1-1.5h0m0.5 0.5h0m0.5 1h0m0 0.5h0m0.5-2h0m1 1.5h0m0.5 0.5h0m0.5 2h0m0 1h0m0-4h0m1.5 1h0m0 2h0m0.5-1.5h0m0.5-2h0m0.5 0.5h0m0.5-1h0m0 0.5h0m0 2h0m0.5-1.5h0m1 0h0m1.5-1h0m1.5 0h0m1.5 0.5h0m1 0h0m-66.5 8.5h0m1 1h0m0.5-2h0m1 2.5h0m0.5-1.5h0m0 1.5h0m0 0.5h0m0-1.5h0m0.5 2h0m0-2h0m0-2.5h0m0 3h0m0.5 0.5h0m0.5-1h0m1-1h0m0-1h0m0.5 0h0m0.5 1h0m1.5-1.5h0m1 4.5h0m0.5-4h0m0.5 2h0m1-0.5h0m0-2.5h0m1 2.5h0m0 1.5h0m0.5-4h0m0 4.5h0m0.5-2.5h0m0.5 0h0m0 2h0m0-1h0m0.5 1h0m0-3.5h0m0 1h0m0.5-1.5h0m1.5 2h0m0 0.5h0m0.5 2h0m0 0.5h0m0-1h0m0.5 0.5h0m0-2h0m0.5 0h0m0.5-1h0m0 2h0m0-3.5h0m0.5 2h0m0.5-2h0m0.5 4h0m0 1h0m0.5 0h0m0-4.5h0m0 3.5h0m0.5-0.5h0m0-3.5h0m0 4.5h0m0.5-4h0m0 3h0m0.5 1.5h0m1.5-2.5h0m0 1h0m0 0.5h0m0.5-2.5h0m0 1.5h0m0.5-3h0m0 1h0m0-0.5h0m0.5 4h0m0.5 0.5h0m0.5-4h0m0 2.5h0m0 1.5h0m0.5-4h0m0.5-0.5h0m0.5 3.5h0m0.5 1h0m0.5-1.5h0m0 1.5h0m0-5h0m0.5 0h0m0.5 1h0m0-1h0m0.5 4.5h0m1.5-2h0m0 2h0m0-4.5h0m0 0.5h0m1 2.5h0m0-3h0m0 5h0m1-4h0m0.5-0.5h0m1-0.5h0m1.5 3h0m1-2.5h0m0.5 0.5h0m0.5 1h0m0 2h0m0.5-1.5h0m0.5-1.5h0m0 1.5h0m0.5 0h0m0-1h0m0.5 0.5h0m0.5-2h0m0.5 2.5h0m0-1h0m0.5-1.5h0m0 4.5h0m0.5-4.5h0m0 0.5h0m0 2h0m0.5-2h0m0.5 2h0m0.5-1.5h0m0 3.5h0m0.5-3.5h0m2-1h0m1 2h0m0.5-2h0m0 0.5h0m1 0h0m1 1.5h0m3-2h0m0.5 0h0m0.5 2.5h0m0.5-2.5h0m2.5 0.5h0m-53 5.5h0m2 2h0m0.5 0h0m0.5-1.5h0m0 4h0m1-0.5h0m1-4h0m0.5 1h0m0-1.5h0m0.5 0h0m0 4h0m1-1.5h0m0.5-2.5h0m1.5 0h0m0 1h0m0.5 2h0m0-3h0m0 2.5h0m0.5-2h0m0.5 2.5h0m0.5-2.5h0m1-0.5h0m0 0.5h0m0.5 0.5h0m0 0.5h0m0.5 0.5h0m0.5-2h0m0.5 0h0m0 1h0m0 2h0m0 0.5h0m1-2.5h0m0 0.5h0m1-1.5h0m0.5 1h0m0.5 0h0m0.5 0h0m0 0.5h0m0.5-1h0m1 0h0m2 1.5h0m1.5-1.5h0m6.5 0h0m2.5 0h0m5.5 0h0" stroke="#42a9cd" stroke-width="1.5" stroke-linecap="round" fill="none"/>
<path d="M278.5 255h0m-10 4h0m0.5-3.5h0m3.5 1h0m1 3.5h0m6-1.5h0m0 0.5h0m0.5 0h0m0.5-1h0m1.5 0.5h0m0.5 1.5h0m0.5 0.5h0m1-0.5h0m1-1h0m1.5 0h0m2 1h0m2 0h0m0.5 0.5h0m0.5 0h0m21-0.5h0m2.5 0.5h0m2-0.5h0m0.5-1.5h0m1.5 0.5h0m2 1h0m1-2.5h0m0.5 0h0m0.5 3h0m1-1.5h0m-65 4.5h0m1 1.5h0m0-1.5h0m1 0.5h0m1-2h0m0.5 0.5h0m0.5-0.5h0m0 5h0m1-4.5h0m0-1h0m3 2h0m0.5 0h0m1.5-2h0m2 4h0m0-1.5h0m3 0h0m1.5-2h0m1 1h0m0-1.5h0m1 3h0m0-1.5h0m0.5 1h0m1 2.5h0m0.5-2h0m1.5-3.5h0m0.5 0.5h0m0 0.5h0m0.5 4.5h0m1-1.5h0m0-2.5h0m1 4.5h0m5-3.5h0m0-1.5h0m1 1.5h0m0.5-2.5h0m0 5h0m0.5-3h0m1-1.5h0m0 2h0m0 2.5h0m0.5-5h0m0.5 0h0m0.5 4h0m0.5 2h0m0.5-1h0m15 0h0m0-4.5h0m1 2.5h0m0 0.5h0m0.5 0h0m0.5-1.5h0m0-2h0m0 5h0m0.5-1.5h0m1-3h0m0 5.5h0m0-4.5h0m0.5 1.5h0m0-2.5h0m0 3h0m0 2.5h0m0.5-6h0m1 5.5h0m0-2.5h0m0.5-2h0m0 1h0m0.5 1h0m0-0.5h0m1 0h0m0 2h0m1 0h0m0-2h0m0.5-2h0m0 3.5h0m0 2h0m0.5-2h0m0 1h0m1-3.5h0m0-1.5h0m0 4.5h0m0.5 1.5h0m1-4.5h0m0 2.5h0m38-4h0m0.5 1h0m1-0.5h0m0 1.5h0m0.5 3h0m0-5h0m0 4h0m0-3.5h0m0.5 1.5h0m0.5 2h0m0 1h0m0-1.5h0m0.5 2.5h0m0-5h0m0 3.5h0m2-2h0m1 0h0m0.5 1h0m0 0.5h0m0.5-2.5h0m0.5 0h0m0 2h0m0-0.5h0m0 2.5h0m0.5-2h0m1 0h0m1 1.5h0m1-1h0m-118 6.5h0m0.5-2.5h0m1.5 3.5h0m1-3h0m1 3h0m0-3.5h0m0.5 2.5h0m1-3h0m0.5 4h0m0-3h0m0.5 1.5h0m0-3.5h0m0 3h0m2-1.5h0m2.5 3h0m0-3.5h0m0.5 4h0m2-1h0m0-3h0m0.5 3h0m0.5-1h0m1-0.5h0m0.5 2.5h0m0-0.5h0m2-1h0m4-2h0m0.5 1h0m0.5 2h0m1.5-1h0m1.5-3.5h0m1 3.5h0m0-1.5h0m2 1h0m1 2h0m0-0.5h0m1.5-3h0m0 1.5h0m2.5-1h0m0.5 1h0m3 0h0m2-2h0m0.5 1h0m0.5-1.5h0m0.5 0h0m1 4h0m0-3.5h0m0-0.5h0m2 2h0m3 0.5h0m2 2h0m1.5-2.5h0m9.5-2h0m3-0.5h0m3.5 0.5h0m2-0.5h0m1 0h0m3.5 4.5h0m35.5-4.5h0m1 5h0m2.5-3.5h0m1-0.5h0m-118 10.5h0m1.5-0.5h0m2 0h0m0-3.5h0m1-1h0m0 3.5h0m0-4.5h0m0.5 0.5h0m0 4h0m1 0.5h0m0.5-4h0m0-1h0m0.5 5h0m0.5-4h0m0 0.5h0m0.5 2.5h0m0.5-2h0m1 3h0m0.5-5h0m0 5h0m0-1h0m0 1.5h0m0.5-2.5h0m0.5-1.5h0m0-1.5h0m1.5 2.5h0m0.5 1h0m0-3.5h0m0.5 2h0m0 2.5h0m1.5-4h0m0 3.5h0m0.5 1.5h0m0.5-4h0m0.5 2.5h0m1-3.5h0m0.5 5h0m0-4.5h0m0.5 4h0m1 0h0m0-5h0m1.5 2h0m0 0.5h0m2 1.5h0m0 2h0m0-1h0m0.5-1.5h0m1.5-2h0m2.5-1.5h0m1 6h0m1 0h0m1.5-5.5h0m1 5h0m0.5-2.5h0m0.5-2.5h0m0 0.5h0m0.5 1.5h0m0-2.5h0m0.5 1.5h0m0.5 1.5h0m0 3h0m0-2h0m4-2h0m0.5-1h0m0.5 2h0m0 0.5h0m0.5 2.5h0m1-2h0m0.5-3h0m0.5 2.5h0m1-2h0m1 2h0m2-3h0m2.5 4.5h0m0.5-4h0m0.5 0.5h0m0 3.5h0m0.5-0.5h0m0 1.5h0m0-1h0m2.5-0.5h0m2 0.5h0m11.5-1.5h0m7.5 2.5h0m0.5-2.5h0m0 1h0m2 1h0m33-5.5h0m2.5 1h0m2 1.5h0m1.5-2h0m-119 9.5h0m2.5 1h0m0.5-2.5h0m1.5-0.5h0m2.5 0h0m1.5-1h0m0.5 1.5h0m1 2.5h0m0.5-4h0m2-0.5h0m1 1h0m0.5 0h0m1 1.5h0m0-2h0m0 0.5h0m1.5 2.5h0m0.5-1.5h0m0 3h0m0.5-0.5h0m0-0.5h0m0-3.5h0m0.5 1h0m0.5 0.5h0m1.5-2h0m0.5 1h0m1.5 1.5h0m0 2.5h0m1-3.5h0m0-1.5h0m0.5 5h0m1-3h0m0 1h0m0-1.5h0m2.5 3.5h0m2.5-2.5h0m2 2h0m1-2.5h0m4.5-1h0m5-0.5h0m0.5 2h0m1-2.5h0m0.5 0h0m0.5 4.5h0m0.5-1h0m0.5 0h0m1 1h0m1-3.5h0m0.5 0h0m1-1h0m0.5 4h0m0.5-1h0m1-3h0m0 5h0m1-4h0m0 3h0m0.5 0.5h0m0-2.5h0m0.5-0.5h0m0.5-1.5h0m0 3h0m2.5-0.5h0m0.5 0h0m0 2h0m0.5 0h0m1-2.5h0m1.5-0.5h0m0.5-1.5h0m0.5 1.5h0m0.5-0.5h0m5 1.5h0m2 0.5h0m0.5 0h0m8.5-1.5h0m-75 8.5h0m0.5-0.5h0m0.5 1h0m1-0.5h0m1.5-1h0m0-3.5h0m1 1h0m1.5 0.5h0m0.5 4.5h0m0.5-4.5h0m0.5-1.5h0m0 5h0m0.5-2.5h0m1.5 1.5h0m1 2h0m0.5 0h0m2.5-5.5h0m0.5 2h0m1-2h0m0.5 1.5h0m0.5 1h0m0-1h0m1 2h0m0.5-0.5h0m0.5-1h0m1 2h0m1-3.5h0m0.5 1h0m0 2h0m1-1.5h0m0 0.5h0m0.5 1h0m0-0.5h0m0 2h0m1-5h0m0 5.5h0m1-5.5h0m2-0.5h0m0 5.5h0m0.5-3h0m1-1.5h0m1.5 3h0m2.5-1h0m9 3h0m1-3h0m1-2.5h0m0.5 4h0m0.5-1h0m3 2.5h0m0-6h0m0.5 4h0m0-0.5h0m0.5-1.5h0m3 0.5h0m0 1.5h0m1-2h0m2-1h0m1 1.5h0m2.5 0h0m0-2.5h0m1 1.5h0m0 1.5h0m1 0h0m1-2h0m0.5 3.5h0m1.5-3h0m0.5 3.5h0m0.5-4.5h0m1 0.5h0m0.5 1h0m8 3h0m3.5-3.5h0m0.5 4.5h0m0.5 0h0m2.5-1.5h0m0.5-1.5h0m6.5 2.5h0m3 0.5h0m1.5-1h0m2.5 0.5h0m1.5 0h0m-98.5 3h0m3 1.5h0m0-1h0m0.5-1.5h0m0.5 0.5h0m0.5-1.5h0m0 0.5h0m0.5 2.5h0m0.5-1.5h0m0.5 0h0m0 2.5h0m0.5-0.5h0m0.5-1.5h0m1.5 0.5h0m0-2h0m1.5 1h0m0.5-1.5h0m0 0.5h0m0 3.5h0m0.5-2.5h0m0 1h0m0.5-1h0m1.5-1.5h0m1 4h0m0.5 0.5h0m0.5-1h0m0.5-2h0m0-1h0m1 0h0m0.5 2h0m1 2.5h0m0-1h0m0.5 1h0m0.5-2h0m1 2h0m1-2h0m0-2h0m1.5 4h0m0-2h0m0.5 0h0m0.5 0.5h0m1.5-3h0m0.5 0h0m0 1h0m0 3h0m2.5-1h0m1 1.5h0m0-1.5h0m1-3.5h0m0.5 4h0m0.5 0.5h0m0.5-0.5h0m1.5 0h0m2-2h0m0 2h0m0.5-2.5h0m0.5-0.5h0m0 2.5h0m3.5-2h0m1.5 1h0m0 1.5h0m1-1.5h0m2 2.5h0m0-2.5h0m0-2h0m0.5 3.5h0m1.5-2.5h0m0.5-0.5h0m0.5 0h0m0 3h0m1 0.5h0m0.5-4.5h0m1.5 0h0m0.5 2h0m0.5 2h0m0.5-2h0m0.5-1h0m0.5 3.5h0m5.5-4.5h0m1 4h0m1.5-3h0m0 2.5h0m1-1h0m1 0h0m0-2.5h0m0.5 2h0m1 2h0m0.5-1h0m1.5 0h0m0 1h0m1.5-1.5h0m1-1h0m0 1h0m0.5 2.5h0m1.5-3.5h0m3 1.5h0m1 0h0m1.5 2h0m1-3h0m1 0.5h0m2 2h0m0.5-2h0m0 2h0m0.5-3h0m0.5-1.5h0m2 1.5h0m1 2.5h0m0.5-3.5h0m0.5 4.5h0m0.5-3h0m0.5 0h0m1 0h0m1.5 0.5h0m0.5 1.5h0m0.5 0h0m0-1h0m0.5 2h0m2.5-1.5h0m0.5-2.5h0m2 1h0m0.5 1.5h0m1.5-1.5h0m1.5-1h0m1 4h0m0.5 0h0m2.5-1.5h0m6.5 0.5h0m0.5-1h0m1-2h0m0.5 0.5h0m2.5-0.5h0m0 1h0m-111.5 4.5h0m1 4h0m0-1h0m0.5-4h0m3.5 5h0m1.5-3h0m0 1h0m1 0.5h0m0-3h0m1 2.5h0m0.5-2h0m0 5h0m0-6h0m0.5 0.5h0m0 2.5h0m1 2h0m0-4h0m1 3.5h0m0.5-1h0m0.5 0.5h0m0 0.5h0m0.5-1.5h0m0.5 0.5h0m0.5 0.5h0m0.5-2.5h0m0.5 1.5h0m0-2h0m0.5 0.5h0m0.5 2h0m0-1.5h0m0-0.5h0m1.5 2h0m0-3.5h0m0 4h0m0.5-4h0m0 2h0m0 2h0m1.5-0.5h0m0.5-2.5h0m0.5 5h0m1-4h0m0 4h0m0.5-5h0m0.5-1h0m0 3h0m0.5-3h0m0 6h0m1-3.5h0m1.5-2h0m1.5 0h0m0.5 0.5h0m0.5 3h0m0-0.5h0m0-3.5h0m1.5 0h0m1 2.5h0m0 1h0m2-2h0m0 4h0m1.5-4h0m2 0h0m2.5 2h0m1-2h0m1.5 4h0m1-4.5h0m0 3.5h0m0-0.5h0m1-2h0m1 0.5h0m0.5-2.5h0m0 1.5h0m0.5-0.5h0m2 0h0m1 0.5h0m1 1h0m0.5 3h0m0-1.5h0m2.5-2.5h0m1.5 1h0m5 0h0m2-2.5h0m0 3h0m0.5-2.5h0m1.5-0.5h0m0.5 3h0m1-3h0m1 5h0m0.5-5h0m6 0.5h0m0.5 2.5h0m3.5-2.5h0m0 0.5h0m0.5 2h0m0-1.5h0m0.5-0.5h0m0.5 0.5h0m0.5 0h0m1 0h0m0.5 2h0m0-1.5h0m2-1.5h0m1.5-0.5h0m0 3.5h0m0 2.5h0m1.5-5.5h0m0.5 4.5h0m0-2h0m1-1h0m2.5 1.5h0m0 2.5h0m1.5-3.5h0m0.5 0h0m0.5-2.5h0m0 6h0m0.5-0.5h0m1 0h0m2-1.5h0m1 1h0m1-1.5h0m0.5-2.5h0m0 4.5h0m1-2h0m0.5-3.5h0m1.5 1h0m1 2.5h0m0-1h0m1-2.5h0m0.5 4.5h0m2.5-1.5h0m1.5 0.5h0m3.5-0.5h0m52 2.5h0m-162.5 4.5h0m3.5-1h0m0.5-1.5h0m0-1h0m0.5 0h0m3.5 0.5h0m1 2.5h0m0 2h0m1.5-4.5h0m0 1h0m0 3h0m0-1.5h0m0-1h0m0.5 2.5h0m1-2.5h0m0.5-1.5h0m0 1h0m1 1h0m1.5 1h0m0 0.5h0m1-1.5h0m0-0.5h0m0.5-0.5h0m1.5 2.5h0m0.5-4h0m0 2.5h0m0.5-1h0m0.5-1.5h0m0 2h0m0.5-2h0m1 0h0m0 4h0m0-3h0m1-1h0m0 3h0m0.5-2h0m2 4h0m1-5h0m0.5 0h0m0 2.5h0m0.5-1.5h0m1.5 2.5h0m4.5-1.5h0m1 3h0m0.5-2.5h0m0 2h0m2-3.5h0m2 2h0m0.5-2.5h0m0-0.5h0m1 1.5h0m0 3.5h0m0.5-2.5h0m0.5 2.5h0m0.5-5h0m1.5 1.5h0m2 0.5h0m0.5-1h0m1 1h0m0.5 1h0m1 2h0m0-5h0m0.5 3.5h0m2.5-3h0m4.5 3h0m2-1.5h0m1.5 2.5h0m3-4h0m0.5 0.5h0m1-0.5h0m6.5 0.5h0m4 3.5h0m1.5-2h0m0 0.5h0m0-2.5h0m1 1h0m1.5-1.5h0m1.5 3.5h0m0-2.5h0m1 1h0m0.5-2h0m0.5 2h0m2 3h0m0-4.5h0m1.5 0h0m0.5 1.5h0m6 2.5h0m0.5 0h0m1.5-2h0m0.5-0.5h0m0.5 1.5h0m1-3.5h0m1 0h0m0.5 2.5h0m0.5-2.5h0m0.5 4.5h0m1 0.5h0m0.5-5h0m0 4.5h0m0.5 0.5h0m0.5-4.5h0m0 1h0m0.5 1h0m0 2.5h0m29.5 0h0m2-1.5h0m33-0.5h0m-162.5 4.5h0m0.5 0.5h0m0.5-2h0m0.5 4h0m0-2.5h0m0 3.5h0m0.5-5h0m1.5 0h0m0 3h0m0 2h0m1-3h0m1.5 2.5h0m0-4.5h0m0 2.5h0m1 0h0m1.5 1h0m0.5 1h0m0 1h0m0.5-5.5h0m0.5 4.5h0m0.5-2h0m0.5 1h0m1-0.5h0m0.5 2h0m0.5-5.5h0m1 5.5h0m0 0.5h0m0.5-2h0m0 1h0m0.5-3h0m0 3.5h0m0-1h0m0 0.5h0m0.5-5h0m0 3h0m1-2.5h0m0 1.5h0m1 0.5h0m0 1.5h0m1.5-1.5h0m1.5-2h0m3.5 1.5h0m0.5 4h0m0.5-3h0m1 0h0m1-1.5h0m2 3.5h0m1.5-1.5h0m4.5-2h0m1 1.5h0m1 2h0m2 0h0m0.5 1h0m1.5-3.5h0m0.5-0.5h0m1.5 3.5h0m3 0h0m1 0.5h0m2.5-2h0m0.5-2h0m1 1.5h0m1-1h0m3 1h0m0.5 2.5h0m1-0.5h0m0-3h0m1 2.5h0m0.5 1h0m1-1h0m0 1h0m1-5.5h0m9-0.5h0m3 5.5h0m1.5-5h0m2-0.5h0m1.5 0.5h0m5.5 5h0m1 0.5h0m1-2h0m0 0.5h0m1.5-1h0m0.5 2.5h0m0.5-6h0m1 1.5h0m0.5-1h0m1 1.5h0m0.5 1.5h0m1-1h0m0.5 3h0m1-5.5h0m1 2.5h0m1 0.5h0m0-0.5h0m0.5 3h0m0 0.5h0m0-6h0m0.5 0.5h0m0 3.5h0m0 0.5h0m0-4.5h0m1.5 6h0m0.5-1.5h0m0.5 1h0m1 0.5h0m0.5-2.5h0m1-0.5h0m0 1h0m1.5-2.5h0m12 1.5h0m-113.5 4h0m0.5 3h0m0 1h0m0.5-3h0m0-1.5h0m1.5 5h0m1-2h0m0.5-3h0m0.5 3h0m0-2.5h0m0.5 4h0m0-2.5h0m0-2h0m1.5 2h0m0.5-0.5h0m0-1.5h0m0 0.5h0m0.5 2h0m1 0h0m0.5-2.5h0m1 2h0m0-1h0m0 3h0m0.5-3.5h0m0.5 1h0m0 3h0m1 0h0m1.5-4h0m0.5 1h0m0.5 2h0m1-3.5h0m12.5 4h0m0.5-2.5h0m2 0h0m0.5 3h0m0.5 0h0m2-4h0m0 3h0m2.5-1h0m1 1h0m1.5-1.5h0m1 0h0m0 0.5h0m3.5-1.5h0m4.5 3.5h0m1.5-1.5h0m0.5-1h0m2.5 0.5h0m0.5 0h0m0.5 0.5h0m0.5 0h0m0.5-1.5h0m6 1h0m13.5-1.5h0m2.5 0h0m8.5 3.5h0m0.5-4h0m4 3.5h0m3-2h0m0 1h0m0.5-2h0m4-0.5h0m2 4.5h0m0.5-1.5h0m2.5-2h0m-100 5.5h0m1 1.5h0m1.5 0.5h0m3.5 0h0m1 0h0m3 1.5h0m5-5h0m9 1h0m0.5-1h0m1 5.5h0m0-0.5h0m3 0h0m1-3h0m0 4h0m0.5-6h0m0.5 0.5h0m0.5 3h0m0-2h0m1.5-1h0m0.5 3h0m0.5 0.5h0m0-1h0m0-2.5h0m0.5 3h0m0 1.5h0m0 1h0m1-6h0m2.5 1h0m2 0.5h0m0.5-1.5h0m1 3h0m0.5-1h0m0 2.5h0m2.5-0.5h0m0.5-1.5h0m0.5-0.5h0m1 3.5h0m0.5-1h0m2 1h0m0.5-0.5h0m1 1h0m2-2.5h0m0-0.5h0m2 0.5h0m0-3h0m2 1h0m0 1.5h0m1-2h0m16.5 1h0m0 4h0m3-3h0m1-2h0m0 3.5h0m0.5-4h0m0.5 4h0m0.5-0.5h0m0-2h0m4 1.5h0m2-3h0m3-0.5h0m3.5 4h0m1 1.5h0m2-4h0m0.5 1h0m-67 5h0m1.5 1.5h0m1-1.5h0m0-1h0m1 0h0m0 5h0m1-3h0m0 1.5h0m0.5 1.5h0m0-4.5h0m0.5 0h0m0 3h0m0.5-1h0m0-1h0m1.5 0h0m1.5 3.5h0m5-2h0m0 1.5h0m1.5-3h0m0 2.5h0m1.5-0.5h0m1.5-2h0m1 2h0m0.5-2.5h0m0-1h0m0 0.5h0m0.5 3.5h0m4-4h0m1 4h0m13.5 1h0m5.5-5h0m3 4h0m5-1.5h0m5-2h0m0.5 2.5h0m3.5 2h0m3-2h0m12 0.5h0m9 0.5h0m20.5 0h0m-129.5 7h0m3.5 0h0m6-0.5h0m1-1h0m1-0.5h0m1.5 2.5h0m1-1h0m0.5 0.5h0m0.5-1h0m0-1.5h0m1 1h0m1 0h0m1 0h0m1.5 2h0m0.5-1.5h0m2 1h0m0-1.5h0m2-3h0m0 2.5h0m0.5-2.5h0m0 2h0m1 0.5h0m0.5 1h0m2-0.5h0m0 0.5h0m0.5-3h0m0.5-1.5h0m0 4.5h0m4.5-4.5h0m1 1.5h0m1.5 4h0m0.5-4h0m0 1h0m2.5-2.5h0m0.5 6h0m0.5-3.5h0m3 1h0m4-1h0m0.5 0h0m8.5-0.5h0m2.5-1h0m2.5 4.5h0m0.5 0h0m1-0.5h0m1.5-5h0m1 5.5h0m4-1h0m2.5 1h0m-65.5 1h0m0.5 3.5h0m0.5 0.5h0m0.5-2.5h0m0 3.5h0m0.5 0h0m4 0h0m1-3h0m0.5-0.5h0m0-1h0m1 2.5h0m0.5-1.5h0m0 2h0m0-3.5h0m1 1h0m0.5 4h0m0-3h0m0 2.5h0m0.5-0.5h0m0-0.5h0m0.5-0.5h0m0.5-0.5h0m0 1h0m1-1.5h0m0-1h0m0 1.5h0m0.5 1h0m0-1.5h0m0 3h0m0.5-5h0m0 2.5h0m0 0.5h0m0-1.5h0m0 3h0m1-2h0m0.5-1h0m0.5 1.5h0m1.5-1.5h0m0 1h0m1 1h0m2 1h0m1-2h0m0.5 0h0m0-2.5h0m1.5 5h0m0.5-0.5h0m1.5-1h0m0.5-3h0m0 0.5h0m0.5-1h0m2 4.5h0m0.5-0.5h0m0 1h0m6.5-5h0m2 1.5h0m0.5-0.5h0m0.5 3h0m1.5 0.5h0m10-3h0m2.5 0.5h0m3.5 1.5h0m0-3h0m2 0.5h0m0.5-1h0m0.5 4h0m1.5 0.5h0m4.5-3.5h0m0.5 2h0m0-0.5h0m8.5 2h0m24.5-4.5h0m-95 8h0m1-2h0m0 2.5h0m0.5-1h0m1.5 1.5h0m3-2.5h0m1 0h0m0.5-1h0m2 1h0m0 1.5h0m0-1h0m1.5-1.5h0m0 0.5h0m1.5 4h0m0.5-1h0m0.5-0.5h0m1-2.5h0m1 3h0m0.5-2h0m1.5 4.5h0m0.5-2.5h0m0.5-1h0m0 1.5h0m0.5-1h0m2-3h0m0.5 5h0m0-1h0m1.5-1.5h0m1-1h0m0.5 2h0m1-0.5h0m0 2.5h0m2-5h0m0.5-0.5h0m0.5 1h0m6.5 0h0m1.5-0.5h0m0 2h0m0 2h0m0 1.5h0m0-2h0m0-4h0m1 2.5h0m0.5 0h0m2.5 1h0m0 2.5h0m1-6h0m1.5 4.5h0m0.5 0h0m2 1.5h0m2.5-0.5h0m0.5-1h0m0 1h0m0-3h0m1.5-0.5h0m0 3h0m0.5-4h0m0.5-0.5h0m2 5h0m3.5-4h0m4.5 3h0m3-1.5h0m0-2h0m2.5 3.5h0m2-0.5h0m2.5 1h0m1-1.5h0m0.5-0.5h0m20 1h0m7-0.5h0m2 1h0m5.5-1h0m0.5 0h0m6.5 1h0m-101.5 3h0m4.5 0h0m2 0h0m1-1h0m0.5 4h0m1 1h0m0-1.5h0m0-3h0m1.5 3.5h0m2 0.5h0m1.5-1h0m1 1h0m0-4.5h0m3 1h0m0 0.5h0m0 2.5h0m1 1h0m1-1.5h0m0.5-1h0m1-2h0m1 0.5h0m1 2h0m0-2h0m1 2.5h0m0.5 1.5h0m2.5-1h0m2 0h0m0.5-3.5h0m1.5 1h0m1-1.5h0m1 2.5h0m0.5 2.5h0m2.5-1h0m1-3h0m1-0.5h0m1 3.5h0m2.5 0h0m1.5-3.5h0m1 2.5h0m1-2h0m50.5-1h0m9 0.5h0m2 3.5h0m4.5 0.5h0m-112.5 1.5h0m3 0.5h0m1 0h0m0 3h0m3-1h0m0.5-1.5h0m2 2.5h0m1-1h0m1-2h0m3.5 4.5h0m0-2h0m0-0.5h0m1.5 2.5h0m0-2.5h0m0-2h0m2 4.5h0m1-5.5h0m0.5 5.5h0m1.5-0.5h0m0.5-4.5h0m1.5 5.5h0m1-1h0m0.5-1h0m4.5-2.5h0m1.5 4.5h0m0.5-2h0m0-0.5h0m0 1h0m1-1.5h0m0-2.5h0m0 0.5h0m2 3h0m0-4h0m0 1h0m0.5 0h0m0 3.5h0m0.5 0h0m1.5-4h0m0.5-0.5h0m0.5 4.5h0m0-4h0m0.5 1.5h0m0.5 3.5h0m0.5-1.5h0m0 2h0m0.5-1.5h0m0.5 0h0m0-4h0m0 1.5h0m0.5-2h0m0.5 3h0m0.5-0.5h0m5.5-0.5h0m5-1h0m33 3.5h0m3.5-0.5h0m-77 3.5h0m0.5 2h0m4.5-0.5h0m2.5 1.5h0m3-2.5h0m0.5 3h0m2-3h0m0.5 3h0m0.5-1h0m1 0.5h0m2-2h0m5.5-0.5h0m1-1.5h0m1 2h0m0.5-1.5h0m0 0.5h0m2.5-1h0m0 0.5h0m1 0h0m37 4h0m17 7h0m-45.5 0.5h0m11 1.5h0m22.5-1h0m-8 9.5h0m2-0.5h0m-16 2.5h0m4 2.5h0m6.5 5h0" stroke="#e07b78" stroke-width="1.5" stroke-linecap="round" fill="none"/>
<path d="M360 326h0m0.5-1.5h0m-6.5 3h0m2 2h0m1 1h0m1.5 1h0m3-1h0m0.5-1.5h0m-11.5 8.5h0m1-1h0m1-1h0m0.5 3.5h0m0-2h0m0.5 0h0m2-0.5h0m2.5 1h0m1 1.5h0m1-1h0m0 0.5h0m1-4h0m0.5 1h0" stroke="#cdd1d6" stroke-width="1.5" stroke-linecap="round" fill="none"/>
<path d="M350.8 245.3 L344.7 253.1" stroke="#42a9cd" stroke-width="1.4"/>
<circle cx="345.5" cy="252" r="1" fill="#e07b78"/>
<circle cx="366.2" cy="401.3" r="2.5" fill="#e07b78"/>
<text x="375.8" y="404.2" font-size="9" fill="#0a0a0a" stroke="#0a0a0a" stroke-width="0.22">aneuploid</text>
<circle cx="366.2" cy="412" r="2.5" fill="#42a9cd"/>
<text x="375.8" y="414.9" font-size="9" fill="#0a0a0a" stroke="#0a0a0a" stroke-width="0.22">diploid</text>
<circle cx="366.2" cy="423.7" r="2.5" fill="#cdd1d6"/>
<text x="375.8" y="426.6" font-size="9" fill="#0a0a0a" stroke="#0a0a0a" stroke-width="0.22">undefined</text>
<path d="M250.8 368.8 V404.8 H287.6" stroke="#1a1a1a" stroke-width="1" fill="none"/>
<path d="M250.8 364.8 l-2.2 5h4.4z" fill="#1a1a1a"/>
<path d="M291.6 404.8 l-5 -2.2v4.4z" fill="#1a1a1a"/>
<text x="250.8" y="417.8" font-size="8.6" fill="#0a0a0a" font-weight="bold">t−SNE1</text>
<text x="0" y="0" transform="translate(245.2 389.5) rotate(-90)" font-size="8.6" fill="#0a0a0a" text-anchor="middle" font-weight="bold">t−SNE2</text>
<path d="M479 245.2C481.2 244 485.1 243.8 489.2 243.8C493.3 243.8 500.4 243.5 503.8 245.2C507.2 246.9 507.7 251.8 509.6 254C511.6 256.2 513.5 258.9 515.5 258.4C517.5 257.9 519.1 253.4 521.3 251C523.5 248.6 526.2 245.2 528.6 243.8C531 242.4 533.5 241.6 535.9 242.3C538.3 243 541.7 244.4 543.2 248.1C544.7 251.8 544.9 259.1 544.7 264.2C544.5 269.3 541.3 275.6 541.8 278.8C542.3 282 544.9 282.7 547.6 283.2C550.3 283.7 554.9 281.9 557.8 281.7C560.7 281.5 563.5 280.9 565 282C566.5 283.1 567.8 285.7 567 288C566.2 290.3 562.3 292.7 560 296C557.7 299.3 555 303.1 553.4 308C551.8 312.9 551.5 320.1 550.5 325.5C549.5 330.9 549.1 335.7 547.6 340.1C546.1 344.5 544.7 347.9 541.8 351.8C538.9 355.7 534 361.1 530.1 363.5C526.2 365.9 522.8 366.4 518.4 366.4C514 366.4 507.9 365.9 503.8 363.5C499.7 361.1 496.3 355.7 493.6 351.8C490.9 347.9 490.4 343.8 487.7 340.1C485 336.5 480.4 333.8 477.5 329.9C474.6 326 471.6 321.7 470.2 316.8C468.8 311.9 469.5 306.3 468.8 300.7C468.1 295.1 465.8 288.3 465.8 283.2C465.8 278.1 467.3 273.9 468.8 270C470.3 266.1 473.4 263 474.6 259.8C475.8 256.6 475.4 253.4 476.1 251C476.8 248.6 476.8 246.4 479 245.2Z" fill="#e87c50" fill-opacity="0.18"/>
<path d="M558.2 321.9C560.2 320.7 564.8 319.2 568.4 319C572 318.8 576.5 319.7 580.1 320.4C583.8 321.1 587.6 321.9 590.3 323.4C593 324.9 595.2 326.3 596.1 329.2C597 332.1 596.1 337.7 595.4 340.9C594.7 344.1 592 345.8 591.8 348.2C591.5 350.6 593.4 352.3 593.9 355.5C594.4 358.7 595.6 364.5 594.7 367.2C593.9 369.9 590.3 369.6 588.8 371.5C587.3 373.4 587.3 376.4 585.9 378.8C584.5 381.2 582.5 384.4 580.1 386.1C577.7 387.8 574.7 388.1 571.3 389.1C567.9 390.1 563.5 391.8 559.6 392C555.7 392.2 551.4 389.3 548 390.5C544.6 391.7 542.1 397.6 539.2 399.3C536.3 401 532.8 402.2 530.4 400.7C528 399.2 525.6 393.6 524.6 390.5C523.6 387.4 523.4 384.7 524.6 381.8C525.8 378.9 528.7 375.2 531.9 373C535.1 370.8 539.2 370.1 543.6 368.6C548 367.1 555 366.4 558.2 364.2C561.4 362 562.1 358.9 562.6 355.5C563.1 352.1 561.8 347.4 561.1 343.8C560.4 340.2 558.9 336.5 558.2 333.6C557.5 330.7 556.7 328.2 556.7 326.3C556.7 324.4 556.2 323.1 558.2 321.9Z" fill="#60c4c0" fill-opacity="0.18"/>
<path d="M564 248C565.3 246 569.3 245.8 572 246C574.7 246.2 578.7 247.3 580 249C581.3 250.7 581 253.8 580 256C579 258.2 576 260.5 574 262C572 263.5 569.7 265.7 568 265C566.3 264.3 564.7 260.8 564 258C563.3 255.2 562.7 250 564 248Z" fill="#ecb878" fill-opacity="0.18"/>
<path d="M599 285C599.7 282.2 602.2 282.7 604 283.5C605.8 284.3 608.7 287.8 610 290C611.3 292.2 612.7 294.8 612 297C611.3 299.2 608 302.5 606 303C604 303.5 601.2 303 600 300C598.8 297 598.3 287.8 599 285Z" fill="#f0d088" fill-opacity="0.18"/>
<path d="M564 300C565.3 298 568.7 295.9 572 295C575.3 294.1 581.7 293.8 584 294.6C586.3 295.4 586.7 297.8 586 300C585.3 302.2 582.7 306.2 580 308C577.3 309.8 572.7 311.2 570 311C567.3 310.8 565 308.8 564 307C563 305.2 562.7 302 564 300Z" fill="#ecb070" fill-opacity="0.18"/>
<path d="M486 248.5h0m-9.5 6.5h0m6.5-1h0m53-3h0m35.5 2h0m5-3.5h0m1 1h0m-96.5 11h0m3 5.5h0m36-5h0m7.5 4h0m-52 2.5h0m54.5 3h0m-61 9h0m14.5 3h0m13.5-2.5h0m6 2h0m17 1h0m2-2h0m3 0h0m15.5-1.5h0m3.5 3.5h0m-77.5 3.5h0m11.5 3.5h0m7-1h0m29.5 0.5h0m3.5-2h0m5 0h0m17.5-2.5h0m0.5 2.5h0m0.5-2h0m4.5 1.5h0m17 1h0m-89.5 6h0m8 0h0m10-0.5h0m23.5 0.5h0m1.5 1h0m1-4h0m30.5 1.5h0m4.5 2.5h0m0.5-2.5h0m4.5 1h0m2-1.5h0m-74 8.5h0m3 1.5h0m19.5-5h0m12.5 0.5h0m2 4h0m0.5-5h0m2 1.5h0m16-1.5h0m8.5 2.5h0m3.5 1.5h0m-72.5 3.5h0m13.5 3h0m5.5-3h0m11 2.5h0m1 1h0m9-0.5h0m2-1.5h0m11 2h0m0-2h0m-58 8h0m30.5-1h0m2.5 1h0m8-2.5h0m6.5-3h0m4.5 2.5h0m5 1.5h0m-58.5 7.5h0m6-2.5h0m16-2h0m0.5 0h0m2.5 4.5h0m2-2h0m0.5 1.5h0m8.5-1h0m2.5-2.5h0m3 1h0m1 0h0m6 1.5h0m1.5-2h0m2.5-0.5h0m-45.5 4.5h0m1 1h0m25.5-1h0m6.5 5.5h0m5.5-2.5h0m14 1h0m3.5 1h0m-30.5 5.5h0m16.5-4h0m11.5 3h0m-44 3h0m4.5 2.5h0m4 3h0m9.5-4h0m0 3.5h0m2.5-4.5h0m10.5 3h0m12 1.5h0m-44 4.5h0m3.5-1.5h0m13.5 1h0m21 2h0m11.5-0.5h0m0.5-0.5h0m4.5-2.5h0m-51.5 7.5h0m9-3h0m10 2.5h0m1-1h0m2.5 2h0m13 1.5h0m0-4.5h0m-16.5 7h0m12.5-1.5h0m0.5 1.5h0m6.5 2.5h0m-12.5 3.5h0m9 0h0m5.5-0.5h0m1-0.5h0m-14.5 6.5h0m0.5 0.5h0m0-1h0m0.5 0h0m2.5 1h0m3.5 0.5h0" stroke="#e66e5a" stroke-width="2.3" stroke-linecap="round" fill="none"/>
<path d="M488 241.5h0m-10.5 7h0m95-1h0m3-3h0m-8 7.5h0m2.5 1h0m4.5 2h0m2-1.5h0m1.5-1.5h0m0.5 1h0m1-2.5h0m0.5 3.5h0m-103 6.5h0m9-5h0m91 0h0m-66 6h0m-42 7.5h0m12 0h0m18.5 0.5h0m23.5-2h0m-42 10h0m7 1.5h0m45.5-3.5h0m6.5 1.5h0m2.5 0h0m-73.5 5h0m4.5-2.5h0m1.5 5h0m5-3h0m42-1.5h0m7 0h0m6 4.5h0m1.5-3.5h0m3.5 0.5h0m0.5 0h0m0 0.5h0m14 1.5h0m-86 7.5h0m5-2h0m3.5 0h0m1.5-0.5h0m7 2h0m33.5-4h0m8.5 3.5h0m2.5 1h0m1.5-5.5h0m0 5.5h0m4.5-1h0m5-5h0m6 4h0m1-2.5h0m3.5 1.5h0m3-1.5h0m1.5 1h0m3 0h0m5 2h0m-92.5 4.5h0m12 2h0m3-1.5h0m10.5 1h0m12.5-3h0m9-0.5h0m8 1.5h0m1 2.5h0m7-3.5h0m4 1h0m3.5-0.5h0m8.5 1h0m2.5 1h0m9-1h0m12 1h0m-106 6.5h0m0.5-3h0m1.5 2h0m7.5-1.5h0m8 4h0m3.5-4.5h0m9-1h0m3.5 4h0m1-4.5h0m3.5 3h0m0-1h0m1.5 1h0m14-0.5h0m6.5-2.5h0m18.5 0h0m7 3h0m2.5-2h0m49.5 2.5h0m1-2h0m-137.5 8h0m3.5-2.5h0m0.5 0.5h0m2 1h0m25 1.5h0m8-2.5h0m1.5 2h0m1 0.5h0m2-1.5h0m15 1h0m1.5-0.5h0m7-0.5h0m10.5 1.5h0m0-2.5h0m7 1h0m1.5-1h0m-85 7.5h0m1 0.5h0m0.5-2h0m1.5 3h0m3 1.5h0m2-0.5h0m1-0.5h0m0-4h0m5.5 5h0m4.5-4.5h0m19.5 4h0m0.5-5h0m0.5 2.5h0m16.5-2h0m2 5h0m4-3.5h0m5.5 0.5h0m-52 4.5h0m3.5 1h0m3.5 3h0m5.5 0h0m5-0.5h0m2.5-3.5h0m14.5 2h0m0.5 1h0m1-1h0m3 1.5h0m11.5 0.5h0m-60 0.5h0m14 0.5h0m2.5 1h0m1 3h0m1 0.5h0m0.5 0.5h0m9.5-5.5h0m3.5 1.5h0m1 0h0m1 4.5h0m5-1h0m0-5h0m2.5 2h0m17-1.5h0m-52.5 6h0m1 1.5h0m6 2.5h0m3-2.5h0m12-0.5h0m1 4h0m6-1.5h0m4.5-1.5h0m1.5-1h0m0.5 2h0m12 1.5h0m-39 1.5h0m2 3.5h0m4.5-2.5h0m0-0.5h0m0 0h0m1 3h0m2.5-0.5h0m0.5-3.5h0m0.5 0.5h0m1 2h0m1.5 2h0m1.5-3h0m0 3h0m9.5-0.5h0m16-2.5h0m2.5 4.5h0m1-5h0m9 1.5h0m-47 5h0m2.5 2h0m7 1.5h0m2-4.5h0m3.5 3h0m0.5-2h0m3 4h0m4.5-4h0m4 0.5h0m-33 4h0m6.5 4h0m1.5-0.5h0m9 2.5h0m1-5.5h0m1 5h0m2 0h0m2.5-0.5h0m4.5-1h0m0.5 2h0m0-2.5h0m2 1.5h0m2.5-4h0m2.5 4.5h0m3-2.5h0m3.5 2h0m1.5-5h0m4.5 0h0m3 0.5h0m-44.5 9.5h0m5.5-0.5h0m3 0h0m0.5 1.5h0m1-3h0m2.5-1h0m4.5 0.5h0m0.5 4h0m0.5 0h0m2.5-1.5h0m1.5 0h0m0.5-1.5h0m7-1h0m4 0.5h0m2-0.5h0m3.5 0.5h0m-36 5.5h0m6 4h0m1.5-5h0m1 2.5h0m4.5 1h0m11-4h0m1.5 1.5h0m3 2.5h0m3.5-3h0m-13.5 6.5h0m2.5 1.5h0" stroke="#dc5a64" stroke-width="2.3" stroke-linecap="round" fill="none"/>
<path d="M528 245h0m43 2h0m0.5 1.5h0m0.5 0h0m6 0.5h0m-61.5 9.5h0m-26.5 5h0m12-2h0m-33 8.5h0m2 0h0m11-2h0m1 3h0m3.5-2.5h0m9 3h0m0.5-2.5h0m41 1.5h0m-66.5 4.5h0m13.5 2.5h0m14-0.5h0m-21.5 5.5h0m1.5 2h0m2-0.5h0m11.5-4.5h0m0.5 1.5h0m23 2h0m1.5 0h0m11-0.5h0m12-2.5h0m-67.5 5.5h0m1 2.5h0m11-1h0m11.5-0.5h0m6.5-1.5h0m2 1.5h0m12.5 0.5h0m2.5 3h0m20-3h0m7 2.5h0m-67.5 3.5h0m5.5 3.5h0m38-1.5h0m1-3.5h0m16.5 4.5h0m5-4h0m15 0.5h0m0 1.5h0m22 1h0m1.5 0h0m27 0.5h0m-134.5 5.5h0m6.5-2.5h0m7.5 4h0m6 0h0m4-4.5h0m1-0.5h0m5.5 0.5h0m12 3.5h0m16 1.5h0m9-3.5h0m12.5-1h0m0.5 2h0m16 1.5h0m-93 4h0m4-1.5h0m2 3.5h0m17.5-3h0m4 3h0m3-1h0m10.5 0.5h0m21-3h0m6.5-1h0m1 0h0m-67.5 7h0m17.5 1h0m8-2h0m12 4h0m4 0.5h0m1.5-3h0m4 2h0m8.5-1.5h0m9.5 2.5h0m-75 3h0m8.5 3.5h0m23-0.5h0m4 0.5h0m21.5-4.5h0m-22.5 7h0m10-0.5h0m34 0h0m0 1h0m-57.5 4.5h0m23.5 2.5h0m22 0.5h0m-46.5 7.5h0m1-5h0m7 1h0m15-0.5h0m17.5 4h0m1-2h0m12 3h0m3-3.5h0m-21.5 9h0m6-1.5h0m-31 7h0m31-2h0m-29 4h0m11 2h0m12 2.5h0m-17 2.5h0m9.5 1h0m5-3h0m-10.5 8.5h0m6.5-2h0" stroke="#e66e50" stroke-width="2.3" stroke-linecap="round" fill="none"/>
<path d="M478 248.5h0m13-1.5h0m4.5-3.5h0m2 1.5h0m0.5 0h0m35 0.5h0m1.5 3h0m1-1h0m-58 6h0m17-4h0m5 4h0m10.5 1h0m10-5h0m6 2h0m0.5 2.5h0m1-4.5h0m6.5 0.5h0m-57.5 10.5h0m10.5 0h0m15.5-2h0m9-1h0m6-0.5h0m0.5 2h0m1.5-3h0m3-0.5h0m-40.5 8.5h0m11.5 2h0m2-5h0m3.5 1.5h0m7 1.5h0m10.5 2.5h0m3.5-4h0m4.5 3.5h0m3.5-4.5h0m0.5 4.5h0m4.5-0.5h0m3 1h0m-60 5h0m17 1h0m0-2h0m8.5 1h0m12-1.5h0m9.5 2.5h0m4.5-3h0m10 2h0m-38.5 2h0m1.5 2h0m14.5-2h0m-31.5 7.5h0m0.5-0.5h0m3 0h0m2.5 1.5h0m6.5 0.5h0m3.5-2.5h0m6-0.5h0m7.5 0h0m5 3h0m61 12.5h0m21-2.5h0m5 3h0m6-1.5h0m-40.5 4.5h0m1-1.5h0m1.5 1h0m5 2.5h0m0.5-1.5h0m5.5 2.5h0m20 0h0m-68 7h0m6-5h0m4 1h0m5.5 3.5h0m11.5-1.5h0m13.5 0h0m4-2.5h0m-40 5.5h0m1 5h0m6-2h0m0.5-3.5h0m3.5 1h0m-54 5.5h0m25.5 1h0m0.5 1.5h0m4.5 0.5h0m9 2h0m0.5-3.5h0m4.5-1h0m0.5 2.5h0m0 0h0m-6 3h0m2.5 3h0m7.5-3h0m4.5 0h0m-27.5 7h0m10.5 0.5h0m3 3h0m-2.5 3h0m6 3.5h0m4.5-1.5h0m1-0.5h0m-30.5 3.5h0m4 14h0m3.5 1h0m14.5 17.5h0m-11.5 8h0m3-5h0m2.5 4.5h0m3-1.5h0m-7 4h0m0 2h0m2.5-1h0m1.5 2.5h0m5 0.5h0m1.5-2.5h0m1.5-2h0m-14 8h0m7.5 7.5h0m1.5-4h0m0.5-0.5h0m2.5 2.5h0m-5.5 4.5h0" stroke="#f0c882" stroke-width="2.3" stroke-linecap="round" fill="none"/>
<path d="M566 245h0m1.5 3.5h0m5 0h0m-42.5 0.5h0m35 1h0m0.5-0.5h0m1.5 2h0m1 1h0m1 2h0m1.5-0.5h0m6.5 0h0m1 0h0m-55.5 18.5h0m-52 1h0m64 0.5h0m-66 10.5h0m0-1h0m8-4h0m24 3.5h0m22.5 1h0m8-0.5h0m4 1h0m11-2h0m2 1.5h0m9.5-2h0m-71.5 8h0m42-4.5h0m2 2h0m10.5 1.5h0m14 0.5h0m-67 6.5h0m13 0h0m11 0.5h0m10-5h0m5.5 0.5h0m14 0h0m0.5 1h0m10 1.5h0m7.5 0.5h0m-86.5 4.5h0m6 3h0m16-1.5h0m11.5-2h0m1.5-1h0m4 4.5h0m2.5-3h0m4.5-1h0m6.5-1h0m31.5-0.5h0m-87 7.5h0m7-1h0m0.5 0h0m1 3h0m1-1.5h0m5 0h0m1.5 0h0m3.5 1h0m0.5 2h0m22-4h0m8.5 2h0m-47.5 8h0m2.5-2.5h0m8.5-2.5h0m11.5 3h0m13-2h0m8.5 1.5h0m3 0h0m9 0h0m12.5-1h0m-68 9h0m3-1h0m14.5 1.5h0m6 0.5h0m10-2h0m2.5-2.5h0m10.5 4h0m12.5-0.5h0m4.5-2h0m-63 3.5h0m1 0h0m3.5 5.5h0m2 0.5h0m5-6h0m8.5 1h0m3 4h0m4.5-0.5h0m1-0.5h0m6.5-3.5h0m11 4h0m16.5-2.5h0m-61.5 4.5h0m4 1.5h0m12.5 3h0m3-4h0m3 1.5h0m5.5-1.5h0m1.5 1h0m2.5 0h0m0.5-1h0m0.5 0.5h0m2 1h0m1 1.5h0m1-0.5h0m2.5 0h0m3.5 0h0m0.5-3h0m10.5 4.5h0m-41.5 1.5h0m4 3.5h0m4.5-4h0m1 0.5h0m0 1h0m3 1.5h0m-9.5 4.5h0m1-1h0m1 1h0m7 4h0m14.5-5h0m3.5 0.5h0m2 0h0m11 1.5h0m6.5 2.5h0m-44.5 5h0m12.5 1.5h0m6-3h0m7 2.5h0m10-4h0m5.5 1.5h0m7-1.5h0m3.5 2.5h0m-36.5 4h0m6 3.5h0m7.5-2.5h0m7 0h0m1 0h0m3 2.5h0m0.5-0.5h0m4.5 0h0m-38.5 2.5h0m4.5 2h0m4-2h0m4.5 2h0m3-0.5h0m13 0h0m4 0h0m-18.5 5.5h0m3.5-0.5h0m6-0.5h0" stroke="#d24664" stroke-width="2.3" stroke-linecap="round" fill="none"/>
<path d="M472 286.5h0m57-0.5h0m3.5 4.5h0m19 0.5h0m5.5-2h0m-55 4.5h0m31.5 0h0m21.5-1h0m-28.5 4.5h0m27.5 1h0m-76.5 28.5h0m9-0.5h0m1.5-2.5h0m2 2h0m7.5-1h0m2.5 5h0m12 0h0m2.5 4h0m-24.5 6.5h0m19.5 2h0m4 8.5h0m1-5.5h0m23.5 2.5h0m4 1.5h0m-41 7.5h0m26.5-5h0m-19 6h0m3 1h0m0 6h0" stroke="#be3264" stroke-width="2.3" stroke-linecap="round" fill="none"/>
<path d="M565.5 246.5h0m-82 2.5h0m98 5h0m-108.5 24h0m51.5 4h0m6 2.5h0m-54.5 4.5h0m52.5-1.5h0m2.5 3h0m3-5.5h0m23.5 3.5h0m4 0.5h0m3 2h0m0.5-2h0m-94 4.5h0m43.5 0.5h0m36-1.5h0m9 3h0m-91 3h0m67 0h0m5 0.5h0m-36.5 9.5h0m6-3.5h0m-27 6h0m1.5-1h0m32.5 3.5h0m-41.5 3.5h0m3 1.5h0m14.5 0.5h0m-18 2h0m4.5 0.5h0m2.5 2h0m8.5 1h0m0.5 2h0m4.5-3.5h0m6.5 2h0m-15 4h0m8.5 2.5h0m0-2.5h0m6 3.5h0m3.5-3.5h0m10-0.5h0m-22 7h0m0.5-1h0m2.5 3h0m0.5-3h0m1.5-1.5h0m0.5 1.5h0m1.5-0.5h0m4 1.5h0m5.5-0.5h0m-22 4.5h0m15 2h0m35 3h0m1 0h0m-37 4.5h0m7.5-2h0m4-2h0m3 5h0m2-2.5h0m26-2h0m-42 7h0m9-0.5h0m6.5 2h0m-9 7h0m1-2.5h0m0.5 3.5h0m6 1h0" stroke="#c83264" stroke-width="2.3" stroke-linecap="round" fill="none"/>
<path d="M491.5 243h0m-12.5 5h0m1.5-1h0m0 1.5h0m4-1.5h0m44 1h0m44-0.5h0m-93 1.5h0m5 2h0m86.5-2h0m-93.5 7.5h0m12.5 3.5h0m23.5 0.5h0m4.5-2.5h0m0-1.5h0m7.5-1h0m7.5 3.5h0m-57 2.5h0m1.5 3h0m5.5-2h0m0.5 3.5h0m0.5 0h0m42.5 0h0m0.5-1h0m1-3.5h0m-58.5 8h0m1.5 2.5h0m9-2h0m8 2h0m40-1h0m4-0.5h0m2.5-1h0m-63 9.5h0m1-6h0m1 4h0m9.5-2h0m0 4h0m0.5-0.5h0m2.5-4h0m2 2.5h0m2.5 2h0m6-1.5h0m1.5-1h0m4 2.5h0m2.5-1h0m15.5-5h0m10 5h0m5.5-4h0m4.5 1.5h0m-61 5.5h0m2.5-0.5h0m2 1.5h0m0 0h0m25 1h0m8.5-1.5h0m-49.5 5.5h0m6.5 2.5h0m9.5 1.5h0m2-4h0m3 3h0m4.5-3h0m12.5 0h0m0 0h0m1 0h0m5 4h0m10-4h0m34 2h0m3-3h0m-59 9.5h0m2-1h0m3-0.5h0m9.5-1.5h0m10 4h0m13-1.5h0m6 0h0m16.5-3.5h0m-69 11h0m13-1.5h0m36.5-4h0m8.5 2h0m5 4h0m3.5-1.5h0m16.5 0h0m4-3.5h0m0 0h0m-101.5 6h0m13.5 1h0m2 1.5h0m26-2.5h0m3-0.5h0m7 0.5h0m9 3h0m14-2.5h0m2 0.5h0m12.5 1h0m4.5-1h0m1 0h0m6-1.5h0m4.5 3.5h0m-109.5 2h0m32 6h0m11-5.5h0m8.5 2h0m1 1h0m0 0.5h0m4 0h0m2 1.5h0m1.5-2.5h0m4.5 0h0m5.5-1h0m9 0h0m-31 8.5h0m5-2h0m28 1.5h0m-45 2h0m16.5 4h0m8-1h0m19-1.5h0m-55.5 6h0m43 3.5h0m3-4.5h0m1.5 0h0m6 1h0m-31 10.5h0m19-5h0m-44 10h0m5.5-2h0m9-2h0m9-0.5h0m17 0h0m5.5 4.5h0m2.5-3.5h0m1.5-0.5h0m2 3h0m-29 3h0m2.5 2h0m6.5-2h0m3 2.5h0m16-3.5h0m1.5 1.5h0m-30 6.5h0m5-1h0m5.5 3h0m4-0.5h0m0.5 1h0m-8 2h0m4.5 2h0m1 0.5h0m0.5-1.5h0m-8 6h0m2 0h0" stroke="#e68c5a" stroke-width="2.3" stroke-linecap="round" fill="none"/>
<path d="M526 244.5h0m-7.5 10h0m-13 4h0m27 0h0m-35.5 4h0m40.5-1h0m-24 14h0m-27 8.5h0m50.5 89.5h0m-4.5 6.5h0m8.5 10h0m-9.5 8h0m2.5-2.5h0" stroke="#e6dc3c" stroke-width="2.3" stroke-linecap="round" fill="none"/>
<path d="M563 256h0m-74 13.5h0m31.5 10h0m6 3.5h0m9.5 1.5h0m16.5-0.5h0m3 0h0m2-0.5h0m0.5-0.5h0m1-1h0m0 1.5h0m1-1h0m1-0.5h0m3 0h0m-88.5 8.5h0m48-2.5h0m1.5 1h0m0.5-3.5h0m1.5 3h0m1 0.5h0m0.5 0.5h0m3-2.5h0m0.5-1.5h0m0 0.5h0m0.5 1h0m0-0.5h0m0-1h0m0.5 5h0m0.5-1h0m0 1h0m1.5-2h0m1-3.5h0m2 1h0m10 0.5h0m1 4.5h0m0-3.5h0m1 0h0m0 1.5h0m1.5-1.5h0m0.5 2.5h0m2.5-2.5h0m0.5 0h0m0 1h0m1 2h0m3.5-4h0m48.5 2.5h0m-140.5 6h0m5-3.5h0m40.5 2.5h0m11-1.5h0m2.5 0h0m9-0.5h0m1 0.5h0m11.5 3.5h0m0.5-1.5h0m1-1.5h0m1 2.5h0m0.5-1.5h0m0.5 1.5h0m0.5-0.5h0m0.5-1h0m2-2h0m0.5 2.5h0m1-2.5h0m51-0.5h0m-138.5 7.5h0m1-0.5h0m8.5 0h0m0.5 4.5h0m24-4h0m4.5 3.5h0m19-3.5h0m-42.5 4.5h0m13.5 4.5h0m2.5-2.5h0m5.5-1.5h0m1.5-0.5h0m0.5 2.5h0m0 0h0m1.5 2.5h0m-38.5 6.5h0m7-4h0m1.5-1.5h0m12 5.5h0m6.5-5.5h0m10.5 2h0m0 3.5h0m1-3h0m2-3h0m1 4h0m21.5 1h0m-62 2h0m2 1.5h0m5.5 1.5h0m0 0h0m2-2.5h0m3 2.5h0m1 0h0m31 1h0m8.5-4h0m5.5-0.5h0m-57 6.5h0m7.5 0.5h0m0 1h0m0.5 2h0m1 0h0m2.5 1h0m1-4.5h0m0 3.5h0m1-1h0m2 0.5h0m4-3.5h0m0.5 4h0m0.5-0.5h0m0.5-1.5h0m0 2h0m0.5 0h0m0.5 0.5h0m0 0.5h0m1-2h0m0.5 0.5h0m1.5 0.5h0m0-3.5h0m2 4.5h0m2-4.5h0m0.5 3.5h0m0 0.5h0m2-3h0m0 1.5h0m0 1.5h0m0.5-2h0m0 0h0m3.5-2.5h0m3.5 4.5h0m0.5-1.5h0m5.5-0.5h0m10.5 0h0m-50.5 3.5h0m0 1h0m1 2h0m4-2.5h0m1.5 0h0m3 4.5h0m0 0h0m1.5-4h0m0 1h0m1.5 0h0m0.5-0.5h0m1 0.5h0m0 1h0m1.5 2h0m0.5-2h0m1.5-0.5h0m1.5 0.5h0m2.5 1h0m1-4h0m3.5 5h0m1-3h0m1-2h0m0.5 0.5h0m0 3.5h0m0.5-0.5h0m0.5 1h0m4.5-0.5h0m1.5-3.5h0m2 3h0m0.5 0h0m1 1.5h0m-30 1.5h0m2.5 4.5h0m0-2.5h0m1.5 2.5h0m6.5-5.5h0m2.5 0h0m1.5 0.5h0m1 4.5h0m3-3.5h0m2 4h0m0.5-2h0m2.5 0.5h0m3.5-0.5h0m2 2h0m4-1.5h0m-16.5 4.5h0m3.5 0h0m4.5 2h0m13-1.5h0m-32 3h0m0 5.5h0m2.5-2.5h0m0 3h0m6-4.5h0m1 3.5h0m0-1h0m1.5-0.5h0m1-2h0m0.5 2.5h0m1.5 1.5h0m0-1h0m20 0.5h0m10.5 0.5h0m1-3h0m0 3.5h0m0.5-2h0m1-1.5h0m1 1.5h0m2.5 0.5h0m2-1.5h0m1.5 1h0m-45 6.5h0m1.5 0.5h0m0.5-3.5h0m1.5 1h0m4-0.5h0m1 3.5h0m0-1.5h0m0.5-1.5h0m2.5 1.5h0m0.5-1.5h0m20.5-1h0m4 1.5h0m0.5 1h0m0.5-1h0m1-1.5h0m0 1.5h0m0-2.5h0m0.5 0h0m0 3.5h0m2.5-0.5h0m-41 2.5h0m0 0h0m0 3.5h0m0.5-1h0m2-0.5h0m0 4h0m1-0.5h0m0-1.5h0m1.5 0.5h0m0 1h0m0-1.5h0m0 0.5h0m0.5 0.5h0m1.5-4.5h0m0 5h0m0.5-4.5h0m0 2.5h0m0 0.5h0m0 1.5h0m0.5 0.5h0m0.5 0h0m0.5-3h0m0 2.5h0m0-1.5h0m0-1.5h0m0 2.5h0m0-1h0m0 1.5h0m26-5.5h0m-33.5 7h0m2.5-0.5h0m1 0.5h0m1.5 0h0m3.5 1h0m1-1h0m0 0h0m0.5 0h0m2.5 0h0" stroke="#b41e5a" stroke-width="2.3" stroke-linecap="round" fill="none"/>
<path d="M477.5 248.5h0m13-4h0m13.5 1.5h0m34-1h0m32.5 3.5h0m3.5 0h0m-97 2.5h0m9 2h0m19 0h0m24-1h0m1 3h0m41.5-1.5h0m-95.5 2h0m7 2.5h0m7.5-2.5h0m3 3.5h0m3 0.5h0m13.5 0.5h0m13 0.5h0m14.5 0h0m-66.5 5.5h0m14-3h0m33 4h0m7-0.5h0m1.5-4h0m1.5 0.5h0m-52 8h0m15.5 1h0m3.5 0h0m0-1h0m25 1.5h0m1-4h0m2 2.5h0m16-1.5h0m2.5-0.5h0m-69.5 9.5h0m0.5 0.5h0m6-4h0m3.5 2h0m3.5-0.5h0m1.5-2h0m5 1.5h0m4.5 3h0m2-2h0m28.5-1h0m0-1.5h0m4.5 3h0m0.5-4.5h0m7.5 6h0m2-1h0m-78 6h0m3-4h0m8.5 3.5h0m6.5-2h0m1.5 1h0m1-2h0m4 0.5h0m3 3h0m3-4.5h0m4.5 4.5h0m6.5 0h0m17.5 0h0m17-3.5h0m3 3h0m17-2h0m-90.5 7.5h0m6-1h0m12-2h0m9.5-0.5h0m5 2h0m6.5 2.5h0m32.5-5h0m5.5 4.5h0m5.5-1h0m11 1.5h0m-94.5 4h0m4.5-1h0m3 3h0m26.5 0.5h0m0-4.5h0m11 0h0m27.5 1.5h0m17-1h0m23.5 2h0m5 0.5h0m24-3.5h0m-134 6h0m5 5.5h0m4.5-6h0m0.5 1h0m3.5 0h0m6.5 2h0m2-0.5h0m0.5 1.5h0m0 1h0m0.5-3.5h0m1.5 3h0m13 1h0m4.5-5.5h0m2.5 2h0m3.5 2h0m0-3h0m4 4h0m11-4.5h0m3.5 5h0m1-1h0m1-2h0m4 2h0m0.5 0h0m2 0h0m0.5-3h0m4.5 0.5h0m8.5-0.5h0m2-0.5h0m5 5h0m1.5-2h0m0.5 1.5h0m4-5.5h0m-102.5 7.5h0m13 1.5h0m0.5-1.5h0m2.5 3h0m1.5-2.5h0m26.5-1h0m4 4.5h0m8.5-4h0m8.5 3.5h0m7 0.5h0m1.5-1h0m1.5-3h0m-81 5h0m4.5 3h0m3-3.5h0m17.5 3h0m3.5 0.5h0m7 0.5h0m1.5 1h0m1 0.5h0m8.5-5h0m6 4.5h0m0-4h0m1.5 0.5h0m4.5 4.5h0m8.5-4.5h0m2 4.5h0m4.5-3h0m0.5 1h0m8 1h0m-78.5 2.5h0m30 0h0m1 0.5h0m7.5 1.5h0m11-2h0m5.5 0h0m8.5 3.5h0m4 0.5h0m2.5-2h0m-62 5.5h0m15.5 1.5h0m22.5-0.5h0m13-4h0m7 2.5h0m4 0.5h0m8-3h0m-42 10.5h0m11.5 1h0m3-2h0m4.5-1.5h0m5.5 0h0m1.5 1h0m0.5-0.5h0m5.5 0.5h0m9-1.5h0m-47.5 5.5h0m8 0.5h0m21.5-1.5h0m13 4h0m1.5 0.5h0m-60 3.5h0m4.5 0h0m11.5 3.5h0m12-2h0m6-2.5h0m15 1.5h0m6 2.5h0m2.5 0h0m2.5-2h0m-50 6h0m3-1h0m9.5 2h0m10 1h0m9-0.5h0m4.5-4.5h0m10 1h0m-26.5 8h0m3.5 2h0m1.5 0h0m3.5-3h0m2.5 0h0m3 1h0m1.5 0.5h0m0.5-1h0m-11.5 5h0m4.5-1.5h0m2 3h0m1.5 2h0m4.5-3.5h0" stroke="#e68250" stroke-width="2.3" stroke-linecap="round" fill="none"/>
<path d="M480 248h0m1-2.5h0m8.5 1.5h0m1.5-2h0m4 3h0m34-3h0m2.5 0.5h0m39.5 2.5h0m-96.5 6.5h0m0.5-2h0m11-3.5h0m35 4.5h0m1.5 0h0m6-2.5h0m8.5 2h0m-55.5 6.5h0m3-1h0m1.5-1.5h0m3.5-1.5h0m18 4h0m2.5 1h0m7.5-2h0m1 0h0m5 1.5h0m13.5 0.5h0m9.5-0.5h0m-67 6h0m7-2h0m4.5 3h0m7-4.5h0m10.5-0.5h0m0.5 4.5h0m1.5-5h0m0.5 5h0m10-2.5h0m19.5 3h0m-51.5 4h0m1.5 0h0m1.5-1.5h0m27 1h0m9-0.5h0m0 1h0m2-3h0m2 2.5h0m-56 3h0m3 1h0m8.5-0.5h0m11.5-1h0m14 4.5h0m1.5-3h0m4 1h0m5.5-1.5h0m1 3.5h0m8.5-3.5h0m1.5 1h0m2 1h0m0.5-1h0m-70.5 6h0m13.5-0.5h0m3.5 1.5h0m3.5-0.5h0m7.5 2.5h0m2-4.5h0m0.5 3.5h0m7.5 1h0m7.5-0.5h0m-31.5 1.5h0m15.5 2h0m9 2.5h0m5-0.5h0m5 0.5h0m2.5-4.5h0m-24 10.5h0m54.5 0.5h0m-74.5 6h0m4-3.5h0m4.5 4.5h0m1.5-5.5h0m6 0h0m0.5 5h0m26-4.5h0m24.5 5h0m2.5-6h0m0.5 2h0m3.5 4h0m17.5-3h0m2.5 1h0m10.5 0h0m3.5-0.5h0m22.5-0.5h0m5-1.5h0m-95 7h0m11 1h0m7.5-1h0m15 1.5h0m5.5-3h0m26 0h0m-104 7h0m2.5 0.5h0m24.5 1h0m15 2.5h0m0.5-3h0m9 2.5h0m5-5h0m6.5 1.5h0m10.5 0.5h0m2.5-1.5h0m29 0.5h0m-65 8h0m4-1.5h0m13.5 1h0m1-2h0m14 1.5h0m3 3h0m1-1.5h0m-56.5 3h0m21.5 2h0m3.5 3h0m18.5-6h0m4 0.5h0m-46.5 9h0m45.5-3h0m10.5 2.5h0m-19 6.5h0m1.5 0.5h0m4-0.5h0m9 1h0m-43 5.5h0m1 0.5h0m9-4h0m-21.5 8.5h0m16-0.5h0m19.5 3.5h0m1-1.5h0m0.5 12h0m0.5 0.5h0m-15 3h0m14 22h0m11.5-5h0m-16.5 7.5h0m6 6.5h0" stroke="#f0a064" stroke-width="2.3" stroke-linecap="round" fill="none"/>
<path d="M482.5 246.5h0m16 1h0m6.5 0h0m31-0.5h0m5 0h0m-60 2.5h0m0.5 2h0m8 2h0m2.5-1h0m14.5 2h0m14 0h0m5-5h0m9.5-0.5h0m1 4.5h0m3-0.5h0m0 0h0m4 1h0m-62.5 2.5h0m4.5 3.5h0m4-3h0m0.5-0.5h0m4.5 3.5h0m2-4.5h0m31.5 2.5h0m1 0.5h0m6 0.5h0m7 0h0m-66.5 2.5h0m17.5 1.5h0m2.5 2.5h0m13-4.5h0m7 0.5h0m15.5 4.5h0m4.5-0.5h0m-33 5h0m9-2.5h0m4.5 1h0m20.5-0.5h0m-48.5 10h0m19-2h0m2 1h0m29-4h0m-55.5 8.5h0m4 0h0m6-1h0m-20.5 4.5h0m130 1.5h0m4 1.5h0m0.5-0.5h0m-95.5 6h0m71.5 0h0m1 1.5h0m22-2h0m5-1.5h0m-36.5 7h0m2.5 3.5h0m3 0.5h0m-14.5 1h0m-43.5 14h0m16 2h0m-9.5 3h0m16 9h0m2.5 0.5h0m-6.5 2h0m4 0.5h0m-8 44h0m4-1.5h0m1.5-1h0m-11.5 9h0m4.5-0.5h0m8 1.5h0m-18 1.5h0m1 3.5h0m10-3.5h0m-6 8h0m8.5-3h0m1.5 0h0m-6.5 7.5h0" stroke="#f0dc8c" stroke-width="2.3" stroke-linecap="round" fill="none"/>
<path d="M486 246.5h0m10.5-1h0m-18.5 3.5h0m0.5 0h0m2 5h0m4-4h0m0 3h0m1.5 1h0m31 1h0m15.5-4.5h0m2-1.5h0m0.5 4h0m5-4h0m-63.5 9.5h0m2 1.5h0m1-3h0m2 0h0m16 3h0m23.5 0.5h0m13.5 0h0m-49 0.5h0m6 4.5h0m5-1.5h0m4.5-0.5h0m1.5 0.5h0m1-3h0m0.5 3h0m2.5 1.5h0m3-2h0m3 3.5h0m6-6h0m4 2.5h0m3 2h0m-55.5 4.5h0m4-0.5h0m8.5 2.5h0m1.5-4.5h0m0.5 2h0m34.5-2h0m6 1h0m10 3.5h0m-63 4.5h0m1 0.5h0m4 1.5h0m1-2h0m2.5-1.5h0m1-1h0m3 4.5h0m4.5 0h0m9.5-4h0m16 3.5h0m4.5 0.5h0m4.5-4h0m7-1h0m-52.5 10.5h0m1.5-4.5h0m3.5 4h0m9.5 0.5h0m3-2h0m2.5-1.5h0m8 1h0m2.5-1.5h0m0.5 4.5h0m43.5-1h0m-77.5 4.5h0m11.5-2.5h0m6 1.5h0m4-1.5h0m51 1.5h0m60.5 3h0m1.5 0h0m-130.5 7.5h0m61 4h0m7 1.5h0m7-3h0m13-1.5h0m1.5 0.5h0m4.5 4h0m-97.5 4h0m16.5-1.5h0m52-1h0m3.5 2h0m-71.5 4h0m23.5 1h0m36-0.5h0m9.5 0h0m8 3.5h0m-56.5 3h0m46 0.5h0m3-2h0m-23.5 10h0m16.5-2h0m5.5 3h0m1.5-0.5h0m-13 6h0m4-4.5h0m5 4h0m1-2.5h0m5.5-2h0m0.5 3h0m-4 13.5h0m-37 5h0m28.5-3.5h0m-9 10.5h0m7 25h0m1.5 9.5h0m3 2.5h0m0 1.5h0" stroke="#f0aa6e" stroke-width="2.3" stroke-linecap="round" fill="none"/>
<path d="M471.5 281h0m5-1.5h0m54 2h0m6 3h0m14-1.5h0m7-1h0m-38 4h0m1 5h0m13.5-1.5h0m2-2.5h0m9.5 4h0m3.5-2h0m2-4h0m3 6h0m3.5-4.5h0m0.5-0.5h0m1.5 2h0m-87.5 8.5h0m60-5h0m6.5 1.5h0m18 2h0m0.5-1.5h0m53.5 1.5h0m-141.5 2h0m40 3h0m9-1.5h0m-18.5 8.5h0m-16.5 5h0m30.5-2h0m0.5 5h0m-25.5 2.5h0m28 0.5h0m-39 5.5h0m6 3h0m2 0h0m7.5-4h0m5-1h0m3 2h0m8.5-2h0m0.5-0.5h0m6 0.5h0m-24 7h0m6 1h0m7.5 1.5h0m0.5-0.5h0m3.5 0h0m10.5-1h0m-28.5 4.5h0m0.5 3h0m15.5-2.5h0m26 4.5h0m-34 5.5h0m4-4.5h0m1-0.5h0m5 3.5h0m2.5-1h0m2 2h0m-15.5 6h0m13-0.5h0m1.5 0h0m1.5-1.5h0m3 2h0m-17 5h0m8 1h0m0.5-1.5h0m30-3h0m-32 8h0m2-1.5h0m18 4h0m-14.5 4.5h0m7-2.5h0" stroke="#be2864" stroke-width="2.3" stroke-linecap="round" fill="none"/>
<path d="M564 247h0m4.5-1.5h0m-4 9.5h0m2-3.5h0m0.5 0.5h0m0-1h0m2 3h0m0.5-5h0m0 6h0m11.5 0h0m-105.5 18.5h0m0.5 10.5h0m71-0.5h0m7 1h0m8.5-1h0m-92.5 3.5h0m2 0h0m4.5 4h0m4.5-5h0m49 3h0m2-1h0m2-0.5h0m8.5 2.5h0m9.5-3h0m-85.5 5h0m6 1.5h0m45.5 3h0m9.5-4.5h0m8 1.5h0m1.5 1h0m15.5-3h0m-81 11.5h0m9.5-3h0m1.5 2h0m17.5-2h0m25-0.5h0m2.5 0h0m3-2h0m18 0h0m3 1h0m4.5 0h0m-74.5 8.5h0m9-1.5h0m9.5 2.5h0m10.5-2.5h0m4.5 2h0m5.5-1.5h0m22 0.5h0m-70 4.5h0m0.5 1.5h0m14.5-3h0m-6 7h0m3.5 4h0m7.5-3h0m3.5 3h0m12-4h0m-25 6.5h0m22-2h0m11.5 0.5h0m-21.5 9h0m1.5-1h0m8-1h0m5 3h0m0.5-2h0m10 1.5h0m-34 3.5h0m5 3.5h0m12-2h0m8.5-0.5h0m2.5 1.5h0m3.5 0h0m2 1.5h0m-31 3.5h0m2.5-2h0m20 1.5h0m0.5-0.5h0m1 1h0m7.5-1h0m10.5-0.5h0m3.5 1h0m-43 4h0m3.5 5.5h0m0.5-3.5h0m1.5 1.5h0m20.5-3.5h0m-24 6.5h0m4 1h0m2.5 0.5h0m2 1.5h0m4-1.5h0m25.5-1h0m-24 9h0m5.5-3.5h0m2 3.5h0m11-1h0m9-3.5h0" stroke="#c83c64" stroke-width="2.3" stroke-linecap="round" fill="none"/>
<path d="M566.5 246.5h0m4-2h0m-93 7h0m10-2.5h0m80 2h0m2-1h0m0-1h0m7 5.5h0m2.5-3h0m0.5-1.5h0m0 0h0m-103 10h0m10.5-2.5h0m83.5-1.5h0m-98.5 11h0m4-2.5h0m11-2.5h0m7.5 3.5h0m-20 6h0m14-2h0m-19 9.5h0m5-5h0m0.5 5h0m8-5h0m2 0h0m41.5 5h0m0-1.5h0m2.5-1.5h0m0 1h0m2.5 0h0m-65 6h0m5.5-2.5h0m3.5 1h0m36-1.5h0m12.5 3.5h0m5-0.5h0m15.5-1.5h0m6.5 2.5h0m-79.5 4h0m1-2.5h0m71.5 4.5h0m21-3.5h0m36.5 0h0m-134.5 8.5h0m5-2h0m18.5 0h0m10 1h0m1 0h0m2.5 1h0m5.5 1.5h0m2-3h0m8 3h0m5.5-1.5h0m16.5 0.5h0m0.5-3h0m8.5 1.5h0m5-1h0m-79.5 8h0m3-1h0m15-2h0m4 4h0m0.5 0.5h0m8 0.5h0m0-0.5h0m2.5-5.5h0m8 2h0m7 0h0m7 1h0m20.5 0.5h0m1.5 0h0m0-0.5h0m-84 6h0m3-2.5h0m2 2h0m9 1h0m1 2h0m3.5-0.5h0m14.5-1h0m1-0.5h0m0.5 1.5h0m3.5-1.5h0m12-2h0m36 0.5h0m-86.5 8h0m4.5-1.5h0m4.5 2h0m0.5-0.5h0m5-3h0m12.5 3.5h0m8-2h0m4.5-0.5h0m3 0h0m15 0h0m2 3.5h0m5-1h0m19.5-2h0m-70.5 9h0m17.5-2.5h0m0 0.5h0m21.5-1h0m0-2h0m8.5 3.5h0m8-1h0m-63.5 4h0m5.5 5h0m1.5-4h0m8.5-0.5h0m3.5 4h0m3.5 0.5h0m5 0h0m21.5 0h0m0.5-3h0m8-3h0m-28 10h0m9-3.5h0m15 3.5h0m12-2.5h0m-56 6h0m10 4h0m7-1h0m0.5 1h0m4.5-1h0m12.5 0h0m13 1h0m-44.5 2.5h0m14 2h0m16.5-3h0m6 3h0m3-1.5h0m3 3h0m-35.5 5.5h0m1-2.5h0m2-1h0m11 3.5h0m5.5-4.5h0m0.5 5.5h0m7.5-1h0m7.5 1h0m0.5-2h0m12.5-1.5h0m-31 5h0m0.5 3h0m0.5-4h0m12 3.5h0m4.5-2.5h0m2.5 4h0m9.5-3h0m-18.5 5.5h0m7-1h0m5 1h0m-18 8.5h0" stroke="#dc645a" stroke-width="2.3" stroke-linecap="round" fill="none"/>
<path d="M499 245.5h0m5 2h0m-20 7h0m2.5-2h0m38.5 0.5h0m-39.5 5.5h0m5.5 1h0m1.5 0h0m4.5-3h0m26 0h0m-46.5 4.5h0m9.5 2h0m9 2.5h0m9.5-2.5h0m11.5-2h0m6.5 1.5h0m5 1h0m-48 4h0m9 4.5h0m29 0h0m3.5-4.5h0m21.5 2.5h0m-63.5 9h0m15.5-3h0m0.5 0.5h0m12.5 2h0m6.5-5.5h0m1.5 3h0m10.5 3h0m-44.5 4h0m3.5 1h0m1-4h0m13-0.5h0m5 0h0m12 1.5h0m-27.5 9h0m4 3.5h0m17-1.5h0m69 2.5h0m1 0.5h0m-80.5 2h0m44 4h0m4 0.5h0m17.5-2h0m5.5-0.5h0m0.5-0.5h0m4.5-1.5h0m0 6h0m6 0h0m-53.5 1.5h0m5.5 1h0m15-1.5h0m0.5 2h0m-11.5 4.5h0m6.5 2.5h0m1.5-1.5h0m7 1.5h0m-25 7.5h0m13-4h0m5.5 9h0m5.5-2h0m-17.5 4h0m11 1.5h0m-48.5 6h0m40.5 3.5h0m6-1h0m-27.5 9.5h0m10 32h0m16 1h0m-5 7h0m-11 3.5h0" stroke="#f0b46e" stroke-width="2.3" stroke-linecap="round" fill="none"/>
<path d="M494.5 243h0m40.5-1h0m-55.5 5h0m9-2h0m40.5 3.5h0m-52.5 3.5h0m2.5 0h0m1 1h0m8.5-0.5h0m80-1.5h0m6 1h0m0 1.5h0m0.5-1.5h0m1 3h0m-100 2.5h0m-2.5 8h0m0.5 0.5h0m1-2h0m0.5 0.5h0m11 1.5h0m0-3.5h0m1 3h0m3.5-3h0m22 3.5h0m18.5-5h0m3.5 4h0m-63 2.5h0m1 0h0m6 4.5h0m6-4h0m0.5 3.5h0m32.5 0h0m1-2h0m9.5-2h0m-61 10h0m5-1h0m1.5 2.5h0m2.5-1h0m1.5 1h0m3.5-1.5h0m2.5 1h0m4-0.5h0m1 0.5h0m35-4h0m0.5 0.5h0m7 1.5h0m0-3h0m1.5 2h0m8.5 2h0m1 1h0m-70 1h0m0 3.5h0m1-1h0m2-1.5h0m2 1.5h0m2 0.5h0m1-3h0m0.5 4.5h0m0-2.5h0m15.5 0.5h0m48 0.5h0m0-1h0m0.5 2h0m10-2.5h0m2.5 3.5h0m45.5 0h0m-128.5 1.5h0m24 0h0m1 0.5h0m0.5 1.5h0m2-2h0m4.5 5h0m6.5-5h0m2 1h0m1-1h0m21 0.5h0m12 3h0m-54 3h0m10.5-0.5h0m16.5 1h0m19-1.5h0m11.5 5h0m3.5-3h0m26.5 3h0m24-3.5h0m-138 6h0m8.5-2h0m1.5 1.5h0m7.5 4.5h0m1.5-4.5h0m1 4.5h0m3.5-2.5h0m2-3h0m0 2.5h0m1 0.5h0m2.5-0.5h0m6.5-2.5h0m5 3.5h0m0.5-1.5h0m20.5 1h0m7 1.5h0m3-1h0m4-1.5h0m0 2h0m4.5-2h0m6 2h0m13-2h0m9.5 2h0m30.5 0.5h0m0.5-1.5h0m-138.5 4h0m1 3h0m8-1.5h0m6-1h0m7 0.5h0m2 3h0m1-4h0m3 1.5h0m2.5 1.5h0m1-3.5h0m4.5 2h0m13-0.5h0m3 3h0m5.5-1h0m13 0.5h0m1-4h0m4.5 0.5h0m2.5 2.5h0m0-3.5h0m32 4h0m1-2h0m2-1h0m-107.5 9h0m1-4h0m5 0h0m10 3h0m2.5 2h0m3-2.5h0m7.5 0.5h0m15 1h0m1.5-3h0m5.5 0.5h0m4 0h0m1.5 1.5h0m5.5-1h0m7 2.5h0m0-3h0m-71 8.5h0m1 0.5h0m4 0h0m14.5-2h0m6-1h0m10 3h0m0.5-2h0m0-0.5h0m0.5 0h0m1.5 2.5h0m2-4.5h0m10 1.5h0m4-0.5h0m7 1.5h0m3-0.5h0m-61.5 8h0m14-1.5h0m0-2.5h0m5 5h0m16.5-5.5h0m6.5 2h0m5 3.5h0m3 0.5h0m3.5-3h0m5 0.5h0m12.5-1.5h0m1 1.5h0m3-2.5h0m-74.5 7.5h0m11 0.5h0m5.5 2h0m0.5-4h0m14 4h0m28-2.5h0m11.5-0.5h0m-49.5 6.5h0m2 2h0m9-4.5h0m3 1h0m23.5 2h0m13.5-1.5h0m-46.5 5h0m1.5 4h0m2 0.5h0m6-3.5h0m4 4h0m4.5-4h0m12-1h0m0.5 1.5h0m3.5 3.5h0m6.5-3.5h0m-49 5.5h0m2 2.5h0m0.5-2.5h0m3-0.5h0m12 2.5h0m2.5-2h0m2 1h0m0.5 3.5h0m1-3h0m9 1.5h0m0.5-4.5h0m2 3.5h0m1-3h0m1.5 2.5h0m-16.5 6h0m4.5 0.5h0m4-1.5h0m1 0.5h0m5-2h0m-14 10.5h0m7 1h0m7.5-4.5h0m5 0h0m2.5 0h0m-22 7h0m0.5 1.5h0m3.5-3.5h0m1 4h0m8.5-2h0" stroke="#e67850" stroke-width="2.3" stroke-linecap="round" fill="none"/>
<path d="M488.5 248.5h0m-13.5 5.5h0m9.5-4h0m12.5 0h0m9 0.5h0m12.5 4.5h0m4.5-0.5h0m-36.5 3h0m1.5-0.5h0m6.5-1h0m39.5 2h0m-55 6h0m2 1h0m4-2.5h0m17.5 1h0m15 1h0m12.5-1h0m-58 5h0m13.5 1h0m2 0h0m3.5 3h0m2.5-3h0m2 2.5h0m5 0h0m16.5 0h0m21-2.5h0m-42.5 9h0m29-3.5h0m-34 6h0m6 3h0m46.5-0.5h0m8.5-1h0m52.5 2h0m-118 5h0m7-3h0m18-1h0m3.5 1.5h0m2.5-2h0m34.5 0.5h0m-75 7.5h0m18 2h0m12-2.5h0m12 2.5h0m2.5-3h0m-31.5 9.5h0m16-2h0m43.5 1.5h0m0.5-2.5h0m0.5 3.5h0m0-0.5h0m6-1h0m16-3.5h0m7.5 4.5h0m4.5-4h0m1.5 1.5h0m-115 6h0m7.5 2.5h0m7-1.5h0m9-1.5h0m3.5-1h0m13 1h0m25 3.5h0m10.5-3h0m4.5-1h0m21.5 1h0m-68 8.5h0m1-2.5h0m9.5 2h0m13-4h0m6.5 1h0m2 2h0m12.5-3h0m2.5 2h0m-24.5 7.5h0m8.5-1.5h0m3.5-1.5h0m11.5 1h0m-24.5 10.5h0m-5.5 3.5h0m8.5-2.5h0m10 3.5h0m1 0.5h0m-1 3h0m-14 7h0m21 1.5h0m-25 4h0m-5.5 5h0m16.5 9.5h0m-14.5 4h0m22 16h0" stroke="#e6965a" stroke-width="2.3" stroke-linecap="round" fill="none"/>
<path d="M539.5 248h0m-40 8h0m15 2.5h0m9-1h0m22 13.5h0m-43.5 4h0m-9.5 4.5h0m9.5 2h0m101 19.5h0m-55.5 5h0m28.5 2.5h0m-38 26h0m8 8.5h0m-9 37h0m2 7h0m-13.5 5.5h0m14.5-2h0m-6 4.5h0" stroke="#e6dc50" stroke-width="2.3" stroke-linecap="round" fill="none"/>
<path d="M527 246.5h0m2-2.5h0m3 0h0m3.5 1h0m3 3h0m-53 5.5h0m7.5-3.5h0m8-1h0m22.5 0h0m7 0.5h0m3 1.5h0m1.5 0.5h0m3.5-1h0m4.5 3h0m-61 5.5h0m3.5-1.5h0m4-1.5h0m1.5 2h0m5.5-1.5h0m1 0h0m2 2h0m0-2h0m3 3h0m0-3.5h0m18 1h0m8-1.5h0m-55 9h0m11-1.5h0m6-2h0m4 5h0m1-2h0m9 3h0m4-3h0m1 1h0m1-2.5h0m1.5 4h0m1.5 0.5h0m0.5-0.5h0m6.5-0.5h0m8.5-5h0m1.5 4.5h0m4-4h0m1 3.5h0m2.5-1.5h0m3 1.5h0m-31.5 3.5h0m12 2.5h0m7.5-1h0m2 1.5h0m6-2.5h0m5.5 1.5h0m1-3h0m-58 8.5h0m8 1h0m7.5-0.5h0m7 2.5h0m5.5-2h0m14.5-1h0m10.5-1.5h0m-57 9h0m8.5 1h0m2-4.5h0m0.5 1h0m1.5-0.5h0m4.5 0.5h0m14 2h0m1-3.5h0m-28 8.5h0m24-2h0m5.5-1h0m1 1.5h0m88.5-0.5h0m2 2.5h0m-62 4.5h0m38 1.5h0m-91.5 4h0m75 2h0m-92 6h0m65 0.5h0m3 0h0m21.5-1h0m5 0h0m10.5 0h0m2 0h0m-54.5 13.5h0m4.5 0h0m15.5 0.5h0m-13.5 6h0m1.5 0h0m2-3h0m2.5 3.5h0m3 0.5h0m-9 1.5h0m6.5-0.5h0m-6 5.5h0m3 1h0m2 2h0m-20 11.5h0m16 24h0m-8 8h0m5-4h0m7 3.5h0m-14 2.5h0m0 1.5h0m3.5-1.5h0m4 3h0m-7.5 7.5h0m0.5-2.5h0m0.5-2h0m5.5-0.5h0m3.5 3h0m1-3h0m0.5 2.5h0m0.5 2h0m-9 1.5h0m2 2h0m0.5 3h0m3-4.5h0m6 5h0m1-3h0m-7.5 3.5h0m5 0.5h0" stroke="#f0d28c" stroke-width="2.3" stroke-linecap="round" fill="none"/>
<path d="M535 243.5h0m5 2.5h0m0 5h0m-11.5 5.5h0m11-1h0m-26 10.5h0m16.5 0h0m13.5 2h0m-42.5 8.5h0m34 97h0m1 3h0m24.5 4h0m-25 2.5h0m-2 13h0" stroke="#e6e63c" stroke-width="2.3" stroke-linecap="round" fill="none"/>
<path d="M570 248h0m-87 4.5h0m86.5-0.5h0m2.5-0.5h0m3.5 3.5h0m-95.5 10.5h0m17 0.5h0m-28 5h0m53-0.5h0m15 8h0m-67.5 1h0m8 2h0m65 2.5h0m66 6h0m-140.5 2.5h0m11 0h0m22 0h0m42.5 2h0m1.5-3h0m2 3h0m-79.5 8h0m4-0.5h0m15 0h0m10 1h0m24.5-2h0m15-2h0m20.5 2h0m-71.5 3h0m12.5 2h0m15.5 0h0m9 0.5h0m-50 3h0m28.5 2h0m27-2.5h0m-36 10.5h0m41-1.5h0m-59 4h0m2.5 1.5h0m14 3.5h0m2.5-5.5h0m20.5 2.5h0m7 1.5h0m2-1h0m-19.5 10h0m9.5 3.5h0m1.5 5.5h0m3.5-0.5h0m-7.5 4h0m23.5-1.5h0m-38 7.5h0m29-1h0m-10 6h0m7 6h0" stroke="#e6645a" stroke-width="2.3" stroke-linecap="round" fill="none"/>
<path d="M489.5 252h0m7 1.5h0m25.5 0h0m8.5-4h0m-53.5 7h0m2.5 3.5h0m14.5-2.5h0m25 3h0m3.5-2.5h0m-7 6h0m12 1.5h0m-37.5 5.5h0m2.5-1h0m23-0.5h0m14.5 1.5h0m9.5-3h0m2 2.5h0m-10.5 8.5h0m0.5-6h0m-65.5 9.5h0m13.5-1.5h0m4.5 0.5h0m7 0h0m19.5 1h0m31-2.5h0m-70.5 7.5h0m2.5 2h0m19 3.5h0m16.5 0.5h0m73 3h0m29.5-4h0m-137.5 10h0m38.5-3h0m5.5 2.5h0m26-3h0m0.5 3.5h0m34.5 0h0m-104.5 9h0m20.5-2.5h0m1.5 2.5h0m0-2.5h0m28 3h0m23.5 0h0m0.5 2.5h0m-26.5 2h0m12.5 3h0m-60 1.5h0m52.5 10h0m-34.5 6h0m36.5 1.5h0m6.5 18.5h0m-6.5 6.5h0" stroke="#f0a05a" stroke-width="2.3" stroke-linecap="round" fill="none"/>
<path d="M503.5 247h0m1 1h0m-6.5 5h0m2 1.5h0m24-0.5h0m-19 4h0m-19 4.5h0m52.5 9h0m-28.5 8.5h0m-17.5 9.5h0m1.5 0h0m113.5-2h0m-2 14h0m-30 2h0m-39 68.5h0m2 5h0m-5 6h0m-8 6h0" stroke="#f0dc78" stroke-width="2.3" stroke-linecap="round" fill="none"/>
<path d="M478 248.5h0m21-3h0m4 0.5h0m-20 6h0m2.5 0.5h0m36.5 2h0m7-2.5h0m4-1h0m11 3h0m-65 1.5h0m0.5 2.5h0m4.5-0.5h0m4.5 0h0m7.5 3h0m0-1h0m9-0.5h0m1.5 0.5h0m1 0.5h0m24.5-2.5h0m2-2h0m-57.5 8h0m7-2.5h0m3 4.5h0m0-3.5h0m1 4h0m2.5-5h0m14 1h0m25 4h0m4.5-4h0m1.5-1h0m4.5 5h0m-68 3h0m40 1.5h0m7.5 1.5h0m3-3h0m3.5 2.5h0m0.5 1h0m1-5h0m9.5 0h0m2 1h0m2.5 3.5h0m4-1h0m-64 4.5h0m27.5 2h0m13-2.5h0m0.5 0.5h0m2-1h0m0.5 0.5h0m18-1.5h0m-72 10.5h0m15-3h0m1 3.5h0m5.5-0.5h0m5.5-2.5h0m1 2h0m-26.5 5h0m15.5-1.5h0m18 4h0m8.5-4.5h0m5 3.5h0m84.5-1.5h0m4 1.5h0m-102.5 4.5h0m39.5-0.5h0m34.5 2h0m0-1h0m25.5-3.5h0m5 4.5h0m0.5-1.5h0m-117 7h0m8.5 0h0m30-1h0m12 2.5h0m23-2h0m14 0.5h0m0 1h0m23.5-3h0m-88 6h0m7 2.5h0m0-0.5h0m5.5-2h0m9.5-1.5h0m5.5 0h0m9.5 4.5h0m27.5-4h0m1 1h0m-82.5 6.5h0m12.5 1.5h0m3-2.5h0m6 0h0m23.5 0h0m6 3h0m-24.5 2h0m8 3.5h0m6-2h0m2 1.5h0m5-3.5h0m5.5 1h0m-13.5 7h0m3 0.5h0m2 1.5h0m-16 3h0m9 2.5h0m4.5-1.5h0m-42.5 8.5h0m42.5-3h0m1 3h0m6.5-4.5h0m-22.5 26.5h0m5 20h0m2 0.5h0m3-1h0m-1.5 6.5h0m2 4h0m1 1.5h0m-7 6.5h0m8.5-3h0" stroke="#f0b478" stroke-width="2.3" stroke-linecap="round" fill="none"/>
<path d="M540 250h0m-25 12.5h0m-6.5 9.5h0m27-2.5h0m71.5 24.5h0m-45.5 29.5h0m2 7h0m0.5 3h0m0 1.5h0m27.5 30.5h0m-55 4.5h0m26.5-1h0m21 5.5h0m-22 10h0m6-2.5h0m-34 13.5h0" stroke="#e6f0aa" stroke-width="2.3" stroke-linecap="round" fill="none"/>
<path d="M495 242h0m-13 4h0m18 1.5h0m1.5 1h0m33-3.5h0m-48.5 9.5h0m0-1.5h0m39-3.5h0m6-0.5h0m-57 10h0m9-1.5h0m0-1h0m0 0.5h0m31.5 2h0m-32 6.5h0m2.5 1h0m3.5-4h0m1 4.5h0m13.5-5h0m3.5 2.5h0m13 2h0m6.5 0.5h0m9-2.5h0m2.5 1.5h0m-69 2.5h0m8 2h0m37.5-3h0m7.5 4.5h0m-52.5 4h0m1.5-3h0m4.5 5.5h0m0.5-5.5h0m1.5 3h0m3-0.5h0m2.5-2h0m1 5.5h0m0-4h0m36-1.5h0m19-0.5h0m1 1h0m-67 9.5h0m3-0.5h0m10 0h0m0 0h0m2 0h0m4.5-1h0m9.5 2.5h0m13.5 0h0m9.5-5h0m77 4.5h0m-57.5 2h0m28.5 8.5h0m11.5 1h0m-92.5 2.5h0m4.5 4h0m4.5-0.5h0m1.5-2.5h0m38 4h0m7.5 0h0m19.5-2h0m15 2h0m-93.5 0.5h0m29 2h0m7-2h0m24.5 0.5h0m1 3h0m19.5-2h0m2.5-0.5h0m10 1h0m-45.5 4.5h0m7 4.5h0m4.5-2.5h0m-6 5.5h0m5 3h0m1.5-2.5h0m-31.5 5.5h0m16.5 2.5h0m-6.5 2h0m3.5-0.5h0m5.5 8h0m8 2.5h0m1 4h0m-52.5 6.5h0m5.5 2.5h0m18.5 7h0m16.5 41h0" stroke="#f0aa64" stroke-width="2.3" stroke-linecap="round" fill="none"/>
<path d="M569 247h0m0 8h0m-90 1.5h0m51 21h0m-7 6.5h0m2-3.5h0m7.5 4h0m30.5-0.5h0m-97.5 5.5h0m10.5-0.5h0m29.5 0.5h0m-34.5 2.5h0m38.5 2h0m4.5-1.5h0m14-1h0m0 1.5h0m0.5 2.5h0m26.5 0.5h0m4.5-1h0m1.5 0h0m-81.5 13h0m-6 1h0m13.5 6h0m12.5-0.5h0m12.5-4h0m23.5 3.5h0m2.5-1h0m-61 4h0m4 3h0m5-4.5h0m10.5 5h0m1-1h0m13.5 4.5h0m-15.5 5h0m10.5 0h0m13.5 0h0m-21.5 9h0m0.5-1h0m13.5-0.5h0m-24.5 3h0m16 3h0m16-2.5h0m-16.5 6.5h0m27 0h0m-15 7.5h0m13 7h0" stroke="#dc506e" stroke-width="2.3" stroke-linecap="round" fill="none"/>
<path d="M527 244.5h0m10 2.5h0m-43 3h0m35.5-0.5h0m2 1h0m1-0.5h0m-55 6.5h0m10-1h0m5 2.5h0m12.5 2.5h0m25-3h0m1.5-2h0m9.5 2.5h0m2.5-2.5h0m-36 6h0m15.5-0.5h0m1.5 3.5h0m11-2h0m-37.5 5.5h0m15 3.5h0m7-0.5h0m3-1h0m14-0.5h0m1 2.5h0m1-3.5h0m0.5 3.5h0m-63 6h0m9-5h0m1.5 4.5h0m18.5 1.5h0m21-1.5h0m0.5-0.5h0m-60 2.5h0m8 0h0m15.5 0h0m5.5 1h0m20.5 1h0m-9.5 4.5h0m29 15h0m35.5 2h0m-70.5 5.5h0m79-4.5h0m-55.5 6h0m16.5-0.5h0m2 0.5h0m-24 8.5h0m15 0h0m-36.5 7h0m45.5-4h0m3 12.5h0m-5 5.5h0m-12.5 16h0m-12.5 11.5h0m12.5 11h0m2.5 8.5h0m5-0.5h0m-4.5 2h0m6 11.5h0" stroke="#f0be78" stroke-width="2.3" stroke-linecap="round" fill="none"/>
<path d="M501 248h0m40.5-0.5h0m-64.5 2h0m59-0.5h0m6.5 4h0m-35 7h0m21.5-1.5h0m-26.5 12h0m23 0.5h0m14.5-3h0m-28.5 6.5h0m-17 12h0m115 11.5h0m-76.5 75.5h0m-5.5 12h0m1-2h0m9 5h0m2.5 3h0m-2.5 5.5h0m-2 2.5h0" stroke="#e6dc46" stroke-width="2.3" stroke-linecap="round" fill="none"/>
<path d="M533.5 243h0m0 0h0m-36.5 4h0m3 7.5h0m29.5 0h0m12 6h0m-44 4.5h0m12-1h0m8.5 3h0m10-1h0m-25 2.5h0m4 0h0m7.5 7h0m-3 4.5h0m-4 13h0m99.5 6.5h0m-27 5.5h0m-37 20h0m1 10h0m-7.5 44h0m-1 9h0m5.5 1.5h0m-12 7.5h0m9.5-3h0" stroke="#f0dc82" stroke-width="2.3" stroke-linecap="round" fill="none"/>
<path d="M573.5 253.5h0m5.5-1.5h0m-104.5 31.5h0m91 4.5h0m-14 5h0m-47.5 5h0m7.5 2h0m-14 4h0m-19.5 20.5h0m32-1.5h0m15.5 4h0m-10.5 19h0m21.5 1.5h0m2.5-2.5h0m1.5 0.5h0m-5.5 6h0m-5 8.5h0" stroke="#d25064" stroke-width="2.3" stroke-linecap="round" fill="none"/>
<path d="M541 246.5h0m-3.5 6h0m0 0.5h0m-9.5 10.5h0m-40.5 12.5h0m117.5 15.5h0m-43 32h0m0.5 8.5h0m4.5-4.5h0m-5 8.5h0m-25.5 37h0" stroke="#e6f0a0" stroke-width="2.3" stroke-linecap="round" fill="none"/>
<path d="M487 246.5h0m3 1.5h0m6-3h0m5 0.5h0m24.5 4h0m-47 6h0m7.5 3.5h0m16.5 1h0m13-1h0m-31.5 5h0m3-2.5h0m3 5h0m29-4.5h0m-35.5 8h0m3.5-1h0m6 2h0m10.5 1h0m17.5-3.5h0m4-0.5h0m-55.5 8.5h0m1 2.5h0m6.5-4h0m6-0.5h0m40.5 2h0m11 1.5h0m-61.5 6.5h0m8.5-0.5h0m3-0.5h0m1.5 0h0m1-1.5h0m8.5-0.5h0m23.5 0h0m-48 3.5h0m6.5 2h0m10 3.5h0m2.5-3h0m6.5 2h0m8 0.5h0m40.5-1h0m-70 3h0m16 0h0m2 2.5h0m43.5 2h0m73-3.5h0m-129 5.5h0m51 4.5h0m7-3.5h0m31.5 1.5h0m12.5-4h0m18 4h0m-104.5 5.5h0m15 0.5h0m8-3h0m18 0h0m5 3.5h0m4.5-3h0m7-1h0m-37 7.5h0m1.5 2.5h0m25.5 1.5h0m5-5h0m3-0.5h0m-65 8.5h0m18 2.5h0m7-2h0m15.5-2.5h0m-37.5 8.5h0m5-0.5h0m21.5-0.5h0m13.5 4.5h0m11.5-0.5h0m8 4h0m-39.5 7.5h0m36.5-3.5h0m-21.5 8.5h0m-33.5 3h0m52.5 0.5h0m-17.5 8.5h0m-1 29.5h0m15-4h0" stroke="#f0965a" stroke-width="2.3" stroke-linecap="round" fill="none"/>
<path d="M563.5 250h0m1.5 4h0m10 0h0m-89 15.5h0m-10.5 7.5h0m6 5h0m20-1.5h0m18.5 0.5h0m8 3h0m17 0h0m5-0.5h0m-80.5 6h0m7-2.5h0m32-0.5h0m3.5-1.5h0m14.5 0.5h0m13 3.5h0m4.5 1h0m6.5-4h0m4 1.5h0m-26 7h0m5-1.5h0m4 0.5h0m6.5-0.5h0m8-0.5h0m7.5 0.5h0m0.5 0.5h0m-92 8.5h0m0.5-2.5h0m46-2.5h0m6 6h0m2-5h0m25.5 3.5h0m4-2.5h0m-81.5 9h0m13.5-3h0m14.5 3.5h0m0.5-0.5h0m12-0.5h0m1.5 0h0m9-3h0m-47.5 4.5h0m16 0.5h0m26 5.5h0m-44 4.5h0m4.5-1h0m22 0.5h0m16-1h0m8.5 2h0m-32.5 5.5h0m0.5 0.5h0m2.5-4h0m0.5 5h0m19-5h0m1 5h0m34-5h0m-33 10h0m6.5-2.5h0m-37.5 7.5h0m8-0.5h0m7.5-1.5h0m33.5 2h0m-44.5 5h0m24.5-2.5h0m5 7.5h0m8.5-1.5h0m2.5 3.5h0m13 1h0m-41 2.5h0m8 0.5h0m3 2.5h0m14-1h0m10.5 0h0m-30 5h0" stroke="#dc5064" stroke-width="2.3" stroke-linecap="round" fill="none"/>
<path d="M475 291h0m61.5-3h0m28 4h0m-63.5 14h0m5 23.5h0m-12.5 21h0m44.5 0h0m1 0h0" stroke="#be1e5a" stroke-width="2.3" stroke-linecap="round" fill="none"/>
<path d="M481.5 247h0m26.5 3.5h0m3.5 4h0m26.5 0.5h0m4-3h0m-47.5 3.5h0m36 12h0m0 5h0m-41 6h0m14 1.5h0m103 7h0m-40.5 12h0m41-1h0m-68.5 87h0m-12 7h0m9.5 3h0" stroke="#e6dc32" stroke-width="2.3" stroke-linecap="round" fill="none"/>
<path d="M488.5 248h0m6 2.5h0m35 4h0m-40 3h0m6.5 0.5h0m7.5 0.5h0m26-1.5h0m10.5 1.5h0m-66 6h0m40-0.5h0m16.5 2.5h0m14.5-2h0m60 20.5h0m-28.5 11h0m-9.5 6h0m39 0.5h0m-26.5 6.5h0m-42.5 67h0m3 12.5h0m0.5 9h0" stroke="#e6dc5a" stroke-width="2.3" stroke-linecap="round" fill="none"/>
<path d="M493 242h0m-12.5 6h0m9.5-1h0m1.5 0.5h0m2.5-2.5h0m6 1.5h0m26 1.5h0m6.5 0h0m3-2h0m-52.5 6.5h0m3-2.5h0m1.5 5h0m2-5.5h0m1.5 5.5h0m2-6h0m2.5 5.5h0m12.5-3h0m3.5 3.5h0m17-1h0m-46 2.5h0m5 2h0m2-1.5h0m2 2h0m13 1h0m15-1.5h0m13.5 2h0m2-0.5h0m-62.5 7h0m7-4.5h0m6.5 4.5h0m28-4h0m9 2h0m4.5-4h0m7 5.5h0m2-0.5h0m5 1h0m0.5-2h0m0.5-1.5h0m1.5 2.5h0m-54 5h0m24-1h0m-25.5 7.5h0m14.5-2h0m12.5 0h0m2 0.5h0m17.5 0h0m-51 7h0m1 0h0m2.5 0h0m5.5 0h0m3-3h0m12.5 4h0m-40 1h0m22.5 0.5h0m29.5 4h0m87-3h0m-66.5 13h0m10 3h0m14.5-2.5h0m17-0.5h0m4 1h0m-95 3.5h0m42.5 1.5h0m0 1h0m38-3h0m5 3.5h0m-33 4h0m5.5-1.5h0m-3 11h0m-10.5 1h0m1.5-0.5h0m0.5 1h0m3.5 10h0m-10 9h0m7 31h0m-8.5 9h0m3 2h0m4-0.5h0m-8 8.5h0m4 0h0m-2 5h0" stroke="#f0be82" stroke-width="2.3" stroke-linecap="round" fill="none"/>
<path d="M568.5 247h0m-3 2h0m2 2.5h0m9.5 4.5h0m-84 14.5h0m-21.5 8.5h0m15.5-1.5h0m-19 5.5h0m1.5 1.5h0m57-5h0m0.5 4h0m9 2h0m10 0h0m-44.5 7.5h0m20.5 3h0m26-3h0m1 0.5h0m0-2h0m3 3.5h0m-78.5 4h0m1 1.5h0m37.5 2h0m22-5h0m-44.5 13h0m4-1h0m19 7.5h0m-9 6h0m1-2h0m-4.5 6.5h0m16 9h0m0.5-1.5h0m-25 8.5h0m24-3h0m13 3.5h0m-34 5h0m17.5 1h0m1.5-3.5h0m-9.5 13.5h0m13.5 2.5h0" stroke="#d2506e" stroke-width="2.3" stroke-linecap="round" fill="none"/>
<path d="M540.5 251h0m1.5 0.5h0m-35 25h0m4.5 3.5h0m95 11.5h0m-0.5 9.5h0m1.5-4h0m-41.5 27h0m-7 8h0m0.5 1h0m0.5 3h0m2.5 0.5h0m1-2h0m8 32.5h0m-15 7h0m8 6h0m-6 2.5h0m2 2.5h0m1 0h0m0-2.5h0m2.5 2.5h0m5 0.5h0" stroke="#dcf0b4" stroke-width="2.3" stroke-linecap="round" fill="none"/>
<path d="M507.5 250h0m20 1.5h0m-31.5 8.5h0m11-2h0m12.5 1.5h0m11-4h0m9 0h0m-65.5 7h0m30.5-1h0m20.5 4.5h0m18-4.5h0m-30 8.5h0m5.5-0.5h0m-22 5h0m9 4.5h0m5-3.5h0m10 6.5h0m50.5 15.5h0m-29.5 16h0m-6.5 12.5h0m-0.5 48h0m3-4h0m-5 8.5h0m9.5-1.5h0m-16 4h0m8.5 1.5h0m-1 7.5h0m7 1.5h0m-3.5 2.5h0m2.5 4.5h0" stroke="#e6dc64" stroke-width="2.3" stroke-linecap="round" fill="none"/>
<path d="M537.5 289h0m11-4h0m-26 6.5h0m13 6h0m21.5 3h0m-75.5 3h0m2 11.5h0m28-3.5h0m-41 6h0m11-0.5h0m6 13h0m27-1.5h0m-9.5 15h0m10 0h0m16 5.5h0m6.5 0h0m-18.5 4.5h0m7.5 4.5h0m5 3.5h0" stroke="#d23c64" stroke-width="2.3" stroke-linecap="round" fill="none"/>
<path d="M540 250.5h0m2-1.5h0m65.5 45.5h0m2.5 0h0m-49 36.5h0m0.5 50h0" stroke="#e6f096" stroke-width="2.3" stroke-linecap="round" fill="none"/>
<path d="M541.5 254.5h0m1-2h0m22.5 6.5h0m41.5 41.5h0m-48 30h0m5-1.5h0m-1.5 10h0m1-6h0m22 34h0m-29 7h0m20.5-3.5h0m6 0h0m-32.5 9h0m4 1h0m7 0h0m2.5-1h0m0.5 1h0m4.5-1h0m-14.5 1.5h0m4 5.5h0m3-1.5h0m2 1h0m1 0.5h0m-14 2h0m10 1h0" stroke="#dcf0be" stroke-width="2.3" stroke-linecap="round" fill="none"/>
<path d="M498.5 250h0m40 4h0m-3 5h0m8.5-3.5h0m-6 11h0m-28 9.5h0m4-0.5h0m91 17.5h0m-69.5 82h0m-7.5 18h0m13 4.5h0" stroke="#e6e66e" stroke-width="2.3" stroke-linecap="round" fill="none"/>
<path d="M492 252.5h0m15 19h0m0.5 5.5h0m25.5 48.5h0m7 45.5h0m2 12h0" stroke="#e6dc6e" stroke-width="2.3" stroke-linecap="round" fill="none"/>
<path d="M547.5 293h0m-80.5 7.5h0m39.5 1h0m-19.5 15.5h0m10.5 5.5h0m1 2.5h0m16.5 16h0m-2.5 6.5h0m13.5 10h0" stroke="#be285a" stroke-width="2.3" stroke-linecap="round" fill="none"/>
<path d="M536 245.5h0m5 3h0m-41.5 1.5h0m3 26h0m35 116h0" stroke="#e6f082" stroke-width="2.3" stroke-linecap="round" fill="none"/>
<path d="M532.5 253.5h0m3.5 12h0m-26.5 2.5h0m9 0h0m23.5 67h0m-7.5 41h0m1.5 2h0m-6.5 7h0" stroke="#f0dc6e" stroke-width="2.3" stroke-linecap="round" fill="none"/>
<path d="M479.5 262.5h0m-7.5 17.5h0m10 2.5h0m8.5 5h0m79.5 13.5h0m-39.5 17.5h0m-7 13h0m6.5 29h0" stroke="#e68c50" stroke-width="2.3" stroke-linecap="round" fill="none"/>
<path d="M541 247.5h0m-46 3h0m30 6.5h0m19.5-1h0m-10 11h0m70 25h0m-41 7h0m43.5 1h0m-71.5 69.5h0m1 3h0m-1 17h0m-3.5 7h0" stroke="#e6e65a" stroke-width="2.3" stroke-linecap="round" fill="none"/>
<path d="M566 288.5h0m-49.5 4h0m-28.5 16h0m0.5-5h0m43.5 1.5h0m-43 7h0m50.5 2.5h0m-41 23h0m18 7h0m13-3h0m-16 10h0" stroke="#dc6464" stroke-width="2.3" stroke-linecap="round" fill="none"/>
<path d="M494 246h0m-9.5 8.5h0m20.5 11.5h0m9.5 2h0m4 12h0m-19.5 7.5h0m67 15.5h0m2.5-1.5h0m-35.5 19h0m-2 76.5h0" stroke="#f0c88c" stroke-width="2.3" stroke-linecap="round" fill="none"/>
<path d="M491.5 250.5h0m49 4.5h0m-21.5 17.5h0m-9.5 2.5h0m30.5 104.5h0" stroke="#e6e678" stroke-width="2.3" stroke-linecap="round" fill="none"/>
<path d="M540 253h0m29 4.5h0m0.5 1h0m2-0.5h0m3.5-0.5h0m29.5 31h0m-21.5 40h0m-21.5 8h0m-9.5 31h0m2-1.5h0m21 2h0m10-0.5h0m-40.5 7h0m0.5-2.5h0m2 1h0m4-1.5h0m4 1h0m1.5 0.5h0m1.5 0h0m9.5-1h0m3.5-3h0m17.5 0.5h0m-43 10.5h0m15.5-2.5h0m0.5 2.5h0m23 0h0m-41.5 5.5h0m0.5-2h0m10-2.5h0m2 1h0m13.5 4.5h0m3-2h0m7.5 2h0m4-5h0m-21.5 10.5h0" stroke="#8cd2c8" stroke-width="2.3" stroke-linecap="round" fill="none"/>
<path d="M540 253h0m28 3.5h0m3 6h0m33 23h0m-39 34.5h0m-6 6h0m4 1h0m3 5h0m-6 2.5h0m0.5 11.5h0m-13 22h0m6-1.5h0m27 1h0m12 1h0m-44.5 5h0m1 0.5h0m0.5-3h0m2-0.5h0m0 0.5h0m0.5 3.5h0m4.5-2.5h0m3 3h0m0.5-2h0m0.5 0h0m5 1h0m3.5-2h0m1 2h0m-25.5 2.5h0m1.5 0h0m15.5 2h0m0-2.5h0m15 0.5h0m7 1.5h0m-30.5 3.5h0m3 5h0m0.5-2.5h0m1.5-2h0m0-1h0m0 2h0m0.5 3.5h0m7.5 0h0m4.5-4.5h0m6-1h0" stroke="#b4e6c8" stroke-width="2.3" stroke-linecap="round" fill="none"/>
<path d="M509.5 273.5h0m4 0h0m-5.5 7.5h0m93.5 9h0m2-3h0m-69 91.5h0m-2.5 4h0m3 13h0m2 0.5h0m2.5 0.5h0" stroke="#e6e646" stroke-width="2.3" stroke-linecap="round" fill="none"/>
<path d="M532 247.5h0m-37 2h0m40.5 8h0m-50 3.5h0m122.5 30.5h0m-74.5 97.5h0" stroke="#e6e664" stroke-width="2.3" stroke-linecap="round" fill="none"/>
<path d="M507 274h0m56 46.5h0m-5 5.5h0m3.5 5h0m5 0.5h0m-12 43.5h0m25.5-4.5h0m-19 6.5h0m4.5 0.5h0m1.5 1.5h0m3 4h0m-7.5 4.5h0" stroke="#c8f0be" stroke-width="2.3" stroke-linecap="round" fill="none"/>
<path d="M538.5 255h0m2-3.5h0m20 74h0m2-4h0m-14 51.5h0m10.5 1.5h0m7.5 7h0m1 0h0" stroke="#dcf0aa" stroke-width="2.3" stroke-linecap="round" fill="none"/>
<path d="M507.5 279h0m98 23.5h0m-41 17h0m-7 6.5h0m0.5-4h0m0.5 4h0m4.5-5h0m3.5 15h0m0.5 3.5h0m-1 23h0m-13 4h0m0-0.5h0m0.5 2h0m0.5-1h0m0.5-1.5h0m20 2h0m15-2h0m7 0h0m-52 4.5h0m3 0h0m10 1h0m1.5 2h0m0.5 1h0m18.5-1h0m9.5 2h0m0.5 0h0m2-3h0m-37.5 7h0m5 1h0m3.5-4h0m12 4.5h0m0.5-0.5h0m-23 3.5h0m14-1h0" stroke="#bee6c8" stroke-width="2.3" stroke-linecap="round" fill="none"/>
<path d="M543 247h0m-46 4h0m111.5 37h0m-8 10h0m-61 85.5h0" stroke="#e6f08c" stroke-width="2.3" stroke-linecap="round" fill="none"/>
<path d="M531.5 244.5h0m73 43h0m-37 11h0m-14.5 12.5h0m-14 63.5h0m-5.5 1.5h0m-3 20h0" stroke="#e6e650" stroke-width="2.3" stroke-linecap="round" fill="none"/>
<path d="M570.5 323h0m3 4h0m7-2.5h0m3 2.5h0m2-0.5h0m-16 3h0m8.5 1h0m4-1.5h0m9.5 2.5h0m-22.5 5.5h0m5 1.5h0m2.5-5h0m4 4h0m2-0.5h0m5-2.5h0m1.5 4.5h0m6.5-2h0m-28 3h0m1.5 3.5h0m14.5-3.5h0m5 0.5h0m-19 6.5h0m18.5 3.5h0m-16 4h0m10 0h0m-12 8.5h0m1 0h0m10.5-3.5h0m6-0.5h0m0.5 1h0m1 0.5h0m-22 3.5h0m4.5 1h0m10.5-1.5h0" stroke="#3c8cd2" stroke-width="2.3" stroke-linecap="round" fill="none"/>
<path d="M571 257.5h0m0 3h0m-5.5 1h0m-1.5 82h0m2.5 1h0m0-5h0m-4.5 9h0m20.5 6.5h0m8 4.5h0m-38.5 9h0m2.5-1.5h0m6 0.5h0m1.5-1h0m7 0h0m7-0.5h0m-32 6h0m4 2h0m2-1.5h0m3.5-2.5h0m0 1h0m7.5 1.5h0m2 1.5h0m4-0.5h0m5.5-4.5h0m3 3h0m3 0h0m7.5-3h0m-43 7.5h0m11.5 3.5h0m2.5-2.5h0m4 1.5h0m5.5-1h0m1-1h0m16.5 2h0m-40.5 3h0m11.5 1.5h0m4.5 2h0m5 1h0m7.5-2.5h0m-25.5 5.5h0m0.5 1h0m7 0.5h0m9.5-1.5h0m3-1.5h0" stroke="#64c8be" stroke-width="2.3" stroke-linecap="round" fill="none"/>
<path d="M577 319.5h0m9.5 4h0m-12.5 4.5h0m4.5-0.5h0m9 5h0m2-1.5h0m-19 7h0m5.5-1h0m0.5-2h0m0.5-2h0m7 0.5h0m2 1.5h0m6 2h0m-22.5 3h0m3-0.5h0m2 3.5h0m7-3h0m11 2.5h0m-29 8.5h0m8-1h0m0.5-3.5h0m0.5 2.5h0m1-3.5h0m2 5.5h0m2.5-3h0m13.5 1h0m-21 2.5h0m9 3.5h0m1-1h0m-12 4.5h0m19 5.5h0" stroke="#4664b4" stroke-width="2.3" stroke-linecap="round" fill="none"/>
<path d="M573.5 320.5h0m-1 2h0m8 1h0m5 2.5h0m0.5 1h0m1.5-1h0m0.5-4h0m1.5 3h0m1 1h0m0 0h0m0.5 1h0m-15 1.5h0m5.5 3.5h0m1-1.5h0m0-3h0m0.5 4.5h0m3-3.5h0m3-0.5h0m0 2h0m1-2h0m1.5 1.5h0m0-1h0m0.5 1h0m0.5 1.5h0m0-1.5h0m0.5 1h0m0.5 2h0m0.5-5h0m0 0h0m1 3.5h0m0-3h0m0.5 0.5h0m0 1h0m0 3h0m-14.5 5.5h0m0.5-0.5h0m2.5 0.5h0m8-5h0m0.5 0h0m2.5 6h0m-20.5 4.5h0m0.5-0.5h0m6 1h0m0.5 0.5h0m1-2h0m0.5-2h0m5.5 2.5h0m2 1.5h0m0.5-3h0m0.5 1h0m1.5-1.5h0m1 2h0m0.5-0.5h0m-26.5 6.5h0m0-4h0m1 0.5h0m0.5 2h0m1-2h0m1.5 3.5h0m0.5-4h0m2 3.5h0m1 2h0m0-3h0m0 0.5h0m0.5 3h0m1-6h0m0 5.5h0m0-2h0m0.5-3.5h0m0.5 6h0m0.5-4h0m1 2h0m0.5-4h0m0 1.5h0m0.5-1.5h0m0 3.5h0m0.5-1h0m0 2.5h0m0.5-3h0m0-2h0m2 5h0m0.5-3.5h0m0.5 2h0m0-2.5h0m0.5 2h0m0.5-2.5h0m0 0h0m0.5 2.5h0m1-2.5h0m0 2h0m1.5 2.5h0m3 0.5h0m0 0.5h0m-21.5 4h0m0 0.5h0m1-2.5h0m1 3.5h0m5-3.5h0m2-1.5h0m0 4.5h0m1.5-3h0m2 3.5h0m2.5-2h0m3.5-0.5h0m2.5 0.5h0m-24.5 7h0m6.5 0.5h0m5.5-3h0m1.5 1h0m2-2h0m0-0.5h0m1.5 3h0m5.5 1h0m-7.5 2.5h0m6-0.5h0m0.5 1.5h0" stroke="#5050a0" stroke-width="2.3" stroke-linecap="round" fill="none"/>
<path d="M575 256.5h0m0.5-0.5h0m-8 8.5h0m5-3h0m26.5 23.5h0m-26.5 37.5h0m-9 6h0m1.5 9.5h0m-3 10.5h0m3.5 8h0m-5.5 2h0m2.5-1.5h0m11.5 5.5h0m-28.5 5.5h0m5-0.5h0m2-2.5h0m24.5 1h0m4.5 1.5h0m10-3.5h0m3.5 4.5h0m-51.5 0.5h0m1.5 2h0m0.5 0h0m1.5 2.5h0m2.5-2.5h0m0.5-1.5h0m1.5 4.5h0m3.5-5h0m0.5 0.5h0m2 3.5h0m0.5-2h0m11.5 1.5h0m3 0h0m3 2.5h0m0.5-3h0m10.5 2.5h0m0 0h0m2.5-1h0m-36.5 2h0m2 0.5h0m3 0h0m1.5 2.5h0m9-3h0m10.5 5h0m0.5-4.5h0m2.5 0h0m0.5 0h0m-40 6h0m3.5 3.5h0m0-1.5h0m0.5-3h0m9.5 2h0m0 1h0m17-0.5h0m8.5-1h0m-37.5 5h0m0.5 3h0m5.5-0.5h0m0.5 0.5h0m6.5-2h0m0 2.5h0m1 0.5h0m7.5-2.5h0m12-1h0m-35 6h0" stroke="#50bebe" stroke-width="2.3" stroke-linecap="round" fill="none"/>
<path d="M568.5 321h0m1 5h0m0.5-3h0m4.5-1.5h0m1.5 5h0m5-3h0m1.5-2h0m-7 6.5h0m4.5 1.5h0m3.5 1.5h0m1-1h0m-11 7.5h0m2.5-4h0m9 2.5h0m1.5-1.5h0m0 1.5h0m0 0h0m3-1h0m3.5 3h0m0-3h0m0.5 0h0m-25 7h0m5 0h0m0.5-0.5h0m2-1.5h0m5 3h0m6.5 0h0m-13 6h0m10-3h0m3.5 2h0m1 3h0m3.5-4.5h0m-22.5 6.5h0m2.5 2h0m4.5-3h0m4 2.5h0m11.5 0.5h0m-30.5 2h0m0.5 0h0m2 5.5h0m5-4.5h0m2.5 1.5h0m0.5 0h0m1 3h0m2-0.5h0m0-4h0m1 1.5h0m0.5-2.5h0m2 3h0m9-0.5h0m7-1.5h0m-16 7h0m0.5-0.5h0m9-0.5h0m-18.5 11h0m15-1h0" stroke="#3c82c8" stroke-width="2.3" stroke-linecap="round" fill="none"/>
<path d="M602.5 283h0m1.5 4h0m-2 13h0m-37.5 23.5h0m-6.5 6h0m0.5 6.5h0m9 1.5h0m-5.5 6h0m15 24h0m2-1.5h0m-18.5 4h0m2-0.5h0m9.5 5h0m3.5-1h0m-27 2h0m7 9h0m2.5-3.5h0m1 2.5h0m6.5-1.5h0m-6.5 5.5h0" stroke="#d2f0be" stroke-width="2.3" stroke-linecap="round" fill="none"/>
<path d="M570.5 261.5h0m-2 63h0m2 1h0m-5 4h0m5.5-1h0m2.5-0.5h0m8.5 0.5h0m-14 10.5h0m3-2h0m2-1.5h0m4 1h0m2.5 1h0m1 0h0m4.5-2.5h0m1.5 1.5h0m2 0h0m1 2h0m2-3.5h0m1.5 3h0m0-4.5h0m1 4.5h0m-32.5 5.5h0m3.5-2.5h0m2-1.5h0m24 3h0m1-2.5h0m-28.5 6h0m5.5 10.5h0m3-3h0m0.5-1h0m1 2.5h0m8.5-2h0m7.5 3h0m-29 5h0m1-2h0m5 3h0m0 0.5h0m0.5-3.5h0m0.5-0.5h0m10 3.5h0m1 1h0m7-3h0m3.5 0.5h0m4.5-3h0m0.5 2.5h0m-45.5 7.5h0m10.5 0h0m27.5-4h0m0.5 1h0m2 3h0m3-3h0m-46 9h0m22-3h0m12-1h0m0.5 8h0m1 1.5h0m1.5-1.5h0m-35.5 6h0m4.5 2h0m25 0.5h0m7.5-4h0m-21 8h0m5-1h0" stroke="#46aad2" stroke-width="2.3" stroke-linecap="round" fill="none"/>
<path d="M570 259h0m-4.5 4.5h0m38 29.5h0m-39.5 25h0m2.5 9.5h0m0 5.5h0m-2 7h0m-1.5 28h0m15-0.5h0m10.5 0.5h0m-39 1h0m5 0.5h0m7.5 3.5h0m3.5-1.5h0m1 1h0m-21.5 4h0m6.5 2h0m3.5-1.5h0m4 3.5h0m7-2.5h0m2.5 1h0m-26 4.5h0m12-2.5h0m9 2.5h0m2-2h0m-22 10.5h0m7-0.5h0m2 0.5h0m9-3h0" stroke="#aadcc8" stroke-width="2.3" stroke-linecap="round" fill="none"/>
<path d="M575 260h0m1 0h0m-7 3h0m-10 68.5h0m7.5 0h0m19.5-1.5h0m-15.5 6.5h0m-8.5 4h0m0 10h0m2-4.5h0m3-0.5h0m4 5.5h0m-10.5 9.5h0m1-1h0m11-1.5h0m15.5 4h0m4.5-1h0m-40.5 6h0m15.5-0.5h0m8-0.5h0m9.5 0.5h0m-9.5 6h0m2.5-3.5h0m2.5 5h0m0.5-3h0m0.5-2h0m1 4.5h0m3.5-4.5h0m-37 10.5h0m19.5-2.5h0m11 3h0m-24.5 5.5h0m20-4.5h0m1.5 0.5h0m-20 8.5h0m1 0h0m-15 4h0" stroke="#50bec8" stroke-width="2.3" stroke-linecap="round" fill="none"/>
<path d="M570.5 325.5h0m0-3.5h0m1.5 4h0m3-4h0m3-1h0m3.5 8h0m11.5 1.5h0m-23.5 7.5h0m0 0h0m2-4h0m2.5 0h0m14 2.5h0m-21 6h0m5.5 0.5h0m13.5-0.5h0m2-1h0m0.5-0.5h0m0.5-1.5h0m5.5 0h0m-23 7.5h0m13.5 3.5h0m2-1.5h0m-13 7h0m1-4.5h0m14 5h0m-18.5 0.5h0m2.5 4.5h0m1.5-3.5h0m0.5 4h0m4.5 0h0m0-3h0m13.5 1.5h0" stroke="#3c78c8" stroke-width="2.3" stroke-linecap="round" fill="none"/>
<path d="M568.5 258.5h0m3.5 1h0m0.5-2h0m0.5 4.5h0m31.5 25h0m4.5 6.5h0m-44.5 37.5h0m-6 6.5h0m4.5 24h0m-10.5 6h0m9-1h0m15 0.5h0m2.5 1.5h0m-36.5 1.5h0m1.5 3h0m3.5 0h0m1 1h0m0.5-3h0m1-1h0m3.5 2.5h0m10.5 0h0m9.5-1.5h0m0.5 0.5h0m0.5 3.5h0m8.5-2h0m-39 5.5h0m3-2.5h0m5.5 4.5h0m4-3h0m7 1.5h0m2 0.5h0m3.5-2h0m4 1h0m8 0.5h0m4 0h0m1-0.5h0m-8 6.5h0m-22.5 4.5h0" stroke="#78d2c8" stroke-width="2.3" stroke-linecap="round" fill="none"/>
<path d="M570 325.5h0m2-3h0m6-1h0m5 0.5h0m0.5 3.5h0m0.5-2.5h0m-14.5 5h0m4.5 1.5h0m5 1h0m5 0h0m3 1h0m9-0.5h0m-24 7h0m0.5 0.5h0m1.5-3h0m10-1h0m0 0.5h0m6-1h0m0.5 4.5h0m1 0.5h0m-20 0.5h0m1 3.5h0m7-2h0m2-1h0m2 2h0m1-2.5h0m1 0.5h0m6 0h0m2 1h0m0.5 1h0m-22 6h0m19.5 1.5h0m-27 6.5h0m6-3h0m2 0.5h0m2.5 0h0m16 1h0m-20 5.5h0m3.5 1h0m6 2h0m1.5 0h0m9.5-4h0m0 4h0m-34 4.5h0m29-3.5h0m-27 10h0m3.5-4h0m19.5 2.5h0m-2 6.5h0m-28.5 10h0m-8.5 6h0" stroke="#4696d2" stroke-width="2.3" stroke-linecap="round" fill="none"/>
<path d="M572 319.5h0m3 4.5h0m13 5.5h0m8 0h0m-24.5 7.5h0m11-2h0m1 2.5h0m3.5 1.5h0m-18.5 4.5h0m0-3.5h0m13 1.5h0m4 0h0m1 5h0m1 4h0m-18 5h0m1 0h0m10.5-3h0m2 2h0m1-1h0m8-2h0m-22.5 9.5h0m0.5-2.5h0" stroke="#465aaa" stroke-width="2.3" stroke-linecap="round" fill="none"/>
<path d="M605.5 291.5h0m-33.5 28.5h0m-3 6h0m1 0.5h0m1 0h0m2 0h0m3.5-1.5h0m0.5-4h0m12 11h0m-24.5 7h0m2 0h0m3-3h0m3.5-2.5h0m3 1h0m4 2h0m0 2.5h0m8-1h0m1-3h0m6.5 0h0m-28 6h0m1.5 0.5h0m2.5 2h0m-8.5 13h0m1.5-5h0m14 4.5h0m3.5 0.5h0m5.5-2.5h0m1.5-1.5h0m-29.5 10h0m4.5-5.5h0m14.5 1.5h0m1 0.5h0m1 1h0m0.5 1h0m8.5 1.5h0m3.5-5h0m-38.5 7h0m39.5-1h0m-28 9.5h0m8.5-1.5h0m-30.5 6.5h0m42.5-2h0m-13 7.5h0m6.5 0h0m-19 5.5h0" stroke="#46a0d2" stroke-width="2.3" stroke-linecap="round" fill="none"/>
<path d="M574.5 257.5h0m0.5 0.5h0m0.5-1h0m-7.5 7h0m1.5 0h0m2.5 0.5h0m-2.5 57.5h0m0.5 3.5h0m4 0h0m0.5-3h0m2 0.5h0m1.5 14h0m4.5 0.5h0m6-4.5h0m2 6h0m3-0.5h0m-30.5 2h0m4-1h0m20.5 0.5h0m4 2.5h0m0.5-1h0m1-1h0m-30.5 9h0m1-0.5h0m0-2.5h0m-2 6.5h0m3.5 3h0m-3 3h0m3.5-1.5h0m2.5 0.5h0m7.5 4.5h0m3-5h0m5.5 1.5h0m5.5 3.5h0m2-3.5h0m0.5 1.5h0m-47 6.5h0m6 1.5h0m28.5-2h0m6 2h0m2.5-1h0m-45 7.5h0m1.5-5h0m2.5 1h0m0 0.5h0m8-0.5h0m7.5-2h0m1.5 4.5h0m10.5-0.5h0m10.5-3h0m2 2.5h0m-44 8h0m9 0h0m19.5-2.5h0m6.5-1h0m3.5-1h0m3 1h0m3.5 0.5h0m-45.5 9.5h0m8-4.5h0m0 4h0m4-0.5h0m20.5-2.5h0m0 3h0m2-1.5h0m1.5-0.5h0m1 0.5h0m-33.5 6h0m3.5 0.5h0m4-4h0m2 1h0m18 0h0" stroke="#50b4c8" stroke-width="2.3" stroke-linecap="round" fill="none"/>
<path d="M571 321.5h0m2 9.5h0m18.5 13h0m-7 4.5h0m-8.5 5.5h0m4 6h0" stroke="#465ab4" stroke-width="2.3" stroke-linecap="round" fill="none"/>
<path d="M568 259h0m1.5 4h0m-4.5 69h0m2-1.5h0m-4 8.5h0m0.5-1.5h0m2.5 1h0m1.5-3h0m-4.5 4h0m-6 29h0m34.5-2.5h0m-47.5 7.5h0m3-4.5h0m35.5 2h0m8.5-2h0m-43.5 8.5h0m1 1.5h0m3.5-1.5h0m0 1h0m5.5 1.5h0m3-2h0m11 0.5h0m1.5-3h0m-28 10h0m2.5-1.5h0m4-1h0m3.5-1.5h0m4.5 2.5h0m15 0.5h0m-6.5 4.5h0" stroke="#a0dcc8" stroke-width="2.3" stroke-linecap="round" fill="none"/>
<path d="M564.5 260h0m-0.5 1.5h0m39.5 36.5h0m-38 22.5h0m-0.5 1.5h0m1 0h0m-1 8h0m10.5-0.5h0m-15.5 9.5h0m2 2.5h0m-9 25.5h0m12.5 0h0m5-1.5h0m0.5 0h0m4 3h0m7-0.5h0m0.5 0.5h0m-36 2h0m10.5 2.5h0m2.5-3.5h0m4.5 1.5h0m13.5 0.5h0m4.5-0.5h0m5 1h0m3 0.5h0m-37.5 7h0m5-1h0m0.5 0.5h0m9.5-0.5h0m11-3h0m3 3.5h0m-38.5 7.5h0m1.5-4h0m6 0.5h0m20.5 1h0m0 1h0m-25.5 4h0m11.5 2.5h0m2-3.5h0m1-0.5h0m0 1h0" stroke="#96dcc8" stroke-width="2.3" stroke-linecap="round" fill="none"/>
<path d="M578.5 256h0m-13.5 69h0m-7 2.5h0m-6 39h0m31.5-0.5h0m-32 4h0m20.5 1.5h0m-21.5 6h0m2.5 4.5h0m16.5 4h0m1-3.5h0m4 0h0" stroke="#5abebe" stroke-width="2.3" stroke-linecap="round" fill="none"/>
<path d="M572.5 258.5h0m-11.5 66.5h0m8.5 3h0m-2 19.5h0m-12 17h0m14.5 0.5h0m-26 8h0m3.5 0.5h0m4.5 0.5h0m0.5 0h0m1-5h0m11.5 1.5h0m19.5 4h0m0.5-1.5h0m-39.5 6.5h0m6.5-3h0m4 0.5h0m1 1h0m13.5-2.5h0m1.5 2h0m6.5-2h0m-30.5 6h0m7.5 0h0m1 4h0m1.5-4h0m0 3h0m11 1h0m0-1.5h0m11.5-0.5h0m-28 4h0m6.5 0h0m12.5 0h0m-29 6h0" stroke="#82d2c8" stroke-width="2.3" stroke-linecap="round" fill="none"/>
<path d="M569 325h0m1-1h0m2-2.5h0m3 5h0m0-2h0m1 8h0m8-1h0m0.5-1.5h0m-9.5 8h0m0.5-5h0m4.5 1h0m4 3h0m1.5-1h0m0.5-2.5h0m3.5 4.5h0m1.5-4.5h0m-22 7.5h0m2 3h0m2.5-2.5h0m7 3h0m10-3h0m-28.5 8.5h0m10-3.5h0m1-1h0m10 4.5h0m2.5-1h0m4-2h0m0.5-2h0m-22 9h0m20-1h0m2.5-1.5h0m-14 10h0m11.5-1.5h0m3.5 1.5h0m0.5-3.5h0m1 2h0" stroke="#3c6ebe" stroke-width="2.3" stroke-linecap="round" fill="none"/>
<path d="M565 325.5h0m-6.5 3h0m-13 38.5h0m3.5 1h0m1-0.5h0m20 1h0m23-1h0m-15 6.5h0m5-3h0m8.5-0.5h0m-34.5 6h0m3.5 8h0" stroke="#aae6c8" stroke-width="2.3" stroke-linecap="round" fill="none"/>
<path d="M573.5 261h0m7 70h0m-18.5 9.5h0m9.5 0.5h0m-7 5.5h0m-2.5 14.5h0m24-4h0m3.5 1.5h0m-19.5 7h0m4-2h0m4 4h0m-25.5 4h0m27.5 2h0m5.5-2.5h0m-36.5 19h0" stroke="#50b4d2" stroke-width="2.3" stroke-linecap="round" fill="none"/>
<path d="M569.5 322h0m18.5 1h0m-7.5 10.5h0m3.5-0.5h0m4.5 0h0m4.5 6h0m-31 4h0m-2.5 2h0m5 2.5h0m23 3h0m5-4.5h0m0-1h0m-30 9.5h0m4 6.5h0m11.5-1h0m-34.5 8.5h0m14.5-1h0m29.5 5h0m-12 9.5h0" stroke="#46aadc" stroke-width="2.3" stroke-linecap="round" fill="none"/>
<path d="M559 340h0m1.5 3h0m-3.5 25h0m12-2h0m14 1.5h0m-41 3.5h0m2.5 3.5h0m27-1h0m0.5-3.5h0m10.5 2.5h0m-11.5 6h0m-24 3.5h0m7 8.5h0m15.5-2h0" stroke="#6ec8c8" stroke-width="2.3" stroke-linecap="round" fill="none"/>
<path d="M565.5 257h0m1 68.5h0m1-2.5h0m0 15.5h0m5-3.5h0m-7.5 26h0m3-0.5h0m-17.5 4h0m25.5 0.5h0m-21 4.5h0m3 1h0m6.5 3.5h0m9.5 1h0m3.5-4h0m8 2h0m-35.5 3h0m2.5 3h0m5.5 0h0m10-3.5h0m5 2h0m5 2h0m-24.5 4h0m16.5-0.5h0m11-0.5h0m-23 9h0m5 0.5h0m7-4.5h0" stroke="#5ac8be" stroke-width="2.3" stroke-linecap="round" fill="none"/>
<path d="M569.5 338.5h0m7-1.5h0m4 2h0m-6.5 2h0m-8.5 8h0" stroke="#468cd2" stroke-width="2.3" stroke-linecap="round" fill="none"/>
<path d="M568.5 264.5h0m5.5 56.5h0m-7 13h0m-6.5 7h0m-2 22h0m-13 5h0m3.5 0h0m7 0.5h0m1-0.5h0m18-1.5h0m9-0.5h0m-39.5 3h0m12.5 2h0m1.5 1h0m27 0.5h0m0-1.5h0m-39.5 7.5h0m3.5 1h0m7.5-0.5h0m15-3.5h0m2.5 1h0m-30 4.5h0m1 2.5h0m2 2h0m3.5-2h0m0.5 3h0m22-5h0m-28.5 9.5h0m4.5-3h0m4 0.5h0m5 3.5h0m1-1h0" stroke="#6ec8be" stroke-width="2.3" stroke-linecap="round" fill="none"/>
<path d="M569 338h0" stroke="#3c64b4" stroke-width="2.3" stroke-linecap="round" fill="none"/>
<path d="M571.5 258h0m-2.5 70h0m22 4.5h0m-22.5 4.5h0m8.5 1.5h0m9.5-2h0m-23 7.5h0m3.5-4.5h0m24 4.5h0m-29.5 2.5h0m0.5-1h0m2 4h0m6 4.5h0m16.5 3.5h0m3 8.5h0m-33 4h0m24.5 3.5h0m5.5 1h0m-4 2h0m-25 12.5h0" stroke="#46b4d2" stroke-width="2.3" stroke-linecap="round" fill="none"/>
<path d="M558 323h0m-6 46h0m17 1.5h0m-16 7h0m0.5-1.5h0m29.5 3h0m5-3h0m-40 7h0" stroke="#8cdcc8" stroke-width="2.3" stroke-linecap="round" fill="none"/>
<path d="M573 344h0m13.5-0.5h0m-9 17h0m7 1h0" stroke="#4650aa" stroke-width="2.3" stroke-linecap="round" fill="none"/>
<path d="M602.5 290h0m-38 29.5h0m-3.5 9h0m23 37h0m-19 6h0m27.5-2.5h0m-21 16.5h0" stroke="#c8e6be" stroke-width="2.3" stroke-linecap="round" fill="none"/>
<path d="M607.5 289h0m-48.5 36h0m0.5 5.5h0m5 8h0m-15 32h0m26 1h0m-22 8h0m5-0.5h0m9 0.5h0m5-1h0m15-3h0m-34 8.5h0m7.5-3h0" stroke="#c8e6c8" stroke-width="2.3" stroke-linecap="round" fill="none"/>
<path d="M586 362.5h0" stroke="#3c6ec8" stroke-width="2.3" stroke-linecap="round" fill="none"/>
<path d="M589.5 334.5h0m-15 7h0m5.5 8.5h0m9-1h0" stroke="#4650a0" stroke-width="2.3" stroke-linecap="round" fill="none"/>
<path d="M572 331h0m9 7h0m4 14h0" stroke="#3c64be" stroke-width="2.3" stroke-linecap="round" fill="none"/>
<path d="M567.5 320.5h0m-1.5 20h0" stroke="#78c8c8" stroke-width="2.3" stroke-linecap="round" fill="none"/>
<path d="M554 242 L561 236.4" stroke="#d8546c" stroke-width="2" stroke-linecap="round"/>
<defs><linearGradient id="cbF" x1="0" y1="0" x2="0" y2="1"><stop offset="0" stop-color="#b8205e"/><stop offset="0.1" stop-color="#d8506a"/><stop offset="0.2" stop-color="#e8784e"/><stop offset="0.3" stop-color="#eca060"/><stop offset="0.4" stop-color="#eec080"/><stop offset="0.4" stop-color="#eedc90"/><stop offset="0.5" stop-color="#e6e030"/><stop offset="0.6" stop-color="#e6f0a0"/><stop offset="0.7" stop-color="#d8f0c0"/><stop offset="0.7" stop-color="#a8e0c8"/><stop offset="0.8" stop-color="#50c0c0"/><stop offset="0.9" stop-color="#48a8d8"/><stop offset="0.9" stop-color="#3a78c8"/><stop offset="1" stop-color="#4c4ea0"/></linearGradient></defs>
<rect x="610.2" y="343.2" width="12.5" height="62.3" fill="url(#cbF)" stroke="#444" stroke-width="0.8"/>
<text x="626.5" y="346.5" font-size="9" fill="#0a0a0a" stroke="#0a0a0a" stroke-width="0.22">1.0 (Less diff.)</text>
<path d="M622.7 355.7 h-1.8" stroke="#333" stroke-width="0.8"/>
<text x="626.5" y="359" font-size="9" fill="#0a0a0a" stroke="#0a0a0a" stroke-width="0.22">0.8</text>
<path d="M622.7 368.1 h-1.8" stroke="#333" stroke-width="0.8"/>
<text x="626.5" y="371.4" font-size="9" fill="#0a0a0a" stroke="#0a0a0a" stroke-width="0.22">0.6</text>
<path d="M622.7 380.6 h-1.8" stroke="#333" stroke-width="0.8"/>
<text x="626.5" y="383.9" font-size="9" fill="#0a0a0a" stroke="#0a0a0a" stroke-width="0.22">0.4</text>
<path d="M622.7 393 h-1.8" stroke="#333" stroke-width="0.8"/>
<text x="626.5" y="396.3" font-size="9" fill="#0a0a0a" stroke="#0a0a0a" stroke-width="0.22">0.2</text>
<text x="626.5" y="408.8" font-size="9" fill="#0a0a0a" stroke="#0a0a0a" stroke-width="0.22">0.0 (More diff.)</text>
<text x="612.7" y="322" font-size="9" fill="#0a0a0a" stroke="#0a0a0a" stroke-width="0.22">Predicted</text>
<text x="612.7" y="332.5" font-size="9" fill="#0a0a0a" stroke="#0a0a0a" stroke-width="0.22">order</text>
<path d="M463.3 348.6 V404.8 H519.5" stroke="#1a1a1a" stroke-width="1" fill="none"/>
<path d="M463.3 344.6 l-2.2 5h4.4z" fill="#1a1a1a"/>
<path d="M523.5 404.8 l-5 -2.2v4.4z" fill="#1a1a1a"/>
<text x="463.9" y="418" font-size="8.8" fill="#0a0a0a" font-weight="bold">Component1</text>
<text x="0" y="0" transform="translate(458.4 376.5) rotate(-90)" font-size="8.8" fill="#0a0a0a" text-anchor="middle" font-weight="bold">Component2</text>
<defs><clipPath id="gc0"><rect x="3.2" y="495.3" width="148" height="113.1"/></clipPath><clipPath id="gc1"><rect x="178.7" y="495.3" width="148" height="113.1"/></clipPath><clipPath id="gc2"><rect x="353" y="495.3" width="148" height="113.1"/></clipPath><clipPath id="gc3"><rect x="527.9" y="495.3" width="148" height="113.1"/></clipPath>
<clipPath id="sc0_0"><rect x="3.2" y="611.3" width="48.5" height="36.3"/></clipPath><clipPath id="sc0_1"><rect x="52.9" y="611.3" width="48.5" height="36.3"/></clipPath><clipPath id="sc0_2"><rect x="102.7" y="611.3" width="48.5" height="36.3"/></clipPath>
<clipPath id="sc1_0"><rect x="178.7" y="611.3" width="48.5" height="36.3"/></clipPath><clipPath id="sc1_1"><rect x="228.4" y="611.3" width="48.5" height="36.3"/></clipPath><clipPath id="sc1_2"><rect x="278.2" y="611.3" width="48.5" height="36.3"/></clipPath>
<clipPath id="sc2_0"><rect x="353" y="611.3" width="48.5" height="36.3"/></clipPath><clipPath id="sc2_1"><rect x="402.7" y="611.3" width="48.5" height="36.3"/></clipPath><clipPath id="sc2_2"><rect x="452.5" y="611.3" width="48.5" height="36.3"/></clipPath>
<clipPath id="sc3_0"><rect x="527.9" y="611.3" width="48.5" height="36.3"/></clipPath><clipPath id="sc3_1"><rect x="577.6" y="611.3" width="48.5" height="36.3"/></clipPath><clipPath id="sc3_2"><rect x="627.4" y="611.3" width="48.5" height="36.3"/></clipPath>
<filter id="mblur" x="0" y="0" width="100%" height="100%"><feGaussianBlur stdDeviation="0.5"/></filter>
</defs>
<text x="3.4" y="493.2" font-size="9" fill="#1a1a1a" stroke="#1a1a1a" stroke-width="0.22">SCC</text>
<text x="151.2" y="493.2" font-size="9" text-anchor="end"><tspan fill="#3a4fc8">DAPI</tspan><tspan fill="#333">/</tspan><tspan fill="#4cc23c">EPCAM</tspan><tspan fill="#333">/</tspan><tspan fill="#ee2a2a">BIRC5</tspan></text>
<g clip-path="url(#gc0)"><g filter="url(#mblur)">
<rect x="3.2" y="495.3" width="148" height="113.1" fill="#06051a"/>
<path d="M21.1 581.5l-4.3-0.1M118.1 571.1l0.8-1.2M8.2 505.8l3-0.6M76.4 542.5l1.1-0.2" stroke="#2b3fc4" stroke-width="7" stroke-linecap="round" fill="none"/>
<path d="M36.1 563.8l0.3-1.5M30.7 599.2l-0.7-1.3M127.2 592.6l2.1-1.5M39 501.7l2.8 0.2M66.5 577.6l0.6-1.9M122.5 535l-3.2-1.5M90.5 566.7l1.3-0.6M34.9 541.2l-1.5 1.6M153.2 542.5l-2.9 1.2M36.7 511.1l2.3 1.6" stroke="#2338b0" stroke-width="7" stroke-linecap="round" fill="none"/>
<path d="M7 597.1l2.2-1.5M41.8 530.6l0.9 1.5M86.8 552.1l2.7-0.1M116.1 564.2l-1.2-0.2M14.6 597l2.6 1.9M71.5 502.4l-2.2-0.8M135.5 542.6l-3.7-2.5" stroke="#2a3cb8" stroke-width="6" stroke-linecap="round" fill="none"/>
<path d="M151.1 551.5l-0.8-1.3M40.9 527.4l0.8 1.4" stroke="#3650c8" stroke-width="8" stroke-linecap="round" fill="none"/>
<path d="M131.4 563.4l0.8 2.7M125.2 570.2l2.4 3.7M143.3 546.1l3 0.3M129.3 525.6l0.7 0.5M144.2 569.2l-1.2 3.5M142.4 601.8l-0.9 3.5" stroke="#3448cc" stroke-width="8" stroke-linecap="round" fill="none"/>
<path d="M42 539.1l1.2 0.7M91.8 564.1l1.7-2.8M13.1 501.9l0.7-1.2M39.4 610.1l-3.1 0.6M23.9 572.5l-2.4-1.6M144.5 584.5l2.4-2.1M62.7 595.1l-2.2 3.8" stroke="#3650c8" stroke-width="6" stroke-linecap="round" fill="none"/>
<path d="M95.6 491.9l1.6 3.3M98.7 586.1l3.6 0.9M31.8 564.1l-2.9 2.8M116.7 504.5l-2.8-3.2M83.2 569l0.7-0.5M80.2 599.9l0.6 0.6M132.7 530.4l-0.8-0.5" stroke="#3650c8" stroke-width="7.5" stroke-linecap="round" fill="none"/>
<path d="M99.8 572.6l-0.4 0.8M89 571.8l2.2-0.9M34.8 528.6l0 1M30.3 572l0.1 1.8" stroke="#2a3cb8" stroke-width="6.5" stroke-linecap="round" fill="none"/>
<path d="M54.6 523.1l2.1-2.4M54.5 584.3l-0.6 0.1M108.7 559l1.3 0.3M82 548.2l0.7-2.5M25.3 525.1l-0.9 2.1M45.3 567.6l2.3-1.8M92.1 558.3l0.5-0.1" stroke="#1e2e98" stroke-width="7" stroke-linecap="round" fill="none"/>
<path d="M139.8 512.8l-2.8-1M135.6 584.3l-2.7 0M136.6 603.8l-0.9-0.3M8.4 561.9l0.3 1.9M45 518.9l0.8-0.1M87.3 607l-0.4-0.6M4.1 546.4l-0.4-0.7M76 599.7l0.4 0.3" stroke="#2a3cb8" stroke-width="7" stroke-linecap="round" fill="none"/>
<path d="M116.5 530.3l1-3.4M84.5 539.7l1.9-0.3M90.4 577.3l1 1M71.2 552.6l-1.8-2.3M2.4 516.7l3.8 1.1M32.6 546.4l0 0.8M19.2 542.3l2-1.1" stroke="#2a3cb8" stroke-width="7.5" stroke-linecap="round" fill="none"/>
<path d="M34.9 551.7l0.5-4.1M28.5 539l1.3 0.9M10.5 526.6l-2-1.7M40.1 573.4l-3.2 1.6" stroke="#2b3fc4" stroke-width="8" stroke-linecap="round" fill="none"/>
<path d="M82.4 574.3l-2.9 3.3M86.5 562.3l0.7 1.8M92.4 565.9l-3.3-3M38.7 595.3l-2.4-1.7M91.5 560.9l-0.7-1.9M133.4 560.9l4.2 0.1" stroke="#2338b0" stroke-width="6.5" stroke-linecap="round" fill="none"/>
<path d="M56.1 511.2l3.1-2.1M144.4 496.1l-0.4 0.5M5.7 535.5l-0.4-3.3M6.8 575.3l0-1M117 562.2l1.1-0.4M17.3 530.2l-3.8 2.2M56 540.7l-4 0.7" stroke="#2338b0" stroke-width="8" stroke-linecap="round" fill="none"/>
<path d="M105.9 585.7l-3.6 0.9M4.4 518.9l-0.9 2M96.4 534.4l2.1 1.2M9.3 516.1l4.3 0.1" stroke="#1e2e98" stroke-width="7.5" stroke-linecap="round" fill="none"/>
<path d="M17.4 548.6l1.3-2.4M3.2 515.4l0.4-0.4M29 602l0.6 1.9M7.9 569.5l-0.1-1.1M63.5 593.7l2.2 3.5M127.8 547l-1.4 0.3M107.6 567.5l0.5 3.4M64.5 586.8l0.8 0.3" stroke="#3448cc" stroke-width="7" stroke-linecap="round" fill="none"/>
<path d="M51.9 593.6l3.6 0.5M134.6 532.4l-1.1-0.2M101.3 600.3l-1.9-2.8M24.6 522.2l0.2-1.7M90.7 600.3l0.8-2.3M56 545.1l-0.5 1.6" stroke="#3448cc" stroke-width="7.5" stroke-linecap="round" fill="none"/>
<path d="M147.5 580.5l-0.4 1.1M6.1 573.7l2.2 1M9.3 599.8l1.7-0.7M58.2 577.8l-0.2-0.6M37.8 536.8l0.3-1M42.9 543.3l-0.9-1.8M146.1 492.2l0.2 4.2M39.1 570.9l-0.8-0.4" stroke="#2338b0" stroke-width="6" stroke-linecap="round" fill="none"/>
<path d="M84.1 566.9l-3.6-2.3M130 590.9l-0.5 2.1M11.5 600.8l-2.4 1.8M153.8 528.8l-1.8 0.8M14.3 563.2l-1.7-0.5M132.2 605.2l0.2 3.2" stroke="#1e2e98" stroke-width="6" stroke-linecap="round" fill="none"/>
<path d="M31.6 501.9l-1.5-4.1M83.8 594.5l1.7 3.3M79.1 589l-3.5-0.4M43.5 573.4l-1.9 1.4M55.4 562.5l-0.3-4.3M37.5 588.4l0.6-1.7M54.6 591.7l3.9-0.3" stroke="#2a3cb8" stroke-width="8.5" stroke-linecap="round" fill="none"/>
<path d="M131 507.5l-1.2-2.2M113.7 498.9l0.8 1M64 561.8l1.5-1.3M4.2 590.5l-0.2-3.7M47.1 520.1l-1.7-0.9M64.1 537.6l0.8-1.7" stroke="#1e2e98" stroke-width="6.5" stroke-linecap="round" fill="none"/>
<path d="M47.3 589.7l0.1-2.6M128.6 565.5l1.1 1.6M26.5 542l2.8 2.9M5.4 566.9l0.5-0.1M129.8 575.1l-1.1-2.7M66 551.6l0.3-3.9M42.3 543.8l0.4-2.4M149.1 584.6l3.7 1.6" stroke="#1e2e98" stroke-width="8" stroke-linecap="round" fill="none"/>
<path d="M52.9 537.3l-0.2 3M117.1 567l-2.1 1.5M3.4 533.2l1.6-0.2" stroke="#2338b0" stroke-width="8.5" stroke-linecap="round" fill="none"/>
<path d="M84.7 544.4l-0.7 3.2M11.5 564.6l-1.8 2.2M47.2 518.7l0.6-0.3M26.9 507.6l0.2-2.1" stroke="#2b3fc4" stroke-width="8.5" stroke-linecap="round" fill="none"/>
<path d="M79.2 577.1l3.6-0.6M53.5 601.9l1.6-1M82.2 556.7l-0.5 3.1" stroke="#2a3cb8" stroke-width="5.5" stroke-linecap="round" fill="none"/>
<path d="M149.5 558.5l-1.6 1.6M51.2 537.3l-0.5 3.2M4.5 605.2l-0.9-0.6M124.9 586l0.7-2.1M150.8 542.3l0.5 0.9" stroke="#3650c8" stroke-width="7" stroke-linecap="round" fill="none"/>
<path d="M3.4 576.9l-0.3 1.1M67.8 547.6l1.1 2.6M76.4 557.5l-0.8-1.7M68.3 539.9l-3.1 1.1M75.1 580.2l1-0.7M104.4 555.4l1.6-1.6M53.8 526.3l-0.2 4.4M72 607.3l1.1 2.3" stroke="#3650c8" stroke-width="6.5" stroke-linecap="round" fill="none"/>
<path d="M37.5 546.3l-1.1-0.7M98.2 559.8l3.5-0.2" stroke="#2338b0" stroke-width="5.5" stroke-linecap="round" fill="none"/>
<path d="M153 605.1l-1-2.2M135.6 519l2.2 3.3M27.4 572.7l0.2 0.7M129.2 541.7l2.5-1.8M65.5 499.4l2.6 0.2M120 530.6l1.2 2.2M42.2 507.1l-1.3 0.9" stroke="#2b3fc4" stroke-width="6.5" stroke-linecap="round" fill="none"/>
<path d="M46.9 507.3l3.1 0.8M23.5 609.8l1.6-0.6M88.6 521.3l0.5-0.8M31.8 571.8l-2.2 1M7.2 501.1l-0.7 3.2M92.6 568l-2.6 2.6M100.7 565.4l-1.9-2" stroke="#3448cc" stroke-width="6" stroke-linecap="round" fill="none"/>
<path d="M17.4 503.6l3.7 1.1M136.2 594.5l-0.9 1M76.2 564.3l1 0.6M17.4 530.2l-0.6 0.1M24.9 604.6l-1.8-0.2" stroke="#3448cc" stroke-width="6.5" stroke-linecap="round" fill="none"/>
<path d="M23.6 584.8l-0.1-2.9M95.3 589l-0.3-0.8M90.8 526.5l-2.6 1.4M116.9 547.8l-2.4 0.4M29.3 537.5l-1.9 2.6" stroke="#2a3cb8" stroke-width="8" stroke-linecap="round" fill="none"/>
<path d="M6 551.3l-0.4 0.5M9.3 579.6l-0.5 1.9M63.4 508.5l-4.1-1.2M117.4 603.8l2.2 1.7M82.6 540.1l3.4 2.4" stroke="#1e2e98" stroke-width="8.5" stroke-linecap="round" fill="none"/>
<path d="M54.5 540.5l0.5 1.2M44.6 535.8l0.9 1.1" stroke="#3650c8" stroke-width="8.5" stroke-linecap="round" fill="none"/>
<path d="M85.8 593l-2.1 0.8M34.2 491.4l1.4 3.8M77.6 592.3l-2.3-0.9M114.1 600.6l2.3-0.1M37.4 502.7l-1.7-0.1M20.8 585.6l-2.9 1.9M125.1 559.5l-3-0.6M72.6 546.1l-0.1 2.7M46.2 556.8l2-2.8" stroke="#2b3fc4" stroke-width="7.5" stroke-linecap="round" fill="none"/>
<path d="M70.6 568l-2 1.7M29.2 583.2l2.4 1M105.8 571.7l-1.4-0.3M41.7 576.8l0.7 1M144.6 533.5l-0.9 0.5M52.1 605.3l-1.1-2.7" stroke="#2338b0" stroke-width="7.5" stroke-linecap="round" fill="none"/>
<path d="M60.7 499.5l-3.6 1.5M61.2 576.8l0.5 2.6" stroke="#3448cc" stroke-width="8.5" stroke-linecap="round" fill="none"/>
<path d="M53.5 559.7l-0.7 3.3M51.2 538.2l1.2-1.4M100 567.5l1.6-2.2" stroke="#1e2e98" stroke-width="5.5" stroke-linecap="round" fill="none"/>
<path d="M17.6 546.7l2.7 0.9M126.7 604.6l-0.8-0.3" stroke="#2b3fc4" stroke-width="6" stroke-linecap="round" fill="none"/>
<path d="M9.5 516.7l-1.2-1.8M134.3 494.8l0.9 2.5M36.4 605.7l-2.6 1.6M33.3 526.4l3.3-1.2" stroke="#3448cc" stroke-width="5.5" stroke-linecap="round" fill="none"/>
<path d="M81.8 606.8l-3-0.9M40.7 588.7l0.4 0.6" stroke="#2b3fc4" stroke-width="5.5" stroke-linecap="round" fill="none"/>
<path d="M77.8 533.7l2.1 3.8M24.8 606.8l1.3-0.5M49.9 540.3l-1.2-3.6" stroke="#3650c8" stroke-width="5.5" stroke-linecap="round" fill="none"/>
<path d="M16.2 532.1l-1.7 0.6M112.3 554.3l0.1-1.9M50.5 535.1l0-0.7M89.8 550.7l-1.1 1.4" stroke="#5ad0c8" stroke-width="7.5" stroke-linecap="round" fill="none" stroke-opacity="0.85"/>
<path d="M28.7 587.6l1.3-0.8M47 596.6l-0.5-0.8M30.3 550.6l-0.5-1M37.9 532.3l0.1-1.9M108 539.9l0 0.2M102.2 528.1l0.8 0.6" stroke="#3db4c4" stroke-width="7.5" stroke-linecap="round" fill="none" stroke-opacity="0.85"/>
<path d="M25.9 594.5l0.1 0.3M41.1 531.1l0.4 0.3" stroke="#3db4c4" stroke-width="8" stroke-linecap="round" fill="none" stroke-opacity="0.85"/>
<path d="M37.6 550.4l0.2 0.2" stroke="#3db4c4" stroke-width="6" stroke-linecap="round" fill="none" stroke-opacity="0.85"/>
<path d="M80.5 506.8l1.1 1.2M111.3 530.1l0.5 0.8" stroke="#5ad0c8" stroke-width="6.5" stroke-linecap="round" fill="none" stroke-opacity="0.85"/>
<path d="M101.6 533l0.9-0.9M68.2 533.6l0.9-0.3M100.4 512.5l0.2-1.5" stroke="#5ad0c8" stroke-width="8" stroke-linecap="round" fill="none" stroke-opacity="0.85"/>
<path d="M77.9 535l-0.6 0.2" stroke="#48c0b8" stroke-width="7" stroke-linecap="round" fill="none" stroke-opacity="0.85"/>
<path d="M111.5 541.6l-0.8-0.5" stroke="#3db4c4" stroke-width="6.5" stroke-linecap="round" fill="none" stroke-opacity="0.85"/>
<path d="M105.6 503.6l0.6 0.6M129.6 521.9l1-0.2" stroke="#48c0b8" stroke-width="6.5" stroke-linecap="round" fill="none" stroke-opacity="0.85"/>
<path d="M124.6 517l0.8-0.8" stroke="#48c0b8" stroke-width="7.5" stroke-linecap="round" fill="none" stroke-opacity="0.85"/>
<path d="M106.6 515.1l0.2-0.4" stroke="#5ad0c8" stroke-width="7" stroke-linecap="round" fill="none" stroke-opacity="0.85"/>
<path d="M8.1 522.1l4.9-0.8M109.6 560.3l2.2 0M56.4 587l1.8-2.2M59.9 627.8l2.5-1.3M19 470.7l3.1-2.1M151.6 502.3l6-4.1M86.7 508.2l-3.2 1.7M133.7 523.9l-1.3 0.1M146 507.3l0.4-1.4M21.7 531l3.7 0M97.8 551.4l1.5 1.6" stroke="#e81c24" stroke-width="2" stroke-linecap="round" fill="none" stroke-opacity="0.9"/>
<path d="M87.7 492.5l5.7-1.7M80.8 592.7l2.4-1M68.2 567.5l1.9-1.9M100.9 589.2l5.3-3.9M2.6 505.9l2.3-1.9M-59.3 509.9l4.7-3M85.6 564.8l-1.4-2.9M77.4 599.6l-0.2 3.4M4.6 515.8l0.4-2.3M102.8 577.8l1.5-3.4" stroke="#f02a2a" stroke-width="1.5" stroke-linecap="round" fill="none" stroke-opacity="0.9"/>
<path d="M-15.5 563.3l6.4-2.4M121.1 513.5l3.5 0.4M52.2 532.3l6 1.8M166.1 502.5l4.2-5M23.3 562l1.6-3.6M20.4 562.9l0.4 2.1M49.6 498.6l0.4 1M139.2 526.2l1.6-2.4M26.6 538.8l0 3.6M116.2 569.6l0.6 2.5M63.7 581.9l-1.6-0.3" stroke="#e81c24" stroke-width="1.5" stroke-linecap="round" fill="none" stroke-opacity="0.9"/>
<path d="M2.7 477.2l2.9-2.6M88.5 466.1l4.7-3.2M78.8 503.4l6.7-4.2M131.4 522.8l1.5-0.2M148.2 510l0.1-3M115.7 501.9l-0.4 1.4" stroke="#d01a30" stroke-width="2" stroke-linecap="round" fill="none" stroke-opacity="0.9"/>
<path d="M40.1 460.6l4.9 2.6M95.4 470.5l5.4-0.8M63.5 499.3l7.4-1.8M65.4 511.6l2.5-2" stroke="#d01a30" stroke-width="2.5" stroke-linecap="round" fill="none" stroke-opacity="0.9"/>
<path d="M110.4 507.7l2.6-1M106 618.1l5.6-1.7M123.3 564.2l6.5-2.7M124.1 586.6l1.2-1.8M143.2 460.2l2.2 0.4M6.8 567.5l-0.1-3.4M84.9 554l0.9 2.3M52.2 524.3l3.3-1.7" stroke="#d01a30" stroke-width="1.5" stroke-linecap="round" fill="none" stroke-opacity="0.9"/>
<path d="M80.4 580.2l4.6-3M55.1 558.4l5.3-2.4M123.3 550.8l6.2-2.8M31.7 572.8l-0.6-2.2M144.7 547.2l2.1 1M85.8 547.5l1.2 1.6M78.8 516.8l-3.1 0.4M67.7 588.4l-0.9 0.4" stroke="#f02a2a" stroke-width="2" stroke-linecap="round" fill="none" stroke-opacity="0.9"/>
<path d="M105.6 487.5l3.6-2.1M145.4 476.7l2.6-0.7M45 473.6l7.4-1.7M35 606.7l6.4-3.1M94.1 588.1l2.8 2.2M51.8 609.8l2.9-0.4" stroke="#f02a2a" stroke-width="2.5" stroke-linecap="round" fill="none" stroke-opacity="0.9"/>
<path d="M45.9 542.9l3.9 0.2M139.9 486.5l5.2-5.8M47.5 541.4l5.8-1.9" stroke="#e81c24" stroke-width="3" stroke-linecap="round" fill="none" stroke-opacity="0.9"/>
<path d="M111.9 503.4l3.6-7M-0.3 555.9l5 3.4M-33.9 586.1l5.1-3.5M-48.9 555.1l5.4-5.9M34.9 549.4l2-0.4" stroke="#e81c24" stroke-width="2.5" stroke-linecap="round" fill="none" stroke-opacity="0.9"/>
<path d="M51.8 563.3l2.7-1.7M123.2 592.7l3.9-5.3M139.2 560.6l5.9-5.2M139.6 576.3l2.3-5.9M-5.9 556.7l6-3.4" stroke="#f02a2a" stroke-width="3" stroke-linecap="round" fill="none" stroke-opacity="0.9"/>
<path d="M93.4 583.1l6.8-1.4M35 603.2l3 0.5M130.2 513.2l1.7-1.2M138.3 628.3l2.2-2.5M68.4 560.6l6.4-0.3" stroke="#d01a30" stroke-width="3" stroke-linecap="round" fill="none" stroke-opacity="0.9"/>
<path d="M50.1 537.3l2.6 2.1M83.3 506.7l1.9-2.8M43.5 577.8l2.6 1.7M24.4 563.7l1.3-2" stroke="#d01a30" stroke-width="1" stroke-linecap="round" fill="none" stroke-opacity="0.9"/>
<path d="M8.6 513.7l1.1 2.8" stroke="#e81c24" stroke-width="1" stroke-linecap="round" fill="none" stroke-opacity="0.9"/>
<path d="M61.4 583.9l0.6-2.1" stroke="#3cc03c" stroke-width="2.5" stroke-linecap="round" fill="none" stroke-opacity="0.85"/>
<path d="M6.1 589.1l-5.2 2.1M64.4 606.1l2.2 0.6M47.8 578.6l-3.6-0.5M93.5 522.3l-3-3.1M75.1 508.5l-3.7-2.8M120.7 529.7l3.5 1.7M93.2 524.8l-1 5.1M53.3 599.3l1.1-5.3M19 554.1l5.4-0.9" stroke="#3cc03c" stroke-width="2" stroke-linecap="round" fill="none" stroke-opacity="0.85"/>
<path d="M72.4 505.5l3.3-3.7M108 602.6l-3.5 0.7M70.6 568.7l-0.7 3.3M23.9 587.2l3.5 3.1M92.2 568.7l-5.3-1.9" stroke="#30b030" stroke-width="1.5" stroke-linecap="round" fill="none" stroke-opacity="0.85"/>
<path d="M130.4 530.6l-3.7-1.9M79.1 538.3l-1.1 5.6M61.7 559.3l4.3-2.6" stroke="#3cc03c" stroke-width="1.5" stroke-linecap="round" fill="none" stroke-opacity="0.85"/>
<path d="M137.4 571.6l4-0.7" stroke="#30b030" stroke-width="2.5" stroke-linecap="round" fill="none" stroke-opacity="0.85"/>
<path d="M19.1 528.1l4.9-0.9" stroke="#3cc03c" stroke-width="1" stroke-linecap="round" fill="none" stroke-opacity="0.85"/>
<path d="M41.3 592l-5.5 0.7M123.3 608.7l-0.5 2.1" stroke="#30b030" stroke-width="2" stroke-linecap="round" fill="none" stroke-opacity="0.85"/>
<path d="M101.2 521.3l14-4M111.2 515.3l6 6" stroke="#8ad040" stroke-width="6" stroke-linecap="round" fill="none" stroke-opacity="0.85"/>
<path d="M123.2 515.3l0 6" stroke="#40d0c0" stroke-width="8" stroke-linecap="round" fill="none" stroke-opacity="0.9"/>
<path d="M101.2 508.3 L95.2 518.3" stroke="#f0e020" stroke-width="0.9"/>
<circle cx="95.2" cy="518.3" r="1.3" fill="#f0e020"/>
<path d="M123.2 506.3 L116.2 516.3" stroke="#f0e020" stroke-width="0.9"/>
<circle cx="116.2" cy="516.3" r="1.3" fill="#f0e020"/>
</g></g>
<text x="148.2" y="601.2" font-size="8.6" fill="#e8e8e8" text-anchor="end" font-weight="bold">50μm</text>
<rect x="127.2" y="604.5" width="16" height="1.1" fill="#e8e8e8"/>
<g clip-path="url(#sc0_0)">
<rect x="3.2" y="611.3" width="48.5" height="36.3" fill="#040409"/>
<path d="M35.6 619.9l0.1 0.2M19.6 627.2l0.1 0.5M42.5 618.7l0.2 0.9M17.4 619.5l-0.7 0.6M25.4 623.5l0-0.1M32.9 648.2l0.1-0.4M37.9 644.6l-0.1 0M25.2 627.4l0 0.7M43.5 631.3l0.3 0M53.3 637.8l0.1 0.3M20.6 635.2l-0.8 0.2M37.2 630.5l0.5 0.2M46.7 626l-0.5-0.1M31.1 643.7l0 0.8M22.7 617.9l-0.1-0.1M24.4 622.7l0.5 0M35.5 639.7l-0.4 0.5M10.8 641.5l-0.5-0.5M41.3 620.9l0.1 0.1M29.5 630.6l0.1 0M52.4 629.7l0.5-0.5M47.8 629.8l0 0M34.9 633.3l0.2 0M38.3 644.4l0-0.6M17 647.2l-0.7 0M27.1 626.1l-0.5 0.8M37.6 625.8l0 0M27.5 633.1l-0.2 0.5M51.7 617.9l0.1-0.2M37.3 646.8l0.5 0.3M23 649.6l-0.1 0M14.2 630.5l0 0M25.1 623.8l-0.1 0.1M40 641.5l-0.2 0.3M35.7 611.5l0 0.8M38.9 622.4l0-0.7M47.7 626.5l0.2 1M4.7 648.4l0.2-0.4M48 616.8l-0.1-0.4M42 638.1l0 0M39.6 646.2l0.5 0M45.4 642.1l0.4 0.7M2.5 620.3l-0.7 0.6M16 624.3l0.4 0.1M38 643.9l0.4-0.4M51.5 617l-0.4-0.8M16.5 613.1l0.1 0M6 641.9l-0.3-0.2M27.8 639.2l0.6 0.2M26.3 623l0.1 0M22.4 610.9l-0.1 0.1M4.8 610.3l-0.4-0.8M12.7 637.4l0.1 0M53.8 624.1l-0.6-0.1M39.6 613l0.4-0.7M21.7 626.6l-0.4-0.2M31.9 614.6l-0.2 0.3M43.9 627.7l-0.5 0M11.6 638.7l-0.1 0M24.5 641l-0.2-0.1M41.9 617.4l-0.2-0.9M40.4 621.2l-0.1 0.5M21.9 648.5l0.1-0.1M23.4 632.3l-0.1 0.2M27.9 616.8l0 0M44.3 644.1l0 0M46 621.8l-0.1 0.3M40 624.3l0.5 0M39.6 610.6l-0.1-0.3" stroke="#2232b0" stroke-width="2" stroke-linecap="round" fill="none"/>
<path d="M3.6 615.8l0.8 0.1M51.6 622.1l-0.6-0.2M10.2 627.3l-0.1 0.5M16.7 640.6l-0.2 0.3M41.2 633.8l-0.2 0M39.7 626.7l-0.1-0.1M4.9 635.9l0.1 0.4M41.1 630.2l-0.2-0.2M21 616.9l-0.7-0.6M11.6 636.3l0-0.3M2.2 632.1l0.2-0.6M25.4 641.3l0.7 0.5M21.8 621.3l0.1-1M51 612l0.4-0.4M19.5 642.5l0.2 0.1M1.8 615.2l0.3-0.1M46.3 618.5l-0.6 0.8M20.2 619.7l0.4-0.2M24.1 645.8l0.3-0.2M4 637.6l0.1-0.1M2.3 613.8l0-0.5M7.3 630.7l-0.1 0.2M24.2 630.3l-0.6 0M45.8 633l-0.1 0.4M31.8 646.3l-0.4-0.1M13.8 618.8l-0.3 0M45.7 648.2l0.3 0M33.8 614l0-0.6M14 629.6l-0.3 0.6M36.8 638.2l-0.1 0M36.4 634.2l0.1 0.2M12.5 631.2l0.9-0.1M51.4 617.1l-0.1-0.1M44 631.3l0 0M11.8 643l-0.6 0.3M5.1 638.1l0.5-0.8M10.9 630.7l-0.4-0.2M46.4 645.5l-0.3 0.5M27.5 623.9l0.7 0.6M27.2 627.9l0.5-0.6M37.3 631.9l0 0M36.7 628.4l0.5-0.6M20.6 633.8l0.2-0.1M20.5 632.4l0.9 0.1M9.2 639.1l0.2-0.4M31.2 642.3l0.1-0.1M29.8 634.5l-0.4-0.9M6.8 610.8l0.4 0.3M13.7 627l0.5 0.4M38 642.9l-0.1-0.3M40.5 641.6l0 0.3M25 632.7l0.3-0.2M26.2 610.9l0.3 0.3M25.3 612.2l0.6-0.6M29.6 618.4l-0.3 0M11.4 618.1l0-0.4M14.1 636.6l0.3-0.2M34.8 615.4l-0.1-0.1M35.5 614.8l0.6 0.2M48.2 618.8l-0.1-0.7M26.6 615.4l0.9-0.2M19.6 620.3l-0.1 0.2M41.2 612.7l-0.2-0.9M25.3 627.6l-0.5 0.6M25.1 639.3l0 0M42.2 616.3l0.8 0.6M13 624.6l0.5 0M53.6 616.2l-0.4 0.2M45.6 626.9l-0.3 0.1M28.2 628.8l0.3 0.7M49.6 639l0.1-0.1M46.8 635.3l0 0.3M36.8 634.2l0.4-0.3M31.2 642.8l0.1 0.4M48.5 611.3l0.3-0.9M23.9 612.4l-0.1 0M9.7 648.6l-0.3-0.2M16.5 617.7l0.1-0.3M36.3 645l-0.3 0M17.2 645.2l0.5-0.3M5.6 611.6l-0.9 0.5M25.6 648.3l0.1 0.6M26.1 626.4l-0.3-0.9M37.9 649.3l0.9-0.2" stroke="#2a3ed0" stroke-width="2" stroke-linecap="round" fill="none"/>
<path d="M17 640.1l-0.7 0.1M18.3 643.1l0.4-0.2M1.2 636.3l0.1 0.3M10.2 635.2l0.3 0.6M35.2 637.4l-0.7 0.1M45.2 637.9l-0.4 0.3M5.7 621.4l0-0.2M37.4 630.8l-0.5 0.1M24.6 646.9l-0.2 0.4M1.2 614.9l0.6 0.4M40.5 646.6l0-0.1M40.3 610.6l-0.1 0.7M13.9 613.9l-0.7-0.2M12.9 638l0.7-0.4M11.1 629.2l-0.4 0M26.3 633.7l0.2 0.2M49 641.8l-0.4 0.5M4.3 614.8l0-0.5M10.5 610.6l0.3 0.3M40.4 633.8l0-0.3M50.5 648.8l-0.3 0M25.3 642.3l0 0M44.4 618.2l-0.2 0.3M35.9 647l0.7-0.1M33.3 646.9l0.7-0.4M10.8 642.5l0.1 0M27.3 649l0.6 0.1M31 644.8l0.2 0.2M33.9 642.9l0.3-0.6M32.6 640.4l0 0.1M8.3 625.8l0.3 0.2M11.4 611.6l-0.5 0.8" stroke="#2a3ed0" stroke-width="2.5" stroke-linecap="round" fill="none"/>
<path d="M26.2 609.7l0.7 0.4M31.7 635.4l0.1 0M44.8 627.6l0.1 0.2M1.6 615.5l-0.5-0.3M23 638l-0.3 0M24.2 617.6l-0.6 0.4M40.4 639.4l-0.1-0.1M4.8 613.5l0 0.2M18 644.8l0.2 0.1M9.4 645.6l0.8 0.5M21.4 622.8l0.4 0.8M21.1 610.7l-0.3 0.1M43.8 648.9l-0.3 0.6M51.3 640.9l0.2 1M29.3 637.3l0.6-0.1M14.1 641.4l-0.2-0.8M10.3 621l0.1 0.1M20.6 612.1l0.5-0.3M17.1 621.9l0.1-0.4M43.7 645.7l0 0M34.6 646.8l0.4-0.4M1.4 613.7l-0.3-0.1M50.1 609.8l-0.2 0.1M24.7 615.4l0.1 0.7M26.5 634.3l-0.3-0.2M45.9 640.6l0.2 0.1M46.2 620.7l-0.3 0.1M36.5 646.4l0.3 0.1M30.1 617.5l-0.5-0.5M11.1 626.8l-0.1-0.2M33.6 631.9l-0.6-0.5" stroke="#2232b0" stroke-width="1.5" stroke-linecap="round" fill="none"/>
<path d="M15.5 641.6l-0.2 0M24.4 618.7l-0.2 0M36.6 615.2l-0.3-0.3M42.7 611.3l-0.7-0.3M53.2 632.1l-0.7-0.7M53.6 621.4l0-0.1M38.5 614l-0.4-0.1M20.6 611.3l0-0.9M27.7 628.5l-0.2-0.6M44.9 642.2l-0.3-0.4M18.8 640.5l0 0M53.2 622.2l-0.2 0.6M48.8 622.7l0.1-0.2M31.8 610.6l0.4 0M8.2 624l0.1 0.2M22.6 642.8l-0.1 0.1M25.4 633.5l0.2-0.1M3.8 626.4l0.9-0.4M26.8 629l-0.2 0.9M17.4 640.9l-0.5 0.3M18.3 647.2l0.2 0.1" stroke="#2232b0" stroke-width="2.5" stroke-linecap="round" fill="none"/>
<path d="M22.7 633.7l0.1 0.2M12 634.6l-0.4 0.4M44.3 639.5l-0.1-0.4M30.3 646.1l0.3-0.2M28.7 616.5l0.9 0.2M35.5 614.7l-0.2 0M3.4 644l0 0M43.4 626.1l0.8-0.2M15.2 638.9l-0.7-0.3M17 642.9l0 0M46.1 626.7l0.3 0.6M33.2 626.1l-0.3 0.1M32.3 649.4l0.2 0.2M14.5 611.8l1 0.1M45.2 635.9l0.9-0.5M51.1 618.3l0.4-0.4M17 634.2l-0.8-0.5M18 648.2l0.7 0.1M44.5 633.9l0.4-0.6M9.7 615.3l-0.2 0M22.9 631l-0.8-0.4M8.6 630.4l-0.2 0M21 637l-0.1 0.4" stroke="#2a3ed0" stroke-width="1.5" stroke-linecap="round" fill="none"/>
</g>
<g clip-path="url(#sc0_1)">
<rect x="52.9" y="611.3" width="48.5" height="36.3" fill="#040409"/>
<path d="M61.7 639.6l0.6 0M85.5 631.9l2-0.2M93.1 630.5l1.7-0.8M81.1 617.9l-0.2 1.2M89.4 612.3l1.1 0.2M96.4 635.6l1.1 2.2M60 608.7l0.9 1.7M89.8 645.6l0.1 0.2M67.6 627.8l0.3-1.5M89 646.3l0 0M97.2 644.8l0.4-0.6M55.3 646.4l0.5-1.1M62.9 623.2l-0.2-0.8M79.8 637l-0.5 0.4M66.7 628.7l0 0M85.4 618.1l0.1 1.7M72 623.2l-0.3 0.2M81.9 617.9l-0.8-0.5" stroke="#38c038" stroke-width="1" stroke-linecap="round" fill="none" stroke-opacity="0.9"/>
<path d="M101.2 642.6l0.1 0.3M82.1 633.4l0.1 0.6M74.8 613.1l-1.5 0.2M57.7 635.6l-1.7-0.1M93.4 638.5l0.3 0.1M100.9 630.4l-0.1 0.3M63.3 623.5l-0.2 0.3M94.1 629.8l0-1M90.2 647.7l1.7-0.3M83.2 633.9l-1.4-0.8M65.4 636.2l1.2-0.4M64.7 639.9l-1.5-1M82.5 623.5l-0.1 2M68.1 633.3l-0.1 0.9" stroke="#2a9a2a" stroke-width="1" stroke-linecap="round" fill="none" stroke-opacity="0.9"/>
<path d="M60.2 647.7l-1.7 1M51.4 633.5l-0.6 0.8M51.2 642.7l1.7 1.6M79.6 620.9l-2-0.3M67.8 632.8l0.3-1.2M88.5 629.4l1.8-1.5M59.2 634.3l-2.1 0.9M56.6 639.5l0.5 0.6M88.1 648.3l-1.6-1.2M57 627.9l-1.8 0M85.5 634l-0.8 1.2M81.3 636.6l0 0.2M93.7 618.6l0.2 0.6M69.8 618.6l-1 0.5M88.7 634.2l-0.3-0.9M80.3 618.8l-0.1 0.6" stroke="#2a9a2a" stroke-width="1.5" stroke-linecap="round" fill="none" stroke-opacity="0.9"/>
<path d="M88.2 631.8l-0.1 2.1M66 636.6l-0.8-1.8M68.7 628.7l-0.7-2M69.9 627.5l0.1-1.1M99.9 643.1l1.7-0.2M77.8 637.4l-1 0.8M60.1 622.3l2 0.5M84.9 627.3l-0.2 0.8M93.5 618.2l-0.6 0.6M67.2 634.3l-0.3 0.7M86.4 628.5l0.5 0M86.5 619.7l-0.7-0.3" stroke="#2a9a2a" stroke-width="2" stroke-linecap="round" fill="none" stroke-opacity="0.9"/>
<path d="M96.2 640.3l-0.5 1.7M55.2 641.5l-0.3-2.1M63.4 640.3l1.1-2.1M90.8 649.2l-0.1-0.7M58.7 627.1l1.5 0.9M92.5 617.5l-0.2 0M82.9 627.9l-0.5-0.9M72.9 635.8l-0.1 0M77.5 620.5l-1.6 0.9M65.9 623l0.2 0.5" stroke="#38c038" stroke-width="2" stroke-linecap="round" fill="none" stroke-opacity="0.9"/>
<path d="M97.1 625.7l0.2-1.7M97.6 641.6l-0.1 0.4M54 636.6l1.1-0.2M76.6 626.4l1.6 1.5M99.4 627.8l1.6 1.8M83.7 626l-1.3-1.2M63.1 637.4l0.8-1.9M76 630.2l1.8-1.2M56 620.6l-1.4-0.4M64.5 641.9l-2 1.1M79.4 626.5l-0.3 2.1M73.1 627.6l1.4 0.5M91.4 620.2l0.1-0.2M76.3 622.7l-0.5-1.3M74.6 627.9l-0.1-0.6M85.6 636l0 0.9" stroke="#38c038" stroke-width="1.5" stroke-linecap="round" fill="none" stroke-opacity="0.9"/>
<path d="M90.1 633.3l0.4 0.8M85 636.2l0.1-0.2" stroke="#38c038" stroke-width="2.5" stroke-linecap="round" fill="none" stroke-opacity="0.9"/>
<path d="M67.2 620l0 0.6" stroke="#2a9a2a" stroke-width="2.5" stroke-linecap="round" fill="none" stroke-opacity="0.9"/>
</g>
<g clip-path="url(#sc0_2)">
<rect x="102.7" y="611.3" width="48.5" height="36.3" fill="#040409"/>
<path d="M130.5 623.6l-0.4 0.1M109.1 628.8l-0.3-0.4M148 623.4l0.9 0.8M114 639.8l1.4 0.4M142.1 645l0 0M105.5 643.3l0.7 0.4M136.7 611.3l0.4-0.3" stroke="#a01818" stroke-width="0.5" stroke-linecap="round" fill="none"/>
<path d="M135.1 644.8l-0.3 0.1M114.2 647.3l0.2 1.2M141.3 632.9l-0.5-0.1M124.9 638.9l0.1 0.6M138.4 646.9l-0.1 0.8M127.2 618.7l-0.2 0M107.8 634.1l-0.4 0.2M140.7 625.8l0.1-0.7M132 644.7l-1.3-0.4M127 630.2l0-0.2M136.9 624.9l-0.2-0.4M151.9 611.2l-0.4 0.4M123.6 626.6l0.4 0.7M141.9 620.6l-0.2 0.3M125.1 613.4l-0.2 0.2M123.1 632.5l1.1-0.3M101.2 644l0.3-0.2M117.8 636.6l-0.7-0.3M124.5 642.1l-0.3-0.6M113.5 614.4l0-0.6M143.2 620.3l-0.6 0.2M132.5 644.3l0.4-1.4M126.4 647.4l1.2 0.4M146.4 642.2l1 0.7M120.5 625.9l0.4-0.1M140.3 631.4l-1.3 0M100.8 647.4l0.9-1.1M104.9 634.5l-0.5-0.2M114.3 623.9l-0.7-0.5M125.3 639l0.9 0.1M105.9 617.4l0.3 0.1M112.6 630.7l0.1-0.5M114 627.1l0 1.2M123.1 634.2l-0.7-1.1M140.4 632.4l-0.2 0.1M126.2 644.6l-0.2-0.2M128.8 634.6l0.1 1M115.9 622l-0.4 0.7M102.8 635.8l-0.4-1.4M114.9 618.9l0 0M138.8 612.8l0.4 0.1M107.1 612.4l0.8-0.7M126.1 627.1l-0.4 0.1M101.7 622.4l0 0.8M105.8 629l0 0M115.1 644.8l0.5 0.5M126 634.4l-0.4 0.3M131.8 640.4l-0.7 0.6M148.6 621.2l-0.1-0.4M120.6 610.5l1.5-0.2M102.8 638.7l0 0.2M146.1 612.5l-1-0.3M129.9 615.7l-0.2-0.1M115 635.4l0.9-0.5M122.9 629.4l0.9-0.8M123.1 633.5l0-0.1M131.3 643.5l-0.1-0.2M113.4 621.9l0.1 0M114.9 628.5l0.6 0.2M114.7 611.5l-0.1 0M143.3 629.6l0.6-0.8M107.1 623.5l-0.3 0.3M128.2 633.2l-0.1-0.2M123.9 622l-1.1-0.4M143.4 615.5l0.1 0.7M120.3 620.2l-0.6-0.6M148.9 623.7l0.6 1.2M134.8 635.9l0.1-0.2M152.7 621.3l1-0.3M132.5 640.2l-0.3 0.1M119.5 646.1l-0.7 0.2M122.6 622.8l0.3-0.1M141.8 625.1l1.2 0.7M152.6 630.4l-0.6 0.2M120.2 627l0.2-0.9M113.3 619l-0.6 1.4M150.3 612.9l-0.1-0.1" stroke="#a01818" stroke-width="1" stroke-linecap="round" fill="none"/>
<path d="M142.7 625.3l0.2 0.2M136.6 645l0.1 0M108.6 620.6l-0.5 0.6M112.8 626.2l0.6 1.4M105.5 609.4l-0.8 0.5M107.1 641.3l-0.9-1.2M132.2 616.7l0.2-0.2M130 638.7l0 0.5M138.6 617.4l0 0.3M135.1 615.9l-0.1 0.1M124.8 628.1l0.9 0.1M148 627.6l-0.2 0.6M127.5 644.1l-1.3 0.5" stroke="#a01818" stroke-width="1.5" stroke-linecap="round" fill="none"/>
<path d="M147.6 611.3l0.4-1.1M115.8 624.7l-0.1 0.2M151.2 629.2l-0.8-0.8M118.1 623.6l0.6 0.6M129.7 621.6l-0.1-0.5M142.6 628l0.4-0.3M148.8 611.5l0.3 0.2M115.6 626.3l0.6 0.2M107.2 638l-0.9 0.3M118 619.4l0.1 0M102.8 629.3l0.1 0.8M124.5 644.9l-0.1 0M114.8 619l-1-0.9M142.9 613.1l0 0M120 616.4l-0.1-0.4M108.4 620.6l-1.2-0.7M109.1 634.2l0.1 1.1M129.8 611.2l0 0M105.1 642.9l0-0.1M102.4 630.8l0 1.3M126.8 621.5l0-0.5M136.7 645.1l-0.3 0.1M108.4 610l-0.2-1.2M114.9 636.7l0.2 0.2M133.5 641.6l0.5-0.5M115.6 627.6l1.4 0.4M125.5 619.3l0-0.1M117.8 623.2l0.3 0.6M107.8 629.4l-0.9 0.9M115.2 633.5l-0.2 0.3M115.7 642.3l-0.2-0.2M122.2 640.6l0.7-0.3M110.2 637.9l0.4-0.4M130 646.8l-0.1 0.1M127.8 616.7l0-0.4M136.8 638.7l-0.3 0.6M110.4 619.4l0-0.2M139 636.1l-0.2-0.3M102.4 612.9l0.3-0.8M146 642.6l-0.2 1.4M120 645.3l-0.7-1.1M122.1 618.7l0.3 0M129 625.9l-0.3 0.1M100.8 628.1l-0.1 0M144 622l-0.2-0.7M111.6 624.7l-0.1 0M132.9 620.2l0.5-0.1M128.8 638.5l-0.3 1.3M120.3 622.7l-0.9 0.3M117.6 637.4l0.7-0.2M139.9 609.6l-0.8 0.5M143.5 611.6l0 0.1M128.7 639l0.6-1M119.1 635.8l-1.3 0.3M123.7 616.1l-0.2-0.1M126.7 612.3l0.1-0.1M112 644l-1-0.6M103.1 639.8l0.1 0.1M124.2 615.6l0.4 0.4M135.6 617.9l1-1.1M147.6 649.3l-0.2-0.2M151 644.6l-0.9 0.6M126.7 636.9l0 0.7M150.5 610.2l-0.3 0M117.2 627.1l0.5-0.6M110.7 618.8l0.3 0M136.3 613.7l-0.4 0.2M115.6 639.9l0.1 0.5M153.2 627.1l-0.1 0M115.6 629.5l-0.4 0.3M100.4 623.3l0.6 0.5M143.9 619.7l0.7 0.5M121.5 638l0.6 0.8M127 635.4l0.1 0.1M107.5 623.8l-0.6 0.1M117.1 618.4l-0.2-0.3M116.6 614.5l1.2 0M127.2 630.6l-0.8-0.4M119.1 644.3l0.5 0.8" stroke="#d02020" stroke-width="1" stroke-linecap="round" fill="none"/>
<path d="M105.6 613.5l-0.1-0.3M110.7 628.4l0.5 1.4M130.9 635.8l-0.6 1M132.8 640.9l-0.2 0.3M129.8 613.5l0.1 0.1M143.7 622.4l0.6-0.1M130 649.7l0.1-0.7M118.9 646.1l-1.1 0.4M134.4 633.3l0.1 0.4M133.6 613.7l-0.3 0.4M108.9 610.7l0.8-0.2M129.8 632.3l0.1 0.2M142.5 632.7l-0.1 0.1M144.5 616.4l0 0M122.4 645l0.1-0.3M127.5 624.9l1-0.5M124.7 625.1l1.2-0.6" stroke="#d02020" stroke-width="1.5" stroke-linecap="round" fill="none"/>
<path d="M117.9 644.3l-0.3-0.4M118.5 619.2l-0.5 1.4M103.6 648.1l0.6 0M110.8 633.3l-1.3 0.5M130.8 640.4l1-0.4M118.5 645.2l0 0.3M122 643.7l-0.4-0.7" stroke="#d02020" stroke-width="0.5" stroke-linecap="round" fill="none"/>
</g>
<text x="27.5" y="660.8" font-size="9" fill="#3a4fc8" text-anchor="middle" stroke="#3a4fc8" stroke-width="0.22">DAPI</text>
<text x="77.2" y="660.8" font-size="9" fill="#4cc23c" text-anchor="middle" stroke="#4cc23c" stroke-width="0.22">EPCAM</text>
<text x="126.9" y="660.8" font-size="9" fill="#ee2a2a" text-anchor="middle" stroke="#ee2a2a" stroke-width="0.22">BIRC5</text>
<text x="178.9" y="493.2" font-size="9" fill="#1a1a1a" stroke="#1a1a1a" stroke-width="0.22">ACC</text>
<text x="326.7" y="493.2" font-size="9" text-anchor="end"><tspan fill="#3a4fc8">DAPI</tspan><tspan fill="#333">/</tspan><tspan fill="#4cc23c">EPCAM</tspan><tspan fill="#333">/</tspan><tspan fill="#ee2a2a">BIRC5</tspan></text>
<g clip-path="url(#gc1)"><g filter="url(#mblur)">
<rect x="178.7" y="495.3" width="148" height="113.1" fill="#020204"/>
<path d="M183.8 496.9a3.2 3.2 0 1 0 6.5 0a3.2 3.2 0 1 0 -6.5 0M196.9 497.7a3.2 3.2 0 1 0 6.4 0a3.2 3.2 0 1 0 -6.4 0M204.3 496.6a3.9 3.9 0 1 0 7.9 0a3.9 3.9 0 1 0 -7.9 0M211.7 498.3a4 4 0 1 0 8.1 0a4 4 0 1 0 -8.1 0M226.7 497a3.5 3.5 0 1 0 7 0a3.5 3.5 0 1 0 -7 0M233.9 497.9a3.3 3.3 0 1 0 6.6 0a3.3 3.3 0 1 0 -6.6 0M239.9 497.7a3.8 3.8 0 1 0 7.6 0a3.8 3.8 0 1 0 -7.6 0M274.7 497.6a3.8 3.8 0 1 0 7.6 0a3.8 3.8 0 1 0 -7.6 0M281.9 497.3a3.7 3.7 0 1 0 7.4 0a3.7 3.7 0 1 0 -7.4 0M291.5 496.2a3.4 3.4 0 1 0 6.9 0a3.4 3.4 0 1 0 -6.9 0M299 498a3.2 3.2 0 1 0 6.4 0a3.2 3.2 0 1 0 -6.4 0M305 496.6a3.4 3.4 0 1 0 6.8 0a3.4 3.4 0 1 0 -6.8 0M311.6 496.9a3.7 3.7 0 1 0 7.4 0a3.7 3.7 0 1 0 -7.4 0M318.4 496.9a3.6 3.6 0 1 0 7.2 0a3.6 3.6 0 1 0 -7.2 0M325.9 496.2a3.7 3.7 0 1 0 7.4 0a3.7 3.7 0 1 0 -7.4 0M178.6 504.4a3.5 3.5 0 1 0 7 0a3.5 3.5 0 1 0 -7 0M200.7 504.5a4.1 4.1 0 1 0 8.1 0a4.1 4.1 0 1 0 -8.1 0M214.5 502.7a4.4 4.4 0 1 0 8.7 0a4.4 4.4 0 1 0 -8.7 0M222 503a3.7 3.7 0 1 0 7.3 0a3.7 3.7 0 1 0 -7.3 0M236.7 503.4a3.4 3.4 0 1 0 6.8 0a3.4 3.4 0 1 0 -6.8 0M272.9 503.4a4 4 0 1 0 8 0a4 4 0 1 0 -8 0M279.5 503.6a4 4 0 1 0 7.9 0a4 4 0 1 0 -7.9 0M284.9 503.5a4.4 4.4 0 1 0 8.8 0a4.4 4.4 0 1 0 -8.8 0M294.1 504a3.9 3.9 0 1 0 7.7 0a3.9 3.9 0 1 0 -7.7 0M301.4 503.5a4.1 4.1 0 1 0 8.3 0a4.1 4.1 0 1 0 -8.3 0M306.9 503.8a4 4 0 1 0 8.1 0a4 4 0 1 0 -8.1 0M314.7 504.8a3.4 3.4 0 1 0 6.8 0a3.4 3.4 0 1 0 -6.8 0M323.3 503.5a4.1 4.1 0 1 0 8.2 0a4.1 4.1 0 1 0 -8.2 0M330.4 504.7a3.7 3.7 0 1 0 7.5 0a3.7 3.7 0 1 0 -7.5 0M175.2 510.5a4.2 4.2 0 1 0 8.5 0a4.2 4.2 0 1 0 -8.5 0M180.7 508.9a4.1 4.1 0 1 0 8.2 0a4.1 4.1 0 1 0 -8.2 0M188.4 509.1a3.9 3.9 0 1 0 7.8 0a3.9 3.9 0 1 0 -7.8 0M203 509.7a4.1 4.1 0 1 0 8.2 0a4.1 4.1 0 1 0 -8.2 0M210.1 510.2a3.9 3.9 0 1 0 7.8 0a3.9 3.9 0 1 0 -7.8 0M217.8 510.4a4 4 0 1 0 8 0a4 4 0 1 0 -8 0M231.6 510.7a3.9 3.9 0 1 0 7.7 0a3.9 3.9 0 1 0 -7.7 0M253.6 510.5a3.5 3.5 0 1 0 7 0a3.5 3.5 0 1 0 -7 0M269.2 508.8a4.2 4.2 0 1 0 8.4 0a4.2 4.2 0 1 0 -8.4 0M276 510.1a3.2 3.2 0 1 0 6.5 0a3.2 3.2 0 1 0 -6.5 0M284.2 510.4a3.7 3.7 0 1 0 7.4 0a3.7 3.7 0 1 0 -7.4 0M297.7 509.1a3.3 3.3 0 1 0 6.7 0a3.3 3.3 0 1 0 -6.7 0M305.1 509.4a3.6 3.6 0 1 0 7.2 0a3.6 3.6 0 1 0 -7.2 0M311.2 509.2a3.3 3.3 0 1 0 6.6 0a3.3 3.3 0 1 0 -6.6 0M319.4 508.8a4.4 4.4 0 1 0 8.7 0a4.4 4.4 0 1 0 -8.7 0M327 508.9a3.6 3.6 0 1 0 7.2 0a3.6 3.6 0 1 0 -7.2 0M193.5 516.1a3.5 3.5 0 1 0 7 0a3.5 3.5 0 1 0 -7 0M200.2 515a4.2 4.2 0 1 0 8.3 0a4.2 4.2 0 1 0 -8.3 0M215 516.6a3.7 3.7 0 1 0 7.4 0a3.7 3.7 0 1 0 -7.4 0M242.4 515.8a3.7 3.7 0 1 0 7.4 0a3.7 3.7 0 1 0 -7.4 0M272.6 516.4a3.4 3.4 0 1 0 6.7 0a3.4 3.4 0 1 0 -6.7 0M279.9 515.4a4.4 4.4 0 1 0 8.7 0a4.4 4.4 0 1 0 -8.7 0M286.9 515.2a4.2 4.2 0 1 0 8.5 0a4.2 4.2 0 1 0 -8.5 0M301.7 515.8a3.6 3.6 0 1 0 7.2 0a3.6 3.6 0 1 0 -7.2 0M307.7 516.4a3.2 3.2 0 1 0 6.5 0a3.2 3.2 0 1 0 -6.5 0M322.4 515.2a3.5 3.5 0 1 0 6.9 0a3.5 3.5 0 1 0 -6.9 0M329.2 515.2a4.4 4.4 0 1 0 8.7 0a4.4 4.4 0 1 0 -8.7 0M175.3 521.6a4 4 0 1 0 7.9 0a4 4 0 1 0 -7.9 0M190.3 521.3a3.7 3.7 0 1 0 7.4 0a3.7 3.7 0 1 0 -7.4 0M195.5 521.2a3.7 3.7 0 1 0 7.5 0a3.7 3.7 0 1 0 -7.5 0M202.7 521.4a4.3 4.3 0 1 0 8.6 0a4.3 4.3 0 1 0 -8.6 0M209.9 523.3a4.2 4.2 0 1 0 8.4 0a4.2 4.2 0 1 0 -8.4 0M240.9 522.5a3.3 3.3 0 1 0 6.5 0a3.3 3.3 0 1 0 -6.5 0M253.7 522a3.3 3.3 0 1 0 6.5 0a3.3 3.3 0 1 0 -6.5 0M269.3 522.2a4 4 0 1 0 7.9 0a4 4 0 1 0 -7.9 0M276.4 522.2a3.7 3.7 0 1 0 7.5 0a3.7 3.7 0 1 0 -7.5 0M290.7 523.1a3.5 3.5 0 1 0 7 0a3.5 3.5 0 1 0 -7 0M297.4 523.3a4.3 4.3 0 1 0 8.6 0a4.3 4.3 0 1 0 -8.6 0M305.9 522.7a3.5 3.5 0 1 0 7 0a3.5 3.5 0 1 0 -7 0M311.6 523.3a4.2 4.2 0 1 0 8.4 0a4.2 4.2 0 1 0 -8.4 0M317.4 521.9a4.1 4.1 0 1 0 8.2 0a4.1 4.1 0 1 0 -8.2 0M327 523.4a3.2 3.2 0 1 0 6.5 0a3.2 3.2 0 1 0 -6.5 0M177.1 528.5a4.1 4.1 0 1 0 8.3 0a4.1 4.1 0 1 0 -8.3 0M185.5 528.5a3.2 3.2 0 1 0 6.5 0a3.2 3.2 0 1 0 -6.5 0M193 527.9a4 4 0 1 0 8 0a4 4 0 1 0 -8 0M200.9 529.2a3.7 3.7 0 1 0 7.5 0a3.7 3.7 0 1 0 -7.5 0M263.7 528.9a4.1 4.1 0 1 0 8.2 0a4.1 4.1 0 1 0 -8.2 0M278.9 527.8a4 4 0 1 0 8 0a4 4 0 1 0 -8 0M287 528.2a3.4 3.4 0 1 0 6.9 0a3.4 3.4 0 1 0 -6.9 0M294.8 529.3a3.6 3.6 0 1 0 7.2 0a3.6 3.6 0 1 0 -7.2 0M307.6 529.1a4.1 4.1 0 1 0 8.3 0a4.1 4.1 0 1 0 -8.3 0M313.8 527.6a4.2 4.2 0 1 0 8.5 0a4.2 4.2 0 1 0 -8.5 0M323.8 528.1a3.7 3.7 0 1 0 7.3 0a3.7 3.7 0 1 0 -7.3 0M173.5 533.9a4.3 4.3 0 1 0 8.6 0a4.3 4.3 0 1 0 -8.6 0M181.3 534.9a3.7 3.7 0 1 0 7.3 0a3.7 3.7 0 1 0 -7.3 0M189.3 535.8a3.3 3.3 0 1 0 6.7 0a3.3 3.3 0 1 0 -6.7 0M197.2 535.8a3.4 3.4 0 1 0 6.9 0a3.4 3.4 0 1 0 -6.9 0M204.8 533.9a3.4 3.4 0 1 0 6.8 0a3.4 3.4 0 1 0 -6.8 0M260.7 535a4.4 4.4 0 1 0 8.7 0a4.4 4.4 0 1 0 -8.7 0M269 535.3a4.2 4.2 0 1 0 8.3 0a4.2 4.2 0 1 0 -8.3 0M274.4 534.7a4.4 4.4 0 1 0 8.7 0a4.4 4.4 0 1 0 -8.7 0M282.2 534.2a4.1 4.1 0 1 0 8.1 0a4.1 4.1 0 1 0 -8.1 0M289.4 535a3.9 3.9 0 1 0 7.7 0a3.9 3.9 0 1 0 -7.7 0M297.6 534.2a4.1 4.1 0 1 0 8.1 0a4.1 4.1 0 1 0 -8.1 0M304.8 535.8a4.3 4.3 0 1 0 8.5 0a4.3 4.3 0 1 0 -8.5 0M310.8 533.8a3.7 3.7 0 1 0 7.5 0a3.7 3.7 0 1 0 -7.5 0M318.6 533.8a3.8 3.8 0 1 0 7.7 0a3.8 3.8 0 1 0 -7.7 0M325.1 534.8a3.8 3.8 0 1 0 7.5 0a3.8 3.8 0 1 0 -7.5 0M177.3 542.2a3.9 3.9 0 1 0 7.9 0a3.9 3.9 0 1 0 -7.9 0M186.5 540.9a4 4 0 1 0 8 0a4 4 0 1 0 -8 0M192.1 542.2a4.3 4.3 0 1 0 8.6 0a4.3 4.3 0 1 0 -8.6 0M200.9 542.2a3.9 3.9 0 1 0 7.7 0a3.9 3.9 0 1 0 -7.7 0M257.5 540.5a4 4 0 1 0 8 0a4 4 0 1 0 -8 0M265.5 540.7a4.4 4.4 0 1 0 8.7 0a4.4 4.4 0 1 0 -8.7 0M271.5 540.8a3.3 3.3 0 1 0 6.6 0a3.3 3.3 0 1 0 -6.6 0M279.4 541.9a4.3 4.3 0 1 0 8.6 0a4.3 4.3 0 1 0 -8.6 0M286.8 541.2a3.4 3.4 0 1 0 6.9 0a3.4 3.4 0 1 0 -6.9 0M293.9 541.3a4.4 4.4 0 1 0 8.8 0a4.4 4.4 0 1 0 -8.8 0M302.1 540.6a3.8 3.8 0 1 0 7.5 0a3.8 3.8 0 1 0 -7.5 0M307.4 542.3a4.3 4.3 0 1 0 8.6 0a4.3 4.3 0 1 0 -8.6 0M316.2 540.8a3.9 3.9 0 1 0 7.9 0a3.9 3.9 0 1 0 -7.9 0M322.6 541.6a3.9 3.9 0 1 0 7.9 0a3.9 3.9 0 1 0 -7.9 0M329.7 540.1a3.9 3.9 0 1 0 7.9 0a3.9 3.9 0 1 0 -7.9 0M176.4 547.7a3.5 3.5 0 1 0 6.9 0a3.5 3.5 0 1 0 -6.9 0M183 547a4 4 0 1 0 8.1 0a4 4 0 1 0 -8.1 0M261.1 547.4a4 4 0 1 0 8 0a4 4 0 1 0 -8 0M269.2 546.6a3.7 3.7 0 1 0 7.3 0a3.7 3.7 0 1 0 -7.3 0M276.4 547.8a4.2 4.2 0 1 0 8.4 0a4.2 4.2 0 1 0 -8.4 0M282.1 548.5a4.4 4.4 0 1 0 8.7 0a4.4 4.4 0 1 0 -8.7 0M288.7 547.6a4.1 4.1 0 1 0 8.1 0a4.1 4.1 0 1 0 -8.1 0M304.1 548.4a4.2 4.2 0 1 0 8.4 0a4.2 4.2 0 1 0 -8.4 0M310.3 547.7a4.1 4.1 0 1 0 8.3 0a4.1 4.1 0 1 0 -8.3 0M318.6 546.7a3.6 3.6 0 1 0 7.2 0a3.6 3.6 0 1 0 -7.2 0M326.7 547a4.3 4.3 0 1 0 8.6 0a4.3 4.3 0 1 0 -8.6 0M177.8 553.5a3.4 3.4 0 1 0 6.8 0a3.4 3.4 0 1 0 -6.8 0M186.3 553.1a3.7 3.7 0 1 0 7.5 0a3.7 3.7 0 1 0 -7.5 0M192.8 554.7a3.9 3.9 0 1 0 7.9 0a3.9 3.9 0 1 0 -7.9 0M258.6 553.4a3.7 3.7 0 1 0 7.3 0a3.7 3.7 0 1 0 -7.3 0M264.2 554.5a3.8 3.8 0 1 0 7.5 0a3.8 3.8 0 1 0 -7.5 0M271.1 552.8a3.9 3.9 0 1 0 7.9 0a3.9 3.9 0 1 0 -7.9 0M278.5 552.9a4.1 4.1 0 1 0 8.1 0a4.1 4.1 0 1 0 -8.1 0M286.2 554.9a3.5 3.5 0 1 0 7 0a3.5 3.5 0 1 0 -7 0M294.3 553.5a3.7 3.7 0 1 0 7.4 0a3.7 3.7 0 1 0 -7.4 0M300.1 554.7a3.6 3.6 0 1 0 7.1 0a3.6 3.6 0 1 0 -7.1 0M307.6 554.8a3.9 3.9 0 1 0 7.8 0a3.9 3.9 0 1 0 -7.8 0M315.6 554.8a3.5 3.5 0 1 0 6.9 0a3.5 3.5 0 1 0 -6.9 0M323 553.3a3.3 3.3 0 1 0 6.7 0a3.3 3.3 0 1 0 -6.7 0M329 553.9a4 4 0 1 0 8.1 0a4 4 0 1 0 -8.1 0M175.9 560a3.2 3.2 0 1 0 6.4 0a3.2 3.2 0 1 0 -6.4 0M181.8 561.1a4.3 4.3 0 1 0 8.7 0a4.3 4.3 0 1 0 -8.7 0M189.7 560.4a4.4 4.4 0 1 0 8.8 0a4.4 4.4 0 1 0 -8.8 0M210.8 559.1a3.6 3.6 0 1 0 7.3 0a3.6 3.6 0 1 0 -7.3 0M217.7 559.3a4.1 4.1 0 1 0 8.2 0a4.1 4.1 0 1 0 -8.2 0M261.8 559.7a3.4 3.4 0 1 0 6.8 0a3.4 3.4 0 1 0 -6.8 0M268.6 558.9a4.2 4.2 0 1 0 8.3 0a4.2 4.2 0 1 0 -8.3 0M274.9 559.1a4.3 4.3 0 1 0 8.6 0a4.3 4.3 0 1 0 -8.6 0M282.6 561.1a3.7 3.7 0 1 0 7.4 0a3.7 3.7 0 1 0 -7.4 0M296.6 559.3a4.3 4.3 0 1 0 8.7 0a4.3 4.3 0 1 0 -8.7 0M304.2 560.1a4.4 4.4 0 1 0 8.7 0a4.4 4.4 0 1 0 -8.7 0M311.6 560.2a3.3 3.3 0 1 0 6.7 0a3.3 3.3 0 1 0 -6.7 0M319.7 560a3.4 3.4 0 1 0 6.8 0a3.4 3.4 0 1 0 -6.8 0M178.5 565.1a4.3 4.3 0 1 0 8.7 0a4.3 4.3 0 1 0 -8.7 0M192.7 566.1a4.3 4.3 0 1 0 8.5 0a4.3 4.3 0 1 0 -8.5 0M199.2 566.4a3.5 3.5 0 1 0 7 0a3.5 3.5 0 1 0 -7 0M208 566.2a3.2 3.2 0 1 0 6.4 0a3.2 3.2 0 1 0 -6.4 0M215.1 565.5a4.3 4.3 0 1 0 8.6 0a4.3 4.3 0 1 0 -8.6 0M220.9 567.2a4.1 4.1 0 1 0 8.3 0a4.1 4.1 0 1 0 -8.3 0M257.9 565.1a3.2 3.2 0 1 0 6.5 0a3.2 3.2 0 1 0 -6.5 0M263.5 566.8a4 4 0 1 0 8 0a4 4 0 1 0 -8 0M270.7 565.4a4 4 0 1 0 8 0a4 4 0 1 0 -8 0M278.5 565.6a3.8 3.8 0 1 0 7.6 0a3.8 3.8 0 1 0 -7.6 0M285.5 567.2a4 4 0 1 0 8 0a4 4 0 1 0 -8 0M294.5 567.3a3.9 3.9 0 1 0 7.8 0a3.9 3.9 0 1 0 -7.8 0M299.7 566.4a4.4 4.4 0 1 0 8.8 0a4.4 4.4 0 1 0 -8.8 0M309.3 567a3.5 3.5 0 1 0 7 0a3.5 3.5 0 1 0 -7 0M316.1 565.2a3.8 3.8 0 1 0 7.6 0a3.8 3.8 0 1 0 -7.6 0M323.6 566.6a3.7 3.7 0 1 0 7.5 0a3.7 3.7 0 1 0 -7.5 0M328.7 565.4a3.8 3.8 0 1 0 7.7 0a3.8 3.8 0 1 0 -7.7 0M173.7 573.6a4 4 0 1 0 8 0a4 4 0 1 0 -8 0M181.3 572.2a3.4 3.4 0 1 0 6.9 0a3.4 3.4 0 1 0 -6.9 0M189.6 572.6a3.9 3.9 0 1 0 7.8 0a3.9 3.9 0 1 0 -7.8 0M197.3 572.3a3.3 3.3 0 1 0 6.6 0a3.3 3.3 0 1 0 -6.6 0M203.4 572.7a4.3 4.3 0 1 0 8.6 0a4.3 4.3 0 1 0 -8.6 0M232.1 572.9a3.8 3.8 0 1 0 7.6 0a3.8 3.8 0 1 0 -7.6 0M240.1 571.7a3.2 3.2 0 1 0 6.4 0a3.2 3.2 0 1 0 -6.4 0M253.9 572.2a3.4 3.4 0 1 0 6.9 0a3.4 3.4 0 1 0 -6.9 0M261.1 572.1a4.3 4.3 0 1 0 8.5 0a4.3 4.3 0 1 0 -8.5 0M269.3 571.4a3.2 3.2 0 1 0 6.4 0a3.2 3.2 0 1 0 -6.4 0M290.4 572.9a4 4 0 1 0 8.1 0a4 4 0 1 0 -8.1 0M298.5 571.7a3.5 3.5 0 1 0 6.9 0a3.5 3.5 0 1 0 -6.9 0M311.6 572.3a3.8 3.8 0 1 0 7.6 0a3.8 3.8 0 1 0 -7.6 0M318.9 571.6a3.2 3.2 0 1 0 6.4 0a3.2 3.2 0 1 0 -6.4 0M326.1 572.8a3.9 3.9 0 1 0 7.9 0a3.9 3.9 0 1 0 -7.9 0M179.5 578a3.4 3.4 0 1 0 6.8 0a3.4 3.4 0 1 0 -6.8 0M184.4 578.2a4.1 4.1 0 1 0 8.3 0a4.1 4.1 0 1 0 -8.3 0M192.8 579.6a3.9 3.9 0 1 0 7.8 0a3.9 3.9 0 1 0 -7.8 0M201.1 577.7a3.4 3.4 0 1 0 6.9 0a3.4 3.4 0 1 0 -6.9 0M237.5 578.2a3.3 3.3 0 1 0 6.6 0a3.3 3.3 0 1 0 -6.6 0M249.7 578.4a3.8 3.8 0 1 0 7.7 0a3.8 3.8 0 1 0 -7.7 0M258.4 578.9a3.8 3.8 0 1 0 7.6 0a3.8 3.8 0 1 0 -7.6 0M265.9 578a3.6 3.6 0 1 0 7.2 0a3.6 3.6 0 1 0 -7.2 0M272.4 579.2a3.4 3.4 0 1 0 6.9 0a3.4 3.4 0 1 0 -6.9 0M278.9 577.6a3.8 3.8 0 1 0 7.6 0a3.8 3.8 0 1 0 -7.6 0M285.5 579.1a4.2 4.2 0 1 0 8.5 0a4.2 4.2 0 1 0 -8.5 0M293.3 578.8a3.7 3.7 0 1 0 7.3 0a3.7 3.7 0 1 0 -7.3 0M301.4 579.4a4.3 4.3 0 1 0 8.6 0a4.3 4.3 0 1 0 -8.6 0M307.4 579.6a3.4 3.4 0 1 0 6.7 0a3.4 3.4 0 1 0 -6.7 0M322.5 578.4a4.4 4.4 0 1 0 8.8 0a4.4 4.4 0 1 0 -8.8 0M328.7 579.4a3.8 3.8 0 1 0 7.7 0a3.8 3.8 0 1 0 -7.7 0M175.7 585.2a4 4 0 1 0 7.9 0a4 4 0 1 0 -7.9 0M183 584.7a3.9 3.9 0 1 0 7.8 0a3.9 3.9 0 1 0 -7.8 0M232.4 584.2a3.4 3.4 0 1 0 6.9 0a3.4 3.4 0 1 0 -6.9 0M238.8 585.3a3.9 3.9 0 1 0 7.9 0a3.9 3.9 0 1 0 -7.9 0M247.4 585.9a3.7 3.7 0 1 0 7.3 0a3.7 3.7 0 1 0 -7.3 0M254.7 584.9a4.1 4.1 0 1 0 8.2 0a4.1 4.1 0 1 0 -8.2 0M261.6 584.8a3.8 3.8 0 1 0 7.5 0a3.8 3.8 0 1 0 -7.5 0M268.8 585.4a3.8 3.8 0 1 0 7.6 0a3.8 3.8 0 1 0 -7.6 0M275.9 584.7a4.3 4.3 0 1 0 8.5 0a4.3 4.3 0 1 0 -8.5 0M282 584.4a3.8 3.8 0 1 0 7.6 0a3.8 3.8 0 1 0 -7.6 0M290.7 585.9a3.5 3.5 0 1 0 6.9 0a3.5 3.5 0 1 0 -6.9 0M297.1 585.1a4.3 4.3 0 1 0 8.6 0a4.3 4.3 0 1 0 -8.6 0M304.3 584.1a4.2 4.2 0 1 0 8.5 0a4.2 4.2 0 1 0 -8.5 0M311 585.7a3.6 3.6 0 1 0 7.2 0a3.6 3.6 0 1 0 -7.2 0M318.7 585.7a4.1 4.1 0 1 0 8.3 0a4.1 4.1 0 1 0 -8.3 0M326.9 584.8a3.7 3.7 0 1 0 7.3 0a3.7 3.7 0 1 0 -7.3 0M179.4 591.5a3.4 3.4 0 1 0 6.8 0a3.4 3.4 0 1 0 -6.8 0M186.2 591.1a3.4 3.4 0 1 0 6.8 0a3.4 3.4 0 1 0 -6.8 0M193.8 590.2a4 4 0 1 0 7.9 0a4 4 0 1 0 -7.9 0M200.1 591.1a4.2 4.2 0 1 0 8.4 0a4.2 4.2 0 1 0 -8.4 0M214.8 592.4a4.1 4.1 0 1 0 8.3 0a4.1 4.1 0 1 0 -8.3 0M229.2 590.2a4.1 4.1 0 1 0 8.3 0a4.1 4.1 0 1 0 -8.3 0M243.5 590.4a4.2 4.2 0 1 0 8.4 0a4.2 4.2 0 1 0 -8.4 0M249.1 591.9a4.2 4.2 0 1 0 8.4 0a4.2 4.2 0 1 0 -8.4 0M258.8 590.4a3.4 3.4 0 1 0 6.9 0a3.4 3.4 0 1 0 -6.9 0M266.4 591a3.4 3.4 0 1 0 6.8 0a3.4 3.4 0 1 0 -6.8 0M272.4 591.3a3.5 3.5 0 1 0 7.1 0a3.5 3.5 0 1 0 -7.1 0M279.4 590.4a3.4 3.4 0 1 0 6.8 0a3.4 3.4 0 1 0 -6.8 0M287.4 590.5a4 4 0 1 0 7.9 0a4 4 0 1 0 -7.9 0M294.4 591.4a4 4 0 1 0 8.1 0a4 4 0 1 0 -8.1 0M301.8 591.3a3.3 3.3 0 1 0 6.6 0a3.3 3.3 0 1 0 -6.6 0M307.9 591.8a3.3 3.3 0 1 0 6.5 0a3.3 3.3 0 1 0 -6.5 0M316.6 592.4a3.3 3.3 0 1 0 6.6 0a3.3 3.3 0 1 0 -6.6 0M322.3 591.7a3.4 3.4 0 1 0 6.7 0a3.4 3.4 0 1 0 -6.7 0M328.5 591.4a4.2 4.2 0 1 0 8.4 0a4.2 4.2 0 1 0 -8.4 0M174.9 596.5a4.1 4.1 0 1 0 8.1 0a4.1 4.1 0 1 0 -8.1 0M181.3 596.7a4 4 0 1 0 8 0a4 4 0 1 0 -8 0M203.5 597.4a3.9 3.9 0 1 0 7.7 0a3.9 3.9 0 1 0 -7.7 0M233.3 597.7a3.5 3.5 0 1 0 7 0a3.5 3.5 0 1 0 -7 0M247.4 596.8a3.8 3.8 0 1 0 7.7 0a3.8 3.8 0 1 0 -7.7 0M255.2 596.9a3.2 3.2 0 1 0 6.5 0a3.2 3.2 0 1 0 -6.5 0M262.3 598a3.4 3.4 0 1 0 6.8 0a3.4 3.4 0 1 0 -6.8 0M269.5 596.7a3.5 3.5 0 1 0 7 0a3.5 3.5 0 1 0 -7 0M276 597a4.1 4.1 0 1 0 8.1 0a4.1 4.1 0 1 0 -8.1 0M281.6 596.7a3.9 3.9 0 1 0 7.9 0a3.9 3.9 0 1 0 -7.9 0M289.7 597.4a3.5 3.5 0 1 0 7 0a3.5 3.5 0 1 0 -7 0M296.6 597.7a3.5 3.5 0 1 0 7.1 0a3.5 3.5 0 1 0 -7.1 0M305.4 596.6a4 4 0 1 0 8 0a4 4 0 1 0 -8 0M312 596.9a3.9 3.9 0 1 0 7.9 0a3.9 3.9 0 1 0 -7.9 0M319.9 598.6a3.3 3.3 0 1 0 6.6 0a3.3 3.3 0 1 0 -6.6 0M325.7 597.9a4.4 4.4 0 1 0 8.8 0a4.4 4.4 0 1 0 -8.8 0M177.2 603.2a4.2 4.2 0 1 0 8.5 0a4.2 4.2 0 1 0 -8.5 0M199.9 604.1a3.5 3.5 0 1 0 7 0a3.5 3.5 0 1 0 -7 0M228.9 603.2a4.2 4.2 0 1 0 8.5 0a4.2 4.2 0 1 0 -8.5 0M256.4 604.7a4.2 4.2 0 1 0 8.4 0a4.2 4.2 0 1 0 -8.4 0M264.3 604.6a3.5 3.5 0 1 0 6.9 0a3.5 3.5 0 1 0 -6.9 0M272.2 603.9a3.2 3.2 0 1 0 6.5 0a3.2 3.2 0 1 0 -6.5 0M277.9 603.1a4.3 4.3 0 1 0 8.6 0a4.3 4.3 0 1 0 -8.6 0M286.2 603.8a3.4 3.4 0 1 0 6.8 0a3.4 3.4 0 1 0 -6.8 0M300.2 603.9a3.7 3.7 0 1 0 7.4 0a3.7 3.7 0 1 0 -7.4 0M307.5 602.6a3.9 3.9 0 1 0 7.8 0a3.9 3.9 0 1 0 -7.8 0M315.7 603.5a4.2 4.2 0 1 0 8.4 0a4.2 4.2 0 1 0 -8.4 0M322.6 604.6a4.2 4.2 0 1 0 8.4 0a4.2 4.2 0 1 0 -8.4 0M329 603a4.1 4.1 0 1 0 8.2 0a4.1 4.1 0 1 0 -8.2 0M176 609.8a3.3 3.3 0 1 0 6.6 0a3.3 3.3 0 1 0 -6.6 0M183.1 609.7a3.3 3.3 0 1 0 6.6 0a3.3 3.3 0 1 0 -6.6 0M188.8 609.6a4 4 0 1 0 8 0a4 4 0 1 0 -8 0M203.8 609.8a3.5 3.5 0 1 0 7 0a3.5 3.5 0 1 0 -7 0M247.2 610.4a3.4 3.4 0 1 0 6.7 0a3.4 3.4 0 1 0 -6.7 0M254.7 609.7a3.2 3.2 0 1 0 6.5 0a3.2 3.2 0 1 0 -6.5 0M260.9 611.1a3.6 3.6 0 1 0 7.2 0a3.6 3.6 0 1 0 -7.2 0M268.7 611a3.3 3.3 0 1 0 6.6 0a3.3 3.3 0 1 0 -6.6 0M275.3 611.1a4.2 4.2 0 1 0 8.4 0a4.2 4.2 0 1 0 -8.4 0M283.8 608.9a3.5 3.5 0 1 0 7 0a3.5 3.5 0 1 0 -7 0M290.1 609.6a3.7 3.7 0 1 0 7.4 0a3.7 3.7 0 1 0 -7.4 0M298.1 610.4a3.2 3.2 0 1 0 6.4 0a3.2 3.2 0 1 0 -6.4 0M305.8 609.3a3.4 3.4 0 1 0 6.9 0a3.4 3.4 0 1 0 -6.9 0M310.3 611a4.3 4.3 0 1 0 8.5 0a4.3 4.3 0 1 0 -8.5 0M318.4 610.7a3.3 3.3 0 1 0 6.6 0a3.3 3.3 0 1 0 -6.6 0M326.7 610a4.1 4.1 0 1 0 8.1 0a4.1 4.1 0 1 0 -8.1 0" stroke="#36b636" stroke-width="0.9" stroke-opacity="0.85" fill="none"/>
<path d="M304 501.6l-0.4-2.6l-2.3 1.2l-1.5 2.1l-0.2 2.6l-2.6 0.2l-2.4 1M189.5 604.2l2.5-0.8l2.6-0.3l2.6-0.4l2.6-0.4l1.9-1.8l2.5 0.6M307.7 582.7l2.5-0.9l2.6-0.5l2.5 0.5l2.6-0.5l-1.6 2l-2.6 0.5M280.6 511.8l0.5 2.6l2.1 1.5l1 2.4l2.5 0.7l2.6-0.5l0.9 2.4M283.3 560l-1.2-2.3l-1.9-1.7l-0.6-2.5l2.6-0.3l2-1.7l-1.7-1.9M196.1 594.7l-0.3-2.6l0.5-2.6l2.5-0.7l2.1 1.5l-0.1-2.6l0-2.6M273.8 513.7l-2.4-0.9l-2.3 1.2l0.4 2.6l-1.7 1.9l-0.9 2.4l-1.1 2.3M205 510.4l2.3 1.3l2.4 1.1l2.4 1.1l2.3-1.1l2.6 0.5l2.2-1.4M181 560.5l2.3 1.1l2.5 0.9l1.8 1.9l2 1.6l-1.7 2l-2.6 0.3M221 570l-1.9 1.8l1.4 2.2l1.7 1.9l2.1 1.6l1 2.4l2.1 1.6M325.4 583.5l-2.1 1.5l-2.2 1.4l-2.6 0.1l-2.6 0.3l-1.8-1.8l-0.7-2.5M212.7 505.8l-0.4-2.6l1.1-2.4l1.9-1.8l2.3-1.2l2.5-0.5l1.4-2.2M201.6 554.6l-2.1 1.5l-0.6 2.5l1.6 2.1l2.5-0.9l2.4-1.1l1.7-1.9M241.6 573l-2 1.7l0.4 2.6l-2.6-0.1l-2.6-0.4l-1.5 2.2l2 1.6M290.1 522.6l-1.3 2.3l2.1 1.5l2.5-0.8l2.6 0.3l0.4-2.6l0.7-2.5M190.6 548l-1.8-1.9l-2.6 0.2l-2.5 0.8l-1.7 2l-1.3 2.2l-0.9 2.4M308.8 550.7l1.1 2.3l-0.5 2.5l-0.1 2.6l0.9 2.4l1.6 2l-0.1 2.6M318.5 514.1l-2.2-1.4l-0.7-2.5l1.2-2.3l-0.6-2.5l-2.4-1.1l-2.5-0.7M188.9 598l-2.1 1.5l-0.2 2.6l0 2.6l2.6-0.4l2.1 1.6l-0.5 2.6M279.8 598.2l1.3 2.3l2.4 1.1l2.4 1l2.6 0.3l2.6 0.4l2.6-0.4M272.3 573.3l2.6-0.4l1 2.4l0.8 2.5l0.6 2.5l-0.6 2.5l1.4 2.2M252.7 603.9l2 1.7l2.1 1.6l-0.3 2.6l1.7 2l2.2-1.3l2.3-1.2M179.7 605.9l-2.6 0.4l-1.9 1.8l-2.3 1.3l-2.4 1l-1.8-1.9l1.1-2.4M216.3 602.8l-1.2 2.3l1.2 2.3l-1 2.4l1.1 2.3l2.1 1.6l2.3 1.1M259.5 507l1.9-1.7l0.4-2.6l2.4-1.1l1.9-1.8l2.6 0l2.2 1.3M217 524.4l-1.6-2.1l1.1-2.4l2.6-0.1l2-1.6l0.5-2.5l2.1-1.6M318.8 534.8l-2.3 1.2l-2.6 0.3l-1.3-2.2l1.8-1.9l1.2-2.3l-2.4-0.9M193.3 518.3l0.6-2.5l-2.1-1.5l-1.9 1.7l0.7 2.5l1 2.4l0.7 2.5M189.1 572.4l2.6-0.3l2.6 0.4l2.1 1.5l2.6-0.3l0.6 2.5l0.5 2.5M296.9 558.9l1.5 2.1l2.6-0.4l1.3 2.2l0.2 2.6l-1 2.4l2.3 1.1M187.2 508.3l-2 1.7l-2.6 0.1l-2.6 0.2l-1.4-2.2l-1.5-2.1l0.7-2.5M297.8 505.2l2.4-1.1l2.3-1.1l0.4-2.6l1.5-2.1l2.3-1.2l2.5 0.6M205.3 519.7l-2.6 0.5l-2.5 0.9l-0.6 2.5l-0.7 2.5l-1.2 2.3l-2.4 1.1M289.6 583.9l-2.2-1.4l-0.8-2.5l2.5-0.7l2.4-1.1l1.8-1.9l-1.7-1.9M313.3 574.5l-0.1 2.6l0.4 2.6l2 1.7l0.4 2.6l1.8 1.9l-0.2-2.6M283 497.6l-0.1 2.6l-2.2 1.4l-2.6 0l-2.5 0.8l-2.6-0.5l-2.5-0.7M289.5 568.9l2.4 1l2-1.7l1.6-2.1l2.2-1.4l1.6-2.1l2.2-1.4M294.4 525l-2.2 1.4l-2.6-0.5l-2.4-1l-2.5 0.5l-2.1 1.5l-2.5-0.8M288.1 590.6l0.7 2.5l2.4 1l2.5 0.7l2.6-0.4l2.2 1.4l2 1.7M281.3 603.4l1.3-2.2l1.5-2.1l2.3-1.2l2-1.7l0.1-2.6l-0.1-2.6M324.6 577l-1.6 2.1l-2.4 1l-0.8-2.5l-1.5-2.1l-2.6-0.1l-0.8-2.5M301.2 526l1.1 2.4l2.3 1.2l1.4 2.2l2 1.7l-1.8 1.9l1.5 2.1" stroke="#34b034" stroke-width="0.7" stroke-opacity="0.7" fill="none" stroke-linejoin="round"/>
<path d="M186.7 496.3l0 1.2M197.1 527.3l0 1.2M268 528.3l0 1.2M282.7 527.2l0 1.2M264.9 534.4l0 1.2M306.3 540l0 1.2M308.2 559.5l0 1.2M183.1 564.5l0 1.2M276 578.6l0 1.2M282.5 577l0 1.2M271.5 610.4l0 1.2" stroke="#2a3bb8" stroke-width="5" stroke-linecap="round" fill="none"/>
<path d="M200.4 497.1l0 1.2M237.2 497.3l0 1.2M278.5 497l0 1.2M314.8 508.6l0 1.2M246.2 515.2l0 1.2M321.8 521.3l0 1.2M330.3 522.8l0 1.2M278.9 534.1l0 1.2M301.4 533.6l0 1.2M309.2 535.2l0 1.2M190.2 540.3l0 1.2M218.9 564.9l0 1.2M261.7 564.5l0 1.2M272.4 570.8l0 1.2M273 584.8l0 1.2M247.3 589.8l0 1.2M181.7 602.6l0 1.2M250.4 609.8l0 1.2M258.2 609.1l0 1.2" stroke="#2434a8" stroke-width="4" stroke-linecap="round" fill="none"/>
<path d="M207.9 496l0 1.2M229.8 496.4l0 1.2M279.2 509.5l0 1.2M287.7 509.8l0 1.2M199.4 520.6l0 1.2M243.7 521.9l0 1.2M188.8 527.9l0 1.2M286.3 533.6l0 1.2M298.5 552.9l0 1.2M322.7 559.4l0 1.2M265.4 571.5l0 1.2M301.7 571.1l0 1.2M243.1 584.7l0 1.2M323.1 585.1l0 1.2M283.1 589.8l0 1.2M319.8 591.8l0 1.2" stroke="#2434a8" stroke-width="4.5" stroke-linecap="round" fill="none"/>
<path d="M243.5 497.1l0 1.2M219.2 502.1l0 1.2M207.4 509.1l0 1.2M308.2 508.8l0 1.2M218.7 516l0 1.2M305.5 515.2l0 1.2M309.1 522.1l0 1.2M181.2 541.6l0 1.2M320.5 540.2l0 1.2M330.6 546.4l0 1.2M268.1 553.9l0 1.2M286.8 560.5l0 1.2M224.8 566.6l0 1.2M320.2 564.6l0 1.2M184.6 571.6l0 1.2M243.6 571.1l0 1.2M315.1 571.7l0 1.2M250.8 585.3l0 1.2M276.2 590.7l0 1.2M332.5 590.8l0 1.2M315.5 596.3l0 1.2M268 604l0 1.2M264.7 610.5l0 1.2" stroke="#2434a8" stroke-width="5" stroke-linecap="round" fill="none"/>
<path d="M295.2 495.6l0 1.2M225.6 502.4l0 1.2M235.9 510.1l0 1.2M197.2 515.5l0 1.2M326.3 541l0 1.2M272.5 546l0 1.2M308.4 547.8l0 1.2M311 554.2l0 1.2M313.2 566.4l0 1.2M332.3 564.8l0 1.2M330 572.2l0 1.2M180 584.6l0 1.2M183.1 590.9l0 1.2M265.5 597.4l0 1.2M309.1 596l0 1.2M178.9 609.2l0 1.2M309.3 608.7l0 1.2M261.6 546.4l-0.8-0.5" stroke="#2a3bb8" stroke-width="4.5" stroke-linecap="round" fill="none"/>
<path d="M182.2 503.8l0 1.2M273.2 508.2l0 1.2M325.4 514.6l0 1.2M185.2 534.3l0 1.2M204.9 541.6l0 1.2M334 539.5l0 1.2M280.3 547.2l0 1.2M313.9 547.1l0 1.2M262.2 552.8l0 1.2M188.9 577.6l0 1.2M308.3 583.5l0 1.2M258.8 596.3l0 1.2M323.1 598l0 1.2M330.1 597.3l0 1.2M332.7 602.4l0 1.2" stroke="#3142c0" stroke-width="5" stroke-linecap="round" fill="none"/>
<path d="M239.9 502.8l0 1.2M311.2 503.2l0 1.2M318.6 504.2l0 1.2M192.2 508.5l0 1.2M311.5 528.5l0 1.2M292.4 547l0 1.2M326.3 552.7l0 1.2M315.1 559.6l0 1.2M235.8 572.3l0 1.2M327 577.8l0 1.2M187.3 584.1l0 1.2M305.4 590.7l0 1.2M289.8 603.2l0 1.2M310.9 602l0 1.2M321.4 610.1l0 1.2M255.3 591.6l-0.2-0.4" stroke="#3142c0" stroke-width="4.5" stroke-linecap="round" fill="none"/>
<path d="M289.7 502.9l0 1.2M327.9 502.9l0 1.2M334.2 504.1l0 1.2M221.6 509.8l0 1.2M273.3 521.6l0 1.2M177.4 533.3l0 1.2M257.7 571.6l0 1.2M294.3 572.3l0 1.2M253.4 577.8l0 1.2M310.5 579l0 1.2M269.5 590.4l0 1.2M293 596.8l0 1.2M304 603.3l0 1.2M326.7 604l0 1.2M293.7 609l0 1.2" stroke="#3142c0" stroke-width="4" stroke-linecap="round" fill="none"/>
<path d="M181.6 527.9l0 1.2M290 527.6l0 1.2M322.5 546.1l0 1.2M196.4 554.1l0 1.2M289.6 554.3l0 1.2M303.4 554.1l0 1.2M186.5 560.5l0 1.2M196.7 565.5l0 1.2M289.4 566.6l0 1.2M262.5 578.3l0 1.2M265.2 584.2l0 1.2M253 591.3l0 1.2M291.4 589.9l0 1.2M178.6 595.9l0 1.2M207.3 596.8l0 1.2M236.4 597.1l0 1.2M186.2 609.1l0 1.2M192.4 609l0 1.2M254.2 597.3l-0.7 0.4" stroke="#2a3bb8" stroke-width="4" stroke-linecap="round" fill="none"/>
<path d="M233.4 567.5l2.6-0.3" stroke="#3142c0" stroke-width="3" stroke-linecap="round" fill="none"/>
<path d="M245.4 524.1l0.8-0.1M258.4 596.7l0.4 2.5M272.4 559.1l-1-0.1" stroke="#2434a8" stroke-width="3.5" stroke-linecap="round" fill="none"/>
<path d="M226.2 500.2l0.1 2.6M241.3 603.4l-0.1-2.4" stroke="#2a3bb8" stroke-width="3.5" stroke-linecap="round" fill="none"/>
<path d="M229.8 536.8l1.1-2.3" stroke="#2a3bb8" stroke-width="3" stroke-linecap="round" fill="none"/>
<path d="M220.9 557.1l1.8 0.6" stroke="#3142c0" stroke-width="3.5" stroke-linecap="round" fill="none"/>
<path d="M180.7 544.3l0 2M187.7 555.3l0 2M253.7 510.3l0 2M290.7 508.3l0 2M291.7 516.3l0 2M282.7 579.3l0 2M316.7 586.3l0 2" stroke="#e0287c" stroke-width="7" stroke-linecap="round" fill="none"/>
<path d="M203.7 537.3 L195.7 550.3" stroke="#f0e020" stroke-width="0.9"/>
<circle cx="195.7" cy="550.3" r="1.3" fill="#f0e020"/>
<path d="M304.7 525.3 L298.7 535.3" stroke="#f0e020" stroke-width="0.9"/>
<circle cx="298.7" cy="535.3" r="1.3" fill="#f0e020"/>
</g></g>
<text x="323.7" y="601.2" font-size="8.6" fill="#e8e8e8" text-anchor="end" font-weight="bold">50μm</text>
<rect x="302.7" y="604.5" width="16" height="1.1" fill="#e8e8e8"/>
<g clip-path="url(#sc1_0)">
<rect x="178.7" y="611.3" width="48.5" height="36.3" fill="#040409"/>
<path d="M222.8 649.2l0.2 0.4M228.7 640.9l0.4 0.1M197.7 636.8l0.3 0.1M205.2 644.9l0-0.1M176.8 625.6l0.1-0.3M204.4 611.1l0.2 0M221.5 623.3l0 0M215.7 647.4l0 0M205.7 622.5l-0.2 0.3M209 629.5l0.2 0.4M228.4 647.1l-0.4-0.2M185.1 622.3l0.1 0.4M190.4 644.6l-0.3 0.1M226.7 635.2l0.1 0.1M184.5 614.3l0-0.4M199.6 645.9l0 0M217.1 636.3l0.1 0M204.9 622.8l0 0.1M204.6 620.5l0 0M209.3 632.9l0 0M204.6 625.4l0.3 0.2M201.1 635.1l-0.4-0.2M224.7 628.1l-0.3 0.4M225.3 637.7l-0.3 0.1M181.8 647.9l0.1-0.4M183.5 640.4l0.1-0.1M226.3 621.8l-0.1 0M221.8 622l0.4-0.2M183.5 639.8l0-0.5M201.6 623.9l0.1-0.2M210.1 634.1l0.3 0.3M203.2 633.7l-0.1 0M222.7 635.1l0.3 0.1M182.6 614.3l0-0.4M224.5 638.9l0.5 0M191.9 648.2l0.3 0M209.7 619.8l0.2 0.2M210.3 645.7l0 0.1M187.2 630.1l-0.2 0.3M226 632.2l0 0.1M219.8 640.3l0.5-0.1M223.7 614.8l0 0.1M182 624.6l0.1-0.2M207.6 633.9l0 0M226.8 641.7l0 0.2M210.8 644l0 0M201.4 643.9l-0.3-0.2M184.1 625.8l0.2 0.4M190.3 638.2l0.4-0.1M179.8 621.3l0 0.5M184.8 630.3l0.3 0M203.7 635.7l-0.4 0M207 620.7l0.3-0.4M213.7 609.7l0 0M186.2 645.4l0.1 0M203.3 611l-0.2-0.2M210 630.2l-0.4-0.1M206.8 621l-0.4 0M202.3 626.5l0.1 0M181.5 617.8l0.2-0.1M222.6 612.8l0 0.2M208.4 640.3l-0.5 0.1M216.1 628.7l0.3-0.3M212.9 644.1l0-0.1M226.5 649.2l0.1-0.2M202.7 631.4l-0.2 0.1M224.1 615.6l-0.2 0.1M211.5 610.4l-0.3 0.3M184.4 633.6l0.1 0.3M201.3 614.2l0.1 0M214.2 640.1l-0.2-0.1M197.5 609.9l-0.2 0.3M202.4 642.9l-0.5-0.1M224.2 628.6l-0.3-0.1M224.9 619.6l0-0.1M212.8 632.9l0.1 0.1M224.7 628.4l-0.4 0.2M184.5 643.5l-0.2-0.4M217.3 632.6l0.2 0M217.4 638.5l0.3-0.3M200 613l-0.1 0M200.9 610.8l0.1-0.3M198.1 622.5l-0.3-0.1M195.7 642.3l0 0M226.5 649.4l0 0M189.2 618.9l0.1 0.1M198.6 616.4l0.4 0.3M194.9 640.4l0.1 0.4M213.3 635.9l0 0M207.9 614.5l0.3-0.4M194.3 646.3l0-0.1M206.3 638.2l-0.2-0.2M215.4 645.8l-0.2-0.3M182.8 618.4l0.4 0" stroke="#2a3ec8" stroke-width="1.5" stroke-linecap="round" fill="none"/>
<path d="M226.1 626.6l0.1-0.1M218.7 647.7l-0.1 0M191.2 628.4l-0.1-0.2M213 627.1l0 0M221.5 616.1l0.2 0M207.6 646.5l0.4 0" stroke="#2a3ec8" stroke-width="2" stroke-linecap="round" fill="none"/>
<path d="M212.5 628.4l0.1-0.1M221.2 637.3l0.2 0M201.8 626l-0.3 0.1M191.1 611.1l0 0.1M186.3 610.3l0.3 0.1M179.8 629l0.2-0.2M176.6 631.5l0.2-0.2M201.6 624.5l0.1 0M212.2 634l0.4 0M182.7 625.6l-0.3-0.1" stroke="#2a3ec8" stroke-width="1" stroke-linecap="round" fill="none"/>
</g>
<g clip-path="url(#sc1_1)">
<rect x="228.4" y="611.3" width="48.5" height="36.3" fill="#040409"/>
<path d="M275.2 647.3l-1.5-0.7l-1.4 0.7l-1.4-0.8l-1-1.2l0.2-1.6l-0.3-1.6l-1.6-0.2M232.6 617.6l1.6-0.1l1.4-0.7l1.4-0.7l0.6-1.5l0.9-1.3l-0.2-1.6l1.3 1M230.9 612.6l-0.2-1.6l0.1-1.6l-1.2-1.1l-1-1.3l-1.6-0.3l-1.1-1.2l-1.1-1.2M231.9 617.4l1.6-0.2l0.8 1.4l1.6-0.3l0.6 1.5l1.6-0.3l1.4-0.8l1.2-1M231.8 633.8l1.3 0.9l1.6-0.1l1.5 0.6l1.2 1.1l0.3 1.6l1.4 0.7l0.9 1.3M256.5 647.6l0.5-1.5l-0.8-1.4l-0.5-1.5l0.2-1.6l-0.5-1.5l-0.5-1.5l0.6-1.5M232 623.7l1.3 0.9l1.5 0.6l1.5-0.6l1.6-0.1l1.2-1.1l0.5-1.5l0.4-1.5M235.2 647.4l1.6-0.1l1.6-0.4l1.5 0.4l1.5-0.6l1.2-1.1l1.2-1.1l-0.8-1.4M261.7 638.9l-0.6 1.5l-1.2 1l-1.6-0.4l-1.5-0.5l-1.3 1l-1.3-1l-0.9-1.3M268.5 642.1l1.6-0.3l0.3 1.6l-0.6 1.5l-0.6 1.5l-1.1 1.2l-1.4 0.8l-1.1 1.2M251.3 628.7l0.7-1.5l0.4-1.5l1.5-0.4l-1.1-1.2l-1.6 0.4l-1.6-0.2l-1.6-0.1M258.7 612.8l1.4-0.8l0.4-1.6l1.6 0.2l-0.6 1.5l0.2 1.6l0.7 1.5l0 1.6M236.2 644.3l-0.4 1.6l0.8 1.4l0.8 1.4l1.4 0.9l1.4 0.8l0.7-1.5l0.9-1.3M258.6 627.8l-0.7 1.4l0.9 1.3l1.5 0.5l1.6-0.3l1.5 0.6l-0.2 1.6l-0.7 1.4M255.5 641.9l-1.3 0.9l-0.3 1.6l0.1 1.6l-0.8 1.4l-1.6 0.2l-1.2-1l0.3-1.6M244.7 618.4l1.4-0.8l1.1 1.2l1.5 0.4l1.3-0.9l1.5 0.5l0.6-1.5l1.1-1.2M275.4 632l0.5-1.5l-0.9-1.3l-0.6-1.5l1.5-0.5l1.6 0l0.9-1.3l-0.4-1.6M244.5 631.9l-0.6 1.5l-1.6 0.2l-1.5 0.7l-1.6 0.1l0-1.6l-0.5-1.5l-0.4-1.5M256.3 615.4l1.6-0.2l0.7-1.4l0.1-1.6l1.5-0.5l1.6 0.3l1.6-0.2l1.3 0.9M252.8 626.1l0.7-1.4l0.5-1.5l1.6-0.3l0.7-1.4l-0.7-1.4l-0.8-1.4l-0.6-1.5M269 626.6l-0.9 1.3l-1.3-1l-0.9-1.3l-1.3-0.9l-0.9-1.3l-1.6 0l-1.5 0.5M243.4 614.7l-1.5-0.4l-0.9-1.3l-1.3-0.9l1.2-1.1l1.5-0.6l1.5 0.6l0.2 1.6M263.8 630.1l1.5 0.6l1.6-0.1l1-1.3l1.2-1l0.4-1.5l-1.6-0.3l-1.5-0.5M261.4 614.5l-1.2 1.1l-1.5-0.4l-1.1-1.1l-0.7-1.4l1.3-0.9l-0.5-1.5l-0.4-1.6M265.9 632.5l1.6 0.3l1.4-0.7l1.6-0.3l1.1-1.2l0.2-1.6l-0.2-1.6l0.1-1.6M237.9 636.5l1.6 0.1l1 1.2l1.5 0.5l1.3 0.9l1.3 0.9l0.1 1.6l-0.5 1.5M264.8 626l0 1.6l0.7 1.4l-0.6 1.5l1.4 0.8l1.6 0l1.1-1.2l1.6 0.2M270 630.1l0.7-1.4l0.4-1.5l-0.1-1.6l-0.3-1.6l0.6-1.5l1.3-1l0.2 1.6M255.3 622.1l0.3-1.6l-1.4-0.7l-1.6-0.2l-1.3 1l-1.1 1.2l0.7 1.4l-0.7 1.4M261.6 643.8l-0.3-1.6l-0.1-1.6l0.2-1.6l0.9-1.3l-1-1.2l-0.8-1.4l-0.4-1.5M239.9 636.2l0.3 1.6l0 1.6l0 1.6l-1.6-0.1l-1.6-0.2l-1.6 0.2l-1 1.2M271.9 632.7l-0.7 1.4l-1 1.2l-1.3 0.9l-0.2 1.6l-0.3 1.6l0.5 1.5l0.3 1.6M266.3 621l-1.5 0.6l-0.6-1.5l-0.7-1.4l-0.9-1.3l-1.3-0.9l0.2-1.6l-1.2-1" stroke="#2fae2f" stroke-width="0.6" stroke-opacity="0.9" fill="none" stroke-linejoin="round"/>
</g>
<g clip-path="url(#sc1_2)">
<rect x="278.2" y="611.3" width="48.5" height="36.3" fill="#040409"/>
<path d="M284.2 615.3l0 0.6M308.2 625.3l0 0.6M318.2 627.3l0 0.6M285.2 633.3l0 0.6M316.2 637.3l0 0.6M323.2 645.3l0 0.6M298.2 616.3l0 0.6" stroke="#e02828" stroke-width="2" stroke-linecap="round" fill="none"/>
</g>
<text x="203" y="660.8" font-size="9" fill="#3a4fc8" text-anchor="middle" stroke="#3a4fc8" stroke-width="0.22">DAPI</text>
<text x="252.7" y="660.8" font-size="9" fill="#4cc23c" text-anchor="middle" stroke="#4cc23c" stroke-width="0.22">EPCAM</text>
<text x="302.4" y="660.8" font-size="9" fill="#ee2a2a" text-anchor="middle" stroke="#ee2a2a" stroke-width="0.22">BIRC5</text>
<text x="353.2" y="493.2" font-size="9" fill="#1a1a1a" stroke="#1a1a1a" stroke-width="0.22">IMT</text>
<text x="501" y="493.2" font-size="9" text-anchor="end"><tspan fill="#3a4fc8">DAPI</tspan><tspan fill="#333">/</tspan><tspan fill="#4cc23c">EPCAM</tspan><tspan fill="#333">/</tspan><tspan fill="#ee2a2a">BIRC5</tspan></text>
<g clip-path="url(#gc2)"><g filter="url(#mblur)">
<rect x="353" y="495.3" width="148" height="113.1" fill="#04040f"/>
<path d="M439.1 521.7l1 1.1M474.9 593.2l3-1.3M363.9 564.7l1-0.4M373.7 586l1.8-0.8M443.3 565.2l0.9-0.2M484.5 516.9l2.1-1.9M466.3 581.1l1.4-1.2M457.9 501l2-1.1M395.9 606.2l1.7-1.6M471.1 526.8l1.2-1.2M354.4 531.3l1.6-0.8M491.1 501.8l1-0.5M426.7 504.1l1-0.5M443.9 541.6l2.3 1.4M386.2 566l2.4-1.1M433.9 599.6l2.7-1.3M444.1 582.1l1.1-0.4M463.2 502.7l1-0.7M393.1 540l1.6-0.4M437.4 526.3l2.7-1.2M400.7 531.3l0.8-0.3M400.1 591.5l1.3-1M387.6 521.2l1.4-1.2M465.8 536.8l0.7-0.8M501.3 567.5l0.9-0.7M443.7 549.5l0.7-0.7" stroke="#162676" stroke-width="2.5" stroke-linecap="round" fill="none"/>
<path d="M391.1 598l1.1-0.7M436.7 552.5l1.4-1.1M400.4 593.7l2.7-0.1M461.9 509.4l2.3-0.8M481.5 609.3l1.8-0.5M371.4 537.8l2.8-0.7M487.8 535l2.1-1.1M372.7 534.6l1-0.4M387 572.6l2-0.4M473.7 601.2l1.7-0.4M401.8 605.6l2.1-0.6M455.6 529.7l0.6-3M377.7 564.6l2.3-1.9M428 601.9l1.1 0.8M433.1 530.1l1.4-1.1M477.3 528.1l1.3-0.5M492 549.9l1.4-0.5M351.9 519.3l2.4-1.8M411.2 530.1l2.6-0.8M377.9 561.2l1.4-0.8M469.6 553l0.7-2.6M448.7 578.1l1.8-1.3M500.9 568.6l1.3 1.3M491.1 580.8l1.3-1.3M365.7 575.2l0.8-0.7M374.1 506l3.1-0.8M446.7 604.7l2.7 1M409.1 517.2l1.4-0.8M428.5 513.8l0.9-0.3M431.8 517.7l2.4-1.4M477.7 553l2.1-0.4M387.6 527l1.5-1.1M461.2 575.7l1.5 2.4M383.4 588.1l1.5-1M450.4 586.8l1.3-0.7M359.4 501.4l0.9-0.3M365.2 591.2l0.9-3.2M399.1 516.9l2.6-0.6M411.8 560.1l1.2-0.6M371.7 607.5l3.1-1.1M481.3 548.1l2.6-1.4M459.6 547.7l2.8-1.2M484.6 596.5l1.8-1.5M403.5 598.7l2-1.3M392.4 553.7l0.8-2.8M490.3 595.3l2 1.3M493.4 496.4l2.6-0.5M406 518.4l1.6-0.4" stroke="#263ca8" stroke-width="2" stroke-linecap="round" fill="none"/>
<path d="M499.9 575.6l1-0.9M385.4 577l1.9-1.7M469.5 524.1l1.6-1M484.2 498.5l1-0.9M385.5 504.9l1.6-0.9M490 510.7l2.2-1.1M363.9 493.7l1.8-0.7M375.3 525.7l2.1-0.8M465.3 511.4l1.7-1.2M486.9 599.9l3.1-1.1M463.7 609.1l1.6-0.9M390.3 509l0.8-0.5M369.7 555l1.1-0.8M496.6 554.1l1.7 0M450.9 558.3l0.8-0.8M433.2 519.3l2.3 0.3M472.9 521l1.4-0.7M390 600.7l3.3-0.2M406 562.9l1.3-0.8M382.3 610.3l1.1-0.7M367.1 572.9l1.2-1.7M461.2 537.6l1.8-1.2M439.7 501.1l0.9-0.6M489.4 518.8l2-1.8M439 521.9l1.4-1.1M449.7 512.8l1.7-0.5M382.1 513.3l3.1-0.6M471.1 516.2l2-1.6M410.5 603.1l1.2-1.2M441.4 536.4l2.6-1.1M438.3 527.7l2.3 1M441.2 555.4l1.2-0.8M474.7 566.8l2.9 1M374.8 582.1l0.8-0.2M379 610l1.7-1.1M412.4 518.8l1.4-0.6M471.2 600.5l2.3 0.6M414.1 514.6l2.6-0.5M400.3 604.6l1-0.9M423.4 565.2l1.5-0.8M412.5 510.8l2.8-1.4" stroke="#1c3090" stroke-width="2" stroke-linecap="round" fill="none"/>
<path d="M462.4 523.5l1.1-0.5M468.2 561.1l1.6-1.6M492.7 593.5l0.6-2.2M437.5 503.7l1-0.6M421.2 578.3l0.9-0.7M420.2 533.4l1.1-0.8M382.9 542.6l2.3-1.4M362.3 559.4l1.8-1.7M391.3 543.6l1.3-0.9M444.1 575.4l1.4-1.1M416.6 600.6l1.1-1.1M379.1 536.2l2.7-0.7M436.7 562.8l1.4-0.3M401.1 575.5l2.5-1.2M418.1 588.4l3-1.5M371.7 543.7l1-0.5M420.6 501.2l0.1-3.4M448.4 501.4l0.8 0.6M449.5 520l1-0.7M476.7 519.5l3-0.7M386.4 573.1l2-0.5M426.9 541l2.3-0.9M416 539.9l1.7-0.9M436 539.4l0.9-0.4M384.6 599.1l0.8-2M493.6 582.5l3.3-0.8M440.2 524.6l1-0.4M395.6 596.7l1.1 1.6M352.2 554.7l0.6-1.3M393.7 534.8l0.6-0.6" stroke="#3350c8" stroke-width="1.5" stroke-linecap="round" fill="none"/>
<path d="M367.6 569.2l2.4-1.2M371.3 577.9l2.9-0.5M495.9 605.9l2-0.4M408.7 531.8l1.1-1.4M407.9 500.9l2-1.1M439.1 537.9l1.9-1.4M424.6 550.7l2.5-1.1M413.5 561.2l0.8-0.3M453.6 605.4l2.6-1.7M367.5 534l1.2-0.7M398.5 581.4l2.9-1.3M450.1 599.3l2.6-1M488.3 508.6l1.3-1M410.5 564.7l0.9-1M477.3 597.4l0.9-0.5M381.6 513.1l2.4-1.2M424.1 565.9l1.4-0.3M376.6 596.9l3.1-1.4M397.5 581.8l1-3.1M359.1 589.8l2.6-1.1M463.3 582.2l2.3-1.1M382.6 513.7l1.1-0.9" stroke="#1c3090" stroke-width="2.5" stroke-linecap="round" fill="none"/>
<path d="M476.4 502.8l1.3-1M487 578.5l1-0.2M450.8 598.7l2.6-0.7M368.2 574.3l2.4-1.7M474.9 524.5l1.2-0.5M355.6 598.3l1.2-1M492.2 512.9l1.2-0.8M493.4 533.9l1.1-0.5M419 562.6l2-0.8M385.8 560.8l2.3-0.6M474.9 595l1.5-0.6M487 528.5l1.6-1.3M463.7 603.5l2.2-2.1M483.6 591.1l1.7-1.6M369.1 604.1l2.5-0.9M409.6 556.2l2.7-1.1M453.4 508.7l1.9-0.4M414.8 596.4l1-0.2M477.5 496.5l1.9-1.8M400.9 608.5l2.3-0.7M460.7 566.2l2.6-1.6M385.7 600.8l0.8-0.4M438.1 529.7l1.7-1.3M422.1 586.5l2.5-1.1M367.2 604.1l2.3 1.9M493.3 578.4l1.5 2.2M495.6 570.9l1.3-1.2M451.9 505.5l2.2-2.1M440.5 544.5l0.5 0.7M471.1 596.9l2-1.1M412.6 527l2.6 1.7M428.4 583.4l1.3-0.8M464.5 503.9l1.5 2M490.1 547.9l1.8-1.7M377.7 605.6l0.8-0.5M415.6 516l0.1-1.6M444.2 518.9l1.8-1.7M388.1 570.3l2.2-2.6M463.2 502.2l0.9-0.5M384.6 534l1.1 0.6" stroke="#2a44bc" stroke-width="1.5" stroke-linecap="round" fill="none"/>
<path d="M465.1 592l1.6 1.1M403.4 608.4l0.5-3.3M490.3 504l1.6-0.6M432.4 528.6l1.6-0.9M373.3 586.8l2.2-1.9M458.2 493.7l0.8-0.7M479.7 575.7l0.9-0.7M485.4 599.9l1.5-1.2M373.8 591.8l3.2-0.4M437.4 537.5l2.3-2.2M380.1 514.1l1.2 0.8M406.1 517.3l1.4-0.5M424.4 496.6l1.5-1.3M433.8 563.5l0.2-1.2M356.4 576.6l2.1-1.8M372 587.2l2.2-1.5M456 606.8l3-1.1M500.2 600.5l1.4-0.7M484.1 564.2l1.9-1.7M443.1 506.8l1.1-0.5M404.3 497.7l0.8-0.3M401.9 500.9l2.9-1M441.1 562.8l2.2-2M355.6 545.4l3.2-0.7M359 589.4l0.6-0.6M441.7 556.6l0.8-0.3M398.1 499.9l1.8-1.1M390.2 517.5l2.1-1.4M401.5 553.2l2.6-2.3" stroke="#162676" stroke-width="1.5" stroke-linecap="round" fill="none"/>
<path d="M464.8 512.8l1.3 2.2M409.5 535.6l1.2 2M483.5 563.4l3-0.7M492.4 608.5l2.5 0M403.1 549l3.2-1M411.3 598l1-0.2M372.9 595.3l2.2-0.8M421.9 522.5l0.7-0.7M479.3 560.9l1-3.2M354.9 518.7l2.6-0.5M463.4 571.6l2.8-1.6M470 562.3l1.1-0.4M366.7 603.4l3.1-1.5M370.4 532.5l0.4-1.3M441.2 506.5l0.9-0.8M446.3 523.6l2.7-1.5M381.5 595.9l3-1.5M468.2 519.7l1.5-0.7M413.2 556.3l1.6 1.6M449.7 494.3l2.1-0.6M425.6 559.9l1.1-0.4M455.3 542.4l2.5-0.6M472.8 501.9l2.3-0.6M466.9 558.2l1.5-0.3M429.2 604.6l1.2-0.5M423.8 553.1l1.6-1.5M484.6 515l2.6-2.2M446.5 514.8l2.2-0.7M394.2 575.5l0.8-0.2M492.9 507.7l1.9-1.1M472.5 561.2l1.1-0.2M441.5 607.3l1.2-1.1M390.1 528.4l1-0.3M389.8 518l0.9-0.2M365 534.2l1.2-0.9M394.9 570.9l3.1-1.1" stroke="#1c3090" stroke-width="1.5" stroke-linecap="round" fill="none"/>
<path d="M488.7 584.4l1.9-0.8M476.6 520l2.4-1.8M380.9 522.1l1.2-0.9M455 578.4l3-1.3M453.4 550.5l1.3-1M369.5 516.3l2.1-1.4M458 499.6l1.9-0.6M432.8 552.2l1.7-2.3M483.3 514.9l2.5-1.1M373.9 577.8l0.9-0.8M432.6 549.7l1.5 0M412.7 494.8l1.2-2.7M404.4 609.7l2.3-1.7M421.9 581.2l2.2-0.8M466.8 600.6l3.2-0.8M453.3 587.2l1.4-1.2M464.5 566l2-1.2M396.9 547.7l2-0.8M498.4 582l2.5-0.6M357.6 495.8l1.3-0.3M429.3 551.9l1.4-0.7M448.8 585.7l3.4-0.8M393.7 511.8l3.2-0.7M495.5 598.5l2.3-1.4M424.6 514.5l2-2M384.5 520.3l1.9 2.2M448.9 606.2l1-0.6M410.7 584.1l1.7-0.7M501.6 559.2l2.1-1.2M492.6 554.1l2.9-0.8M438.8 517.5l2-1.9M434.2 570.7l1.9-1.1" stroke="#2a44bc" stroke-width="2" stroke-linecap="round" fill="none"/>
<path d="M414.5 531.7l1.5-1.3M391.2 512.1l0.6-2M410 578.1l0.7-0.5M438.9 570.2l2.2-1.3M446.9 590.6l3.1-1.4M392.6 594.5l1.2-0.8M371.3 540.7l2.2-0.8M358.4 594.4l1.7-0.6M362.5 556.8l0.8-0.3M500 498.3l2-1.6M467.3 609.9l3.1-0.7M451.8 590.6l1.6-1M445.1 569.5l2.5 1.1M463 536.8l1.6-1.4M495.3 506.3l0.9-0.3M452.3 582.4l2.3-0.6M481.8 513.3l2-0.8M453.2 559.5l3.2-0.7M359.4 603.1l1.7-0.5M436.8 583.4l1.4-1.3M397.1 555.9l1.6-0.6M358.2 501.4l1.3-0.4M443.3 601.1l1.9-0.5M409.4 495.9l2.4-1.6M355.6 569.1l1.2-0.5M410.5 610.7l2.3-1.2M447.7 512.3l2.4-1.5M402.9 506.1l1.7-0.9M364.9 590.4l1.8-0.6M498.5 596.7l1.4-0.4M436.5 498.9l0.9-0.7M470.6 590.1l1-1" stroke="#263ca8" stroke-width="1.5" stroke-linecap="round" fill="none"/>
<path d="M386.4 539.6l0.8-0.5M493.9 560.3l2.3-1.5M405.5 558.5l1.2-1M375.4 592.9l0.9-1M391.7 529.5l1.4 0.6M442.9 502l2.6-2M480.1 506.9l1.5-0.4M403 589.3l0.9-0.4M454 532.8l1.7 2.3M419.3 557.4l1.9-0.8M405.2 556.7l2.6-0.8M483.5 566.9l1.7-1.5M413.4 560.6l1.9-1.8M455 582l1 1.1M393.3 549l3-1.1M455.1 585.6l2.3-1.1M418.1 505.3l2.3-1.4M358.2 529.6l2.7-1.2M461 604.2l1.6-1.3M418.5 536.2l2.7-1.6M397.9 598.7l1.1-0.4M386.4 534.9l1-0.9M476.3 528.1l1.3-3M425.5 495.5l1.4-1.7M362.7 540.3l1.6 0.8M475.6 604.8l0.5-0.8M400.2 562l1.3-0.5M468.8 537.7l2.4-1.7M444.3 535.3l1.5-1M367.9 512.8l0.9-0.9M414.3 517.5l1.5-1M467.1 524.7l2.8-0.6M447.6 536.2l1-0.9M430.4 537.3l2.9-0.5M375.9 513.3l1.3-0.5M380.3 571.3l0-1M458 512.9l0.8-0.5M431.3 549.4l1.7-0.5M417.8 495l0.8 1.2M461.9 559.7l2.2-1.2" stroke="#3350c8" stroke-width="2" stroke-linecap="round" fill="none"/>
<path d="M427.3 511l2.7-1M355.8 495.1l1.3-0.9M429.3 516.1l3-0.9M422.5 574.5l1.9-0.8M378.6 508.7l2.2-0.5M387.3 533.9l2.3-2.1M460.5 542.9l2.3-1.8M370.1 496.4l1.2-0.4M377.3 608.3l0.8-0.7M393.9 550.6l2-1M467 518.7l1.4-1.2M455 603.1l2.4-1.5M366.5 581.4l2.2-1.9M353.7 559.7l0.8-0.8M438.9 575l0.9-1.4M499.7 592.9l1.1-1M474.9 598.3l1.7-0.5M489.5 504.1l1.2-1M369.7 523.1l1.4-1M470.8 542.9l2.7-0.5M379.3 523l3.3-0.6M436.4 516.9l1.6-1" stroke="#3350c8" stroke-width="2.5" stroke-linecap="round" fill="none"/>
<path d="M486 543.5l1.4-1M421.3 537.3l2.4-1M434.9 581.5l2.7-1.2M400.7 604.5l2.3-2.1M399.2 529.7l2.7 0.2M493.7 512.7l0.9-0.3M495 521l0.9-0.6M355.6 516l2.8-0.6M479.4 585.7l1.8-0.6M460.5 527.3l1.3 0M463.4 544.7l0.9-0.5M459.3 552.9l0.9-0.2M417.6 610.4l2.6-1.1M388.8 586.8l1.3-0.7M462.7 554.9l3.3-0.7M363.4 524.6l2.4-0.6M412.3 536.3l0.4-1.7M386.3 568l2.2-0.7M384.8 586.6l0.8-0.8M385.8 522l1-0.3M474.1 607.6l2.1-1M497.5 549.3l0.7-1.8M468.8 602.8l2.2-0.7M354.6 502l1.4-0.5M497.4 524.2l1.3-1M500.5 511.2l1.3-1.1M402.9 579.6l2.7-1.5M438.8 511.6l1.6-0.7M375.6 555.5l0.7-1.6M375.6 578.4l2.1-1.8M382.9 504.5l2.3-0.7M381 501.4l0.7-1.7M400.9 584.9l1-1.5M458.4 578.7l2.6-1.1M392.6 568.3l1.3-0.5M385.5 593.3l0.9-0.5M394.8 598.2l2.8 0.1M430.8 572.2l1-0.6M465 541.3l2-1.8M357.8 600.1l0.7-0.6M460.2 595.6l2.5-0.9M476.8 566.5l1.9-1.3" stroke="#162676" stroke-width="2" stroke-linecap="round" fill="none"/>
<path d="M444 524.1l1.9-0.6M467.1 531.6l2.5-0.9M396.8 534.9l2.3 1M419.3 498.5l1.6 0.1M400.6 573.7l0.9-2.4M355.6 552.7l0.7-0.7M382.2 572.8l0.8 0.3M354.1 557.6l0.7-0.5M389.6 576.7l2.7-2.2M411.3 579.4l1-1M437.8 551l1.3-0.4M401.6 561.2l2.5-0.6M383.9 537.6l0.7-0.6M399.9 590l2.3-1.3M390.7 609.7l1.2-0.9M455.9 513.1l1.3-0.5M352.8 607.6l2.4-0.6M386.9 599.4l3-0.9M411.9 582.4l2.9-1.1M462.6 560.1l1.4-0.7" stroke="#2a44bc" stroke-width="2.5" stroke-linecap="round" fill="none"/>
<path d="M399.9 551.3l0.4-1.3M485.2 532.6l1.2-0.3M359.5 531l1.7-1.6M448.5 514l0.8-0.3M449.9 549.5l1.9-0.5M397.4 570.7l0.5-3.2M486.2 522.2l1.1-1.1M419.3 513.1l1.7-0.5M416.9 546.9l1.8-0.6M466 566.5l1.9-0.4M353.8 584.2l1.6-0.6M430.5 603.2l0.9 1.1M393.8 499l1.5-0.3M369.1 555.5l1.2-0.2M372.3 502.1l0.3-2.7M378.4 511.6l1.1-0.8M419.2 505.9l2.8-1.7M485 580.4l1.6-0.3M412.2 571.7l2.1-1.7M419.3 603.7l3.2-1.1" stroke="#263ca8" stroke-width="2.5" stroke-linecap="round" fill="none"/>
</g></g>
<text x="498" y="601.2" font-size="8.6" fill="#e8e8e8" text-anchor="end" font-weight="bold">50μm</text>
<rect x="477" y="604.5" width="16" height="1.1" fill="#e8e8e8"/>
<g clip-path="url(#sc2_0)">
<rect x="353" y="611.3" width="48.5" height="36.3" fill="#040409"/>
<path d="M396.1 612l-0.7 0M396.2 622.8l0.5 0.1M402.2 641l-0.1-0.3M388.7 637.8l-0.1 0.3M390.5 619.7l-0.1 0.8M399.4 627l0 0M358.7 626.3l0.2-0.7M375.2 611.9l0.3-0.3M360.5 615.3l-0.1 0M378.5 648l0.3 0M396.5 610.8l0.4 0.3M352.5 635.4l0.6 0.5M383.2 621.9l0.2 0.2M394.4 620.8l0-0.2M382.5 609.5l0.5-0.3M351.9 649.6l0-0.6M359.9 648.6l0.3 0.1M389.4 630.3l0.3 0M363.2 620.9l-0.5-0.6M372.8 635.8l0.3 0.1M377.6 619l0.3-0.1M386.7 638l0.1 0.1M397.4 635l-0.1-0.8M387.5 614.6l0 0M400.4 616l-0.1-0.3M363.4 639l0.2 0.4M391.2 645.1l0.3 0.6M392.8 610.8l0 0M353.6 621.7l0.1 0.6M402.9 638.9l0.1 0.2M355.9 621.5l0.4 0.4M403.1 617.1l0.1 0.3M372.7 617.1l-0.2 0M390.7 627.2l-0.2 0M391.5 616.8l-0.6-0.1M397 645.5l0.1-0.6M352.3 614.6l-0.1-0.2M398.9 616.2l0.6 0M351.2 644.8l-0.2 0.4M353.8 648.3l-0.1-0.5M371.5 615.1l0.3 0.5M392.7 645.7l-0.7 0.3M387.3 619l-0.2 0.7M395.6 619.7l0.1-0.1M381.6 618.4l0 0M351.3 623.1l-0.2 0.7M363.2 614.1l-0.5-0.6M387.2 624.1l0.6 0.5M363.5 627.2l-0.3 0.2M358.9 620.6l-0.7 0.2M390.3 622.3l-0.4-0.3M360 648.4l0 0.1M360.1 645.8l-0.1 0.2M354.3 644.1l0-0.1M364.2 642.3l-0.1 0M366.4 618.8l-0.5-0.4M394.7 643.4l-0.1 0.4M377.2 622.1l0.1 0.2M366.5 618.3l-0.4 0.2M401.9 633.1l0.2-0.2M365 641.1l0.5-0.1M360.9 636l-0.3 0.4M395.5 618.8l-0.5 0M402.5 641.1l0.2 0.2M360.3 634.6l-0.3 0M397 641.3l0 0.1M372.2 623.2l0.1-0.2M389.5 614.6l0.5 0.5M382.3 648.9l-0.4-0.1M373.6 644.2l0.2-0.5M358.7 644l0.5 0.2M354.2 623.8l-0.4 0.6M357.1 626.3l0.5 0.1M399.7 637.3l0.2 0.2M401.7 640.6l-0.2-0.4M367.3 643.4l0 0M351.5 627.5l0.7 0.2M367.8 609.5l0.3-0.3M394.1 646.6l0.1 0M403 615l0.6-0.2M377.1 625.3l0.4-0.6M363.7 610.9l0.1 0.5M378.8 642.7l0.2 0.6M392.8 625.5l0.2-0.2M392 609.3l0 0.1M356.6 634.6l-0.3 0.1M389.6 642.3l-0.3 0.2M386 643.8l0.5-0.2M386.2 643.9l0 0.2M383.6 617.2l0-0.3M380.7 638.3l0 0.1M374.6 645.9l0 0M372.7 633.2l0.4-0.2M392.7 647.8l-0.2 0M398.4 612.3l-0.4-0.5M366.2 609.5l-0.3 0.3M381.3 636.7l0.1 0.2M365.7 631.1l0.4 0.2M352 623.4l-0.6 0.1M388.5 640.3l0-0.3M383 616l0.1 0M394.9 623l0.2 0.1M378.1 615.3l0.2-0.5M383 639.1l0 0M352.9 614.3l-0.1-0.1M389.1 643.6l0.3-0.1M355.9 637.6l0.2 0.5M386.4 642.7l0 0M391.7 640.1l-0.1 0.2M388.5 620.7l0.2 0.3M354 614.8l-0.2-0.2M367.6 625l0-0.1M365.3 618.4l-0.6-0.5M354.8 613.7l0 0M372 611.5l0.1 0.1M352.6 639.2l0-0.1M377.9 614.4l-0.3-0.2M397.9 639.6l-0.4 0.6M387 649.7l-0.1-0.5M385.8 621.4l0.5 0.1M378.4 630.3l0 0M358.9 636.9l-0.8 0.1M366.5 635.7l0 0.1M375.1 626.1l0.2 0.1M368.4 612.5l-0.1 0.4M355.5 628.9l0.6-0.2M391.7 648.1l0.2-0.2M364.6 632.4l0.1 0.5M391.5 640.6l0.1 0M368.5 629.9l0 0M385.2 633l0.4-0.3M360.6 638.3l0-0.3M381.4 610.2l0 0.1M386.5 619.1l0.4-0.2M381.9 647.9l-0.1 0.7M375.2 643.6l0.1 0M391.2 625.1l0.1-0.1M399.3 649.5l0.5-0.4M373.9 627.9l0 0.4M399.4 638.3l-0.7-0.3M401.8 628.8l-0.1-0.1M364.1 626.9l0.2-0.1M394.6 624.5l-0.2-0.1M398.2 641.8l0.5-0.4M367.5 612.9l-0.3 0.3M391.4 645.2l-0.1 0M370.8 643.4l0.5 0.4M379.2 613.7l-0.3 0M364.5 632.3l0.1 0.1M366 638.4l0.4-0.3" stroke="#263cb0" stroke-width="1" stroke-linecap="round" fill="none"/>
<path d="M385.9 627.1l0.7-0.1M393.5 648.7l0 0M391.9 626.3l-0.1-0.1M379 619.4l0.6 0.4M395.9 636.3l0 0M389.3 639l-0.1 0.1M368.2 612.9l0.2 0M385.1 612.1l-0.7 0.1M384.7 647.4l0 0.2M353.5 638l-0.1 0.4M362.4 648.6l-0.1 0M384.1 646l0.2-0.7M366.6 621.4l0.6 0.1M372.9 647.1l0 0M378.1 622.7l-0.2 0M386.8 635.9l-0.2 0.2M373.3 620.1l-0.1-0.6M390.7 630l-0.4 0.2M399.4 616.2l-0.2 0.3M401.8 636l-0.3-0.3M396.7 614.5l0.5 0.1M372.2 627.3l-0.2 0.2M371.1 610.7l0.4 0.1M384.5 646.6l0.3-0.3M394.5 634.3l0 0M367.4 610.7l-0.2-0.4M396.9 629l0.4-0.3M398.5 641.1l0.6-0.4M352.4 645.2l-0.1 0.1M401.5 644.9l0.2 0.1M356.5 610.1l0 0.4M395.7 649.1l0.1 0.1M359.1 641.6l0.1 0.1M392.6 615.6l0 0M360.8 614.6l-0.2-0.1M367.1 620.8l-0.2 0.6M358 625.3l0 0.3M401.8 639.7l0-0.5M392.9 636.4l0.4-0.6M374.7 625l0-0.1M398.9 647.3l0.2 0.1M366.9 634.8l-0.1 0.5M375.7 620.8l-0.2 0.4M370 615.3l-0.6 0.3M383.1 623.1l-0.1 0.7M366.5 610.7l-0.1 0.1M370.2 613.1l0.1 0M367.5 628l-0.1 0M365 647.5l-0.6 0.1M396.9 636.9l0.1 0M399.9 637.4l0.2 0.4M385.9 646.2l0.3-0.2M398.1 648.5l-0.2-0.5M354.4 625.6l0.3-0.1M375.2 645.1l0-0.7M386.7 632.4l0.5 0.4M393.4 622.8l-0.1 0.6M395.9 630l0 0.1M390.6 619.7l-0.5-0.2M355.1 648l0.7 0.2M374.8 627.8l0.7 0.4M378.5 620.3l-0.3 0.5M386.9 636.8l-0.4 0.2M401 625.3l-0.6 0.2M368.2 638.5l-0.2-0.6M379.1 610.1l0.3 0.3M355.1 612.9l-0.4-0.2M379.4 635.8l-0.2-0.1M395.7 637.5l0.4 0.1M377.4 636.4l0.6 0.1M384.5 611.6l-0.1-0.2M372.9 643.5l0.3-0.4M381.6 633.4l-0.4-0.5M372.2 609.8l0.1 0.2M392.2 621.1l-0.6-0.5M357 639l0.2-0.3M351.6 614.6l0.2 0M398.3 647.6l0-0.3M385.3 643.1l0.1-0.1M353.7 613.2l-0.5-0.2M361.6 612.6l-0.4-0.4M350.9 645.9l0.3 0.2M395 628.4l0.2-0.1M360.4 638.3l-0.2 0.3M379.9 648.1l-0.5 0M362 644.2l-0.2-0.5M372.3 648.1l0.3-0.3M383.7 617.4l0.3 0.1M386.9 628.3l0-0.7M352.5 612.6l0 0M356.5 612.6l0.2-0.3M382 626.1l0.5-0.2M396.2 646.2l-0.5 0.4M393.4 615.4l-0.7 0.3M395 635.8l0 0M364.7 614.7l-0.1-0.8M400.4 629l-0.1 0.1M363.7 622.2l0 0M398 624.9l0.1 0.1M386.6 646.5l-0.6-0.2M374.1 622.7l0 0M396.2 640.2l0.2 0M365 618.8l0.6 0.1M384.3 641.8l0.3 0.2M377.7 644.2l0.1-0.8M352.6 648.9l0.2-0.6M363.1 644.3l0.1-0.4M402.2 618.7l0.2 0.6M397.1 640l0.1-0.1M395.2 639.3l0.2-0.1M384.9 635.8l0 0M370.2 613.7l0.5 0.6M389.7 616l0.7 0M395.6 647l-0.1 0.4M356.3 646.6l-0.2-0.1M402 623.8l-0.7-0.4M358.1 630.7l-0.1 0M371.8 626.4l-0.7 0.3M358.9 648.4l0.1-0.1M357.1 609.7l-0.3-0.1M390.4 613.8l-0.2 0.1M402 614.6l0.3 0.2M364.3 614.4l-0.4 0.2M395 643.2l0-0.3M388 611.6l-0.2 0.4M379.3 619l0.7 0.3M400.5 609.6l-0.1 0.5M384.2 619l-0.4-0.3M402.4 630.9l0.1 0M394.7 609.7l0.2-0.3M388.7 631.4l0.3 0.3M364.1 612.3l-0.3-0.4M392.5 630.7l-0.2 0.5M372.5 613.3l-0.1 0.6M386.6 636.3l0.5 0.1M388.2 623.3l0.5 0.4M359.3 626.8l-0.1 0M380.5 623.9l-0.8 0.1" stroke="#2f48c8" stroke-width="1" stroke-linecap="round" fill="none"/>
<path d="M390.7 617.7l-0.6-0.3M385.9 611.6l-0.1 0.1M370.6 615.5l-0.6 0.5M382.3 638.7l-0.6-0.6M358.4 613l-0.6-0.1M398.6 611.8l-0.2 0.6M402.3 611.3l-0.2-0.2M399.2 612.5l-0.6-0.2M371.8 641.7l0.4-0.5M392.7 625.2l0.5 0M388.2 616.3l0.3 0.1M357 614.8l-0.1-0.1M403.2 617.9l0.7-0.2M390.3 627.5l0.4 0M388.9 623.2l-0.5-0.1M386.7 639.4l0.8 0M351.9 648.4l0.1 0M351.9 628.3l0.1 0.2" stroke="#2f48c8" stroke-width="1.5" stroke-linecap="round" fill="none"/>
<path d="M384.8 610.1l0 0.2M368.8 634.4l0 0M383.5 611.2l-0.6-0.2M369.5 625l0.3 0M363 645.6l-0.3-0.2M379.2 627.7l-0.1-0.1M387.1 648l0 0M402.1 624.1l0.1 0M382.1 630.1l-0.5 0.3M393.9 646.8l-0.1 0M369.8 633.1l0 0.2M398.9 627l0 0.4M397.6 646.1l0.2 0M392.1 620.9l0.2 0M396 615.1l-0.3 0.5M389.9 639.1l0 0.2M394.2 625l0.1 0M353 632.9l0.7-0.2M384.6 630.2l0 0M394.1 646.5l0.4-0.1M386.6 648.1l-0.3 0.2M394.8 637.8l0 0.1M377.7 644.4l-0.2 0.5M357.9 613.8l0.3 0.1" stroke="#263cb0" stroke-width="1.5" stroke-linecap="round" fill="none"/>
</g>
<g clip-path="url(#sc2_1)">
<rect x="402.7" y="611.3" width="48.5" height="36.3" fill="#040409"/>
</g>
<g clip-path="url(#sc2_2)">
<rect x="452.5" y="611.3" width="48.5" height="36.3" fill="#040409"/>
</g>
<text x="377.3" y="660.8" font-size="9" fill="#3a4fc8" text-anchor="middle" stroke="#3a4fc8" stroke-width="0.22">DAPI</text>
<text x="427" y="660.8" font-size="9" fill="#4cc23c" text-anchor="middle" stroke="#4cc23c" stroke-width="0.22">EPCAM</text>
<text x="476.7" y="660.8" font-size="9" fill="#ee2a2a" text-anchor="middle" stroke="#ee2a2a" stroke-width="0.22">BIRC5</text>
<text x="528.1" y="493.2" font-size="9" fill="#1a1a1a" stroke="#1a1a1a" stroke-width="0.22">Normal</text>
<text x="675.9" y="493.2" font-size="9" text-anchor="end"><tspan fill="#3a4fc8">DAPI</tspan><tspan fill="#333">/</tspan><tspan fill="#4cc23c">EPCAM</tspan><tspan fill="#333">/</tspan><tspan fill="#ee2a2a">BIRC5</tspan></text>
<g clip-path="url(#gc3)"><g filter="url(#mblur)">
<rect x="527.9" y="495.3" width="148" height="113.1" fill="#030503"/>
<ellipse cx="591.9" cy="535.3" rx="27" ry="26" fill="none" stroke="#208020" stroke-width="8" stroke-opacity="0.7"/>
<ellipse cx="641.4" cy="562.3" rx="30.5" ry="27.5" fill="none" stroke="#208020" stroke-width="7" stroke-opacity="0.7"/>
<ellipse cx="609.9" cy="589.3" rx="17" ry="17" fill="none" stroke="#208020" stroke-width="6" stroke-opacity="0.7"/>
<path d="M565.9 515.3l-4 60M622.9 595.3l50 6M627.9 515.3l40-10M532.9 510.3l30 5" stroke="#1a6a1a" stroke-width="7" stroke-linecap="round" fill="none" stroke-opacity="0.7"/>
<path d="M649.5 590.9l-1.6 1.8l-1.2 2.1l0.1 2.4l-2.4 0.4l-2.1 1.2l-2.4 0.2l-2.1 1.2M644.7 588.1l-2.4-0.4l-2.1-1.1l-2 1.3l-2.4-0.4l-2.4-0.2l-1.1-2.1l-2.4 0.4M667.6 550.3l2.1-1.2l0.8-2.3l1.9-1.4l2.3-0.6l2.3 0.8l1.2 2.1l-1.9 1.5M632.4 531.7l-0.7 2.3l-2.4-0.4l-2.3 0.6l-1.9 1.5l0.1 2.4l-2.4-0.3l-2.3-0.8M614.4 520.3l1-2.2l0.8-2.3l1.3-2l2.1-1.1l2-1.3l2.3 0.7l0.5 2.4M589.4 601.3l2-1.4l0.8 2.3l-1.6 1.8l1.7 1.7l2.1 1.2l0.7 2.3l0.3 2.4M596.6 503.9l1-2.2l-0.4-2.4l-0.3-2.4l-1.5-1.9l-1-2.2l-2.2-0.9l-1.9-1.4M667.4 524.7l2 1.3l2.1 1.2l2.3 0.6l1.7 1.7l1.8 1.6l2.1 1.2l2.4 0.1M537.4 536l2.1-1.2l2.4 0.3l2.1 1.2l1-2.2l1.6-1.8l1.8 1.6l1.6 1.8M530.1 559.9l-0.7-2.3l0.6-2.3l1-2.2l2.3 0.7l1.9-1.4l1-2.2l0-2.4M531.1 584.1l-2.4-0.1l-1.9-1.4l-1-2.2l-0.1-2.4l-0.8-2.3l-2.3-0.7l-1.2-2.1M617.3 538.5l0.9 2.2l1.2 2.1l1.1 2.1l2.3 0.8l2.3 0.5l2 1.4l0.5 2.4M543.4 587.4l2.1 1.1l0.7 2.3l-0.5 2.3l0.2 2.4l1.1 2.1l-0.9 2.2l-0.9 2.2M674.1 520.6l-0.6 2.3l2.1 1.2l2.3-0.6l2.2-1l1.5-1.8l1.6-1.8l0.8-2.3M610.1 508.1l1.4-2l2.2-1l1-2.2l0.8-2.3l-1.1-2.2l-0.2-2.4l-0.3-2.4M668 584.9l-2.2-0.9l-2.4-0.2l-1.6-1.8l-0.9-2.2l0.9-2.2l1.8-1.6l1.7-1.7M559.5 564.3l-1.3-2l-2.3-0.8l-2.4 0l-2.4-0.5l-2.3 0.7l-1.9 1.5l-2.3 0.6M631.5 586.5l2 1.3l2.3 0.7l1.5 1.9l-0.5 2.4l0.5 2.3l0.4 2.4l0 2.4M618.1 511.1l1.4-1.9l1.1-2.1l-0.8-2.3l-2.4 0.4l-2.4-0.2l-2-1.4l-1.5-1.8M548.5 577.5l-1.1 2.1l-0.3 2.4l-0.7 2.3l-1.9 1.5l-0.7 2.3l-1.8 1.6l-0.4 2.4M621.8 530.5l-1.9 1.5l-1.4-1.9l-2.2-1l-1.9-1.4l0.9-2.2l-2.1-1.2l-2.4-0.1M586 569l1.4-1.9l2.3 0.5l2.3 0.5l2.2 1l2.3 0.6l1.9 1.5l2.2 1M647.2 594.8l-0.9-2.2l-0.3-2.4l0.8-2.3l0-2.4l-1.7-1.7l-0.9-2.2l-0.3-2.4M572.3 591.4l-1.7 1.7l-2.3 0.7l-2.3 0.7l-2.2-0.8l-2.4-0.2l-2.3-0.8l-1.1 2.1M531.6 568.7l-1.1-2.1l-1.3-2l-0.9-2.2l-2.1-1.1l-1.7-1.7l0.4-2.4l-0.2-2.4M571.4 553.8l0.1 2.4l1.2 2.1l2.1 1.2l0 2.4l-1.6 1.8l-1.4 1.9l0 2.4M547.9 524.7l-2.3 0.7l-1.8-1.6l-1.2-2.1l-0.8-2.3l0.4-2.4l0.1-2.4l-1.4-1.9M552.5 607.7l1-2.2l1.4-2l1.4-2l-0.5-2.3l2.3-0.8l2.3-0.5l2.4-0.2M599.3 511.4l2.2-0.9l1.3-2l1.8-1.6l-0.5-2.3l-2.4 0.1l-2.1-1.2l-1.7 1.7M533.6 516.1l-2.1 1.2l-0.5 2.3l2.2 0.9l0.6 2.3l2.4-0.1l2.4-0.4l1.8-1.6M645.5 600.9l-0.7-2.3l-0.1-2.4l0.6-2.3l-1.9-1.5l-1.8 1.6l-1.6 1.8l-0.2 2.4M614 553.7l-2.4 0.2l-1.6-1.8l-2.1-1.2l-1.3 2l-0.1 2.4l-2.1 1.1l-2.4 0.5M536.6 531.4l-2.4 0.1l0.1 2.4l1.4 2l1.1 2.2l2.4 0.3l2.3-0.5l1.2 2M659.3 498l1.6-1.8l2.2-1l2.4 0.1l1.3 2l1.3 2l1.3 2l1.6 1.8M599.9 558.9l0.3-2.4l0.2-2.4l-2-1.4l-2.4-0.4l-1.7 1.7l-1.3-2l-2.3-0.6M599.2 560.9l2.4-0.4l-2 1.3l-2.4-0.2l-2.3 0.7l0.9 2.2l2.2 0.9l0.6 2.3M653.4 586.4l-2 1.3l-2.1 1.2l-2.3 0.8l0.2-2.4l-0.5-2.3l2.3-0.6l1.4 1.9M661.8 498.7l1.2 2.1l2.2-0.9l2.1-1.2l1.2-2.1l2.3-0.8l2.4 0.3l2.3-0.7M529.8 583.7l2.4-0.1l0.3-2.4l0.1-2.4l-0.8-2.3l-2.2-1l-2.3-0.6l-1.7-1.7M607 604.7l-1.8-1.6l-2.1 1.2l-1.5 1.9l-1 2.2l-1.1 2.1l-1.9 1.4l-1.4 2M570.8 512.5l2.4-0.2l2.3 0.6l2.3 0.6l2.4-0.2l2.4-0.3l2.4-0.5l2-1.3M608.7 572.7l2.3-0.6l2.4-0.5l1.7-1.7l2.2-0.9l2.1-1.2l1.9-1.5l2.4 0.2M600.5 507.6l-1.7 1.7l-2.1 1.1l-0.7 2.3l1.8 1.6l1.2 2.1l2.4-0.4l1.6-1.8M633.7 595.6l-0.9-2.2l-1.7-1.7l-2.3-0.7l-2.2-1l-2-1.3l-1.7-1.7l-2.3-0.5M559 556.8l0.9 2.2l1.9 1.4l1.9 1.5l2.3 0.7l1.6 1.7l0.4 2.4l-0.2 2.4M639.4 498.2l-0.8-2.3l-1.2-2.1l-2.3 0.5l-2.3 0.8l-2.1 1.2l-2.4-0.2l-1.6 1.8M561.4 560l-2.2 1l-1.7-1.7l-2.2-1l2.4-0.2l1.3 2l0 2.4l1.5 1.9M667.2 602l0.3-2.4l-1.4-1.9l-0.9-2.2l0.1-2.4l-1.4-1.9l-2.2-0.9l-2.3-0.7M554.6 571.8l-2.1 1.1l-2.2 1l-1.6 1.8l-1.8 1.6l2.4 0l1.4-2l1-2.2M548.4 537.5l0.7 2.3l-0.1 2.4l-1 2.2l1.3 2l2.2 1l-1.3 2l-2 1.4M562.7 559.7l1.8-1.6l-0.3-2.4l-1.1-2.1l0.7-2.3l0.8-2.3l-0.8-2.3l2.2-1M620.6 538.8l-1.5-1.9l-2.1-1.2l-2.4-0.4l-2.4-0.4l-1.5-1.9l-1.8-1.6l-1.7 1.7M592.4 574.4l-1 2.2l1.7 1.7l0.7 2.3l1.9 1.4l1.3 2l1 2.2l2.4 0M587.6 584.6l2.2-0.9l1.1-2.1l1.9 1.4l2.4 0l1.9 1.5l-0.5 2.3l-2 1.4M584.5 580.6l-1.1-2.1l-0.6-2.3l-0.4-2.4l1.9-1.5l2-1.4l2.3 0.8l2.4 0.3M564.2 518l1.9 1.5l2.1 1.1l2.4-0.5l1.5-1.9l2.3-0.8l1.4 2l2 1.3M592.2 585.5l1.3 2l0.4 2.4l0.5 2.3l1.9 1.5l0.6 2.3l0.9 2.2l0.6 2.3M628.3 607.4l-1.1 2.1l-1.9 1.5l-2.4-0.1l-1.9-1.4l-2.4-0.4l-0.2-2.4l1.9 1.5M547.8 595.3l2.2-0.9l1.4-1.9l1.7-1.7l2-1.3l1.3-2l1.4-2l2.3 0.7M637.8 536.5l2.2 1l2.3 0.5l2.3 0.8l2.1 1.1l2.1-1.1l1.7-1.6l2.2-1M660.5 542.8l-1.5 1.8l-1.7 1.7l-0.4 2.4l-0.2 2.4l0.8 2.2l-1.8 1.6l2.2 1M601.3 561.1l2.3 0.7l2.4-0.1l2.2 0.9l2.4 0l0.8-2.3l1.7-1.7l2.4 0.1M569.9 511.5l-2.1-1.1l-0.3-2.4l-2.2-1l-2.1-1.1l-1.7-1.7l-2.1-1.1l-2.4 0.1M621.5 531.3l-2.2 1.1l-0.4-2.4l-0.1-2.4l1.3-2l1.4-1.9l2.2-0.9l2-1.3M537.7 532.8l1.1-2.1l0.1-2.4l2.2-1l1-2.2l2.3 0.8l1.6-1.8l2.4 0.3M554.8 566.3l-1.7 1.7l-1.4 2l-0.3 2.4l-0.6 2.3l-1.1 2.2l-0.4 2.4l-0.2 2.4M530 530.5l-2.4 0.3l-2.4 0l-1.1 2.1l1 2.2l-1.2 2.1l-1.2 2.1l-1.8 1.6M628.7 502.7l0-2.4l0.9-2.2l0.2-2.4l-1.6-1.8l-2.4 0.3l0.9-2.2l1.9-1.4M544.2 596l1.5 1.9l1.1 2.1l0.2 2.4l0.6 2.3l2.2 0.9l1.3 2l0.9 2.2M534.2 534.4l-2.2 1l0.3 2.4l2.4 0.3l1.5-1.9l1.5-1.9l1.6-1.8l1.5-1.8M598.1 575.6l-1.8 1.5l-2-1.3l-2-1.4l-2.3-0.7l0.5-2.4l1.8-1.5l2.2 0.9M575.8 580.8l1.1 2.1l1.9 1.5l1.5 1.9l-0.1 2.4l-2.4-0.3l-2.1-1.2l-2-1.4M626.7 533.8l1.2-2.1l1.3-2l2.4 0.2l2.1 1.2l1.7-1.7l2.4-0.2l1.8 1.6M560.4 525.1l-0.7-2.3l1-2.2l1.6-1.8l1.1-2.1l2.3 0.7l1.7 1.7l1.1 2.1M538.6 520l-1.5-1.9l0.3-2.4l-0.2-2.4l-2.4-0.2l-2.4-0.2l-2.4 0.1l-1.9-1.5M528.2 546.4l-0.7 2.3l0.4 2.4l1.4 1.9l2.1-1.1l2.3-0.6l2.1-1.1l2.4-0.4M529.1 603.3l2.1 1.1l2.4-0.4l0.5 2.4l2.4-0.3l0 2.4l1.2 2.1l2 1.4M528.9 590.9l0.1-2.4l-1.6-1.8l-2.4-0.3l-1.3 2l-2-1.3l-1.1-2.1l-1.3-2M546.2 522.4l-2.3 0.5l-0.7 2.3l-0.3 2.4l-0.4 2.4l1.6 1.8l0.7 2.3l2 1.4M568.3 529.5l-2.3-0.8l-2.2-1l0 2.4l-1.6 1.8l-1.6 1.8l-1.5 1.9l1.3 2M583.7 578.2l0-2.4l1.9-1.5l2.2-1l-0.6-2.3l-2-1.3l1.5-1.9l-0.6-2.3M556.6 563l-2.4 0l-1.8 1.6l0.9 2.2l2.4 0.1l2.1 1.1l-1.9 1.4l-0.5 2.3M627.2 521.2l2.4 0.4l1 2.2l1.3 2l2 1.3l0.4 2.4l1.9 1.4l-0.3-2.4M635.7 590.5l-0.8 2.3l-2.2 0.9l2.2 1l2.2 1l2.1 1.2l2.3 0.8l1.3-2M538.9 524.3l0.3 2.4l-2.2 0.9l-2.4 0.1l-1.8-1.6l-1.8-1.6l-0.7-2.3l-1.2-2.1M609.9 552.7l-2.2 0.9l-1.1 2.2l-0.5 2.4l1.1 2.2l2 1.4l-0.9 2.2l2.4 0.3M590.6 594.1l-1.8-1.6l0.2-2.4l-0.2-2.4l0.9-2.2l-2.4 0.1l0.4-2.4l1.6-1.8M611.8 514.3l2.1 1.1l2.4 0.1l1.7-1.7l2.3-0.8l2.4-0.5l1.3-2l2.2-1M554.9 580.1l2.1 1.2l2.4 0.1l2.1-1.1l2.1-1.2l2.4 0l1.5-1.9l2.3-0.6M533.9 519.3l-1.4-1.9l1.1-2.1l-2.3-0.8l-2.2-0.9l-1.4-2l0-2.4l-1.4-2M577.5 558.3l-2.1-1.1l-2.4-0.2l-2.1 1.2l-0.6 2.3l0.3 2.4l-1.3 2l-0.6 2.3" stroke="#3cc03c" stroke-width="0.9" stroke-opacity="0.85" fill="none" stroke-linejoin="round"/>
<ellipse cx="591.9" cy="535.3" rx="23" ry="22" fill="#030503"/>
<ellipse cx="641.4" cy="562.3" rx="27" ry="24" fill="#030503"/>
<ellipse cx="609.9" cy="589.3" rx="14" ry="14" fill="#030503"/>
<ellipse cx="542.9" cy="557.3" rx="11" ry="20" fill="#030503"/>
<ellipse cx="655.9" cy="513.3" rx="8" ry="8" fill="#030503"/>
<ellipse cx="569.9" cy="601.3" rx="10" ry="7" fill="#030503"/>
<path d="M534.3 593.3l1.3-0.8M555.3 542.9l1.7-0.1M529.5 568.9l-0.4 0.7M547.1 500.6l-1.4 0.2M558.5 560.6l1.3-0.6" stroke="#2232a8" stroke-width="3.5" stroke-linecap="round" fill="none"/>
<path d="M634.2 516.9l-1.6 1.2M531.3 573.1l0.5-1.8M535.7 588.6l1 0.4M541.4 584.5l0.9 0.3M545.6 606l-2.3 0.7M554.1 579.4l1.5 1.1M551.1 551.9l-2.2-0.1M618.2 518l1.4 0.4M574.2 576.5l0.9-0.3M527.2 585.7l1.1-1.3" stroke="#2a3cc0" stroke-width="3.5" stroke-linecap="round" fill="none"/>
<path d="M619.4 517.1l-0.2 0.5M616.6 517.2l-0.3-1.3M539.7 610.5l-0.4-1.1M616.9 505.5l-0.2 0.9M528.8 555l-0.5 0.3M549.6 592.9l-1.3-0.4M642.3 510.4l0.6 1.4" stroke="#3346c8" stroke-width="3.5" stroke-linecap="round" fill="none"/>
<path d="M538.5 573.9l0.1 0.8M607.7 569.4l0.5 0.7M550.5 554.7l-0.3 2.4" stroke="#2a3cc0" stroke-width="4" stroke-linecap="round" fill="none"/>
<path d="M645.2 502.9l-1.5-1.4M549.2 555.5l1.6-1.7M670.3 494.2l2.3 0.4M568.4 548l-2.5 0.3M573.1 578.4l0.6-0.1" stroke="#3346c8" stroke-width="4.5" stroke-linecap="round" fill="none"/>
<path d="M636.7 600.3l-0.9-1.7M567.4 545.3l-0.9 0.4M665.9 518.9l0.4 0.5M560.4 540.7l-0.7-0.3" stroke="#2232a8" stroke-width="4" stroke-linecap="round" fill="none"/>
<path d="M624 517.4l-0.7 2.2M669.4 601.6l0.7 1.4M568.4 497.2l-0.4-2.2M625.2 527.1l0.6-1.1M539.1 604.3l-1.9 1.5M556.9 555.7l0.8 2M639 514.9l0.8-0.7M549.9 602.9l-1 0.7M552.5 607.9l0 1.7M528.6 580.8l-0.7-0.8" stroke="#3346c8" stroke-width="4" stroke-linecap="round" fill="none"/>
<path d="M578.1 567.1l-1.5 0.2M639 516.4l-1.7-1.8" stroke="#3346c8" stroke-width="3" stroke-linecap="round" fill="none"/>
<path d="M617.9 522.1l-2.4 0.5" stroke="#2232a8" stroke-width="4.5" stroke-linecap="round" fill="none"/>
<path d="M633.6 524.8l-0.2 1.1M659.3 584.1l0.7 0.3" stroke="#2a3cc0" stroke-width="3" stroke-linecap="round" fill="none"/>
<path d="M555.4 590l-0.1-0.7M571.2 561.2l0.4-2.4M541.9 580.5l-0.8-0.4M560.7 498.7l-2.1-1.4M630.6 528l-0.1 1.3M638.4 526.5l-0.6 0.1" stroke="#2a3cc0" stroke-width="4.5" stroke-linecap="round" fill="none"/>
<path d="M628.8 532.5l-0.4 0.7M643.2 527l0.7 1" stroke="#2232a8" stroke-width="3" stroke-linecap="round" fill="none"/>
</g></g>
<text x="672.9" y="601.2" font-size="8.6" fill="#e8e8e8" text-anchor="end" font-weight="bold">50μm</text>
<rect x="651.9" y="604.5" width="16" height="1.1" fill="#e8e8e8"/>
<g clip-path="url(#sc3_0)">
<rect x="527.9" y="611.3" width="48.5" height="36.3" fill="#040409"/>
<path d="M549.9 622.5l-0.1 0.3M545.3 614.4l0.5 0M535.6 632.9l0.1 0.3M571.4 645l-0.6-0.3M543.9 649.6l0.5-0.1M552.8 615.8l0.6 0.5M543.1 642.8l-0.1 0.3M529.3 625.9l-0.5 0.3M536.7 617l0.3 0M573.7 631.5l-0.4 0.1M546.4 637.2l-0.1-0.6M549.7 643.9l0.6 0M532.2 628.7l-0.1-0.4M544.1 611.5l0.5 0.2M548.3 626.5l-0.3 0.4M541.3 643.2l0-0.5M542.5 636.5l0 0M534.4 635.5l-0.2-0.4M562.9 631.4l-0.3 0.3M526.6 611.7l-0.6 0.4M536 633.9l0-0.6M539.9 616.1l0.5 0.1M539 626.8l0 0.2M538.1 619.5l-0.2 0.1M538.9 625.9l-0.6 0.2M549.9 610.7l0-0.6M572.6 617l0.3 0.2M566.6 624.7l0.3 0.1M551.7 648l0 0.3M535 635.3l0.4-0.2M570.7 644.7l0-0.2M530.2 643.2l0.1 0M570.4 636.1l-0.2-0.1M539.9 621.2l0 0M526.1 620.7l0.2 0.1M534.8 646.8l0.2-0.3M536 641.1l-0.4 0.5M546.9 612.9l-0.1 0.4M564.1 640.7l0.1-0.4M542.4 640.9l-0.1-0.4M569.7 621.1l0 0.2M565 632l0.5-0.5M573.2 624l-0.5-0.1M539.4 635.6l0.1 0.1M545.1 609.6l0.4-0.1" stroke="#2a3ec8" stroke-width="1.5" stroke-linecap="round" fill="none"/>
<path d="M529.2 614.9l0.3-0.2M565.5 642.2l0.1-0.1M569.9 620.8l-0.6 0.1M557.2 610.6l-0.3-0.1M565.6 620.2l0.6-0.1M540.4 630l0.1 0M542.1 631.9l0 0.1M549.8 618.9l-0.5-0.2" stroke="#2a3ec8" stroke-width="1" stroke-linecap="round" fill="none"/>
<path d="M541.8 630.3l0.4 0M554.5 635.5l-0.2 0.7" stroke="#2a3ec8" stroke-width="2" stroke-linecap="round" fill="none"/>
</g>
<g clip-path="url(#sc3_1)">
<rect x="577.6" y="611.3" width="48.5" height="36.3" fill="#040409"/>
<g fill="none" stroke="#34b034" stroke-width="0.9" stroke-opacity="0.85">
<ellipse cx="594.6" cy="622.3" rx="8" ry="7"/>
<ellipse cx="610.6" cy="631.3" rx="9" ry="8"/>
<ellipse cx="601.6" cy="640.3" rx="6" ry="5"/>
<ellipse cx="581.6" cy="629.3" rx="4" ry="8"/>
<ellipse cx="621.6" cy="617.3" rx="5" ry="4"/>
</g>
</g>
<g clip-path="url(#sc3_2)">
<rect x="627.4" y="611.3" width="48.5" height="36.3" fill="#040409"/>
</g>
<text x="552.2" y="660.8" font-size="9" fill="#3a4fc8" text-anchor="middle" stroke="#3a4fc8" stroke-width="0.22">DAPI</text>
<text x="601.9" y="660.8" font-size="9" fill="#4cc23c" text-anchor="middle" stroke="#4cc23c" stroke-width="0.22">EPCAM</text>
<text x="651.6" y="660.8" font-size="9" fill="#ee2a2a" text-anchor="middle" stroke="#ee2a2a" stroke-width="0.22">BIRC5</text>
<defs><filter id="blur1" x="-10%" y="-10%" width="120%" height="120%"><feGaussianBlur stdDeviation="0.9"/></filter></defs>
<path d="M60 746C60.6 743.7 63.2 739.2 65.5 735.5C67.8 731.8 70 727.1 73.5 723.5C77 719.9 82.5 716.9 86.5 714C90.5 711.1 93.7 708.5 97.3 706.3C100.9 704.1 104.4 701.9 108 700.8C111.6 699.7 114.8 699 118.8 699.5C122.8 700 127.8 701.8 132.3 703.5C136.8 705.2 141.2 707.6 145.6 710C150 712.4 154.9 714.9 158.9 718C162.9 721.1 166.6 724.7 169.5 728.7C172.4 732.7 174.7 737.7 176.3 742C177.9 746.3 180.3 751.9 179 754.6C177.7 757.3 171.7 757.6 168.7 758.2C165.7 758.8 164 759.1 160.9 758.2C157.8 757.3 154 754.8 150 752.8C146 750.8 140.9 748 137 746.3C133.1 744.6 130.4 743.5 126.5 742.4C122.6 741.3 117.5 740 113.6 739.8C109.7 739.6 106.5 740.3 103 741.2C99.5 742.1 96.7 743.7 92.8 745.2C88.9 746.7 83.6 749.2 79.6 750.3C75.6 751.4 71.9 751.7 68.9 751.6C65.9 751.5 63.3 750.4 61.8 749.5C60.3 748.6 59.4 748.3 60 746Z" fill="#3a7db5" fill-opacity="1.0" filter="url(#blur1)"/>
<path d="M163 758C164.9 756.5 168.8 756.2 172 756C175.2 755.8 178.8 756.2 182 757C185.2 757.8 188.5 759 191 761C193.5 763 195.9 766.2 197 769C198.1 771.8 198.3 775.3 197.6 778C196.9 780.7 195.1 783.4 193 785C190.9 786.6 187.8 787.3 185 787.5C182.2 787.7 178.8 787.1 176 786C173.2 784.9 170.3 783.2 168 781C165.7 778.8 163.2 775.7 162 773C160.8 770.3 160.3 767.5 160.5 765C160.7 762.5 161.1 759.5 163 758Z" fill="#ec812c" fill-opacity="1.0" filter="url(#blur1)"/>
<path d="M183 789C184.7 787.9 189.3 787.7 192 788.5C194.7 789.3 197.3 791.6 199 794C200.7 796.4 201.8 800.2 202 803C202.2 805.8 199.7 808.5 200 811C200.3 813.5 203.7 815.7 204 818C204.3 820.3 203.8 823.4 202 825C200.2 826.6 195.7 827.8 193 827.5C190.3 827.2 187 825.4 186 823C185 820.6 187.2 816.3 187 813C186.8 809.7 185.8 806 185 803C184.2 800 182.3 797.3 182 795C181.7 792.7 181.3 790.1 183 789Z" fill="#48a83a" fill-opacity="1.0" filter="url(#blur1)"/>
<path d="M111 703.5 L116.2 703.8 L122.8 703.1 L133.5 705.6 L138.4 708.3 L145 711.3 L149.5 713.5 L157.5 717.9 L162.3 721.3 L165.7 725.2M77.6 723.3 L81.9 719.9 L85.7 717.2 L91.1 713.7 L96 711.4 L100.3 710 L105 707.7 L114.7 704.8 L118.9 705.9 L123.5 705.3M114.4 706.2 L118.8 706.6 L123 706.5 L127.3 707 L135.6 709.4 L138.6 710.6 L143.9 712.8 L147.8 714.1 L153.4 718.3 L155.8 720.7M67.2 732.3 L73.5 728.3 L78.6 723.6 L84.1 719.4 L91 716.1 L97.3 712.8 L103.8 710.3 L114.3 707.1 L119.6 706.5 L126.4 707.1M121.5 708.2 L132.2 710.1 L139.4 713.6 L146.7 716.9 L154.3 722.1 L159.7 725.9 L165.7 731.8 L170.3 737 L174.7 741.8 L176.9 745.2M77.2 728.6 L82.3 724.3 L86.5 721.2 L92.3 717.5 L98.4 715.3 L103.4 713.3 L111.5 710.3 L116.2 710.2 L121.7 710.1 L127.7 710.3M105.9 712.2 L112.7 710.7 L118 711.3 L124.8 710.6 L131.5 712.4 L137 714.7 L142 717.8 L147.9 719.8 L152.5 723.7 L156.8 726.5M75.2 732.3 L78 730.7 L83.2 726.8 L87.5 724.3 L92.3 721.4 L97.2 718.5 L101.6 717.1 L105.8 715.2 L112 713.7 L116.7 713.2M104.2 717.7 L110.9 714.1 L117.8 714.8 L124 715 L130.8 715.7 L137.8 719 L144.1 721.7 L149.3 724.6 L153.7 728.1 L159.3 732.3M79.8 732.1 L84.7 728.3 L89.8 725 L95.5 721.9 L101.1 719.8 L106.9 717.5 L112.4 715.7 L118.4 715.3 L124.2 715.7 L129.3 716.4M65.3 745.6 L68.9 742.9 L72.1 738.8 L75.7 736 L80.6 732.3 L85 729.2 L89.5 725.9 L95.2 723.6 L100.3 721.4 L104.7 719.2M80.2 734.5 L86.2 729.8 L92.6 725.9 L98.2 723.4 L105.4 719.9 L111.4 718.4 L118.8 717.9 L125 717.8 L130.9 719.3 L137.2 722.3M121.6 719.1 L128.2 719.2 L135.6 723.1 L141.6 726.1 L147.6 728.9 L153.3 732.8 L158.3 737.2 L162.3 742.1 L167.1 746.3 L169.4 749.9M97.9 726.2 L103.8 723.6 L109.9 720.9 L113.8 720.3 L118.9 720.3 L125 720.9 L128.1 720.9 L134.2 723.7 L140 726.3 L145.1 728.2M106.2 724.3 L111.4 722.5 L118.7 722 L126.3 722.7 L130.6 724.7 L139 727.7 L144.8 729.8 L150.6 734.3 L156.3 737.2 L160.9 742.2M120.4 723.4 L125 723.9 L126.5 722.9 L130.5 725.1 L136 727.1 L140.6 728.3 L143.3 729.7 L147.3 733.2 L150.8 735.6 L154.8 737.5M115 723.6 L121.4 724.2 L127.9 723.8 L130.7 725.5 L138 728.1 L143.1 730.8 L147.4 734 L153.7 737.7 L157 740.1 L160.7 743.8M116.1 724.8 L124.1 725.3 L127.8 727 L136.6 729.3 L142.3 732.7 L148.2 736.6 L155.3 740.5 L158.6 743.2 L162.8 749.5 L166.5 752.5M83.4 741.6 L87.6 739.4 L90.9 736.3 L94.9 734.2 L97.8 732.2 L101.9 730 L106.4 729.3 L111.4 726.7 L111.3 726.9 L115.4 726.7M87.3 740.4 L93.1 735.7 L98.3 733 L104.6 730.6 L111.7 727.8 L114.8 727.8 L121.3 727.6 L123.7 727.1 L130.8 730.4 L138.4 732.6M118 744 Q140 752 162 760M121 746.5 Q140 755.5 162 762M124 749 Q140 759 162 764M127 751.5 Q140 762.5 162 766M174.5 786 Q167.5 772 157.5 758M178.7 786 Q171.7 772 161.7 758M183.8 786 Q176.8 772 166.8 758M189 786 Q182 772 172 758M192 786 Q185 772 175 758M197.7 786 Q190.7 772 180.7 758M196 823 L187 798M201 810 L191 792M189 815 L184 795" stroke="#1a1a1a" stroke-width="0.45" stroke-opacity="0.85" fill="none"/>
<path d="M131.3 705.1L133.2 706.8L133.8 704.4ZM160.4 720L161.6 722.3L163 720.3ZM89.2 714.9L91.8 714.7L90.4 712.6ZM116.7 705.3L118.6 707.1L119.2 704.6ZM125 706.7L127.2 708.2L127.5 705.7ZM151.6 716.9L152.6 719.3L154.1 717.3ZM82.3 720.8L84.9 720.4L83.4 718.4ZM117.3 706.8L119.7 707.7L119.4 705.3ZM144.6 715.9L146.2 718L147.2 715.7ZM173.1 740.1L173.7 742.6L175.6 740.9ZM90.4 718.7L93 718.5L91.7 716.4ZM119.4 710.2L121.7 711.4L121.7 708.9ZM122.5 710.8L124.9 711.8L124.7 709.4ZM150.7 722.2L151.7 724.6L153.3 722.8ZM85.5 725.5L88.2 725.4L86.9 723.2ZM109.7 714.3L112.3 715L111.7 712.5ZM121.7 714.9L123.9 716.2L124 713.7ZM151.9 726.7L153 729.1L154.5 727.1ZM93.5 723L96.1 723L94.9 720.8ZM121.9 715.5L124.1 716.9L124.3 714.4ZM73.9 737.4L76.4 737L74.9 735ZM98.2 722.3L100.8 722.5L99.8 720.2ZM96.1 724.3L98.7 724.5L97.7 722.2ZM128.7 718.7L130.6 720.5L131.2 718.1ZM139.6 725.1L141.1 727.2L142.2 725ZM165.4 744.8L166.2 747.3L167.9 745.4ZM111.5 720.7L114 721.6L113.6 719.1ZM137.9 725.4L139.5 727.4L140.5 725.1ZM124 722.5L126.1 724L126.4 721.5ZM154.3 736.2L155.7 738.4L156.9 736.1ZM128.5 724L129.9 726.2L131.1 724ZM148.9 734.3L150.1 736.6L151.5 734.6ZM128.8 724.3L130.1 726.6L131.4 724.4ZM155.2 738.7L156.3 741.1L157.8 739.1ZM134.4 728.7L136.3 730.5L137 728.1ZM161.5 747.6L161.7 750.2L163.8 748.9ZM92.8 735.3L95.4 735.3L94.3 733.1ZM112.8 725.2L110.3 726L112.2 727.7ZM102.4 731.4L105 731.7L104.1 729.4ZM128.7 729.5L130.2 731.6L131.3 729.3ZM168.5 776.1L168.6 773.4L166.4 774.6ZM172.7 776.1L172.8 773.4L170.6 774.6ZM177.8 776.1L177.9 773.4L175.7 774.6ZM183 776.1L183.1 773.4L180.8 774.6ZM186.1 776.1L186.2 773.4L183.9 774.6ZM191.8 776.1L191.9 773.4L189.6 774.6Z" fill="#111"/>
<path d="M197.6 818.7 C193 795 184 762 168 746 C152 731 128 726 101 732.6" stroke="#e8221e" stroke-width="1.3" fill="none"/>
<path d="M96.5 733.6 L104 729.5 L103.5 736 Z" fill="#e8221e"/>
<text x="11.7" y="771.5" font-size="11" fill="#0a0a0a" stroke="#0a0a0a" stroke-width="0.22">SCC</text>
<text x="215.8" y="759.6" font-size="11.2" fill="#1a1a1a" stroke="#1a1a1a" stroke-width="0.22">cellsubtype</text>
<circle cx="223.2" cy="768" r="2.6" fill="#48a83a"/>
<text x="231.2" y="771.2" font-size="8.9" fill="#1a1a1a" stroke="#1a1a1a" stroke-width="0.22">BIRC5+ cells</text>
<circle cx="223.2" cy="780.3" r="2.6" fill="#ec812c"/>
<text x="231.2" y="783.5" font-size="8.9" fill="#1a1a1a" stroke="#1a1a1a" stroke-width="0.22">Cyclin cells</text>
<circle cx="223.2" cy="792" r="2.6" fill="#3a7db5"/>
<text x="231.2" y="795.2" font-size="8.9" fill="#1a1a1a" stroke="#1a1a1a" stroke-width="0.22">Basal tumor cells</text>
<path d="M93.9 854.2C95.7 852.2 99.5 851.2 103 850.2C106.5 849.2 111 848.6 115 848C119 847.4 123.4 847.3 126.7 846.3C130 845.3 132.4 843.1 135 842C137.6 840.9 139.5 840.3 142.5 839.7C145.5 839.1 149.5 838.5 153 838.5C156.5 838.5 160.2 839 163.5 839.7C166.8 840.5 169.9 841.5 173 843C176.1 844.5 179.6 847.2 181.9 848.9C184.2 850.6 185.7 851.2 187 853C188.3 854.8 189.5 857.2 189.8 859.4C190.1 861.6 189.4 863.8 189 866C188.6 868.2 188.1 870.2 187.1 872.5C186.1 874.8 184.3 877.8 183 880C181.7 882.2 181.1 884 179.3 885.7C177.5 887.4 174.6 888.7 172 890C169.4 891.3 166.3 892.9 163.5 893.6C160.7 894.3 157.6 894.2 155 894C152.4 893.8 150.2 893.6 147.7 892.3C145.2 891 142.2 888 140 886C137.8 884 136.6 881.7 134.6 880.4C132.6 879.1 129.8 878.4 128 878C126.2 877.6 125.7 877.6 124 877.8C122.3 878 119.7 878.6 118 879C116.3 879.4 115.3 879.9 113.6 880.4C111.9 880.9 109.8 881.6 108 882C106.2 882.4 104.7 883.7 103 883C101.3 882.3 99.1 879.8 98 878C96.9 876.2 97.2 874.3 96.5 872.5C95.8 870.7 94.7 868.8 94 867C93.3 865.2 92.5 864.1 92.5 862C92.5 859.9 92.2 856.2 93.9 854.2Z" fill="#ec812c" fill-opacity="1.0" filter="url(#blur1)"/>
<path d="M98 876C99.7 874 104.3 873.3 108 872C111.7 870.7 116 868.3 120 868C124 867.7 128.7 867.7 132 870C135.3 872.3 139.5 878.7 140 882C140.5 885.3 138.3 889 135 890C131.7 891 125.2 888.2 120 888C114.8 887.8 107.7 889.7 104 889C100.3 888.3 99 886.2 98 884C97 881.8 96.3 878 98 876Z" fill="#6cbb5c" fill-opacity="0.7" filter="url(#blur1)"/>
<path d="M113.6 898.8C115.9 896.3 121.1 894.6 125 893C128.9 891.4 133.9 889.3 137.2 889C140.5 888.7 142.4 890.2 145 891C147.6 891.8 150.2 892.9 153 893.6C155.8 894.3 158.9 894.4 162 895C165.1 895.6 169.1 896.7 171.4 897.5C173.7 898.3 174.7 898.9 176 900C177.3 901.1 179.3 902.3 179.3 904C179.3 905.7 177.3 907.8 176 910C174.7 912.2 173.1 914.9 171.4 917.2C169.7 919.5 167.8 921.8 166 924C164.2 926.2 162.6 928.2 160.9 930.4C159.2 932.6 157.3 934.8 156 937C154.7 939.2 154.2 941.3 153 943.5C151.8 945.7 150.3 947.8 149 950C147.7 952.2 146.5 954.9 145 956.6C143.5 958.3 141.7 959.5 140 960C138.3 960.5 136.3 960.5 134.6 959.3C132.9 958.1 131.3 955.2 130 953C128.7 950.8 128 948.8 126.7 946.1C125.4 943.4 123.3 939.6 122 937C120.7 934.4 120.1 932.6 118.8 930.4C117.5 928.2 115.3 925.8 114 924C112.7 922.2 111.5 922.5 111 919.8C110.5 917.1 110.6 911.5 111 908C111.4 904.5 111.3 901.3 113.6 898.8Z" fill="#48a83a" fill-opacity="1.0" filter="url(#blur1)"/>
<path d="M76.8 904C78.1 901.3 80.2 898 82 896C83.8 894 84.8 893.5 87.3 892.3C89.8 891.1 93.5 889.9 97 889C100.5 888.1 104.6 887.3 108.3 887C112 886.7 115.5 886.8 119 887C122.5 887.2 126.7 887.1 129.3 888.3C131.9 889.5 134.5 892.2 134.6 894C134.7 895.8 132.6 897.3 130 899C127.4 900.7 121.8 902.3 118.8 904C115.8 905.7 114.2 907.2 112 909C109.8 910.8 108 913.3 105.7 914.6C103.4 915.9 100.2 916.1 98 917C95.8 917.9 94.8 919.5 92.5 919.8C90.2 920.1 86.6 919.2 84 919C81.4 918.8 78.4 919.7 76.8 918.5C75.2 917.3 74.2 914.4 74.2 912C74.2 909.6 75.5 906.7 76.8 904Z" fill="#3a7db5" fill-opacity="1.0" filter="url(#blur1)"/>
<circle cx="132" cy="950" r="2" fill="#8cc77f" fill-opacity="0.45"/>
<circle cx="138" cy="955" r="2" fill="#8cc77f" fill-opacity="0.45"/>
<circle cx="143" cy="960" r="2" fill="#8cc77f" fill-opacity="0.45"/>
<circle cx="150" cy="958" r="2" fill="#8cc77f" fill-opacity="0.45"/>
<circle cx="128" cy="946" r="2" fill="#8cc77f" fill-opacity="0.45"/>
<circle cx="160" cy="950" r="2" fill="#8cc77f" fill-opacity="0.45"/>
<circle cx="176" cy="951" r="2" fill="#8cc77f" fill-opacity="0.45"/>
<circle cx="66.9" cy="939.1" r="2" fill="#9cc6e6" fill-opacity="0.45"/>
<path d="M104.5 853.1 L103.7 858.3 L101.4 863.5 L97.6 868.7 L94.2 873.9 L92.4 879.1M113.1 853.1 L110.9 858.3 L107.2 863.5 L103.7 868.7 L101.7 873.9 L101.1 879.1M119.9 852.3 L116.3 857.5 L112.7 862.7 L110.5 867.9 L109.9 873.1 L109 878.3M125.3 850.3 L121.6 855.5 L119.3 860.7 L118.5 865.9 L117.7 871.1 L115.4 876.3 L111.6 881.5M129.7 850.1 L127.2 855.3 L126.3 860.5 L125.6 865.7 L123.4 870.9 L119.8 876.1 L116.2 881.3M136.6 848 L135.6 853.2 L135 858.4 L132.9 863.6 L129.3 868.8 L125.7 874 L123.6 879.2 L122.9 884.4M145 848.4 L144.4 853.6 L142.5 858.8 L139 864 L135.3 869.2 L133 874.4 L132.3 879.6 L131.5 884.8M153.2 847.1 L151.5 852.3 L148.1 857.5 L144.3 862.7 L141.8 867.9 L141 873.1 L140.3 878.3 L138.1 883.5 L134.4 888.7M159.9 846.1 L156.6 851.3 L152.8 856.5 L150.2 861.7 L149.3 866.9 L148.6 872.1 L146.6 877.3 L142.9 882.5 L139.3 887.7M166.7 847.4 L162.9 852.6 L160.1 857.8 L159.1 863 L158.5 868.2 L156.6 873.4 L153.1 878.6 L149.3 883.8M171.1 848.6 L168.2 853.8 L167 859 L166.4 864.2 L164.7 869.4 L161.3 874.6 L157.5 879.8 L155.1 885M178 848.6 L176.6 853.8 L176.1 859 L174.5 864.2 L171.2 869.4 L167.4 874.6 L164.8 879.8 L163.9 885M184.4 849.9 L183.9 855.1 L182.5 860.3 L179.3 865.5 L175.5 870.7 L172.7 875.9 L171.7 881.1 L171.1 886.3M78 896.1 Q82.1 913.3 105.6 927.3M85.3 896.3 Q89.8 917.1 115.4 934.1M90 894.4 Q94.9 919.4 123 939.8M97.4 894 Q102.8 925 132.9 950.3M103.8 894.5 Q108.1 922.6 132.6 945.7M110.4 894.3 Q114.2 923 135.7 946.4M117.2 892.4 Q119.9 917.6 135.2 938.2M124.8 892.9 Q126.4 912.4 135.6 928.4M129.3 894.1 Q131 917.1 140.7 936M135.4 894.1 Q136.5 914.6 143 931.4M143.3 895.8 Q144.1 920.3 148.2 940.4M149.5 896.9 Q149.7 914.9 150.8 929.6M156.9 895.7 Q156.6 914.4 155 929.7M164 897.2 Q162.9 923.4 157 944.9M170.4 898 Q168.9 922.6 160.3 942.8M174.9 898.4 Q172.8 927.4 160.6 951.2M128 893 Q100 890 78 900M128 897 Q100 894 79 904M128 901 Q100 898 80 908M128 905 Q100 902 81 912M128 909 Q100 906 82 916" stroke="#111" stroke-width="0.5" fill="none"/>
<path d="M102.3 861.4L100.2 863L102.5 864ZM93.1 876.9L91.2 878.7L93.5 879.5ZM108.6 861.6L106.2 862.8L108.3 864.2ZM101.3 876.8L99.8 879L102.3 879.3ZM114 860.8L111.7 861.9L113.7 863.4ZM109.4 876L107.7 878.1L110.2 878.5ZM120.2 858.6L118.2 860.2L120.4 861.2ZM116.3 874.2L114.2 875.8L116.5 876.8ZM126.7 858.2L125.1 860.3L127.6 860.7ZM121.1 874.2L118.7 875.4L120.8 876.8ZM135.2 856.1L133.7 858.3L136.2 858.6ZM127 872.1L124.7 873.3L126.7 874.8ZM143.3 856.6L141.3 858.3L143.7 859.2ZM133.9 872.2L131.9 873.9L134.2 874.9ZM149.3 855.6L147 856.8L149.1 858.2ZM141.4 870.8L139.8 872.9L142.2 873.3ZM154.2 854.7L151.8 855.8L153.8 857.2ZM148.9 869.8L147.4 871.9L149.9 872.3ZM161.2 855.8L159 857.2L161.2 858.4ZM157.4 871.2L155.4 873L157.8 873.8ZM167.5 856.8L165.8 858.7L168.2 859.3ZM162.6 872.7L160.2 873.9L162.3 875.3ZM176.3 856.7L174.9 858.9L177.3 859.1ZM168.8 872.8L166.4 873.9L168.4 875.4ZM183.1 858.1L181.3 860L183.7 860.6ZM173.8 873.9L171.6 875.3L173.8 876.5ZM83 907.4L82.9 904.8L80.8 906.1ZM92.2 917.7L91.4 915.3L89.7 917.1ZM90.6 909.7L90.6 907.1L88.4 908.3ZM100.6 922.3L99.9 919.8L98.1 921.5ZM95.6 910.1L95.7 907.5L93.4 908.6ZM106.5 925.4L105.9 922.8L104 924.5ZM103.3 913L103.5 910.4L101.2 911.4ZM115 932.1L114.6 929.5L112.6 931ZM108.6 912L108.9 909.4L106.6 910.3ZM118.2 929.3L117.9 926.7L115.9 928.1ZM114.6 912.1L115.1 909.5L112.7 910.3ZM123.1 929.8L123 927.2L120.8 928.5ZM120.3 908.3L120.9 905.8L118.5 906.4ZM126.4 923.9L126.5 921.3L124.3 922.4ZM126.7 905.8L127.5 903.3L125 903.8ZM130.5 917.9L130.9 915.3L128.5 916.2ZM131.3 908.9L132.1 906.4L129.7 906.9ZM135.2 923.3L135.7 920.7L133.3 921.5ZM136.7 907.6L137.7 905.1L135.2 905.5ZM139.4 920.3L140.1 917.8L137.6 918.4ZM144.2 911.5L145.3 909.1L142.8 909.3ZM145.8 926.8L146.8 924.4L144.3 924.7ZM149.7 909L150.9 906.6L148.4 906.7ZM150.2 920.2L151.3 917.9L148.8 918ZM156.6 908.2L157.9 905.9L155.4 905.8ZM155.9 919.9L157.3 917.7L154.8 917.5ZM162.8 913.8L164.3 911.6L161.8 911.4ZM160.4 930.2L162.1 928.1L159.6 927.7ZM168.7 913.7L170.2 911.7L167.8 911.3ZM165.2 929.1L167 927.2L164.6 926.5ZM172.5 916.5L174.1 914.5L171.7 914ZM167.7 934.6L169.6 932.8L167.2 932Z" fill="#111"/>
<path d="M104.4 896.7 C124 899 140 911 145.5 935" stroke="#e8221e" stroke-width="1.3" fill="none"/>
<path d="M146.4 940.5 L142.2 932.8 L149 932 Z" fill="#e8221e"/>
<text x="11.4" y="903.6" font-size="11" fill="#0a0a0a" stroke="#0a0a0a" stroke-width="0.22">ACC</text>
<text x="215.8" y="895.8" font-size="11.2" fill="#1a1a1a" stroke="#1a1a1a" stroke-width="0.22">cellsubtype</text>
<circle cx="223.2" cy="905.2" r="2.6" fill="#3a7db5"/>
<text x="231.2" y="908.4" font-size="8.9" fill="#1a1a1a" stroke="#1a1a1a" stroke-width="0.22">BIRC5+ cells</text>
<circle cx="223.2" cy="916.6" r="2.6" fill="#48a83a"/>
<text x="231.2" y="919.8" font-size="8.9" fill="#1a1a1a" stroke="#1a1a1a" stroke-width="0.22">Serous glandular cells</text>
<circle cx="223.2" cy="928.2" r="2.6" fill="#ec812c"/>
<text x="231.2" y="931.4" font-size="8.9" fill="#1a1a1a" stroke="#1a1a1a" stroke-width="0.22">SMG duct cells</text>
<path d="M38.7 925 V961 H75.5" stroke="#1a1a1a" stroke-width="1" fill="none"/>
<path d="M38.7 920.9 l-2.2 5h4.4z" fill="#1a1a1a"/>
<path d="M79.6 961 l-5 -2.2v4.4z" fill="#1a1a1a"/>
<text x="39.1" y="973.4" font-size="8.8" fill="#0a0a0a" font-weight="bold">UMAP_1</text>
<text x="0" y="0" transform="translate(32.9 944.6) rotate(-90)" font-size="8.8" fill="#0a0a0a" text-anchor="middle" font-weight="bold">UMPA_2</text>
<path d="M387.2 719.7 V813.9 H578.8" stroke="#555" stroke-width="1.2" fill="none"/>
<path d="M386.6 731.8 h-1.6" stroke="#555" stroke-width="0.9"/>
<text x="385.3" y="735.2" font-size="9.6" fill="#4d4d4d" text-anchor="end">30</text>
<path d="M386.6 752.7 h-1.6" stroke="#555" stroke-width="0.9"/>
<text x="385.3" y="756.1" font-size="9.6" fill="#4d4d4d" text-anchor="end">10</text>
<path d="M386.6 775.8 h-1.6" stroke="#555" stroke-width="0.9"/>
<text x="385.3" y="779.2" font-size="9.6" fill="#4d4d4d" text-anchor="end">3</text>
<path d="M386.6 796.5 h-1.6" stroke="#555" stroke-width="0.9"/>
<text x="385.3" y="799.9" font-size="9.6" fill="#4d4d4d" text-anchor="end">1</text>
<path d="M395.6 814.5 v1.6" stroke="#555" stroke-width="0.9"/>
<text x="395.6" y="824.5" font-size="9.6" fill="#4d4d4d" text-anchor="middle">0</text>
<path d="M453.3 814.5 v1.6" stroke="#555" stroke-width="0.9"/>
<text x="453.3" y="824.5" font-size="9.6" fill="#4d4d4d" text-anchor="middle">10</text>
<path d="M510.5 814.5 v1.6" stroke="#555" stroke-width="0.9"/>
<text x="510.5" y="824.5" font-size="9.6" fill="#4d4d4d" text-anchor="middle">20</text>
<path d="M567.4 814.5 v1.6" stroke="#555" stroke-width="0.9"/>
<text x="567.4" y="824.5" font-size="9.6" fill="#4d4d4d" text-anchor="middle">30</text>
<text x="469.3" y="722.9" font-size="9" fill="#1a1a1a" stroke="#1a1a1a" stroke-width="0.22">BIRC5</text>
<text x="0" y="0" transform="translate(369 769) rotate(-90)" font-size="11" fill="#1a1a1a" text-anchor="middle" stroke="#1a1a1a" stroke-width="0.22">Expression</text>
<text x="496.5" y="836.3" font-size="10.8" fill="#1a1a1a" text-anchor="middle" stroke="#1a1a1a" stroke-width="0.22">pseudotime</text>
<path d="M405.5 717h0m1 12h0m1.5 5.5h0m0.5 0h0m0-5.5h0m1 5.5h0m0-5.5h0m7.5 5.5h0m1.5 0h0m0.5-5.5h0m1 0h0m1 5.5h0m0-5.5h0m2.5 5.5h0m0-5.5h0m-14 10.5h0m3.5 0h0m0-2.5h0m3.5 2.5h0m0.5 0h0m-30 3.5h0m0.5 1.5h0m1-1.5h0m0.5 1.5h0m1 2h0m0.5-3.5h0m1.5 3.5h0m11 0h0m0.5-3.5h0m0 1.5h0m1 2h0m0.5 0h0m0-2h0m0-1.5h0m1 3.5h0m0-2h0m0.5 2h0m1 0h0m0.5-2h0m0-1.5h0m0.5 0h0m0.5 3.5h0m0-2h0m0.5 2h0m0.5-3.5h0m0.5 3.5h0m0-2h0m0.5 2h0m0-2h0m0-1.5h0m1.5 3.5h0m0 0h0m0-2h0m0-1.5h0m3 3.5h0m0-2h0m0-1.5h0m1 1.5h0m0 0h0m0.5 2h0m0-3.5h0m1 3.5h0m0-3.5h0m0.5 3.5h0m0-2h0m0.5 2h0m0-3.5h0m0.5 1.5h0m0.5 2h0m0-3.5h0m0 1.5h0m0.5-1.5h0m0.5 3.5h0m0.5-3.5h0m0.5 1.5h0m0-1.5h0m0.5 1.5h0m0.5 2h0m0 0h0m0.5-2h0m0-1.5h0m0.5 1.5h0m0.5 2h0m0.5-3.5h0m0 1.5h0m4.5 0h0m0.5 2h0m1.5 0h0m0.5-3.5h0m-45 8h0m0.5-2.5h0m1 2.5h0m0-2.5h0m1.5 0h0m1.5 0h0m0.5 2.5h0m10.5-2.5h0m0.5 2.5h0m2.5-2.5h0m0.5 2.5h0m0-2.5h0m1.5 2.5h0m1 0h0m0-2.5h0m3.5 0h0m0.5 2.5h0m0-2.5h0m3.5 0h0m0.5 0h0m1.5 0h0m0 0h0m0.5 2.5h0m0.5 0h0m0.5-2.5h0m0 2.5h0m0.5-2.5h0m0 0h0m2 0h0m0.5 2.5h0m1.5-2.5h0m1 2.5h0m0.5 0h0m4.5-2.5h0m1.5 2.5h0m-44 8h0m0-3h0m0-2.5h0m1 5.5h0m0-5.5h0m0.5 2.5h0m1 3h0m0.5-3h0m1 3h0m0-3h0m0.5-2.5h0m11.5 5.5h0m0-3h0m0-2.5h0m0.5 2.5h0m0.5 3h0m0-3h0m0.5 3h0m0-3h0m0.5 3h0m0-5.5h0m0.5 5.5h0m0.5-3h0m0 3h0m0.5-5.5h0m0 2.5h0m0.5-2.5h0m0 0h0m0.5 5.5h0m0.5 0h0m0.5-3h0m0-2.5h0m0.5 5.5h0m0-3h0m0.5-2.5h0m0 5.5h0m0-5.5h0m0.5 2.5h0m0.5 3h0m0-3h0m0.5-2.5h0m0 5.5h0m0.5-3h0m0-2.5h0m0.5 5.5h0m0-5.5h0m0.5 2.5h0m2 3h0m0-3h0m0.5-2.5h0m1 2.5h0m0 0h0m0.5 3h0m0-5.5h0m0 0h0m0.5 5.5h0m0 0h0m0-3h0m0.5-2.5h0m0.5 2.5h0m0-2.5h0m0.5 5.5h0m0 0h0m0-3h0m0-2.5h0m0.5 0h0m0.5 5.5h0m0-3h0m0.5 3h0m0-3h0m0.5-2.5h0m0 2.5h0m0.5 3h0m0-5.5h0m0.5 5.5h0m0-3h0m0-2.5h0m0.5 2.5h0m0-2.5h0m0.5 5.5h0m0-3h0m0.5 3h0m0-5.5h0m0.5 5.5h0m0-3h0m0 0h0m0.5-2.5h0m0 0h0m0.5 5.5h0m0 0h0m0.5-3h0m0-2.5h0m4.5 0h0m0.5 5.5h0m0-3h0m1-2.5h0m0.5 5.5h0m0-3h0m-44.5 6.5h0m1.5 0h0m1.5 0h0m1 0h0m11 0h0m1 0h0m1 0h0m1 0h0m1 0h0m0.5 0h0m1 0h0m0.5 0h0m1 0h0m1 0h0m0.5 0h0m0.5 0h0m1.5 0h0m2 0h0m1.5 0h0m0.5 0h0m0.5 0h0m1.5 0h0m0.5 0h0m0.5 0h0m0.5 0h0m0.5 0h0m1.5 0h0m2 0h0m0.5 0h0m4.5 0h0m2.5 0h0m-44.5 4h0m0.5 4.5h0m1-4.5h0m0.5 4.5h0m0.5 0h0m0-4.5h0m1.5 4.5h0m11.5 0h0m0.5-4.5h0m0 0h0m0.5 4.5h0m1 0h0m0-4.5h0m0.5 4.5h0m0-4.5h0m0.5 4.5h0m0.5-4.5h0m0.5 4.5h0m0-4.5h0m0.5 4.5h0m0.5-4.5h0m1 4.5h0m0-4.5h0m0.5 0h0m0.5 4.5h0m0-4.5h0m0.5 4.5h0m0.5 0h0m0.5-4.5h0m1 4.5h0m0-4.5h0m0 4.5h0m0-4.5h0m3.5 4.5h0m0-4.5h0m0.5 4.5h0m0-4.5h0m0.5 4.5h0m0-4.5h0m0.5 4.5h0m0-4.5h0m0.5 0h0m0.5 4.5h0m1 0h0m0-4.5h0m0 4.5h0m0-4.5h0m1 0h0m0.5 4.5h0m0.5-4.5h0m0.5 4.5h0m0.5-4.5h0m0 4.5h0m0-4.5h0m1 4.5h0m0.5-4.5h0m0.5 0h0m0.5 4.5h0m0.5-4.5h0m0.5 4.5h0m4 0h0m0-4.5h0m1.5 4.5h0m0.5-4.5h0m57 4.5h0m2.5 0h0m2-4.5h0m2.5 0h0m2.5 4.5h0m2 0h0m0-4.5h0m1.5 4.5h0m-115 6h0m1.5 0h0m1.5 0h0m1.5 0h0m11.5 0h0m1.5 0h0m1 0h0m0.5 0h0m1 0h0m1.5 0h0m0.5 0h0m1 0h0m0 0h0m1 0h0m1.5 0h0m0.5 0h0m3 0h0m0.5 0h0m0.5 0h0m0.5 0h0m1 0h0m0 0h0m1.5 0h0m0.5 0h0m1 0h0m0.5 0h0m0.5 0h0m0.5 0h0m1 0h0m0.5 0h0m0.5 0h0m5 0h0m2 0h0m52.5 0h0m4.5 0h0m2.5 0h0m2 0h0m2.5 0h0m4.5 0h0m-113 7h0m2.5 0h0m2 0h0m11 0h0m0.5 0h0m1 0h0m1 0h0m0.5 0h0m1 0h0m1 0h0m0.5 0h0m0.5 0h0m1.5 0h0m1 0h0m0.5 0h0m0.5 0h0m3 0h0m1 0h0m0.5 0h0m0.5 0h0m1 0h0m1.5 0h0m0.5 0h0m0.5 0h0m1 0h0m0 0h0m1 0h0m0.5 0h0m2 0h0m4 0h0m2.5 0h0m-45 14.5h0m1.5 0h0m1.5 0h0m1.5 0h0m11.5 0h0m1 0h0m0.5 0h0m0.5 0h0m1.5 0h0m0.5 0h0m1 0h0m0.5 0h0m1.5 0h0m1 0h0m0.5 0h0m1 0h0m0.5 0h0m2.5 0h0m1 0h0m0.5 0h0m0.5 0h0m1 0h0m0.5 0h0m0.5 0h0m1 0h0m2 0h0m0.5 0h0m0 0h0m1.5 0h0m0 0h0m1 0h0m4 0h0m1.5 0h0m55.5 0h0m2.5 0h0m4.5 0h0m2.5 0h0m2.5 0h0m2 0h0m-113 14h0m2 0h0m1 0h0m0.5 0h0m12.5 0h0m0.5 0h0m1 0h0m0 0h0m1 0h0m1 0h0m1 0h0m1 0h0m0 0h0m1 0h0m1 0h0m1.5 0h0m3.5 0h0m0 0h0m0.5 0h0m1.5 0h0m0 0h0m1.5 0h0m0.5 0h0m0.5 0h0m1 0h0m0 0h0m1.5 0h0m0.5 0h0m0 0h0m1 0h0m1 0h0m4.5 0h0m1.5 0h0m53 0h0m2 0h0m2.5 0h0m2.5 0h0m2 0h0m2.5 0h0m4.5 0h0" stroke="#5b8ad6" stroke-width="1.9" stroke-linecap="round" fill="none"/>
<path d="M565 739.5h0m-1 7h0m-127 9.5h0m10 3h0m74.5-3h0m7 3h0m-86 3.5h0m73.5 0h0m-80.5 8.5h0m1.5 0h0m2 0h0m2.5 0h0m8 0h0m6.5-4.5h0m1.5 4.5h0m44.5 0h0m8 0h0m35.5 0h0m1.5 0h0m9 0h0m-119 6h0m1 0h0m4.5 0h0m1 0h0m3.5 0h0m2.5 0h0m1 0h0m1.5 0h0m1 0h0m3.5 0h0m1 0h0m4.5 0h0m1 0h0m1.5 0h0m18 0h0m15 0h0m1 0h0m7 0h0m19.5 0h0m12.5 0h0m1.5 0h0m1 0h0m9 0h0m18.5 0h0m-132 7h0m5 0h0m2 0h0m1 0h0m2.5 0h0m1 0h0m1.5 0h0m2 0h0m2.5 0h0m1 0h0m1 0h0m1.5 0h0m1 0h0m1 0h0m1.5 0h0m1 0h0m2 0h0m1.5 0h0m3.5 0h0m1 0h0m3.5 0h0m3.5 0h0m9 0h0m5.5 0h0m5 0h0m21.5 0h0m14 0h0m1 0h0m7 0h0m14.5 0h0m2.5 0h0m2.5 0h0m12.5 0h0m3.5 0h0m-139 14.5h0m1.5 0h0m1 0h0m2.5 0h0m1 0h0m4.5 0h0m1 0h0m1.5 0h0m1 0h0m1 0h0m2.5 0h0m1 0h0m1 0h0m1.5 0h0m1 0h0m1 0h0m1.5 0h0m2 0h0m1 0h0m1.5 0h0m1 0h0m1 0h0m1.5 0h0m1 0h0m1 0h0m1 0h0m1.5 0h0m1 0h0m1 0h0m1.5 0h0m1 0h0m1 0h0m1.5 0h0m1 0h0m3.5 0h0m2 0h0m1.5 0h0m1 0h0m1 0h0m1 0h0m1.5 0h0m1 0h0m1 0h0m1.5 0h0m1 0h0m1 0h0m1 0h0m1.5 0h0m1 0h0m1 0h0m1.5 0h0m1 0h0m1 0h0m1.5 0h0m1 0h0m1 0h0m1 0h0m1.5 0h0m1 0h0m1 0h0m1.5 0h0m1 0h0m1 0h0m1 0h0m1.5 0h0m1 0h0m1 0h0m1.5 0h0m1 0h0m1 0h0m1 0h0m1.5 0h0m1 0h0m1 0h0m1.5 0h0m1 0h0m1 0h0m1.5 0h0m1 0h0m1 0h0m1 0h0m1.5 0h0m1 0h0m1 0h0m1.5 0h0m1 0h0m2 0h0m1.5 0h0m1 0h0m1 0h0m1.5 0h0m1 0h0m1 0h0m1 0h0m2.5 0h0m6 0h0m1 0h0m1 0h0m1 0h0m5 0h0m2 0h0m-136.5 14h0m1.5 0h0m1 0h0m1 0h0m1.5 0h0m1 0h0m1 0h0m1 0h0m1.5 0h0m1 0h0m1 0h0m1.5 0h0m1 0h0m1 0h0m1.5 0h0m1 0h0m1 0h0m1 0h0m1.5 0h0m1 0h0m1 0h0m1.5 0h0m1 0h0m1 0h0m1 0h0m1.5 0h0m1 0h0m1 0h0m1.5 0h0m1 0h0m1 0h0m1 0h0m1.5 0h0m1 0h0m1 0h0m1.5 0h0m1 0h0m1 0h0m1.5 0h0m1 0h0m1 0h0m1 0h0m1.5 0h0m1 0h0m1 0h0m1.5 0h0m1 0h0m1 0h0m1 0h0m1.5 0h0m1 0h0m1 0h0m1.5 0h0m1 0h0m1 0h0m1 0h0m1.5 0h0m1 0h0m1 0h0m1.5 0h0m1 0h0m1 0h0m1.5 0h0m1 0h0m1 0h0m1 0h0m1.5 0h0m1 0h0m1 0h0m1.5 0h0m1 0h0m1 0h0m1 0h0m1.5 0h0m1 0h0m1 0h0m1.5 0h0m1 0h0m1 0h0m1 0h0m1.5 0h0m1 0h0m1 0h0m1.5 0h0m1 0h0m1 0h0m1.5 0h0m1 0h0m1 0h0m1 0h0m1.5 0h0m1 0h0m1 0h0m1.5 0h0m1 0h0m1 0h0m1 0h0m1.5 0h0m1 0h0m1 0h0m1.5 0h0m1 0h0m1 0h0m1 0h0m1.5 0h0m1 0h0m1 0h0m1.5 0h0m1 0h0m1 0h0m1.5 0h0m1 0h0m1 0h0m1 0h0m1.5 0h0m1 0h0m1 0h0m1.5 0h0m1 0h0m1 0h0m1 0h0m1.5 0h0m1 0h0" stroke="#e0605e" stroke-width="1.9" stroke-linecap="round" fill="none"/>
<path d="M508 771h0m45.5 0h0m-0.5 27.5h0m4 0h0" stroke="#3ca83c" stroke-width="1.9" stroke-linecap="round" fill="none"/>
<path d="M387.8 753.6 C400 759 410 764 425 772 C440 780 455 790 468 802 L477.6 812.3 L578 812.3" stroke="#1a1a1a" stroke-width="0.9" fill="none"/>
<text x="578.8" y="759.9" font-size="11.2" fill="#1a1a1a" stroke="#1a1a1a" stroke-width="0.22">cellsubtype</text>
<circle cx="588.6" cy="768.8" r="2.6" fill="#3d7fb9"/>
<text x="596.1" y="772" font-size="8.9" fill="#1a1a1a" stroke="#1a1a1a" stroke-width="0.22">BIRC5+ cells</text>
<circle cx="588.6" cy="780.2" r="2.6" fill="#3ca83c"/>
<text x="596.1" y="783.4" font-size="8.9" fill="#1a1a1a" stroke="#1a1a1a" stroke-width="0.22">Cyclin cells</text>
<circle cx="588.6" cy="792.8" r="2.6" fill="#e08080"/>
<text x="596.1" y="796" font-size="8.9" fill="#1a1a1a" stroke="#1a1a1a" stroke-width="0.22">Basal tumor cells</text>
<path d="M385.7 860.8 V954 H578.8" stroke="#555" stroke-width="1.2" fill="none"/>
<path d="M385.1 881 h-1.6" stroke="#555" stroke-width="0.9"/>
<text x="383.8" y="884.4" font-size="9.6" fill="#4d4d4d" text-anchor="end">10</text>
<path d="M385.1 908.5 h-1.6" stroke="#555" stroke-width="0.9"/>
<text x="383.8" y="911.9" font-size="9.6" fill="#4d4d4d" text-anchor="end">3</text>
<path d="M385.1 934.2 h-1.6" stroke="#555" stroke-width="0.9"/>
<text x="383.8" y="937.6" font-size="9.6" fill="#4d4d4d" text-anchor="end">1</text>
<path d="M394.4 954.6 v1.6" stroke="#555" stroke-width="0.9"/>
<text x="394.4" y="966.1" font-size="9.6" fill="#4d4d4d" text-anchor="middle">0</text>
<path d="M449.6 954.6 v1.6" stroke="#555" stroke-width="0.9"/>
<text x="449.6" y="966.1" font-size="9.6" fill="#4d4d4d" text-anchor="middle">5</text>
<path d="M506.3 954.6 v1.6" stroke="#555" stroke-width="0.9"/>
<text x="506.3" y="966.1" font-size="9.6" fill="#4d4d4d" text-anchor="middle">10</text>
<path d="M560.2 954.6 v1.6" stroke="#555" stroke-width="0.9"/>
<text x="560.2" y="966.1" font-size="9.6" fill="#4d4d4d" text-anchor="middle">15</text>
<text x="475.9" y="862.5" font-size="9" fill="#1a1a1a" stroke="#1a1a1a" stroke-width="0.22">BIRC5</text>
<text x="0" y="0" transform="translate(369 907) rotate(-90)" font-size="11" fill="#1a1a1a" text-anchor="middle" stroke="#1a1a1a" stroke-width="0.22">Expression</text>
<text x="496.5" y="975.2" font-size="10.8" fill="#1a1a1a" text-anchor="middle" stroke="#1a1a1a" stroke-width="0.22">pseudotime</text>
<path d="M394 949.5 H560" stroke="#aaa" stroke-width="1.6"/>
<path d="M469.5 867h0m-34 50.5h0m116 0h0m-118.5 16h0m39 0h0m4 0h0m31 0h0m20 0h0m11 0h0m13.5 0h0m8.5 0h0m7 0h0m-136 16h0m3 0h0m3 0h0m6 0h0m5.5 0h0m1 0h0m1.5 0h0m4 0h0m1.5 0h0m0.5 0h0m4 0h0m1.5 0h0m1 0h0m2 0h0m5.5 0h0m3 0h0m1.5 0h0m1 0h0m1.5 0h0m2.5 0h0m2 0h0m0.5 0h0m0.5 0h0m1 0h0m0.5 0h0m1 0h0m0.5 0h0m1 0h0m0.5 0h0m1 0h0m1 0h0m0.5 0h0m1 0h0m0.5 0h0m1 0h0m0.5 0h0m1 0h0m0.5 0h0m1 0h0m0.5 0h0m1 0h0m1 0h0m0.5 0h0m1 0h0m0.5 0h0m1 0h0m0.5 0h0m1 0h0m0.5 0h0m1 0h0m0.5 0h0m1 0h0m1 0h0m0.5 0h0m1 0h0m0.5 0h0m1 0h0m0.5 0h0m1 0h0m0.5 0h0m1 0h0m0.5 0h0m1 0h0m1 0h0m0.5 0h0m1 0h0m0.5 0h0m1 0h0m0.5 0h0m1 0h0m0.5 0h0m1 0h0m0.5 0h0m1 0h0m1 0h0m0.5 0h0m1 0h0m0.5 0h0m1 0h0m0.5 0h0m1 0h0m0.5 0h0m1 0h0m1 0h0m0.5 0h0m1 0h0m0.5 0h0m1 0h0m0.5 0h0m1 0h0m0.5 0h0m1 0h0m0.5 0h0m1 0h0m1 0h0m0.5 0h0m1 0h0m0.5 0h0m1 0h0m0.5 0h0m1 0h0m0.5 0h0m1 0h0m0.5 0h0m1 0h0m1 0h0m0.5 0h0m1 0h0m0.5 0h0m1 0h0m0.5 0h0m1 0h0m0.5 0h0m1 0h0m0.5 0h0m1 0h0m1 0h0m0.5 0h0m1 0h0m0.5 0h0m1 0h0m0.5 0h0m1 0h0m0.5 0h0m1 0h0m0.5 0h0m1 0h0m1 0h0m0.5 0h0m1 0h0m0.5 0h0m1 0h0m0.5 0h0m1 0h0m0.5 0h0m1 0h0" stroke="#5b8ad6" stroke-width="1.7" stroke-linecap="round" fill="none"/>
<path d="M464 882.5h0m-4.5 6.5h0m9 4h0m-47.5 16h0m10 8.5h0m18.5 0h0m2.5 0h0m6.5 0h0m10 0h0m-48 16h0m2 0h0m15.5 0h0m0.5 0h0m1 0h0m1.5 0h0m0.5 0h0m1 0h0m2.5 0h0m2 0h0m8 0h0m0.5 0h0m1.5 0h0m3.5 0h0m1.5 0h0m1.5 0h0m1.5 0h0m0.5 0h0m2.5 0h0m1 0h0m2 0h0m1 0h0m5.5 0h0m2 0h0m89.5 0h0m-174.5 16h0m1 0h0m1.5 0h0m1 0h0m0.5 0h0m4 0h0m4 0h0m1.5 0h0m0.5 0h0m1 0h0m1.5 0h0m10 0h0m2.5 0h0m1.5 0h0m0.5 0h0m1 0h0m1.5 0h0m1 0h0m1.5 0h0m1 0h0m1 0h0m0.5 0h0m1.5 0h0m1 0h0m1 0h0m1.5 0h0m0.5 0h0m1 0h0m0.5 0h0m1 0h0m0.5 0h0m1 0h0m1.5 0h0m1 0h0m0.5 0h0m1 0h0m0.5 0h0m1 0h0m2 0h0m1.5 0h0m1 0h0m1 0h0m0.5 0h0m1.5 0h0m2.5 0h0m0.5 0h0m1 0h0m1 0h0m1.5 0h0m2 0h0m1 0h0m1.5 0h0m0.5 0h0m1 0h0m1 0h0m0.5 0h0m1 0h0m1.5 0h0m0.5 0h0m1 0h0m1.5 0h0m2.5 0h0m1.5 0h0m0.5 0h0m1.5 0h0m1 0h0" stroke="#3ca83c" stroke-width="1.7" stroke-linecap="round" fill="none"/>
<path d="M396.5 867h0m0-1.5h0m0 5h0m0.5-1.5h0m-0.5 6h0m-1 10.5h0m1 0h0m0 7.5h0m-1 9.5h0m0.5-5h0m5 5h0m-5.5 6.5h0m1 0h0m2.5 0h0m1 0h0m-5.5 8.5h0m0.5 0h0m1 0h0m1.5 0h0m1 0h0m1.5 0h0m0.5 0h0m4 0h0m15.5 0h0m7.5 0h0m2.5 0h0m-35.5 16h0m1.5 0h0m0.5 0h0m1 0h0m1 0h0m0.5 0h0m1 0h0m0.5 0h0m1 0h0m0.5 0h0m1 0h0m0.5 0h0m1.5 0h0m2 0h0m2 0h0m1 0h0m0.5 0h0m13.5 0h0m1 0h0m0.5 0h0m2.5 0h0m1 0h0m-34.5 16h0m0.5 0h0m1 0h0m0.5 0h0m1 0h0m1 0h0m0.5 0h0m1 0h0m0.5 0h0m1 0h0m0.5 0h0m1 0h0m0.5 0h0m1 0h0m0.5 0h0m1 0h0m1 0h0m0.5 0h0m1 0h0m0.5 0h0m1 0h0m0.5 0h0m8 0h0m1 0h0m1 0h0m1.5 0h0m0.5 0h0m1.5 0h0m3 0h0m2.5 0h0" stroke="#e0605e" stroke-width="1.7" stroke-linecap="round" fill="none"/>
<text x="578.8" y="896.2" font-size="11.2" fill="#1a1a1a" stroke="#1a1a1a" stroke-width="0.22">cellsubtype</text>
<circle cx="588.6" cy="905.2" r="2.6" fill="#e08080"/>
<text x="596.1" y="908.4" font-size="8.9" fill="#1a1a1a" stroke="#1a1a1a" stroke-width="0.22">BIRC5+ cells</text>
<circle cx="588.6" cy="917.2" r="2.6" fill="#3ca83c"/>
<text x="596.1" y="920.4" font-size="8.9" fill="#1a1a1a" stroke="#1a1a1a" stroke-width="0.22">Serous glandular cells</text>
<circle cx="588.6" cy="928.9" r="2.6" fill="#3d7fb9"/>
<text x="596.1" y="932.1" font-size="8.9" fill="#1a1a1a" stroke="#1a1a1a" stroke-width="0.22">SMG duct cells</text></svg>
</body></html>
